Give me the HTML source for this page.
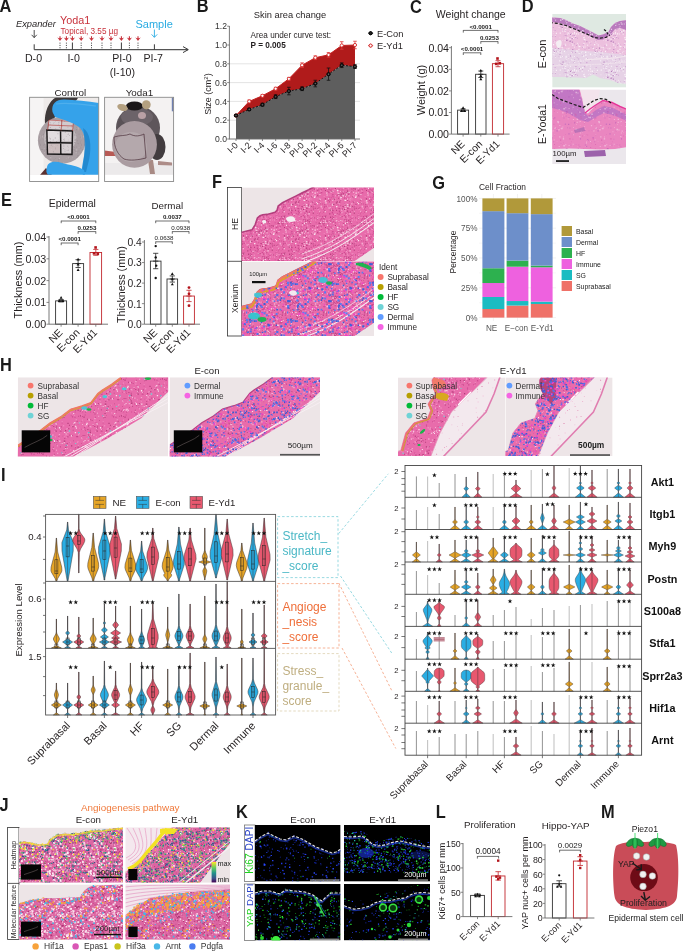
<!DOCTYPE html><html><head><meta charset="utf-8"><title>Figure</title><style>html,body{margin:0;padding:0;background:#fff;width:685px;height:952px;overflow:hidden;}svg{display:block;will-change:transform;font-family:"Liberation Sans", sans-serif;}</style></head><body><svg width="685" height="952" viewBox="0 0 685 952" font-family='"Liberation Sans", sans-serif'><defs><clipPath id="clipA1"><rect x="29.6" y="97.3" width="69.1" height="77.50000000000001"/></clipPath><clipPath id="cA1d"><polygon points="85.4,140.3 84.94,144.9 83.6,149.33 81.41,153.41 78.46,156.99 74.87,159.92 70.77,162.1 66.32,163.45 61.7,163.9 57.08,163.45 52.63,162.1 48.53,159.92 44.94,156.99 41.99,153.41 39.8,149.33 38.46,144.9 38,140.3 38.46,135.7 39.8,131.27 41.99,127.19 44.94,123.61 48.53,120.68 52.63,118.5 57.08,117.15 61.7,116.7 66.32,117.15 70.77,118.5 74.87,120.68 78.46,123.61 81.41,127.19 83.6,131.27 84.94,135.7"/></clipPath><pattern id="p0" patternUnits="userSpaceOnUse" x="0" y="0" width="41" height="37"><path fill="#d8d0d4" d="M16 29.2h0.8v0.8h-0.8zM6.7 29.8h1v1h-1zM31.1 0.1h1v1h-1zM24 0.4h1v1h-1zM18 10.1h1v1h-1zM11.4 15.6h0.6v0.6h-0.6zM23 9.9h1v1h-1zM26.4 32.8h0.6v0.6h-0.6zM39.4 13.7h0.7v0.7h-0.7zM28.3 0.7h0.9v0.9h-0.9zM22.2 14.5h1v1h-1zM11.7 12.1h0.6v0.6h-0.6zM22.8 19.5h0.7v0.7h-0.7zM36.8 18.4h0.9v0.9h-0.9zM8.8 19.2h0.6v0.6h-0.6zM34.8 1.6h1v1h-1zM24.4 5.1h0.6v0.6h-0.6zM24.8 10.4h0.7v0.7h-0.7zM12.8 33.9h1v1h-1zM22.5 21.5h0.5v0.5h-0.5zM8 33.2h1v1h-1zM1.1 24.7h1v1h-1zM30.6 33.1h0.6v0.6h-0.6zM29.6 28.8h0.8v0.8h-0.8zM24 29.9h0.5v0.5h-0.5zM27.7 8.4h0.6v0.6h-0.6zM22.4 16.7h0.9v0.9h-0.9zM8.5 31.8h1v1h-1zM6.5 31.8h0.8v0.8h-0.8zM35.4 0.8h0.9v0.9h-0.9zM31.3 9.5h0.8v0.8h-0.8zM1.3 15.3h0.7v0.7h-0.7zM17.5 26.2h0.9v0.9h-0.9zM33.3 30.1h1v1h-1zM21.8 16.5h1v1h-1zM9.3 9.2h1v1h-1zM22.6 18.8h0.6v0.6h-0.6zM19.6 31.7h0.6v0.6h-0.6zM34.7 23.3h0.6v0.6h-0.6zM37.5 36.5h0.9v0.9h-0.9zM23.5 29.1h0.9v0.9h-0.9zM40.4 24.6h0.8v0.8h-0.8zM36.6 16.3h0.9v0.9h-0.9zM34.7 4.3h1v1h-1zM2.8 -0.2h0.9v0.9h-0.9zM4.8 24.1h0.8v0.8h-0.8zM9.8 1.1h0.9v0.9h-0.9zM16.4 29.1h0.8v0.8h-0.8zM18.1 31.7h0.6v0.6h-0.6zM9.6 32.9h0.9v0.9h-0.9zM39.2 2.7h0.6v0.6h-0.6zM5.5 1.3h0.7v0.7h-0.7zM30.5 14.7h0.5v0.5h-0.5zM15.7 20.1h0.9v0.9h-0.9zM1.2 25.5h1v1h-1zM31.3 36.3h0.8v0.8h-0.8zM13.9 19.5h0.9v0.9h-0.9zM34.8 26.3h0.9v0.9h-0.9zM20 23h0.9v0.9h-0.9zM33.7 31.5h0.6v0.6h-0.6zM23.2 31.6h1v1h-1zM37.2 17.2h0.8v0.8h-0.8zM40.1 26.5h0.7v0.7h-0.7zM5.7 21.1h1v1h-1zM34.5 25.2h0.9v0.9h-0.9zM29.5 20.3h0.8v0.8h-0.8zM8.8 9.5h0.7v0.7h-0.7zM3.1 3.9h0.8v0.8h-0.8zM22.4 21h0.8v0.8h-0.8zM26.9 9.3h0.9v0.9h-0.9zM12.7 27.8h0.7v0.7h-0.7z"/><path fill="#7a6e74" d="M26.3 34.7h0.9v0.9h-0.9zM39.3 8.5h1v1h-1zM8.6 26.9h0.8v0.8h-0.8zM1.2 12.6h0.7v0.7h-0.7zM30.9 24.8h1v1h-1zM31.5 3.8h0.9v0.9h-0.9zM6.3 4.3h0.9v0.9h-0.9zM15.3 30.1h0.8v0.8h-0.8zM27 1.7h0.9v0.9h-0.9zM20.1 31h0.9v0.9h-0.9zM31.9 12.9h0.6v0.6h-0.6zM5 0.9h1v1h-1zM23.3 10.2h0.8v0.8h-0.8zM40.1 33.6h0.9v0.9h-0.9zM33.3 31.1h1v1h-1zM39.7 6.1h0.7v0.7h-0.7zM21.5 19.9h0.9v0.9h-0.9zM3.8 29.6h0.8v0.8h-0.8zM40 11.3h1v1h-1zM14.4 10.5h0.6v0.6h-0.6zM37.1 7.2h0.7v0.7h-0.7zM30 14.5h0.8v0.8h-0.8zM2.4 33.7h0.7v0.7h-0.7zM1.7 9.7h0.8v0.8h-0.8zM26 5h0.6v0.6h-0.6zM10 33.7h0.9v0.9h-0.9zM0.7 14h0.6v0.6h-0.6zM33.3 23.5h0.9v0.9h-0.9zM37.4 32.6h0.7v0.7h-0.7zM36.3 4.7h0.6v0.6h-0.6zM0.5 1h1v1h-1zM34.3 20.9h0.7v0.7h-0.7zM35.2 18.2h1v1h-1zM2.5 24.8h0.7v0.7h-0.7zM13.8 26.4h1v1h-1zM17.9 15.7h1v1h-1zM8.5 26.5h0.6v0.6h-0.6zM29.9 16h0.6v0.6h-0.6zM38.9 25.8h0.8v0.8h-0.8zM26.5 15.8h0.8v0.8h-0.8zM36.1 7.5h0.9v0.9h-0.9zM33.7 28.2h1v1h-1zM39.4 35.7h0.9v0.9h-0.9zM7.7 19.4h0.7v0.7h-0.7zM37.4 2.5h0.9v0.9h-0.9zM24.4 20.5h0.6v0.6h-0.6zM23.7 30.8h0.5v0.5h-0.5zM28.1 24.3h0.8v0.8h-0.8zM4 9.2h0.9v0.9h-0.9zM38.9 18.4h0.9v0.9h-0.9zM33.3 13.7h0.5v0.5h-0.5zM1.9 22.8h0.9v0.9h-0.9zM27.3 28.7h0.6v0.6h-0.6zM8.9 29.9h1v1h-1zM1.2 13.3h0.6v0.6h-0.6zM4.7 29.6h0.9v0.9h-0.9zM28.2 10.6h0.5v0.5h-0.5zM17.3 11.3h1v1h-1zM32.6 0.9h0.9v0.9h-0.9zM22.1 -0h0.8v0.8h-0.8zM37.6 22.7h0.8v0.8h-0.8zM27.9 31h0.8v0.8h-0.8zM39.3 30.6h0.6v0.6h-0.6zM29.7 27h0.6v0.6h-0.6zM13.6 6h0.7v0.7h-0.7zM5.8 25.2h1v1h-1zM29.6 19.3h0.9v0.9h-0.9zM32.4 35.3h0.6v0.6h-0.6zM3.9 26.7h0.9v0.9h-0.9zM35.7 9h0.8v0.8h-0.8zM14.2 0.5h0.8v0.8h-0.8zM6.4 5.9h0.7v0.7h-0.7zM23.8 20.9h0.9v0.9h-0.9zM6 33h0.8v0.8h-0.8zM17.1 28.7h0.6v0.6h-0.6zM33.5 2.3h0.8v0.8h-0.8zM39.4 14.5h0.9v0.9h-0.9zM22.4 34.6h0.9v0.9h-0.9zM28.7 19h0.8v0.8h-0.8z"/><path fill="#8a7f84" d="M32.9 36.3h0.9v0.9h-0.9zM34.2 11h0.9v0.9h-0.9zM11.3 35.4h0.6v0.6h-0.6zM11.7 28.6h1v1h-1zM20.6 14.8h1v1h-1zM31.7 10h0.6v0.6h-0.6zM1.1 8.3h0.7v0.7h-0.7zM39.6 32.1h0.7v0.7h-0.7zM30.3 29.1h0.6v0.6h-0.6zM38.8 31.6h0.7v0.7h-0.7zM3.8 1.4h0.8v0.8h-0.8zM6.4 17.4h0.6v0.6h-0.6zM35.8 29.3h1v1h-1zM12.1 11.7h0.8v0.8h-0.8zM23.5 1.4h0.9v0.9h-0.9zM11.9 3.2h1v1h-1zM4.8 25.9h0.7v0.7h-0.7zM27.4 36.5h0.5v0.5h-0.5zM23.3 27.5h0.6v0.6h-0.6zM26.5 23.3h0.7v0.7h-0.7zM8.8 10.9h0.8v0.8h-0.8zM23.6 2.9h0.8v0.8h-0.8zM36.4 31.7h1v1h-1zM36.2 3.1h0.6v0.6h-0.6zM24.9 25.1h0.6v0.6h-0.6zM16.4 22.2h1v1h-1zM5.4 29.5h0.8v0.8h-0.8zM1.4 19.1h0.7v0.7h-0.7zM5.8 31.3h0.8v0.8h-0.8zM8.9 15.9h1v1h-1zM22.1 27.9h0.9v0.9h-0.9zM10.4 18.8h0.8v0.8h-0.8zM37.7 10.6h0.8v0.8h-0.8zM35.1 9.2h1v1h-1zM34.8 35.6h1v1h-1zM5 29.2h0.6v0.6h-0.6zM29.8 5.5h0.7v0.7h-0.7zM8.8 34.5h0.6v0.6h-0.6zM33.6 29.2h0.8v0.8h-0.8zM39.4 -0.2h0.9v0.9h-0.9zM7.5 5h0.9v0.9h-0.9zM9.3 8.1h0.6v0.6h-0.6zM13.4 11.5h0.6v0.6h-0.6zM22.1 6.1h0.9v0.9h-0.9zM3.1 2.5h0.8v0.8h-0.8zM27.1 22.6h0.8v0.8h-0.8zM35.3 16h0.8v0.8h-0.8zM14.4 17h0.7v0.7h-0.7zM20.3 29.1h0.7v0.7h-0.7zM17.4 13h0.7v0.7h-0.7zM22.9 28.6h1v1h-1zM31.1 24.5h0.8v0.8h-0.8zM1.9 28.4h0.9v0.9h-0.9zM38.3 13.9h0.5v0.5h-0.5zM8.6 35.9h0.5v0.5h-0.5zM39.6 28.8h0.8v0.8h-0.8zM19.8 1.2h0.6v0.6h-0.6zM34.4 13.2h1v1h-1zM-0 24.2h0.5v0.5h-0.5zM34 3.2h0.7v0.7h-0.7zM21.4 7.4h0.9v0.9h-0.9zM3.4 33h1v1h-1zM14.4 36.5h0.6v0.6h-0.6zM1.1 8.1h0.9v0.9h-0.9zM9 27.4h1v1h-1zM21.9 33h0.5v0.5h-0.5zM8.8 12.7h0.9v0.9h-0.9zM6.4 34.5h0.8v0.8h-0.8zM16 34.2h0.5v0.5h-0.5zM5 18.9h0.6v0.6h-0.6zM25.7 2.3h0.8v0.8h-0.8z"/></pattern><clipPath id="clipA2"><rect x="104.6" y="97.3" width="69.0" height="77.50000000000001"/></clipPath><clipPath id="cD1"><rect x="552.2" y="14" width="73.8" height="73.6"/></clipPath><clipPath id="cD1t"><polygon points="552,17.5 560,18 566,20 573,23.4 580,26 588,30 594,33 598.4,35.5 603,34.5 608.5,32 611,27 615,23 620,21 627,20 627,84 618,83 610,80 600,78 593,74.5 586,78 575,77.5 562,77 552,77"/></clipPath><pattern id="p1" patternUnits="userSpaceOnUse" x="0" y="0" width="41" height="37"><path fill="#c890cc" d="M5 30.8h1.1v1.1h-1.1zM37.3 3.2h1v1h-1zM16.5 5.9h0.9v0.9h-0.9zM7.8 18.2h0.9v0.9h-0.9zM3.2 0.4h0.5v0.5h-0.5zM9.7 3.6h1v1h-1zM26.6 23.6h0.7v0.7h-0.7zM20 3.9h0.7v0.7h-0.7zM32.5 24h0.8v0.8h-0.8zM0.3 22.3h0.8v0.8h-0.8zM10.5 11.9h0.9v0.9h-0.9zM2.7 19.9h0.9v0.9h-0.9zM18.2 9.7h1.1v1.1h-1.1zM10.1 17.4h0.5v0.5h-0.5zM1 -0.3h1.3v1.3h-1.3zM5.6 33.5h0.5v0.5h-0.5zM37.8 23.3h0.6v0.6h-0.6zM13.3 22.1h1.1v1.1h-1.1zM12.2 25h1.2v1.2h-1.2zM38.1 33h0.8v0.8h-0.8zM0.9 35.7h0.6v0.6h-0.6zM8 10.1h0.9v0.9h-0.9zM16.1 26.9h1.3v1.3h-1.3zM19.7 27.1h1v1h-1zM35.5 19.9h0.6v0.6h-0.6zM12.2 19.2h0.6v0.6h-0.6zM31.5 32.7h0.8v0.8h-0.8zM30.3 8.4h1.1v1.1h-1.1zM32.9 35.2h1v1h-1zM30.5 35.7h0.6v0.6h-0.6zM18.7 21.1h0.6v0.6h-0.6zM1.3 28.9h1.2v1.2h-1.2zM2.3 30.9h0.5v0.5h-0.5zM26.7 13.9h1v1h-1zM0.8 19.1h0.5v0.5h-0.5zM3.1 0.9h0.8v0.8h-0.8zM12.5 10.7h0.7v0.7h-0.7zM5.7 33.5h0.7v0.7h-0.7zM28.4 27.2h0.8v0.8h-0.8zM29.1 29.5h1.3v1.3h-1.3zM21.7 30h0.9v0.9h-0.9zM16.4 23h0.7v0.7h-0.7zM33.1 13.3h0.5v0.5h-0.5zM38.3 14.6h1.3v1.3h-1.3zM3.7 27.5h1.1v1.1h-1.1zM5.8 15h0.7v0.7h-0.7zM28.2 19.5h0.5v0.5h-0.5zM8.8 6.9h0.9v0.9h-0.9z"/><path fill="#ffffff" d="M4.4 27.7h0.9v0.9h-0.9zM32.1 3.2h0.5v0.5h-0.5zM17.5 28h0.4v0.4h-0.4zM36.7 0.9h0.5v0.5h-0.5zM-0.1 32.1h1v1h-1zM29.2 19h1.1v1.1h-1.1zM22.2 12.3h1v1h-1zM38.6 33.9h0.8v0.8h-0.8zM4.4 11.8h1.1v1.1h-1.1zM11.8 21.1h1.2v1.2h-1.2zM15.7 31.1h0.9v0.9h-0.9zM18.7 10.8h1.2v1.2h-1.2zM24 14.3h0.6v0.6h-0.6zM9 0.1h0.6v0.6h-0.6zM8.9 18.4h1.3v1.3h-1.3zM14 33.2h1v1h-1zM38.7 -0.4h1.1v1.1h-1.1zM32.7 18.7h0.9v0.9h-0.9zM38.6 17.4h0.8v0.8h-0.8zM16.5 -0.4h0.9v0.9h-0.9zM22.3 6.4h0.5v0.5h-0.5zM17 6.7h0.5v0.5h-0.5zM39.5 22.8h1v1h-1zM8.8 23.6h0.8v0.8h-0.8zM23.6 7.4h1.2v1.2h-1.2zM6.4 31.5h1.3v1.3h-1.3zM23 32.7h1v1h-1zM3.9 24.3h0.7v0.7h-0.7zM0.4 7.1h0.7v0.7h-0.7zM34 34.1h0.7v0.7h-0.7zM14.7 12.2h0.7v0.7h-0.7zM31.5 26h0.9v0.9h-0.9zM13.4 22.2h1.1v1.1h-1.1zM33.6 28.9h0.6v0.6h-0.6zM6.1 30.9h0.8v0.8h-0.8zM32.5 19.5h1.2v1.2h-1.2zM29.4 11.5h0.8v0.8h-0.8zM1.9 33.2h1.3v1.3h-1.3zM4.1 7.5h1v1h-1zM26.1 23.2h1.3v1.3h-1.3zM39.3 1.2h0.6v0.6h-0.6zM36.3 10.8h0.7v0.7h-0.7zM0.6 8.8h0.5v0.5h-0.5zM3.8 28.4h0.7v0.7h-0.7zM33.4 11.6h0.5v0.5h-0.5zM33.1 22.6h1v1h-1zM9.7 1.7h1.3v1.3h-1.3zM21.9 19.4h1.2v1.2h-1.2zM0.2 30.6h0.6v0.6h-0.6zM0.6 23.5h0.8v0.8h-0.8zM0.3 25.1h0.9v0.9h-0.9zM4.5 9h1.2v1.2h-1.2zM22.9 6.1h0.5v0.5h-0.5zM-0.1 19.1h0.9v0.9h-0.9zM20 17.4h0.6v0.6h-0.6zM39.2 7.5h1.2v1.2h-1.2zM34.5 32.5h1.3v1.3h-1.3zM15.1 5.4h0.8v0.8h-0.8zM29.1 28.5h0.9v0.9h-0.9zM17.6 33.6h1.3v1.3h-1.3zM26.7 9.9h0.8v0.8h-0.8zM12.2 27.4h1.2v1.2h-1.2zM31.8 29.3h1.3v1.3h-1.3zM2.5 13.3h1.1v1.1h-1.1zM4.7 26.2h0.7v0.7h-0.7zM15.9 28.5h1v1h-1zM4.3 33.6h0.8v0.8h-0.8zM-0.3 9.8h1v1h-1zM7.7 33.7h1v1h-1zM14.3 -0.3h0.8v0.8h-0.8zM25.3 14.6h1v1h-1zM31.5 30.8h1.1v1.1h-1.1zM-0.2 33.2h1.1v1.1h-1.1zM19.6 17h0.5v0.5h-0.5zM27.8 14.4h1v1h-1zM10.4 2.2h1.2v1.2h-1.2zM6.4 23.6h1.1v1.1h-1.1zM10.7 22.2h0.6v0.6h-0.6zM16.1 17.6h0.7v0.7h-0.7zM34 0.5h1.2v1.2h-1.2zM36.2 7.8h0.5v0.5h-0.5zM3.5 14.4h0.9v0.9h-0.9zM32.2 0.7h0.8v0.8h-0.8zM2.1 13.8h0.6v0.6h-0.6zM26.5 11h0.5v0.5h-0.5zM31.7 15.7h0.6v0.6h-0.6zM26.1 8.7h0.5v0.5h-0.5zM6.7 15.3h1v1h-1zM39.3 33h0.9v0.9h-0.9zM39.9 1h0.9v0.9h-0.9zM26.7 32.6h1.1v1.1h-1.1zM20 7h1.2v1.2h-1.2zM4.9 29.7h0.9v0.9h-0.9zM29 30.4h1.1v1.1h-1.1zM7.8 14h0.7v0.7h-0.7zM13.9 21h0.5v0.5h-0.5zM23.2 16.4h0.7v0.7h-0.7zM37.5 29.4h0.6v0.6h-0.6zM15.9 16.5h1.3v1.3h-1.3zM22.8 33.3h0.6v0.6h-0.6zM37.9 22.4h1.1v1.1h-1.1zM32 7.5h1.2v1.2h-1.2zM35 0.4h0.8v0.8h-0.8zM28.5 9.9h1.2v1.2h-1.2zM19.9 32.9h0.6v0.6h-0.6zM27.1 19.5h1.3v1.3h-1.3zM16.2 -0.1h0.9v0.9h-0.9zM20.7 17.6h0.8v0.8h-0.8zM32.4 21.4h0.5v0.5h-0.5zM39.3 19.6h0.9v0.9h-0.9zM11 14.6h1.3v1.3h-1.3zM10 -0h0.8v0.8h-0.8zM36.3 33.6h1.2v1.2h-1.2zM10.5 9.5h1.1v1.1h-1.1zM30.9 13.8h1.1v1.1h-1.1zM29.9 25.2h0.8v0.8h-0.8zM8.2 30.1h1.3v1.3h-1.3zM9.1 0.6h0.7v0.7h-0.7zM32 24.8h0.5v0.5h-0.5zM4.6 16h1v1h-1zM20.7 14.8h1.2v1.2h-1.2zM11.2 17.6h1.2v1.2h-1.2zM36.9 28.7h1v1h-1zM37.6 35.5h0.7v0.7h-0.7zM8.8 9.6h1.1v1.1h-1.1zM5.7 9.1h0.8v0.8h-0.8zM36.5 1.6h1.2v1.2h-1.2zM10.6 7.6h0.8v0.8h-0.8zM9.4 6h1.1v1.1h-1.1zM36.1 25.5h0.6v0.6h-0.6z"/><path fill="#a868b0" d="M10.4 29.2h1v1h-1zM20.9 14.1h0.9v0.9h-0.9zM32.4 29.9h0.7v0.7h-0.7zM39.6 35.3h0.8v0.8h-0.8zM4.9 7.6h0.5v0.5h-0.5zM16.8 9.1h0.4v0.4h-0.4zM31.8 12.2h0.6v0.6h-0.6zM19.5 36.1h0.6v0.6h-0.6zM22.4 3.6h0.5v0.5h-0.5zM14.5 10.5h0.9v0.9h-0.9zM0.2 24.5h0.5v0.5h-0.5zM21.9 11h0.7v0.7h-0.7zM33.1 2.8h1.1v1.1h-1.1zM35.3 26.8h0.5v0.5h-0.5zM6.4 25.5h0.8v0.8h-0.8zM21.9 36.3h0.9v0.9h-0.9zM32.8 22.9h0.7v0.7h-0.7zM38.8 4.6h1.1v1.1h-1.1zM4.5 21.8h0.8v0.8h-0.8zM-0.2 6.6h0.8v0.8h-0.8zM23 13.8h0.7v0.7h-0.7zM36.6 0.4h0.9v0.9h-0.9zM20.2 12.8h0.9v0.9h-0.9zM39.3 11.9h1v1h-1zM3.8 21.6h0.5v0.5h-0.5zM26.5 16.9h0.9v0.9h-0.9zM2.4 8.1h0.7v0.7h-0.7zM38.6 1.1h1.1v1.1h-1.1zM12.9 21.3h1.2v1.2h-1.2zM7.8 32.2h0.8v0.8h-0.8zM28.7 27h1.1v1.1h-1.1zM34.8 31.3h0.5v0.5h-0.5zM37 18.5h0.9v0.9h-0.9zM12.3 4.2h1.1v1.1h-1.1zM31.7 34.9h0.9v0.9h-0.9zM30.5 19h0.4v0.4h-0.4zM36.8 33.7h1.3v1.3h-1.3zM27.6 26.1h0.6v0.6h-0.6zM25.7 19.2h0.5v0.5h-0.5zM-0.3 35h1v1h-1zM1.1 15.2h0.7v0.7h-0.7zM33.7 2.8h1v1h-1zM22.2 19.4h0.7v0.7h-0.7zM29.5 24.5h1.2v1.2h-1.2zM40.5 25h0.6v0.6h-0.6zM36.5 3.7h1.2v1.2h-1.2zM25 10.5h1.2v1.2h-1.2zM33.7 1.6h0.6v0.6h-0.6z"/><path fill="#f8e8f2" d="M37.8 15h1.2v1.2h-1.2zM3.3 24.3h0.5v0.5h-0.5zM13 21.6h1.1v1.1h-1.1zM11.6 5.9h0.7v0.7h-0.7zM9 14.5h0.5v0.5h-0.5zM17.9 18.3h0.8v0.8h-0.8zM34.6 10.9h1.3v1.3h-1.3zM20.5 13.6h0.7v0.7h-0.7zM2.9 5.7h1.2v1.2h-1.2zM15.3 36.4h0.6v0.6h-0.6zM17 4h0.6v0.6h-0.6zM35.2 17h0.7v0.7h-0.7zM24.8 29.6h0.5v0.5h-0.5zM11.5 28.9h0.9v0.9h-0.9zM38.4 5.9h1.1v1.1h-1.1zM33.9 22h0.5v0.5h-0.5zM33.9 27.1h1v1h-1zM12 19.6h0.5v0.5h-0.5zM26 13.2h0.9v0.9h-0.9zM29 12.4h0.9v0.9h-0.9zM17.5 22.6h0.9v0.9h-0.9zM14.4 15.3h0.5v0.5h-0.5zM21.8 35.2h1.1v1.1h-1.1zM28.3 16.1h1v1h-1zM26.5 0.3h0.9v0.9h-0.9zM12.9 7.6h1.3v1.3h-1.3zM15.9 33.7h1.3v1.3h-1.3zM31.7 6.5h1v1h-1zM35.2 21h0.9v0.9h-0.9zM24.4 9.2h0.9v0.9h-0.9zM26.7 9.7h1v1h-1zM36.1 31h0.7v0.7h-0.7zM15.8 32h1.1v1.1h-1.1zM25.6 27h1v1h-1zM10 35.8h0.6v0.6h-0.6zM34.7 10.8h0.8v0.8h-0.8zM0.6 35.6h1.3v1.3h-1.3zM19.9 31.2h0.7v0.7h-0.7zM20.5 0.7h0.7v0.7h-0.7zM5.1 16.2h0.6v0.6h-0.6zM14.3 15.1h0.5v0.5h-0.5zM29.1 3.1h0.6v0.6h-0.6zM31.3 3.2h1v1h-1zM5.6 22.2h1.1v1.1h-1.1zM21.1 4.4h1.1v1.1h-1.1zM12.6 17.9h0.7v0.7h-0.7z"/></pattern><clipPath id="cD2"><rect x="552.2" y="89.6" width="73.8" height="74.4"/></clipPath><clipPath id="cD2t"><polygon points="552,89.6 580,89.6 583,100 585,112.5 588,113.5 595,106 603,101 612,103 620,107 627,110 627,147 615,149 600,149.5 585,149 570,148.5 552,149"/></clipPath><pattern id="p2" patternUnits="userSpaceOnUse" x="0" y="0" width="41" height="37"><path fill="#f9c8e2" d="M39 34.8h0.5v0.5h-0.5zM22 16.1h0.7v0.7h-0.7zM12.3 7.2h0.9v0.9h-0.9zM40.4 3.4h1v1h-1zM10.6 7.7h1.3v1.3h-1.3zM38 1.6h1.3v1.3h-1.3zM2 13h0.7v0.7h-0.7zM3.2 35.1h0.5v0.5h-0.5zM5.8 1h0.8v0.8h-0.8zM11.4 17.7h0.7v0.7h-0.7zM26.1 25.2h1.4v1.4h-1.4zM25.3 18.1h1.4v1.4h-1.4zM10 15.2h0.9v0.9h-0.9zM5.9 13.9h0.6v0.6h-0.6zM29.4 15.6h0.9v0.9h-0.9zM35.6 33.9h1v1h-1zM27 17.5h0.5v0.5h-0.5zM12.2 31.9h0.8v0.8h-0.8zM12 30.6h1.1v1.1h-1.1zM29 4.8h0.8v0.8h-0.8zM25.7 35h1.1v1.1h-1.1zM5.9 21.6h1v1h-1zM6.6 19.6h1.2v1.2h-1.2zM32.2 33.2h1.1v1.1h-1.1zM5.9 10h0.9v0.9h-0.9zM19.2 19.3h1.3v1.3h-1.3zM26.2 13.9h1.2v1.2h-1.2zM38.5 20.3h0.9v0.9h-0.9zM29.2 1.1h1.3v1.3h-1.3zM31.5 4.4h0.9v0.9h-0.9zM24.8 11.1h1.2v1.2h-1.2zM2.6 10.7h1.2v1.2h-1.2zM10 24.4h0.6v0.6h-0.6zM5.2 0.6h1.1v1.1h-1.1zM16.9 14.1h1.2v1.2h-1.2zM39.9 7.9h1.1v1.1h-1.1zM15.8 1.2h0.6v0.6h-0.6zM30 25.6h0.9v0.9h-0.9zM24.2 1.1h0.6v0.6h-0.6zM5.1 25h1.3v1.3h-1.3z"/><path fill="#f6e0ec" d="M14.2 5.6h1.2v1.2h-1.2zM40.4 23h1.2v1.2h-1.2zM40.4 16.1h0.8v0.8h-0.8zM18.8 7.8h1.1v1.1h-1.1zM20.8 28.4h0.9v0.9h-0.9zM40.3 8.2h0.9v0.9h-0.9zM2.7 7.8h1.2v1.2h-1.2zM24.3 10h1.4v1.4h-1.4zM8.3 21.5h0.5v0.5h-0.5zM9.9 4h1v1h-1zM11.6 35.2h0.6v0.6h-0.6zM23.8 30h0.5v0.5h-0.5zM4.9 10.6h0.7v0.7h-0.7zM3.4 18.5h1.1v1.1h-1.1zM28.2 16.8h1.4v1.4h-1.4zM30.4 34h1.4v1.4h-1.4zM1.5 17.8h1.4v1.4h-1.4zM10.2 11.2h0.8v0.8h-0.8zM34.7 7.5h0.8v0.8h-0.8zM18.3 5.7h0.9v0.9h-0.9zM16 30.1h0.8v0.8h-0.8zM29.8 27.2h1.3v1.3h-1.3zM21.6 23.3h0.5v0.5h-0.5zM15.5 5.8h1.4v1.4h-1.4zM17.4 2.6h1.3v1.3h-1.3zM39.2 4.5h0.5v0.5h-0.5zM21.5 16.7h1.3v1.3h-1.3zM31.9 12h0.6v0.6h-0.6zM1.8 20h0.4v0.4h-0.4zM39.7 32.8h0.9v0.9h-0.9z"/><path fill="#d45aa8" d="M10.1 7.6h0.5v0.5h-0.5zM17.1 32.4h0.6v0.6h-0.6zM9.3 0.5h0.8v0.8h-0.8zM20.5 12.8h0.9v0.9h-0.9zM19.6 7.8h0.7v0.7h-0.7zM31.9 12.4h0.4v0.4h-0.4zM30.6 4.7h0.7v0.7h-0.7zM14.6 4.1h1.3v1.3h-1.3zM20.9 -0.4h1v1h-1zM36.3 27.3h1.3v1.3h-1.3zM33.8 0.3h1.2v1.2h-1.2zM9.6 3.4h0.6v0.6h-0.6zM12.4 23.4h0.6v0.6h-0.6zM0.4 10.7h1.1v1.1h-1.1zM37.9 30.6h0.7v0.7h-0.7zM6.3 5.2h1.3v1.3h-1.3zM16 36.2h1.2v1.2h-1.2zM29 33.5h0.5v0.5h-0.5zM21 33.1h0.9v0.9h-0.9zM36.9 32.5h0.5v0.5h-0.5zM19.5 18.7h0.6v0.6h-0.6zM0.5 2.4h1.2v1.2h-1.2zM27 28.5h1.3v1.3h-1.3zM7.9 24.6h0.9v0.9h-0.9zM20.3 7.3h1v1h-1zM32.3 22.9h0.7v0.7h-0.7zM18.3 4.4h1.1v1.1h-1.1zM37.8 11.8h0.5v0.5h-0.5zM18.6 27.2h1.3v1.3h-1.3zM12.7 34h0.5v0.5h-0.5zM9.9 12.3h0.7v0.7h-0.7zM1.2 3.3h1.4v1.4h-1.4zM4.4 33.6h0.9v0.9h-0.9zM13.4 23.6h0.8v0.8h-0.8zM20.7 30.5h0.6v0.6h-0.6zM6.7 7.1h0.8v0.8h-0.8zM0.9 20.1h0.6v0.6h-0.6zM29.9 31.5h0.7v0.7h-0.7z"/><path fill="#b25ab8" d="M35 12.8h1.3v1.3h-1.3zM31.7 12.4h1.4v1.4h-1.4zM6 27.3h1.1v1.1h-1.1zM26.5 8.9h0.7v0.7h-0.7zM20.1 30.4h0.8v0.8h-0.8zM36.4 16.6h1v1h-1zM35.4 22.2h1.2v1.2h-1.2zM12.1 34.9h1.1v1.1h-1.1zM5.6 35.2h0.7v0.7h-0.7zM10.1 4.6h0.6v0.6h-0.6zM3.8 0.4h1.1v1.1h-1.1zM32.8 1.7h1.1v1.1h-1.1zM30.5 6.6h1v1h-1zM25.1 17.2h0.5v0.5h-0.5zM10.6 19h0.9v0.9h-0.9zM17.7 19.1h0.5v0.5h-0.5zM18.5 26h1.2v1.2h-1.2zM35.7 6.2h0.9v0.9h-0.9zM10.7 8.8h1.1v1.1h-1.1zM21.2 6.3h1.2v1.2h-1.2zM39.8 23.3h0.4v0.4h-0.4zM32.8 -0h1.3v1.3h-1.3zM10.8 33.6h1v1h-1zM32.5 4.6h1v1h-1zM39.5 27.7h0.8v0.8h-0.8zM21.6 24.5h0.5v0.5h-0.5zM37.5 33.7h0.9v0.9h-0.9zM14.6 19.5h0.8v0.8h-0.8zM38.7 3.5h1.2v1.2h-1.2zM14.3 29.1h0.7v0.7h-0.7zM6.2 2.2h1.3v1.3h-1.3zM-0.3 11.2h1.2v1.2h-1.2zM35.1 6.3h0.5v0.5h-0.5zM13.3 27.9h1v1h-1zM8.8 1.4h1.2v1.2h-1.2zM23.4 19.2h1.4v1.4h-1.4zM34.1 16.4h0.8v0.8h-0.8zM5.8 24.5h0.5v0.5h-0.5zM1.7 32.9h0.7v0.7h-0.7zM27.7 32.1h0.6v0.6h-0.6zM-0.3 19.6h0.7v0.7h-0.7zM8.4 1.6h0.6v0.6h-0.6zM22.7 17.1h0.7v0.7h-0.7z"/></pattern><clipPath id="cF1"><rect x="241.6" y="187.4" width="132.4" height="73.7"/></clipPath><clipPath id="cF1t"><polygon points="240.6,262.1 241,232.6 246,231.3 252,229.8 255.2,224.6 257.4,218 260,215.6 262.8,214.8 267,214.4 271.6,213.2 275,212.3 277,210.4 278.2,206 282.5,202.7 289,199.4 295.7,196.1 302.3,192.8 308.8,189.6 313.2,187 316,185.8 375,186.4 375,247.1 353,262.1"/></clipPath><pattern id="p3" patternUnits="userSpaceOnUse" x="0" y="0" width="41" height="37"><path fill="#f590c4" d="M9.3 19.7h0.9v0.9h-0.9zM30.1 24.5h0.7v0.7h-0.7zM31.8 15.2h1.1v1.1h-1.1zM17.5 22.8h0.8v0.8h-0.8zM28.1 11.6h1v1h-1zM23 26h0.8v0.8h-0.8zM15 31.7h0.9v0.9h-0.9zM27.3 3.1h1.3v1.3h-1.3zM24.5 9.8h1v1h-1zM14.5 11.1h0.9v0.9h-0.9zM39.5 24.9h0.7v0.7h-0.7zM27.5 23.7h0.7v0.7h-0.7zM13.6 30.3h0.7v0.7h-0.7zM18.6 23.1h0.8v0.8h-0.8zM19 30.3h1v1h-1zM20.3 8.5h0.6v0.6h-0.6zM1.6 9.6h0.8v0.8h-0.8zM31.5 13.5h1.2v1.2h-1.2zM4 11.3h1v1h-1zM9.5 6.3h0.8v0.8h-0.8zM28.3 34.5h0.8v0.8h-0.8zM39.1 14.9h1v1h-1zM18.6 30.3h1.2v1.2h-1.2zM28.6 3.6h0.7v0.7h-0.7zM29.9 29.6h1.1v1.1h-1.1zM24.3 31.2h1.2v1.2h-1.2zM36.1 34.7h0.9v0.9h-0.9zM36.7 11h1v1h-1zM31.1 24h1v1h-1zM27.9 4.4h1.2v1.2h-1.2zM6 17.8h1.1v1.1h-1.1zM21.6 5.6h0.6v0.6h-0.6zM7.1 14.8h1v1h-1zM33.9 31.5h0.9v0.9h-0.9zM20.3 33.1h0.8v0.8h-0.8zM21.3 14.9h1.3v1.3h-1.3zM14.1 35.3h0.9v0.9h-0.9zM1.2 36.5h0.7v0.7h-0.7zM30.3 31.2h1.3v1.3h-1.3zM9.1 7.1h0.7v0.7h-0.7zM10.6 17.5h0.8v0.8h-0.8zM5.5 4.3h0.9v0.9h-0.9zM13.6 27.1h1.2v1.2h-1.2zM21.5 30.4h0.8v0.8h-0.8zM6 4.1h0.9v0.9h-0.9zM18.6 21.1h0.8v0.8h-0.8zM39.7 10.6h0.7v0.7h-0.7zM19 19.1h1.2v1.2h-1.2zM14.7 23.5h1.2v1.2h-1.2zM26.3 35.1h0.6v0.6h-0.6zM0.6 34.1h1v1h-1zM33.4 6.1h1.2v1.2h-1.2zM15.8 12.3h0.9v0.9h-0.9zM8.9 20.8h0.9v0.9h-0.9zM7.1 3.4h0.9v0.9h-0.9zM28.1 7.4h1.1v1.1h-1.1zM9 24.8h1v1h-1zM7.8 2.9h1.1v1.1h-1.1zM26.2 33.7h0.9v0.9h-0.9zM29.7 12.5h0.9v0.9h-0.9zM22.1 13h1.1v1.1h-1.1zM25.9 9h1.1v1.1h-1.1zM28.3 6h0.6v0.6h-0.6zM6 14.1h0.9v0.9h-0.9zM18.1 18.4h1.1v1.1h-1.1zM15.3 32.8h0.8v0.8h-0.8zM19.9 3.1h1.3v1.3h-1.3zM13.4 1.8h0.8v0.8h-0.8zM24.8 17.2h0.7v0.7h-0.7z"/><path fill="#ffffff" d="M18.9 21h1v1h-1zM10 8h1.3v1.3h-1.3zM8.9 5h1.3v1.3h-1.3zM33.7 20.7h1v1h-1zM40 2.7h1.2v1.2h-1.2zM36.3 0.3h0.9v0.9h-0.9zM3.8 19.2h1.3v1.3h-1.3zM12.2 34.9h1.2v1.2h-1.2zM12.6 11.8h1.2v1.2h-1.2zM20.4 6.7h1.2v1.2h-1.2zM33.2 -0.2h1.1v1.1h-1.1zM29 17.1h0.8v0.8h-0.8zM1.5 3.1h0.7v0.7h-0.7zM16.1 32.5h0.7v0.7h-0.7zM30.2 33.4h1v1h-1zM21.5 28.3h1.1v1.1h-1.1zM0.8 36.4h0.7v0.7h-0.7zM8 21h1.3v1.3h-1.3zM27.2 19.5h0.7v0.7h-0.7zM5.5 13.1h1.3v1.3h-1.3zM10.8 1.6h0.7v0.7h-0.7zM14.6 10.2h1.2v1.2h-1.2zM27.5 10.5h1.2v1.2h-1.2zM1 18h1.1v1.1h-1.1zM0.6 22.4h1v1h-1zM32.5 9.1h0.9v0.9h-0.9zM36.9 32.3h0.8v0.8h-0.8zM7.8 35.6h0.9v0.9h-0.9zM14.1 6.2h1.2v1.2h-1.2zM2 22.3h0.6v0.6h-0.6zM39.2 7.6h1v1h-1zM7.8 32.7h0.7v0.7h-0.7zM38.4 17.3h1.2v1.2h-1.2zM38 15.3h1.3v1.3h-1.3zM38.3 -0.6h1.3v1.3h-1.3zM1.1 6.5h0.6v0.6h-0.6zM17.9 9.1h1.1v1.1h-1.1zM16.8 9.3h0.6v0.6h-0.6zM9.6 4.4h1.1v1.1h-1.1zM17.5 2.5h0.6v0.6h-0.6zM12.2 12.3h1.1v1.1h-1.1zM16.5 14.7h1.2v1.2h-1.2zM38.1 35.5h1.1v1.1h-1.1zM5.5 33.1h0.7v0.7h-0.7zM21.6 13.8h0.7v0.7h-0.7zM39.7 8.7h0.9v0.9h-0.9zM0.1 13.3h0.9v0.9h-0.9zM4.2 5.8h1.2v1.2h-1.2zM17.2 22.7h1.1v1.1h-1.1zM2.2 -0.1h0.9v0.9h-0.9zM29.9 7.2h0.7v0.7h-0.7zM33.7 1.7h0.9v0.9h-0.9zM12.1 6h0.7v0.7h-0.7zM21.6 21.6h1.1v1.1h-1.1zM14.9 2.4h1v1h-1zM19.7 21h0.8v0.8h-0.8zM27.5 7.6h1.2v1.2h-1.2zM19 19.3h1.2v1.2h-1.2zM7.1 10.6h0.7v0.7h-0.7zM19.5 19.6h0.9v0.9h-0.9zM4.5 20.1h0.7v0.7h-0.7zM4.3 34.6h0.9v0.9h-0.9zM33.6 4.9h0.6v0.6h-0.6zM10.6 18.4h0.9v0.9h-0.9zM30 18.1h1.1v1.1h-1.1zM8.6 35h0.7v0.7h-0.7zM32.3 13.8h1.2v1.2h-1.2zM37.8 26.2h1.1v1.1h-1.1zM17.2 11.1h0.7v0.7h-0.7zM18.9 -0.4h1.1v1.1h-1.1zM11.9 31.1h1v1h-1zM2.2 24.4h1.3v1.3h-1.3zM26.8 11.7h1.2v1.2h-1.2zM17.2 15.1h1v1h-1zM17.1 0.9h1.1v1.1h-1.1zM26 26.6h0.7v0.7h-0.7zM19.1 13.5h1v1h-1zM39.7 10.1h0.7v0.7h-0.7zM18.1 8.8h1v1h-1z"/><path fill="#f8c0dc" d="M21.7 19.9h0.9v0.9h-0.9zM34.6 36.1h1.1v1.1h-1.1zM25.2 10.5h1v1h-1zM8.7 29.4h0.8v0.8h-0.8zM26.2 32.3h0.9v0.9h-0.9zM17.2 34.5h1.3v1.3h-1.3zM20.9 10.3h0.9v0.9h-0.9zM23.1 -0.1h1.1v1.1h-1.1zM6.4 28.7h1.3v1.3h-1.3zM10.4 36.1h0.9v0.9h-0.9zM40.4 20.4h1v1h-1zM23.7 31.4h0.7v0.7h-0.7zM23.8 21h1.3v1.3h-1.3zM12 9.3h1.2v1.2h-1.2zM6.6 12.9h0.8v0.8h-0.8zM16.6 25.3h1.1v1.1h-1.1zM31.8 32.3h0.6v0.6h-0.6zM38.9 31.2h0.8v0.8h-0.8zM26.1 16.5h0.8v0.8h-0.8zM25 6.8h1.2v1.2h-1.2zM4 9.9h1.1v1.1h-1.1zM40.6 7.3h0.7v0.7h-0.7zM18.6 27.6h0.9v0.9h-0.9zM13.1 24.5h1.3v1.3h-1.3zM28.3 34.8h0.6v0.6h-0.6zM33.7 21.4h1.2v1.2h-1.2zM13.4 15.6h0.7v0.7h-0.7zM12.9 27.4h0.8v0.8h-0.8zM20.2 1.8h0.9v0.9h-0.9zM18.6 6.7h1.2v1.2h-1.2zM4.9 19.1h1v1h-1zM16.6 18.8h0.7v0.7h-0.7zM5.2 0.9h1v1h-1zM12.6 21.8h0.7v0.7h-0.7zM36.2 35h1.1v1.1h-1.1zM12.6 14.1h0.8v0.8h-0.8zM22.5 6h1v1h-1zM33.4 32h0.6v0.6h-0.6zM2.5 6.5h1.3v1.3h-1.3zM16.3 19.5h0.8v0.8h-0.8zM9.8 15.7h0.8v0.8h-0.8zM23.3 18.2h1.3v1.3h-1.3zM19.1 32.5h0.8v0.8h-0.8zM0.8 12.7h0.6v0.6h-0.6zM16.6 20.9h1.2v1.2h-1.2zM34.7 22.8h1v1h-1zM28.1 12.2h0.7v0.7h-0.7zM13.7 36.4h1v1h-1zM4.1 14.9h1.2v1.2h-1.2zM19.3 7h1v1h-1zM23 18.5h0.8v0.8h-0.8zM23.7 14h0.6v0.6h-0.6zM17.1 -0.5h1.2v1.2h-1.2zM30.2 33.7h0.8v0.8h-0.8zM18.1 29.2h0.9v0.9h-0.9zM0.6 0.6h0.8v0.8h-0.8zM4.5 18h0.9v0.9h-0.9zM32.9 17.6h1.2v1.2h-1.2zM14.5 26.4h0.8v0.8h-0.8zM32.2 25.7h1.3v1.3h-1.3zM24 34.6h0.8v0.8h-0.8zM36.8 15.7h0.7v0.7h-0.7zM23.7 12.2h1v1h-1zM9.4 7.6h1.3v1.3h-1.3zM29.8 2.9h1v1h-1zM20.2 10.4h1.2v1.2h-1.2zM13.7 10.3h0.9v0.9h-0.9zM10.2 10h1.3v1.3h-1.3z"/><path fill="#a8306e" d="M1.2 28.3h1.2v1.2h-1.2zM15 21.2h1v1h-1zM11.4 9.2h1.1v1.1h-1.1zM10.6 22.9h1.1v1.1h-1.1zM17.5 9.1h0.8v0.8h-0.8zM25.2 16.7h1.1v1.1h-1.1zM1.8 24.4h1.3v1.3h-1.3zM31.6 0.6h1.3v1.3h-1.3zM32.7 30.7h0.7v0.7h-0.7zM13.7 4.4h0.8v0.8h-0.8zM16.4 34.2h1v1h-1zM13.9 23.4h1v1h-1zM37.8 13.2h1.2v1.2h-1.2zM26.7 3.5h1.2v1.2h-1.2zM3.5 34.4h0.9v0.9h-0.9zM38.4 29.9h0.7v0.7h-0.7zM4.7 34.1h0.7v0.7h-0.7zM26 23.6h0.9v0.9h-0.9zM21.8 26.9h0.9v0.9h-0.9zM20.1 8.6h1.2v1.2h-1.2zM14.1 31h0.7v0.7h-0.7zM21.3 20.7h0.8v0.8h-0.8zM21.7 34h0.8v0.8h-0.8zM31.5 0.9h0.7v0.7h-0.7zM18.3 1h0.8v0.8h-0.8zM18.9 5.6h1v1h-1zM36.8 21.4h1.2v1.2h-1.2zM10.8 28.7h0.9v0.9h-0.9zM19.7 20.4h0.6v0.6h-0.6zM19.3 6.5h1v1h-1zM37.3 34.5h0.6v0.6h-0.6zM30.4 22.9h0.9v0.9h-0.9zM8.9 28.4h0.9v0.9h-0.9zM36.3 26.7h0.8v0.8h-0.8zM5.5 36.1h0.7v0.7h-0.7zM25.7 27.6h1.2v1.2h-1.2zM15.9 23.9h1.2v1.2h-1.2zM7 3h1.1v1.1h-1.1zM30.1 9.8h0.9v0.9h-0.9zM7.8 17.4h1.2v1.2h-1.2zM39.4 35.6h1.2v1.2h-1.2zM21.1 19.6h0.9v0.9h-0.9zM11.1 16.5h1.2v1.2h-1.2zM20.4 30.2h1v1h-1zM16.3 12.6h0.9v0.9h-0.9zM18.2 35.1h0.7v0.7h-0.7zM12.3 9.4h1.3v1.3h-1.3zM11.6 27.2h1.1v1.1h-1.1zM39.1 30.7h0.7v0.7h-0.7zM24.1 11.5h1v1h-1zM37.8 31.3h1.2v1.2h-1.2zM16.6 19.8h1v1h-1zM17.1 31.5h1.1v1.1h-1.1zM24.9 4.8h0.7v0.7h-0.7zM2.1 31.9h1.1v1.1h-1.1zM4.9 19.1h1v1h-1zM23.4 3.5h1v1h-1zM23.8 21.1h1.1v1.1h-1.1zM19.3 24.9h0.8v0.8h-0.8zM5.5 13.1h1.1v1.1h-1.1zM9.7 9.1h0.9v0.9h-0.9zM8.6 16.3h1.3v1.3h-1.3zM39.7 15.5h0.8v0.8h-0.8zM18.2 36.3h1v1h-1zM38 5h1v1h-1zM40.5 5.8h0.9v0.9h-0.9zM36.6 1.2h1.1v1.1h-1.1zM18.8 21.9h0.6v0.6h-0.6zM1.6 14.4h0.9v0.9h-0.9zM3.5 6.1h1v1h-1zM30.5 30h0.7v0.7h-0.7zM3.9 32.8h0.9v0.9h-0.9zM4.8 21h0.6v0.6h-0.6zM31.6 22.1h0.7v0.7h-0.7z"/><path fill="#b83a7c" d="M18.8 26h1.2v1.2h-1.2zM1.1 17.9h0.8v0.8h-0.8zM10.5 4.1h0.9v0.9h-0.9zM15.1 21.4h0.7v0.7h-0.7zM32.9 35.2h0.7v0.7h-0.7zM0.8 16.3h1.1v1.1h-1.1zM32.6 1h1.2v1.2h-1.2zM22.8 1.1h0.9v0.9h-0.9zM35.8 1.4h1.1v1.1h-1.1zM4.3 24.9h1.3v1.3h-1.3zM26.6 32.2h1.2v1.2h-1.2zM0.6 3.8h0.9v0.9h-0.9zM14.8 8.1h1.3v1.3h-1.3zM27.2 18.7h1v1h-1zM5.4 18.4h1.3v1.3h-1.3zM31.3 4.6h1v1h-1zM30.5 10.4h1.1v1.1h-1.1zM20.4 1.8h0.8v0.8h-0.8zM22.7 6.2h1.1v1.1h-1.1zM23.7 24.7h1v1h-1zM4.1 25.3h1v1h-1zM31.7 14.5h1.2v1.2h-1.2zM16.2 11.4h0.6v0.6h-0.6zM25.5 12.4h0.7v0.7h-0.7zM33.1 18.2h1.1v1.1h-1.1zM28.7 0.4h0.9v0.9h-0.9zM27.4 3.2h0.8v0.8h-0.8zM13.4 11.1h0.9v0.9h-0.9zM8 24.8h1.3v1.3h-1.3zM4.4 -0.1h0.8v0.8h-0.8zM37.4 25h0.9v0.9h-0.9zM35.3 36h1v1h-1zM36.3 33.1h0.9v0.9h-0.9zM7 22.8h0.8v0.8h-0.8zM3.8 30.9h0.9v0.9h-0.9zM25.6 21.3h1.1v1.1h-1.1zM20.1 26.7h0.9v0.9h-0.9zM17.5 7h0.6v0.6h-0.6zM37.2 19.2h1.1v1.1h-1.1zM33.9 33.3h0.9v0.9h-0.9zM19 4.8h0.8v0.8h-0.8zM25.3 2.9h1.1v1.1h-1.1zM12.4 31.3h1v1h-1zM12.8 8.5h1.2v1.2h-1.2zM14.9 1.1h0.9v0.9h-0.9zM21.6 36h1.2v1.2h-1.2zM28.9 11.6h0.7v0.7h-0.7zM20.1 34.7h1.2v1.2h-1.2zM29.8 5h1v1h-1zM28.1 22.8h1v1h-1zM6.9 30.3h0.7v0.7h-0.7zM12.2 20.4h0.9v0.9h-0.9zM5.9 13.9h1.1v1.1h-1.1zM20.5 23h0.7v0.7h-0.7zM19.1 22.9h1.2v1.2h-1.2zM10 12.7h1.1v1.1h-1.1zM19.1 15h1.1v1.1h-1.1zM28.9 33.5h0.7v0.7h-0.7zM27.8 22.7h1v1h-1zM32.2 28.4h0.8v0.8h-0.8zM22.3 0.3h0.9v0.9h-0.9z"/><path fill="#c8408a" d="M17.6 34h1.2v1.2h-1.2zM23.4 32.9h1.1v1.1h-1.1zM35.3 1.1h1v1h-1zM20.3 36.5h0.8v0.8h-0.8zM-0 14.9h1v1h-1zM10.5 28.8h0.7v0.7h-0.7zM16.4 33.7h0.7v0.7h-0.7zM34.7 31.1h1.3v1.3h-1.3zM4.6 35.5h1v1h-1zM13.9 6.8h1v1h-1zM20.9 1.5h0.8v0.8h-0.8zM34.8 28.4h0.6v0.6h-0.6zM2.2 35.5h1.2v1.2h-1.2zM20.8 17.8h0.7v0.7h-0.7zM22.3 26.1h0.9v0.9h-0.9zM12.5 34.7h0.9v0.9h-0.9zM9.5 19.3h1.1v1.1h-1.1zM32.6 8h0.7v0.7h-0.7zM6.7 0.3h1.2v1.2h-1.2zM38.5 20.8h1.2v1.2h-1.2zM3.7 27.1h1.3v1.3h-1.3zM22.2 31.8h0.7v0.7h-0.7zM15.8 12.5h0.9v0.9h-0.9zM36 23.4h1.2v1.2h-1.2zM34.8 32.9h0.8v0.8h-0.8zM12.3 15.1h1.1v1.1h-1.1zM4.2 9.1h1.3v1.3h-1.3zM14.1 20.9h1.1v1.1h-1.1zM0.8 11.8h0.9v0.9h-0.9zM4.5 11.2h1.2v1.2h-1.2zM35.4 34.5h0.9v0.9h-0.9zM0.7 6.5h1.1v1.1h-1.1zM5 28.8h1v1h-1zM17.4 27.5h1v1h-1zM34.4 7.2h1v1h-1zM17.9 12.9h0.9v0.9h-0.9zM16.2 5.9h0.6v0.6h-0.6zM24.6 16h0.7v0.7h-0.7zM1.7 14.5h0.9v0.9h-0.9zM17.3 2.8h1v1h-1zM0.9 3h0.7v0.7h-0.7zM-0.5 6.6h1.2v1.2h-1.2zM31.5 16.8h1v1h-1zM33.5 3.8h0.6v0.6h-0.6zM15.8 30h1.1v1.1h-1.1zM2.7 12.3h1v1h-1zM2.4 18.8h0.8v0.8h-0.8zM18.9 21.4h0.6v0.6h-0.6zM3.8 10.6h0.9v0.9h-0.9zM30.2 33.9h1v1h-1zM36.6 30.4h1v1h-1zM0.2 1.2h1v1h-1zM2.4 4.6h1.2v1.2h-1.2zM33.4 33.9h1v1h-1zM10.8 25.6h1.3v1.3h-1.3zM4.4 23h0.7v0.7h-0.7zM27.3 23.6h0.7v0.7h-0.7zM7.1 0.6h0.7v0.7h-0.7zM33.9 4.3h1v1h-1zM16.4 31.9h0.7v0.7h-0.7zM27.5 18.9h1.1v1.1h-1.1zM21.1 15.8h1v1h-1zM2 31.2h0.9v0.9h-0.9zM14.5 7.4h1v1h-1zM20 11.7h0.6v0.6h-0.6zM11.2 23.1h1.1v1.1h-1.1zM15.9 7.5h0.7v0.7h-0.7zM8.7 10.1h0.9v0.9h-0.9zM35.2 18.6h0.9v0.9h-0.9zM36.5 3.1h1.1v1.1h-1.1zM33 26.6h0.8v0.8h-0.8zM25.3 32.4h0.7v0.7h-0.7zM29.3 30.4h0.9v0.9h-0.9zM4.3 24.3h0.8v0.8h-0.8zM30 28.2h0.6v0.6h-0.6zM1.4 35.3h0.7v0.7h-0.7zM5.1 31.9h1.1v1.1h-1.1zM15.9 18.6h0.7v0.7h-0.7zM17.8 33.9h0.8v0.8h-0.8zM33.6 7.1h1.1v1.1h-1.1zM36.6 33.3h1v1h-1zM18.1 7.1h0.9v0.9h-0.9zM13.7 5.9h0.8v0.8h-0.8zM17.5 27.9h1v1h-1z"/></pattern><clipPath id="cF2"><rect x="241.6" y="261.6" width="132.4" height="74.4"/></clipPath><clipPath id="cF2t"><polygon points="240.6,337 241,306.8 246,305.5 252,304 255.2,298.8 257.4,292.2 260,289.8 262.8,289 267,288.6 271.6,287.4 275,286.5 277,284.6 278.2,280.2 282.5,276.9 289,273.6 295.7,270.3 302.3,267 308.8,263.8 313.2,261.2 316,260 375,260.6 375,322 353,337"/></clipPath><pattern id="p4" patternUnits="userSpaceOnUse" x="0" y="0" width="41" height="37"><path fill="#f8c0dc" d="M9.2 3.4h0.9v0.9h-0.9zM16.9 10.2h0.9v0.9h-0.9zM18.7 12h1.3v1.3h-1.3zM28.5 9.8h1v1h-1zM11.5 8.7h1v1h-1zM13.3 0h0.6v0.6h-0.6zM3.5 35.9h0.9v0.9h-0.9zM11.5 36.4h1.1v1.1h-1.1zM4.2 29.4h1.2v1.2h-1.2zM6.5 32h0.7v0.7h-0.7zM31.8 22.2h0.9v0.9h-0.9zM11.3 14.9h0.6v0.6h-0.6zM0.2 8.5h1.1v1.1h-1.1zM28.2 26.5h1.1v1.1h-1.1zM35.3 0.1h1.3v1.3h-1.3zM13.3 5.9h1v1h-1zM29.6 27.9h1.2v1.2h-1.2zM6.4 7.3h1.3v1.3h-1.3zM16 0.7h1.3v1.3h-1.3zM14.3 25.6h1.3v1.3h-1.3zM0.8 5.1h1v1h-1zM21.5 8.6h1v1h-1zM35.6 24.9h0.7v0.7h-0.7zM14.5 7.8h1.2v1.2h-1.2zM18.3 24.9h1v1h-1zM1.3 29.7h1.2v1.2h-1.2zM12.5 11.7h0.9v0.9h-0.9zM32.2 1.8h1v1h-1zM7.6 31.1h1v1h-1zM32.7 5.2h1.2v1.2h-1.2zM10.9 30h1.2v1.2h-1.2zM18.7 19.2h0.7v0.7h-0.7zM19.4 0.8h0.8v0.8h-0.8zM18.4 13.9h0.8v0.8h-0.8zM30.3 32.5h0.8v0.8h-0.8zM7.8 3.3h1v1h-1zM26 20.5h1.3v1.3h-1.3zM28.6 9.4h1.3v1.3h-1.3zM21.7 31.3h0.7v0.7h-0.7zM8.9 8h1v1h-1zM30.4 5.9h0.7v0.7h-0.7zM39.6 9.5h1.2v1.2h-1.2zM9.3 32.8h0.6v0.6h-0.6zM20.9 0.5h1v1h-1zM19 28.4h0.7v0.7h-0.7zM15.8 27.6h0.8v0.8h-0.8zM25.9 35h0.6v0.6h-0.6zM0.3 17.8h0.9v0.9h-0.9zM3.7 29.6h0.9v0.9h-0.9zM10.6 21.9h1v1h-1zM35.6 19.3h0.7v0.7h-0.7zM19.4 27.7h1.3v1.3h-1.3zM6.5 27.5h0.9v0.9h-0.9zM25.2 27.2h0.9v0.9h-0.9zM34.7 18.9h1.1v1.1h-1.1zM17.4 34.4h0.9v0.9h-0.9zM22.5 18h1.1v1.1h-1.1zM12.8 20.8h0.6v0.6h-0.6zM31.4 1h1.1v1.1h-1.1zM29.1 10.3h0.9v0.9h-0.9zM25.4 19.6h1.3v1.3h-1.3z"/><path fill="#a8306e" d="M3.2 0.2h1v1h-1zM14.2 28.3h1.2v1.2h-1.2zM8.2 33.7h1.2v1.2h-1.2zM35 35h1.2v1.2h-1.2zM10.8 12.6h1.1v1.1h-1.1zM1.1 25.2h1.2v1.2h-1.2zM29.8 35.2h0.6v0.6h-0.6zM33.8 18.1h0.6v0.6h-0.6zM35.3 4.9h0.6v0.6h-0.6zM21.1 23.7h1.1v1.1h-1.1zM13.4 14h1v1h-1zM8.1 5.3h1v1h-1zM3.1 19.7h0.9v0.9h-0.9zM3.4 3.7h1v1h-1zM2.4 32.2h0.7v0.7h-0.7zM2.5 8.5h1.2v1.2h-1.2zM9.7 21.4h1.3v1.3h-1.3zM0.2 34.5h1.2v1.2h-1.2zM9.4 17.7h0.8v0.8h-0.8zM36.4 14.4h0.9v0.9h-0.9zM36.3 16.5h1v1h-1zM2.1 35.4h1.3v1.3h-1.3zM24.4 11.2h0.7v0.7h-0.7zM31.5 5.1h0.8v0.8h-0.8zM27.3 19.6h1.3v1.3h-1.3zM15.4 24.6h1.2v1.2h-1.2zM6.3 1.6h1.3v1.3h-1.3zM3.8 22.3h1.3v1.3h-1.3zM23.8 28.5h0.9v0.9h-0.9zM32.7 2.7h0.8v0.8h-0.8zM28.6 0.9h1.1v1.1h-1.1zM11 7.1h1.1v1.1h-1.1zM6.6 0h1.2v1.2h-1.2zM33.9 3.6h1.3v1.3h-1.3zM8 0.9h0.8v0.8h-0.8zM27.7 35.9h0.7v0.7h-0.7zM12.6 19.4h1.3v1.3h-1.3zM12.5 23.1h0.7v0.7h-0.7zM5.2 30.5h1v1h-1zM5.6 6h1v1h-1zM13.6 21.7h1.3v1.3h-1.3zM31 19.7h0.9v0.9h-0.9zM23.9 35.3h0.7v0.7h-0.7zM38.3 5.6h0.7v0.7h-0.7zM11.4 13.1h1.1v1.1h-1.1zM33.9 6.2h0.7v0.7h-0.7zM14 24.9h0.6v0.6h-0.6zM3.6 13.6h0.8v0.8h-0.8zM29.6 27.4h1.2v1.2h-1.2zM11.1 4.8h0.9v0.9h-0.9zM8.5 0h1v1h-1zM10.5 14.7h0.7v0.7h-0.7zM26.5 25.4h1v1h-1zM39 5.5h1.1v1.1h-1.1zM30.7 2.4h0.9v0.9h-0.9zM19.7 35.4h0.7v0.7h-0.7zM3.8 33.5h1.3v1.3h-1.3zM36.5 15.6h1.2v1.2h-1.2zM28.4 19.1h1.2v1.2h-1.2zM21.4 27.6h0.8v0.8h-0.8zM31.6 16.6h1v1h-1zM15.8 31.2h1.2v1.2h-1.2zM2.3 35.3h0.6v0.6h-0.6zM40.5 5.9h0.7v0.7h-0.7zM19.1 27.1h0.7v0.7h-0.7zM26.7 28.7h1.2v1.2h-1.2zM19.4 32.9h0.8v0.8h-0.8zM5.5 13.2h0.8v0.8h-0.8zM11.7 15.1h1.3v1.3h-1.3zM4.5 32h0.8v0.8h-0.8zM35.7 18.8h1.1v1.1h-1.1zM4.1 28.4h1.2v1.2h-1.2zM26.9 3.3h0.9v0.9h-0.9zM25.8 18.4h0.9v0.9h-0.9zM4.5 0.5h0.7v0.7h-0.7zM0.4 29.8h1v1h-1z"/><path fill="#f590c4" d="M32.4 27.9h0.8v0.8h-0.8zM3 21.9h1.1v1.1h-1.1zM9.8 8.7h0.8v0.8h-0.8zM12.7 5.1h1.1v1.1h-1.1zM14.3 29.1h1.3v1.3h-1.3zM4.1 1.7h1.1v1.1h-1.1zM23.6 11.6h0.6v0.6h-0.6zM15.3 15.3h1.3v1.3h-1.3zM39.1 24.4h0.6v0.6h-0.6zM23.8 17.5h1.2v1.2h-1.2zM31.4 1.2h0.7v0.7h-0.7zM37.8 17.4h0.7v0.7h-0.7zM28.7 -0.2h0.8v0.8h-0.8zM4 28.6h1v1h-1zM31.4 20.4h1.3v1.3h-1.3zM5.1 2.7h0.7v0.7h-0.7zM6.8 32.9h0.9v0.9h-0.9zM14.6 5.8h1.2v1.2h-1.2zM32.7 34.9h0.7v0.7h-0.7zM12 33.9h0.9v0.9h-0.9zM16.3 14.1h0.6v0.6h-0.6zM19.3 23.2h0.9v0.9h-0.9zM5 1.3h0.9v0.9h-0.9zM14.8 5.4h1.2v1.2h-1.2zM35.7 23.8h1.1v1.1h-1.1zM6.8 1.1h1v1h-1zM12.8 22.5h0.8v0.8h-0.8zM23 7.2h0.7v0.7h-0.7zM34.3 29.1h0.9v0.9h-0.9zM5.9 7.7h0.8v0.8h-0.8zM28.9 7.4h0.8v0.8h-0.8zM21.1 6.2h1v1h-1zM37.5 30.4h1.1v1.1h-1.1zM38 9.1h0.8v0.8h-0.8zM35.2 2.3h1.3v1.3h-1.3zM23.4 20.7h0.7v0.7h-0.7zM34.4 25.6h1v1h-1zM1.4 7.8h0.9v0.9h-0.9zM3.6 33.5h1.2v1.2h-1.2zM9.3 6.4h0.9v0.9h-0.9zM30 24.4h0.8v0.8h-0.8zM4.3 9h0.9v0.9h-0.9zM36.9 -0.2h0.9v0.9h-0.9zM29.7 34.1h0.7v0.7h-0.7zM37.6 16h0.9v0.9h-0.9zM3.9 28h0.7v0.7h-0.7zM10 9.2h0.9v0.9h-0.9zM9.2 3.3h1v1h-1zM17.4 16.8h1.1v1.1h-1.1zM35.5 5.5h1.2v1.2h-1.2zM13.8 13h0.9v0.9h-0.9zM3.9 33.5h1.1v1.1h-1.1zM12.5 31.5h1.2v1.2h-1.2zM5 0.8h0.7v0.7h-0.7zM32.2 21.8h0.8v0.8h-0.8zM33.5 31.4h0.6v0.6h-0.6zM2.3 14.9h1v1h-1zM30.5 9.3h0.8v0.8h-0.8zM16.8 35.8h1.2v1.2h-1.2zM15.3 16.3h1.1v1.1h-1.1zM33.5 16.4h0.9v0.9h-0.9zM28 20.4h0.9v0.9h-0.9zM9.3 18.4h1v1h-1zM10.8 10.2h1.2v1.2h-1.2zM25.3 33.3h1.2v1.2h-1.2z"/><path fill="#b83a7c" d="M32.4 6.7h0.8v0.8h-0.8zM34.1 -0.1h0.8v0.8h-0.8zM18.5 36.4h1v1h-1zM22.7 36.2h0.9v0.9h-0.9zM36.5 33.8h0.8v0.8h-0.8zM22.2 32.1h0.8v0.8h-0.8zM37.2 15.9h0.7v0.7h-0.7zM16.1 34.3h0.7v0.7h-0.7zM30.8 35.5h0.7v0.7h-0.7zM19.3 32.4h0.8v0.8h-0.8zM35.5 23.3h1v1h-1zM35.5 26.1h1v1h-1zM9 20h0.9v0.9h-0.9zM21.4 32.3h0.9v0.9h-0.9zM37.7 30.3h0.9v0.9h-0.9zM1.1 23h0.8v0.8h-0.8zM36.2 35.7h0.6v0.6h-0.6zM5.3 12.7h1.2v1.2h-1.2zM13.5 35.7h1.2v1.2h-1.2zM30.5 31.5h0.8v0.8h-0.8zM3 14.4h1v1h-1zM37.8 28.4h1v1h-1zM8.1 34h1.1v1.1h-1.1zM35.3 21.2h0.7v0.7h-0.7zM2.7 31h0.7v0.7h-0.7zM30 27.4h1.2v1.2h-1.2zM22 19.6h0.9v0.9h-0.9zM0.5 6.5h1.2v1.2h-1.2zM25 12.7h0.6v0.6h-0.6zM5 0.5h1.2v1.2h-1.2zM22.4 32.6h0.9v0.9h-0.9zM5.1 22h0.8v0.8h-0.8zM19.9 30.3h0.7v0.7h-0.7zM24.1 36.2h0.7v0.7h-0.7zM32 0.8h0.8v0.8h-0.8zM38.8 29.9h0.8v0.8h-0.8zM3.3 23.2h1.1v1.1h-1.1zM39.1 18.6h1v1h-1zM11 21.4h0.7v0.7h-0.7zM3.4 8h1.2v1.2h-1.2zM14.8 23.4h0.9v0.9h-0.9zM-0.3 36.3h0.9v0.9h-0.9zM15.9 10.9h1.2v1.2h-1.2zM33.6 25.8h0.9v0.9h-0.9zM20.7 28.1h1.2v1.2h-1.2zM14.1 15.2h0.9v0.9h-0.9zM4.8 31.7h0.6v0.6h-0.6zM17.1 12.6h1.2v1.2h-1.2zM3.5 31.5h0.8v0.8h-0.8zM2 28.5h0.7v0.7h-0.7zM34.1 26.2h1.2v1.2h-1.2zM29.6 18.5h0.9v0.9h-0.9zM14.6 20.5h0.8v0.8h-0.8zM9.9 20.7h0.8v0.8h-0.8zM22.7 32.2h0.8v0.8h-0.8zM27.9 13.9h1v1h-1zM32.6 26.7h1v1h-1zM32.9 20.9h0.9v0.9h-0.9zM17.8 11.5h1.3v1.3h-1.3zM10.1 3.6h1.1v1.1h-1.1zM17.5 35.3h1v1h-1zM15.9 5.7h0.9v0.9h-0.9zM16.3 8.9h0.7v0.7h-0.7zM27.2 30.3h0.6v0.6h-0.6zM25.4 9h1.1v1.1h-1.1zM6.5 30.6h1.2v1.2h-1.2zM25.4 15.8h1v1h-1zM29.5 19h0.7v0.7h-0.7zM11.5 15h0.7v0.7h-0.7zM24 1.8h0.9v0.9h-0.9zM24.6 17.6h0.7v0.7h-0.7zM38.8 16.6h1.2v1.2h-1.2zM26.6 32.8h1.1v1.1h-1.1zM39.6 21.4h1.3v1.3h-1.3zM2.2 9.1h1v1h-1zM21.6 33.9h1v1h-1zM29.6 9.3h0.8v0.8h-0.8zM23.4 3.7h1.2v1.2h-1.2zM39.3 27.6h0.8v0.8h-0.8zM12.6 2.1h0.8v0.8h-0.8zM39.4 7.6h1.3v1.3h-1.3zM13.3 15.6h1.1v1.1h-1.1zM5.4 6.9h1v1h-1zM10.4 4.5h1v1h-1zM6.8 36.4h1.1v1.1h-1.1zM6 15.2h1.1v1.1h-1.1zM1.9 12h0.9v0.9h-0.9zM22.7 15.2h1.3v1.3h-1.3zM27.5 28.4h1v1h-1zM20.5 32.5h1v1h-1zM10.3 6.5h0.8v0.8h-0.8zM19.5 15.4h1.3v1.3h-1.3z"/><path fill="#ffffff" d="M35.7 30.9h1v1h-1zM2.2 33.3h1.1v1.1h-1.1zM27.4 2.4h1v1h-1zM27.4 5.2h0.6v0.6h-0.6zM8.4 15.9h1.1v1.1h-1.1zM9.8 18.9h1.2v1.2h-1.2zM26.2 28.7h1.1v1.1h-1.1zM18.9 32.9h0.8v0.8h-0.8zM35.2 25h0.9v0.9h-0.9zM24.4 29.8h1v1h-1zM15.3 27.5h1.2v1.2h-1.2zM20.4 15.4h1.2v1.2h-1.2zM27.3 22.1h0.8v0.8h-0.8zM8.9 11.6h1.1v1.1h-1.1zM-0.3 32.2h0.7v0.7h-0.7zM28.3 33.5h1.3v1.3h-1.3zM12.9 33h1.3v1.3h-1.3zM20 3.8h0.9v0.9h-0.9zM34.9 34.2h1.1v1.1h-1.1zM32.5 29.3h0.7v0.7h-0.7zM13.1 0.2h1.1v1.1h-1.1zM19.1 31.7h0.8v0.8h-0.8zM2.6 15.7h0.7v0.7h-0.7zM27.4 26.2h1.3v1.3h-1.3zM13.7 1.2h0.7v0.7h-0.7zM37.8 15.5h1.1v1.1h-1.1zM3.4 3.4h0.7v0.7h-0.7zM21.6 34.5h1.3v1.3h-1.3zM31.1 28.6h1.3v1.3h-1.3zM10.9 1.8h0.7v0.7h-0.7zM4.2 26.9h0.8v0.8h-0.8zM4 5h0.7v0.7h-0.7zM21.4 33.8h0.9v0.9h-0.9zM13.7 25.8h0.7v0.7h-0.7zM6.1 18.4h0.7v0.7h-0.7zM4.6 1.3h1.1v1.1h-1.1zM32.4 8.8h0.9v0.9h-0.9zM23.3 14h0.7v0.7h-0.7zM37.2 24.1h0.7v0.7h-0.7zM11 32.9h0.7v0.7h-0.7zM40.2 34.4h0.9v0.9h-0.9zM29.1 33.7h0.7v0.7h-0.7zM27.5 12h1.1v1.1h-1.1zM12.2 18.9h1v1h-1zM20.7 24.4h1v1h-1zM23.2 36.3h1v1h-1zM29.5 6.6h1v1h-1zM25 12.3h1.1v1.1h-1.1zM13 30.5h1.2v1.2h-1.2zM39.6 10.2h1.1v1.1h-1.1zM24.5 15.2h0.8v0.8h-0.8zM26.5 4.2h1.2v1.2h-1.2zM20 10.2h0.9v0.9h-0.9zM5.3 15.9h1.1v1.1h-1.1zM28.1 7.6h0.9v0.9h-0.9zM27.3 17.8h0.9v0.9h-0.9zM30.5 22.2h1.3v1.3h-1.3zM23.7 11.9h0.6v0.6h-0.6zM30.6 12.2h1v1h-1zM13.3 10.1h0.6v0.6h-0.6z"/><path fill="#c8408a" d="M12.2 29.7h0.6v0.6h-0.6zM25.6 6.9h0.8v0.8h-0.8zM4.6 34.2h0.8v0.8h-0.8zM19.1 8.5h0.9v0.9h-0.9zM4.7 35.3h1.1v1.1h-1.1zM30.2 33.9h0.8v0.8h-0.8zM36.7 10.6h0.9v0.9h-0.9zM13 31.4h0.8v0.8h-0.8zM8.8 6.1h1.2v1.2h-1.2zM31.9 24.4h1.2v1.2h-1.2zM39.8 23.8h1.3v1.3h-1.3zM1 11.4h0.7v0.7h-0.7zM5.8 30.8h1v1h-1zM3 3.8h1v1h-1zM12.6 17h1.3v1.3h-1.3zM31.5 33.1h1.1v1.1h-1.1zM20.2 32.3h1.2v1.2h-1.2zM2.5 8h0.8v0.8h-0.8zM24.3 0.8h0.9v0.9h-0.9zM36.9 4.3h1.1v1.1h-1.1zM28.3 24.1h1.2v1.2h-1.2zM40.3 6.4h1v1h-1zM17.6 29.3h0.7v0.7h-0.7zM30.6 19h1.1v1.1h-1.1zM36 10.2h0.9v0.9h-0.9zM37.5 36.6h0.6v0.6h-0.6zM38.7 18.7h1v1h-1zM7.9 25.3h0.7v0.7h-0.7zM2.3 15.8h0.7v0.7h-0.7zM25.2 22h0.6v0.6h-0.6zM39.7 36.4h1v1h-1zM0.7 -0.4h1.2v1.2h-1.2zM17.7 26.7h0.8v0.8h-0.8zM6 16.1h1v1h-1zM37.5 10.1h0.8v0.8h-0.8zM29.9 12.4h1v1h-1zM28 32.2h1v1h-1zM9.7 17.7h0.9v0.9h-0.9zM38.1 27.5h1.1v1.1h-1.1zM7 29.4h1v1h-1zM21.8 2.2h0.8v0.8h-0.8zM20.2 24.4h1.1v1.1h-1.1zM30.2 3.3h0.8v0.8h-0.8zM28 0.8h1.1v1.1h-1.1zM31.3 19.9h1.1v1.1h-1.1zM21.2 11.8h1.1v1.1h-1.1zM28.8 22.7h0.8v0.8h-0.8zM17.3 9.6h0.7v0.7h-0.7zM22.2 33.5h1.2v1.2h-1.2zM24.6 15.4h0.8v0.8h-0.8zM5.4 8.2h0.9v0.9h-0.9zM15.7 12.9h1.3v1.3h-1.3zM29.6 7.2h0.7v0.7h-0.7zM21.4 25h0.8v0.8h-0.8zM4.9 4.4h1.3v1.3h-1.3zM6.6 9.1h1.2v1.2h-1.2zM34.9 27.3h0.8v0.8h-0.8zM29 23.9h1.2v1.2h-1.2zM29.4 32.4h0.9v0.9h-0.9zM28.6 29.4h1.2v1.2h-1.2zM34.9 14h1.3v1.3h-1.3zM23.8 8.1h1.3v1.3h-1.3zM30.6 29.9h1.3v1.3h-1.3zM7.1 6.7h1.3v1.3h-1.3zM26 13.5h1.3v1.3h-1.3zM35.7 18.3h1.1v1.1h-1.1zM22 7.3h0.8v0.8h-0.8zM19.1 3.2h1.1v1.1h-1.1zM4.2 2.9h1.2v1.2h-1.2zM30.3 8.9h1.2v1.2h-1.2zM1.8 15.7h1.1v1.1h-1.1zM23.2 24.3h1.3v1.3h-1.3zM21 22.1h1.3v1.3h-1.3zM35.3 19.1h0.7v0.7h-0.7zM23.5 7.4h0.9v0.9h-0.9zM12.1 10.4h0.8v0.8h-0.8zM2.6 22.2h1.2v1.2h-1.2z"/></pattern><pattern id="p5" patternUnits="userSpaceOnUse" x="0" y="0" width="41" height="37"><path fill="#4f6fe8" d="M3.4 25h1.9v1.9h-1.9zM23.4 22.7h1.5v1.5h-1.5zM10.5 0h2v2h-2zM22.2 28.8h1.5v1.5h-1.5zM3.7 34.4h2v2h-2zM8.6 31.5h1.6v1.6h-1.6zM2.9 29.1h1.5v1.5h-1.5zM4.4 32.5h1.4v1.4h-1.4zM9.7 12.8h1.7v1.7h-1.7zM17.2 2.3h2v2h-2zM18.4 34.7h1.7v1.7h-1.7zM0.8 35.4h2.1v2.1h-2.1zM9.2 24.2h1.9v1.9h-1.9zM21.5 28.5h2v2h-2zM30.2 35h2.2v2.2h-2.2zM38.9 27.1h2.1v2.1h-2.1zM9.7 31h1.6v1.6h-1.6zM17.9 23.8h1.4v1.4h-1.4z"/><path fill="#3f5fd8" d="M10.1 8.5h2v2h-2zM13.7 8.6h2v2h-2zM15.7 35.8h1.7v1.7h-1.7zM2.8 22.7h2.1v2.1h-2.1zM17.5 7.1h2v2h-2zM27.3 20.8h1.7v1.7h-1.7zM1.7 4.3h2v2h-2zM10 10.4h1.5v1.5h-1.5zM0.3 10.5h2.2v2.2h-2.2zM7.7 24.3h1.7v1.7h-1.7zM30.3 12.7h1.8v1.8h-1.8zM29.6 28.4h1.5v1.5h-1.5zM21.6 27.8h1.6v1.6h-1.6zM5.2 23.9h1.6v1.6h-1.6zM34.2 29.2h2.2v2.2h-2.2zM34.5 1.3h1.9v1.9h-1.9zM33.7 3.5h1.4v1.4h-1.4zM0.1 4h2.2v2.2h-2.2zM22.8 28.5h1.7v1.7h-1.7zM14.6 25.7h1.6v1.6h-1.6z"/><path fill="#5a7cf0" d="M17.4 16.2h2.1v2.1h-2.1zM31.1 3.6h1.6v1.6h-1.6zM20.2 5h1.9v1.9h-1.9zM6 23.4h1.5v1.5h-1.5zM0.1 9.1h2.1v2.1h-2.1zM29.7 17h1.9v1.9h-1.9zM9.3 3.4h2.2v2.2h-2.2zM6.1 13.5h1.6v1.6h-1.6zM17.2 21.3h1.5v1.5h-1.5zM15.2 15.7h1.9v1.9h-1.9zM17.2 29.7h1.7v1.7h-1.7zM0 25.4h1.7v1.7h-1.7zM19.8 18.3h2v2h-2zM33.6 12.7h1.7v1.7h-1.7zM0.4 22.9h1.7v1.7h-1.7zM27.6 4.4h1.6v1.6h-1.6zM26.2 19.9h1.4v1.4h-1.4zM21.2 2.5h2.1v2.1h-2.1zM37.2 1.5h2v2h-2zM-0.8 15.6h2v2h-2zM28.7 0h1.5v1.5h-1.5zM37 32.3h2.1v2.1h-2.1zM14.7 9.9h2v2h-2zM11.8 7.1h1.9v1.9h-1.9zM-0 22.8h2.2v2.2h-2.2zM26.7 24.4h1.9v1.9h-1.9z"/></pattern><pattern id="p6" patternUnits="userSpaceOnUse" x="0" y="0" width="41" height="37"><path fill="#f23fc8" d="M38.8 -0.4h1.6v1.6h-1.6zM36.9 8.3h1.1v1.1h-1.1zM34.5 36.4h1.2v1.2h-1.2zM18.5 12.5h1.3v1.3h-1.3zM8.5 30.9h1.7v1.7h-1.7zM8.5 33.5h1.4v1.4h-1.4zM23 30.4h1.4v1.4h-1.4zM22.4 12.6h1.4v1.4h-1.4zM15.7 31.1h1.7v1.7h-1.7zM38.7 30.4h1.2v1.2h-1.2zM24.4 28.2h1.6v1.6h-1.6zM10.9 17.5h1.7v1.7h-1.7zM36 14.1h1.1v1.1h-1.1zM15.9 18h1.2v1.2h-1.2zM2.6 10.9h1.2v1.2h-1.2zM15 16.8h1.7v1.7h-1.7zM30.4 30.4h1.2v1.2h-1.2zM4.1 17.6h1.3v1.3h-1.3zM37.4 26.8h1.3v1.3h-1.3zM17.9 1.6h1.2v1.2h-1.2zM22.5 31.6h1.4v1.4h-1.4zM18.6 2.2h1.7v1.7h-1.7zM31.1 21.2h1.5v1.5h-1.5zM27.3 22.1h1.1v1.1h-1.1zM16.9 1.2h1.7v1.7h-1.7zM23.6 10.7h1.6v1.6h-1.6zM36.1 32.5h1.1v1.1h-1.1zM24.7 33.1h1.1v1.1h-1.1zM9.6 35.9h1.3v1.3h-1.3zM27.4 11h1.3v1.3h-1.3zM28.2 12h1.1v1.1h-1.1zM25.4 17.8h1.7v1.7h-1.7zM13.2 32.5h1.1v1.1h-1.1zM12.2 16.2h1.5v1.5h-1.5zM22.6 3.6h1.7v1.7h-1.7zM3.3 30.6h1.5v1.5h-1.5zM33.7 23.5h1.5v1.5h-1.5zM14.4 7.9h1.4v1.4h-1.4zM40.1 26h1.5v1.5h-1.5zM18.1 21.6h1.4v1.4h-1.4z"/></pattern><clipPath id="cH0"><rect x="17.8" y="377.3" width="150.4" height="79.2"/></clipPath><clipPath id="cH0t"><polygon points="18,445 30,437 41,429.7 50,422.8 61.6,416 70.7,409 82,405.7 91,402.3 98,393.2 102.5,389.8 111.7,384 120.8,377.3 169,377.3 169,391 141.3,418.3 107,438.8 73,457 17,457"/></clipPath><pattern id="p7" patternUnits="userSpaceOnUse" x="0" y="0" width="41" height="37"><path fill="#ffffff" d="M17.9 20.1h1.3v1.3h-1.3zM19.1 22.3h0.7v0.7h-0.7zM25.6 21.6h0.9v0.9h-0.9zM34 18.7h1.1v1.1h-1.1zM-0.3 2.6h1.1v1.1h-1.1zM8.4 34h0.6v0.6h-0.6zM5.2 25.8h0.6v0.6h-0.6zM32.2 6.1h1v1h-1zM20.3 35.9h1.2v1.2h-1.2zM12.1 32.4h0.8v0.8h-0.8zM14.6 16.1h1.3v1.3h-1.3zM34.9 20.7h1v1h-1zM13 34h1.1v1.1h-1.1zM4 16.8h1.3v1.3h-1.3zM34.8 12.6h0.7v0.7h-0.7zM33.8 24.9h1.3v1.3h-1.3zM23.2 24.9h1.1v1.1h-1.1zM18.2 33.5h1.2v1.2h-1.2zM10.7 17.2h0.7v0.7h-0.7zM7.6 19.2h0.9v0.9h-0.9zM5 2.8h0.9v0.9h-0.9zM40.4 30.2h1.2v1.2h-1.2zM3.3 1.7h1.3v1.3h-1.3zM2.7 3.1h0.9v0.9h-0.9zM25.6 1.1h0.8v0.8h-0.8zM29.9 28.2h1.2v1.2h-1.2zM4.3 3.6h0.8v0.8h-0.8zM16.1 1.5h0.7v0.7h-0.7zM34.6 19.5h1v1h-1zM2.6 33h0.9v0.9h-0.9zM24.2 3.7h1v1h-1zM4.6 15.8h1.1v1.1h-1.1zM1.2 1.8h0.8v0.8h-0.8zM2.7 2.6h1v1h-1zM13 33.1h0.8v0.8h-0.8zM22.7 35.2h1.1v1.1h-1.1zM32.9 15.1h1.1v1.1h-1.1zM30.8 18.7h1.1v1.1h-1.1zM14.5 0h0.7v0.7h-0.7zM15 5.8h0.8v0.8h-0.8zM21.1 9.5h1.2v1.2h-1.2zM37.1 27.6h0.6v0.6h-0.6zM14.2 21.3h1v1h-1z"/><path fill="#f590c4" d="M18.2 31.3h0.7v0.7h-0.7zM24.2 28.4h0.8v0.8h-0.8zM-0.6 31.3h1.3v1.3h-1.3zM40.2 7.5h0.8v0.8h-0.8zM29.2 5.3h1.1v1.1h-1.1zM7.4 34.5h1.2v1.2h-1.2zM2.9 1.4h0.7v0.7h-0.7zM16.8 33h1v1h-1zM17.7 30.7h0.7v0.7h-0.7zM28.6 20.7h0.8v0.8h-0.8zM40 3.9h0.7v0.7h-0.7zM8.8 28.3h1v1h-1zM18.7 36.4h1.2v1.2h-1.2zM12.2 13.5h1.2v1.2h-1.2zM7.9 30.8h1.3v1.3h-1.3zM20.6 14.2h1.2v1.2h-1.2zM4.6 3.1h0.7v0.7h-0.7zM36.3 34h1.3v1.3h-1.3zM25.4 30h1v1h-1zM7.8 22.8h1.1v1.1h-1.1zM4.2 18.1h1.1v1.1h-1.1zM3.9 0.9h1v1h-1zM38.1 20.7h0.7v0.7h-0.7zM-0.1 12.6h1.1v1.1h-1.1zM13.3 23.9h1v1h-1zM21.9 18.1h1.3v1.3h-1.3zM38.3 15.1h1v1h-1zM2.4 2.7h1.1v1.1h-1.1zM8.5 35.2h1.1v1.1h-1.1zM22.6 29h1v1h-1zM35.9 34.9h1.1v1.1h-1.1z"/><path fill="#b83a7c" d="M11.8 2.8h1.2v1.2h-1.2zM40.3 36.2h1.2v1.2h-1.2zM39.9 14.4h0.7v0.7h-0.7zM33.7 4.6h0.9v0.9h-0.9zM28.4 35.3h0.6v0.6h-0.6zM40.5 2.3h1v1h-1zM32.1 33.4h0.9v0.9h-0.9zM25.6 36.1h1.2v1.2h-1.2zM38.7 3.6h1.2v1.2h-1.2zM15.1 18.7h1.1v1.1h-1.1zM33.5 9.8h1v1h-1zM26.2 29.2h1.3v1.3h-1.3zM7.7 30.1h0.8v0.8h-0.8zM20.2 36.5h0.7v0.7h-0.7zM36.5 2.6h1.3v1.3h-1.3zM18.6 23.7h0.8v0.8h-0.8zM21.6 28.8h0.8v0.8h-0.8zM21 10.2h1.1v1.1h-1.1zM6 0h0.8v0.8h-0.8zM14.2 22.6h0.7v0.7h-0.7zM23.3 31h1v1h-1zM7.7 30.4h1.3v1.3h-1.3zM36.1 29.1h1.1v1.1h-1.1zM31 27.9h0.9v0.9h-0.9zM34.2 3.2h0.9v0.9h-0.9zM0.6 28.1h1v1h-1zM20.2 23.8h0.7v0.7h-0.7zM11.2 4.9h0.9v0.9h-0.9zM27.2 21.1h1.2v1.2h-1.2zM3.1 23.1h0.7v0.7h-0.7zM19.7 19.3h1.1v1.1h-1.1zM24.8 1.1h1.1v1.1h-1.1zM37.2 8.7h0.7v0.7h-0.7zM15.9 33.1h1.3v1.3h-1.3z"/><path fill="#c8408a" d="M26.4 22.4h0.7v0.7h-0.7zM9.9 27.6h1v1h-1zM15.2 34.8h1.2v1.2h-1.2zM13.1 35.1h1.1v1.1h-1.1zM40.3 21.8h1v1h-1zM13.2 10.6h0.7v0.7h-0.7zM19.1 23.7h1v1h-1zM11.1 33.6h0.8v0.8h-0.8zM2.4 14.8h0.8v0.8h-0.8zM18.8 2.3h1.2v1.2h-1.2zM15.2 0.1h0.7v0.7h-0.7zM8.2 4.5h0.9v0.9h-0.9zM33.9 35.9h0.9v0.9h-0.9zM0.3 4.6h0.9v0.9h-0.9zM31 9.3h1.2v1.2h-1.2zM15.5 16.3h0.8v0.8h-0.8zM34.9 28.9h1.3v1.3h-1.3zM13.6 15.2h0.8v0.8h-0.8zM8.5 31.6h0.9v0.9h-0.9zM10.7 18h0.9v0.9h-0.9zM20.3 22.1h0.6v0.6h-0.6zM7.6 22.6h1.2v1.2h-1.2zM36.7 17.4h0.7v0.7h-0.7zM20.6 15.4h1v1h-1zM39.9 29.4h0.8v0.8h-0.8zM7.2 29.1h0.8v0.8h-0.8zM28.1 27.5h1.3v1.3h-1.3zM2.6 21.5h1.1v1.1h-1.1zM10 27.6h0.6v0.6h-0.6zM8.1 12.1h1.1v1.1h-1.1zM32.8 16.6h1.2v1.2h-1.2zM2.6 7.4h1.1v1.1h-1.1zM2 19.7h1.2v1.2h-1.2zM13.9 -0.3h0.9v0.9h-0.9z"/><path fill="#f8c0dc" d="M33.8 2h0.6v0.6h-0.6zM25.9 3.9h0.9v0.9h-0.9zM5.7 33h1.2v1.2h-1.2zM6.9 26.3h0.7v0.7h-0.7zM6.7 13.1h1v1h-1zM26.4 25.1h1v1h-1zM2.7 2.1h0.8v0.8h-0.8zM1.3 34.1h1.1v1.1h-1.1zM0.7 21.8h0.9v0.9h-0.9zM16.1 8.7h1.1v1.1h-1.1zM28.8 34.7h0.8v0.8h-0.8zM-0.1 16.9h1.1v1.1h-1.1zM6.5 11.8h1.2v1.2h-1.2zM5 28.5h0.6v0.6h-0.6zM8.4 19.6h1v1h-1zM8.9 26.8h1.2v1.2h-1.2zM12.3 11h1.3v1.3h-1.3zM31.6 6.9h0.7v0.7h-0.7zM33.5 15h1.2v1.2h-1.2zM18.2 26.9h0.9v0.9h-0.9zM2.7 18.6h1v1h-1zM15.4 34.3h0.9v0.9h-0.9zM38 26.3h0.9v0.9h-0.9zM4.4 31.4h0.9v0.9h-0.9zM24.5 26.3h1.1v1.1h-1.1zM25.6 27.5h0.7v0.7h-0.7zM32.3 16h1.2v1.2h-1.2zM17.8 27.2h0.9v0.9h-0.9zM11.3 27.5h1.2v1.2h-1.2zM33 7.9h0.7v0.7h-0.7zM13.9 29.4h0.8v0.8h-0.8zM12.1 3.7h1.1v1.1h-1.1zM36.9 1h0.7v0.7h-0.7z"/><path fill="#a8306e" d="M2.4 27.9h0.9v0.9h-0.9zM7.7 24.5h0.8v0.8h-0.8zM8.2 23.2h0.6v0.6h-0.6zM38.9 8.3h1.1v1.1h-1.1zM3.3 4.7h0.9v0.9h-0.9zM23.7 33.7h0.9v0.9h-0.9zM37.4 9.2h0.6v0.6h-0.6zM5.4 22.1h1v1h-1zM26.4 15.7h1.2v1.2h-1.2zM35.6 13.7h1v1h-1zM14.8 20.4h1.2v1.2h-1.2zM8.1 32.6h1.3v1.3h-1.3zM6.1 18.4h1.2v1.2h-1.2zM12.5 6.6h1v1h-1zM7.6 24.6h1.3v1.3h-1.3zM24.2 2.9h1.2v1.2h-1.2zM5 11.7h1v1h-1zM1.4 9.5h1.3v1.3h-1.3zM0 9.2h0.8v0.8h-0.8zM12.3 19.1h1v1h-1zM22.4 9.9h1.1v1.1h-1.1zM6 27.5h0.9v0.9h-0.9zM30 1.2h1.3v1.3h-1.3zM24.1 23.1h1.1v1.1h-1.1zM31.2 19h1.3v1.3h-1.3zM29.8 8.5h0.7v0.7h-0.7zM31.7 22.7h0.9v0.9h-0.9zM0.7 1h0.8v0.8h-0.8zM9.1 35.8h1v1h-1zM14.5 23.5h1.3v1.3h-1.3zM17.2 13.3h0.7v0.7h-0.7zM27.9 17.7h1.1v1.1h-1.1zM22.7 33.4h1.3v1.3h-1.3zM17.5 29.3h0.8v0.8h-0.8zM9.7 12.9h0.9v0.9h-0.9zM22.5 6h1.1v1.1h-1.1zM13.4 9.8h0.7v0.7h-0.7zM24 7.9h0.7v0.7h-0.7z"/></pattern><pattern id="p8" patternUnits="userSpaceOnUse" x="0" y="0" width="41" height="37"><path fill="#50c8d8" d="M6.1 24.9h1.3v1.3h-1.3zM20.3 8.3h0.9v0.9h-0.9zM37.2 25.1h1.2v1.2h-1.2zM24.7 0.7h1.1v1.1h-1.1z"/><path fill="#6fd3d6" d="M34 36h1.2v1.2h-1.2zM37.8 15.4h1v1h-1zM27.7 23.2h1.5v1.5h-1.5zM5.9 29.8h1v1h-1z"/></pattern><clipPath id="cH1"><rect x="169.6" y="377.3" width="150.4" height="79.2"/></clipPath><clipPath id="cH1t"><polygon points="169.8,445 181.8,437 192.8,429.7 201.8,422.8 213.4,416 222.5,409 233.8,405.7 242.8,402.3 249.8,393.2 254.3,389.8 263.5,384 272.6,377.3 320.8,377.3 320.8,391 293.1,418.3 258.8,438.8 224.8,457 168.8,457"/></clipPath><pattern id="p9" patternUnits="userSpaceOnUse" x="0" y="0" width="41" height="37"><path fill="#f8c0dc" d="M18.9 23.8h1.1v1.1h-1.1zM6.3 33.2h0.7v0.7h-0.7zM21.9 23.4h0.7v0.7h-0.7zM7.8 21.9h1.1v1.1h-1.1zM28.2 31.3h0.8v0.8h-0.8zM6.9 28.9h1v1h-1zM0.7 20.2h0.8v0.8h-0.8zM25.8 15.8h0.7v0.7h-0.7zM37.1 18h1.1v1.1h-1.1zM9.6 16.4h1.2v1.2h-1.2zM6.4 17.1h1.2v1.2h-1.2zM15.2 14.2h1.2v1.2h-1.2zM31.2 31.4h0.8v0.8h-0.8zM16.7 29.2h1.2v1.2h-1.2zM24.3 24.4h0.6v0.6h-0.6zM5.3 16.3h1v1h-1zM20.7 11h0.7v0.7h-0.7zM37.8 19.1h0.9v0.9h-0.9zM21.9 30.9h0.9v0.9h-0.9zM4.4 29.6h0.7v0.7h-0.7zM5 35.3h1v1h-1zM22 32.8h0.9v0.9h-0.9zM13.6 9.6h0.6v0.6h-0.6zM26.7 17.4h0.8v0.8h-0.8zM27.4 19.1h1.1v1.1h-1.1zM17.9 2.8h1.1v1.1h-1.1zM6.4 30.8h1v1h-1zM26.2 4.8h1v1h-1zM9.1 26.6h1v1h-1zM20.6 29h0.7v0.7h-0.7zM12.5 26h0.7v0.7h-0.7zM17 9.5h0.7v0.7h-0.7zM20 15.4h0.7v0.7h-0.7z"/><path fill="#b83a7c" d="M15.2 36.4h1v1h-1zM32.1 2.6h1.3v1.3h-1.3zM18.7 19.9h0.7v0.7h-0.7zM5.7 33.7h1.2v1.2h-1.2zM20.2 17.7h0.9v0.9h-0.9zM25.7 15.9h1.2v1.2h-1.2zM11.1 8.9h1.1v1.1h-1.1zM25.8 13.9h0.7v0.7h-0.7zM24.5 7.3h1v1h-1zM2.8 11.8h1.1v1.1h-1.1zM12.2 25.2h1.1v1.1h-1.1zM19.6 16h0.7v0.7h-0.7zM20 13.9h1v1h-1zM12.6 4.1h1.1v1.1h-1.1zM20.8 1.4h1.2v1.2h-1.2zM0.2 6h0.7v0.7h-0.7zM0.8 24.9h1v1h-1zM23.7 21.1h1.2v1.2h-1.2zM33.6 29.2h0.9v0.9h-0.9zM24.2 34.6h1.3v1.3h-1.3zM15.6 16.8h0.9v0.9h-0.9zM36.5 6.8h1v1h-1zM19.3 23.8h1.1v1.1h-1.1zM32.3 27.1h1v1h-1zM37.1 8.4h1v1h-1zM24.3 26.8h1.3v1.3h-1.3zM36.3 34h1v1h-1zM24.9 11.5h1.3v1.3h-1.3zM17.8 18.6h1.3v1.3h-1.3zM10.4 26.3h0.7v0.7h-0.7zM1.6 28.9h1.1v1.1h-1.1zM33.9 6.3h1.1v1.1h-1.1zM23.3 19.8h0.9v0.9h-0.9z"/><path fill="#f590c4" d="M32.7 25h1v1h-1zM22.4 18.4h0.7v0.7h-0.7zM9.1 13h1v1h-1zM19.9 21.7h1.1v1.1h-1.1zM24.7 35.7h1.3v1.3h-1.3zM33.7 23.3h0.8v0.8h-0.8zM24.9 1.3h0.8v0.8h-0.8zM9.2 15.5h1.3v1.3h-1.3zM37.8 25h1v1h-1zM34.4 25.1h0.8v0.8h-0.8zM16.1 25.3h1.2v1.2h-1.2zM27 23.9h1.3v1.3h-1.3zM16.3 22.8h0.8v0.8h-0.8zM24.5 28.6h0.9v0.9h-0.9zM27.6 19.4h0.9v0.9h-0.9zM8 27.5h0.9v0.9h-0.9zM13.5 32.4h1.1v1.1h-1.1zM14.4 8.1h0.9v0.9h-0.9zM38.4 21.8h0.7v0.7h-0.7zM13.2 23.9h0.9v0.9h-0.9zM12.9 19.3h1.2v1.2h-1.2zM4.1 22.5h0.7v0.7h-0.7zM2.7 33.6h1v1h-1zM0.5 29h1v1h-1zM14.2 1.1h0.8v0.8h-0.8zM25.2 20.2h0.6v0.6h-0.6zM39.8 30.7h1.1v1.1h-1.1zM5.9 2.6h1.3v1.3h-1.3zM31.9 35.3h1.2v1.2h-1.2zM9.8 14h1v1h-1zM27.2 0.3h0.7v0.7h-0.7zM-0.4 6.8h1v1h-1zM7.8 28.2h1.3v1.3h-1.3zM18.9 23.3h0.9v0.9h-0.9z"/><path fill="#a8306e" d="M-0.6 22.4h1.3v1.3h-1.3zM4.3 15.3h0.7v0.7h-0.7zM39.6 24.1h0.9v0.9h-0.9zM35.1 13.9h0.8v0.8h-0.8zM7 25.4h0.6v0.6h-0.6zM8.4 21.8h1.3v1.3h-1.3zM38.5 32.7h0.7v0.7h-0.7zM22.7 26h1.3v1.3h-1.3zM31.9 21h0.9v0.9h-0.9zM32.1 25.9h0.7v0.7h-0.7zM15.7 8.6h0.9v0.9h-0.9zM38.3 -0.1h0.9v0.9h-0.9zM12.8 18.1h0.9v0.9h-0.9zM9.7 1.1h1.2v1.2h-1.2zM32 30.6h0.7v0.7h-0.7zM33.1 12.7h1.1v1.1h-1.1zM32.5 33.6h1.3v1.3h-1.3zM21.8 0.2h1.3v1.3h-1.3zM34.7 32.7h0.6v0.6h-0.6zM0.3 5.2h1.1v1.1h-1.1zM4.4 21.2h1v1h-1zM13.1 13.2h1.2v1.2h-1.2zM16 7.2h0.8v0.8h-0.8zM24.9 31.4h0.7v0.7h-0.7zM27.2 5.9h0.9v0.9h-0.9zM2.4 25.1h0.7v0.7h-0.7zM36.1 28.8h0.9v0.9h-0.9zM5.4 7.8h1.2v1.2h-1.2zM10.9 11.1h0.8v0.8h-0.8zM27.2 31.6h1.1v1.1h-1.1zM22.8 25.4h1.1v1.1h-1.1zM7.8 34.7h1.3v1.3h-1.3zM37 11.4h0.6v0.6h-0.6zM36.7 19.3h0.9v0.9h-0.9zM4.3 23.7h0.8v0.8h-0.8zM21.9 8.6h1.2v1.2h-1.2zM5.8 2.6h0.8v0.8h-0.8zM3.8 9.6h1.1v1.1h-1.1zM32.6 15h0.7v0.7h-0.7zM40.1 -0.3h0.9v0.9h-0.9zM2.8 12.2h0.6v0.6h-0.6zM3.2 2.4h1.1v1.1h-1.1zM18.9 1.3h1.1v1.1h-1.1z"/><path fill="#ffffff" d="M2.6 25h0.8v0.8h-0.8zM20.2 2.7h1.3v1.3h-1.3zM16.7 21.6h0.9v0.9h-0.9zM20.8 7.8h0.9v0.9h-0.9zM18.4 7.3h0.8v0.8h-0.8zM30.7 14.9h1v1h-1zM36.7 19.2h1.2v1.2h-1.2zM26.4 12h1.2v1.2h-1.2zM-0.2 4.2h0.9v0.9h-0.9zM25.5 16.8h1.1v1.1h-1.1zM27.8 34.8h1.1v1.1h-1.1zM37.9 13h0.8v0.8h-0.8zM4.6 15.7h0.9v0.9h-0.9zM30.6 12.1h0.9v0.9h-0.9zM22.6 30.5h1.1v1.1h-1.1zM22 21.5h1v1h-1zM25.6 23.1h1v1h-1zM30.1 11.1h0.7v0.7h-0.7zM36.4 5h1.2v1.2h-1.2zM5.9 3.9h1.2v1.2h-1.2zM32 9.2h1v1h-1zM31.8 35.4h1.1v1.1h-1.1zM33.8 0.4h0.7v0.7h-0.7zM30.2 10h1.1v1.1h-1.1zM14.2 3h1v1h-1zM24.9 30h1.1v1.1h-1.1zM40.4 20.4h0.8v0.8h-0.8zM5.4 10.7h0.8v0.8h-0.8zM35.4 15.5h1.3v1.3h-1.3zM3.1 -0.1h0.8v0.8h-0.8zM27.2 31.3h1.3v1.3h-1.3zM3.4 32.5h0.7v0.7h-0.7zM6.3 36h1.2v1.2h-1.2zM28.6 34.8h0.7v0.7h-0.7zM12.2 19.1h1v1h-1z"/><path fill="#c8408a" d="M35.5 20h1.3v1.3h-1.3zM6.7 13.5h1.2v1.2h-1.2zM28.5 32.9h1.2v1.2h-1.2zM23.7 16.3h1.2v1.2h-1.2zM22.8 11h1.1v1.1h-1.1zM30.2 31.3h1v1h-1zM22.1 35.2h0.9v0.9h-0.9zM34.1 4.5h0.7v0.7h-0.7zM38.7 27h1.3v1.3h-1.3zM30.1 8.9h0.9v0.9h-0.9zM3.6 8.7h1.2v1.2h-1.2zM13.6 14.4h0.7v0.7h-0.7zM23.2 6.2h0.9v0.9h-0.9zM4.6 7.1h1.2v1.2h-1.2zM34 23.4h0.9v0.9h-0.9zM40 13.6h1.2v1.2h-1.2zM27.9 12.3h1.1v1.1h-1.1zM35.1 11h1.3v1.3h-1.3zM36.3 32.4h0.7v0.7h-0.7zM29.1 22.6h1.1v1.1h-1.1zM35.6 24.3h0.9v0.9h-0.9zM17.5 31.5h0.7v0.7h-0.7zM26.1 25.6h1.2v1.2h-1.2zM37.1 0.5h0.8v0.8h-0.8zM23.4 15.6h1.2v1.2h-1.2zM14.8 9.9h0.9v0.9h-0.9zM31.5 17.3h0.9v0.9h-0.9zM35.9 27.9h0.9v0.9h-0.9zM12.2 10.5h1.1v1.1h-1.1zM33 26.9h0.8v0.8h-0.8zM5.4 28.8h1v1h-1zM14.6 5.9h0.9v0.9h-0.9zM11.9 27.3h1.3v1.3h-1.3zM25.3 31.5h0.8v0.8h-0.8zM1.1 35.8h1.1v1.1h-1.1z"/></pattern><pattern id="p10" patternUnits="userSpaceOnUse" x="0" y="0" width="41" height="37"><path fill="#3d5ad0" d="M-0.2 3.5h1.4v1.4h-1.4zM1 34.4h1.5v1.5h-1.5zM30.2 4.6h1.6v1.6h-1.6zM1.7 7.7h1.6v1.6h-1.6zM11.3 20.4h1.4v1.4h-1.4zM31.8 10.7h1.2v1.2h-1.2zM7.1 33.3h1.5v1.5h-1.5zM22.5 3.8h1.1v1.1h-1.1zM4.2 6.5h1.3v1.3h-1.3zM40 5.1h1.1v1.1h-1.1zM31.7 9.6h1.3v1.3h-1.3zM6.6 1.1h1.1v1.1h-1.1zM38 31.3h1.6v1.6h-1.6zM17.9 25h1.5v1.5h-1.5zM27.7 20.9h1.2v1.2h-1.2zM21.4 8.2h1.7v1.7h-1.7zM7.9 0.5h1.4v1.4h-1.4zM7.5 7.3h1.3v1.3h-1.3zM27 25.7h1.1v1.1h-1.1zM11.9 13.6h1.6v1.6h-1.6zM35.8 27.8h1.1v1.1h-1.1zM27.1 11.1h1.8v1.8h-1.8zM37.5 7.5h1.7v1.7h-1.7zM27.5 30.5h1.1v1.1h-1.1zM16.3 27.2h1.2v1.2h-1.2zM1.6 31.6h1.3v1.3h-1.3zM17.2 2.3h1.1v1.1h-1.1zM4.2 25.4h1.5v1.5h-1.5zM10 19.3h1.7v1.7h-1.7zM17.3 11h1.5v1.5h-1.5zM27.3 4.4h1.8v1.8h-1.8zM38.9 5.6h1.5v1.5h-1.5zM33 11.7h1.4v1.4h-1.4zM5.8 25.4h1.6v1.6h-1.6zM12.5 8.4h1.7v1.7h-1.7zM22.5 4.7h1.6v1.6h-1.6z"/><path fill="#4a68e0" d="M16.4 36.3h1.1v1.1h-1.1zM30.9 32.2h1.3v1.3h-1.3zM12.6 12.6h1.8v1.8h-1.8zM28.9 14.6h1.6v1.6h-1.6zM38.4 30.4h1.3v1.3h-1.3zM5.4 28.8h1.3v1.3h-1.3zM29.4 31.3h1.6v1.6h-1.6zM33.4 34.7h1.8v1.8h-1.8zM37.7 30.4h1.3v1.3h-1.3zM7.6 11.7h1.4v1.4h-1.4zM4.9 26h1.6v1.6h-1.6zM1.4 22.1h1.2v1.2h-1.2zM38.7 3.5h1.2v1.2h-1.2zM37.8 9.7h1.2v1.2h-1.2zM1.9 4.9h1.7v1.7h-1.7zM36 35.2h1.2v1.2h-1.2zM34.1 19.4h1.3v1.3h-1.3zM5.1 1.1h1.3v1.3h-1.3zM10.4 27.3h1.6v1.6h-1.6zM24.8 6.9h1.2v1.2h-1.2zM35 4h1.4v1.4h-1.4zM32.8 35.1h1.1v1.1h-1.1zM35.5 19.6h1.5v1.5h-1.5zM9.9 2h1.5v1.5h-1.5zM35.3 12.5h1.4v1.4h-1.4zM19.8 34.3h1.2v1.2h-1.2zM30.1 32.8h1.5v1.5h-1.5zM11.6 1.3h1.3v1.3h-1.3zM1.9 14.2h1.5v1.5h-1.5zM39.1 31.1h1.6v1.6h-1.6zM28.5 22.8h1.2v1.2h-1.2zM26.9 32.6h1.3v1.3h-1.3z"/><path fill="#5573ea" d="M7.8 15.3h1.3v1.3h-1.3zM25.7 7.6h1.1v1.1h-1.1zM38.6 24.1h1.3v1.3h-1.3zM26 36.1h1.2v1.2h-1.2zM19.2 21h1.7v1.7h-1.7zM9.5 27.4h1.8v1.8h-1.8zM9 2.8h1.5v1.5h-1.5zM15.6 18.6h1.6v1.6h-1.6zM12 29.7h1.3v1.3h-1.3zM4.2 28.2h1.6v1.6h-1.6zM4.3 15.1h1.2v1.2h-1.2zM35.3 6.7h1.8v1.8h-1.8zM37.8 0.7h1.4v1.4h-1.4zM9.8 6.6h1.7v1.7h-1.7zM35.4 24.8h1.7v1.7h-1.7zM39.6 9.6h1.3v1.3h-1.3zM11.6 33h1.5v1.5h-1.5zM19.5 10.6h1.4v1.4h-1.4zM9.4 25.6h1.1v1.1h-1.1zM1.8 8.5h1.4v1.4h-1.4zM5 0h1.7v1.7h-1.7zM36.1 29.8h1.6v1.6h-1.6zM8.9 36h1.4v1.4h-1.4zM1.4 20.2h1.8v1.8h-1.8zM31.5 34.6h1.5v1.5h-1.5zM16.7 19.7h1.7v1.7h-1.7zM10.4 11.7h1.8v1.8h-1.8zM33.3 21.3h1.7v1.7h-1.7zM13.4 6.3h1.2v1.2h-1.2zM28.3 10.7h1.6v1.6h-1.6zM35.1 17.1h1.2v1.2h-1.2zM19 1.5h1.5v1.5h-1.5zM34.4 10.8h1.1v1.1h-1.1zM32.9 31.6h1.2v1.2h-1.2zM30.5 25.9h1.4v1.4h-1.4zM2.1 0.2h1.1v1.1h-1.1zM22.6 8.1h1.3v1.3h-1.3zM25.9 12h1.5v1.5h-1.5zM18.6 28h1.5v1.5h-1.5zM28.8 32.1h1.2v1.2h-1.2zM19.5 12.1h1.2v1.2h-1.2zM28 34.1h1.3v1.3h-1.3zM26.2 34.4h1.8v1.8h-1.8zM13.5 23.3h1.2v1.2h-1.2zM22.7 35.8h1.1v1.1h-1.1z"/></pattern><pattern id="p11" patternUnits="userSpaceOnUse" x="0" y="0" width="41" height="37"><path fill="#f03ccc" d="M2.6 7.3h1.1v1.1h-1.1zM14.5 -0.7h1.4v1.4h-1.4zM20.8 17.2h1.4v1.4h-1.4zM33.8 34.7h1.1v1.1h-1.1zM13.1 0.7h1.3v1.3h-1.3zM6.2 29.4h1.4v1.4h-1.4zM16.9 1.9h1.3v1.3h-1.3zM17.8 25.5h1v1h-1zM4.8 9h1.3v1.3h-1.3zM15.3 6.7h1v1h-1zM23.1 13h1.5v1.5h-1.5zM24.1 29.7h1.4v1.4h-1.4zM24.8 35.2h1.3v1.3h-1.3zM11.8 33.3h1.3v1.3h-1.3zM15 29.9h1v1h-1zM35.6 1.1h1.3v1.3h-1.3zM27.1 27.7h1.2v1.2h-1.2zM15.7 6.4h1.4v1.4h-1.4zM8.8 15.7h1.2v1.2h-1.2zM-0.3 30.1h1.1v1.1h-1.1zM4.5 2.4h1.5v1.5h-1.5zM39.1 31.3h1.4v1.4h-1.4zM12 6.2h1.1v1.1h-1.1zM3.6 34.9h1v1h-1zM-0 20.3h1v1h-1zM3.7 24.5h1.4v1.4h-1.4z"/><path fill="#ee48c8" d="M19.8 26.1h1v1h-1zM33.8 18.6h1.5v1.5h-1.5zM17.2 15.2h1.5v1.5h-1.5zM8.6 16.6h1.4v1.4h-1.4zM31 21.2h1.1v1.1h-1.1zM2.5 23.8h1.5v1.5h-1.5zM20.1 18.8h1.2v1.2h-1.2zM19.4 34.6h1.5v1.5h-1.5zM21 18.3h1.1v1.1h-1.1zM38.2 21.2h1.6v1.6h-1.6zM31.3 14.9h1.1v1.1h-1.1zM2.9 11.2h1.1v1.1h-1.1zM4.8 25h1.1v1.1h-1.1zM9.4 11.1h1.4v1.4h-1.4zM6.9 35.8h1.3v1.3h-1.3z"/></pattern><clipPath id="cHY0"><rect x="398" y="377.4" width="107.2" height="78.6"/></clipPath><clipPath id="cHY0t"><polygon points="396,452 400.8,450.5 405.6,433 413.7,423 427.4,418.5 430.6,410.3 428,404 431,399 436,394 433,388 432,380 434,377 487.5,376.5 470,394 451.4,412 440,433 430.5,457 396,457"/></clipPath><pattern id="p12" patternUnits="userSpaceOnUse" x="0" y="0" width="41" height="37"><path fill="#ffffff" d="M15.3 8.2h0.7v0.7h-0.7zM23.2 25h1v1h-1zM11.8 4.9h1.1v1.1h-1.1zM9 24.7h0.7v0.7h-0.7zM24 25.9h1v1h-1zM5.6 18.5h1.3v1.3h-1.3zM26.9 25.3h0.8v0.8h-0.8zM36.7 10.4h0.8v0.8h-0.8zM29.2 6.6h0.7v0.7h-0.7zM2.9 23.7h1.3v1.3h-1.3zM21.9 32.6h0.8v0.8h-0.8zM2.6 14h0.7v0.7h-0.7zM0.1 23.6h0.8v0.8h-0.8zM1.6 30.9h0.7v0.7h-0.7zM3.2 24.8h0.8v0.8h-0.8zM0.5 5.1h0.9v0.9h-0.9zM18.3 31.4h1.1v1.1h-1.1zM5 34.9h0.6v0.6h-0.6zM39 14.2h1.1v1.1h-1.1zM33.9 14.5h0.7v0.7h-0.7zM38 24.4h0.9v0.9h-0.9zM25 0.7h0.9v0.9h-0.9zM29 22.9h1.3v1.3h-1.3zM8.2 30.7h0.7v0.7h-0.7zM1.8 6.5h0.8v0.8h-0.8zM11.7 36.5h0.7v0.7h-0.7zM37.6 27.7h0.7v0.7h-0.7zM37.7 28.6h1v1h-1zM21.1 25.7h1.1v1.1h-1.1zM37.9 7.2h1.1v1.1h-1.1zM25.9 23.4h1v1h-1zM36.2 20h1.3v1.3h-1.3zM34.5 20.2h1.3v1.3h-1.3zM28.5 15.2h0.8v0.8h-0.8zM10.8 32.5h0.8v0.8h-0.8zM38.4 11.9h1v1h-1zM21.5 7.5h1.1v1.1h-1.1zM0.5 11h0.9v0.9h-0.9zM28 7.8h0.9v0.9h-0.9zM29.1 35.7h1v1h-1zM17.9 2.5h1.1v1.1h-1.1zM8.4 22h1.2v1.2h-1.2zM13 11.1h1v1h-1zM17.7 20.5h0.8v0.8h-0.8zM20.5 35.1h1v1h-1zM32.1 4h1.1v1.1h-1.1z"/><path fill="#f8c0dc" d="M34.6 27.9h0.6v0.6h-0.6zM26.7 30.6h0.9v0.9h-0.9zM0.8 31.5h1.2v1.2h-1.2zM36.5 6.2h0.8v0.8h-0.8zM0.3 23.7h1.2v1.2h-1.2zM35.7 23.8h0.8v0.8h-0.8zM2.9 20h0.8v0.8h-0.8zM7.1 24.3h0.7v0.7h-0.7zM37.4 33.1h0.8v0.8h-0.8zM20.1 21.6h0.8v0.8h-0.8zM23.5 15.5h0.6v0.6h-0.6zM25 20.1h1v1h-1zM24.1 24.1h0.9v0.9h-0.9zM28 5.3h1.1v1.1h-1.1zM19.5 26.8h0.8v0.8h-0.8zM38 11.7h0.8v0.8h-0.8zM28.5 3.7h0.9v0.9h-0.9zM2.4 26.1h0.8v0.8h-0.8zM11.2 31h1.3v1.3h-1.3zM37.4 21.5h1v1h-1zM38.9 30.2h0.8v0.8h-0.8zM30.8 5.2h1.2v1.2h-1.2zM4.6 34.3h0.9v0.9h-0.9zM27.8 23.2h0.9v0.9h-0.9zM26.5 28.2h0.7v0.7h-0.7zM18.5 11.9h1v1h-1zM2.7 12.5h1.3v1.3h-1.3zM9.7 6.6h1.1v1.1h-1.1zM19.9 20h0.7v0.7h-0.7zM30.6 0.6h0.9v0.9h-0.9zM8.1 16.6h1v1h-1zM13.9 25.3h1v1h-1zM34.2 33.2h1.1v1.1h-1.1zM-0 7.7h1.2v1.2h-1.2zM31.6 5.9h1.3v1.3h-1.3zM15.1 7.4h0.9v0.9h-0.9zM23.8 12h0.7v0.7h-0.7zM14.9 8.6h1.3v1.3h-1.3zM1.5 4h1.3v1.3h-1.3z"/><path fill="#a8306e" d="M40 35.8h0.8v0.8h-0.8zM15.7 12.8h0.8v0.8h-0.8zM35.1 9.8h1v1h-1zM7.6 29.3h0.8v0.8h-0.8zM23.8 13.5h0.8v0.8h-0.8zM10.7 30.9h1.2v1.2h-1.2zM12.5 9.9h1.3v1.3h-1.3zM1.1 7.1h0.8v0.8h-0.8zM7.1 36h0.8v0.8h-0.8zM6.2 30.3h0.7v0.7h-0.7zM34.3 17.9h0.9v0.9h-0.9zM34.7 34.4h1.2v1.2h-1.2zM9.1 12.5h0.7v0.7h-0.7zM23.7 6.6h1.3v1.3h-1.3zM1.5 21.6h1.2v1.2h-1.2zM15.8 2.2h1.3v1.3h-1.3zM19.4 2.2h0.7v0.7h-0.7zM13 23h1.2v1.2h-1.2zM-0.1 12.3h1.3v1.3h-1.3zM24.1 32.2h1.1v1.1h-1.1zM32.1 13.9h1.1v1.1h-1.1zM10.9 33.7h1.1v1.1h-1.1zM17.7 9.1h1.2v1.2h-1.2zM8.9 33.2h0.9v0.9h-0.9zM8.6 26h0.7v0.7h-0.7zM15.1 34.7h1v1h-1zM12.1 31.4h0.7v0.7h-0.7zM32.6 27.7h0.6v0.6h-0.6zM37.6 33.1h0.9v0.9h-0.9zM23.6 34.2h0.8v0.8h-0.8zM8.8 10h1.2v1.2h-1.2zM0.3 16.7h1.1v1.1h-1.1z"/><path fill="#f590c4" d="M26.5 22.6h0.7v0.7h-0.7zM2.5 12.9h0.9v0.9h-0.9zM9.6 13.4h1.1v1.1h-1.1zM29.5 28.7h0.7v0.7h-0.7zM15.3 6.4h1v1h-1zM20.6 6.5h0.7v0.7h-0.7zM39.5 27.2h1.2v1.2h-1.2zM10.5 2.8h1.2v1.2h-1.2zM0.3 17.8h1.1v1.1h-1.1zM22.6 35h1.2v1.2h-1.2zM15.5 32.8h0.7v0.7h-0.7zM25.8 33.7h1.2v1.2h-1.2zM38.6 33.4h1.2v1.2h-1.2zM4.9 9h0.7v0.7h-0.7zM-0 17.9h0.7v0.7h-0.7zM10 7.8h0.7v0.7h-0.7zM37.9 18.4h1.2v1.2h-1.2zM24.1 5.8h1.2v1.2h-1.2zM17.1 3.6h1.2v1.2h-1.2zM38.6 4.2h1v1h-1zM25.1 4.3h1.1v1.1h-1.1zM18.8 21.4h1.3v1.3h-1.3zM30.4 19.6h1.2v1.2h-1.2zM27.3 28.1h1.2v1.2h-1.2zM32.5 28.4h1.2v1.2h-1.2zM33.1 7.3h1.3v1.3h-1.3zM6.3 14.1h1.2v1.2h-1.2zM2.6 30.7h1.2v1.2h-1.2zM39.8 12.5h1.2v1.2h-1.2zM39.4 4.4h0.6v0.6h-0.6zM6.7 5.3h1v1h-1zM3.2 24h0.6v0.6h-0.6zM16.5 7h1.2v1.2h-1.2z"/><path fill="#b83a7c" d="M26.8 4h1.3v1.3h-1.3zM0.4 4.5h0.9v0.9h-0.9zM32.5 25.9h1.1v1.1h-1.1zM35.5 27.5h0.7v0.7h-0.7zM28.5 32.7h0.9v0.9h-0.9zM39 8.5h0.9v0.9h-0.9zM39.3 9.8h0.8v0.8h-0.8zM15 32.2h1.1v1.1h-1.1zM0.6 21.2h1.3v1.3h-1.3zM38.2 30.2h0.7v0.7h-0.7zM32.9 19.2h1.1v1.1h-1.1zM35.4 18.7h0.7v0.7h-0.7zM7.3 32.7h1.3v1.3h-1.3zM4.5 0.2h0.7v0.7h-0.7zM31.1 14.4h1.1v1.1h-1.1zM27.7 19.3h0.8v0.8h-0.8zM30.5 19h0.7v0.7h-0.7zM12 14.5h1v1h-1zM18.1 2.4h1.2v1.2h-1.2zM16.2 12.7h0.8v0.8h-0.8zM5.3 10.4h1.3v1.3h-1.3zM30 22.3h0.7v0.7h-0.7zM11.4 14.2h0.9v0.9h-0.9zM12.1 32.8h0.7v0.7h-0.7zM1.8 12.6h1.2v1.2h-1.2zM17.2 14.3h1.2v1.2h-1.2zM16.4 6.6h1.3v1.3h-1.3zM37.2 25.5h0.8v0.8h-0.8zM18.4 5.8h1.2v1.2h-1.2zM1.7 15.4h0.8v0.8h-0.8zM2.9 15.9h1v1h-1zM28.2 31.1h1.3v1.3h-1.3zM33.3 29.7h0.7v0.7h-0.7zM38.6 25.9h1.1v1.1h-1.1zM4.7 28.6h1.3v1.3h-1.3zM13.2 33.4h0.8v0.8h-0.8zM27 28.3h1v1h-1z"/><path fill="#c8408a" d="M25 22.1h0.7v0.7h-0.7zM16.1 19.3h0.8v0.8h-0.8zM30.3 22.1h0.9v0.9h-0.9zM18.3 26.1h1.2v1.2h-1.2zM22 22.6h1v1h-1zM10.2 13.7h0.8v0.8h-0.8zM15.9 17.6h1.2v1.2h-1.2zM0.3 11.1h0.8v0.8h-0.8zM30.3 13.2h1.2v1.2h-1.2zM6.8 5.6h0.7v0.7h-0.7zM12.5 33h0.8v0.8h-0.8zM6 34.1h1.2v1.2h-1.2zM3.2 27.5h1.1v1.1h-1.1zM3.3 36.1h0.9v0.9h-0.9zM31.7 22.7h0.8v0.8h-0.8zM30.8 3h0.7v0.7h-0.7zM38.4 34.1h0.8v0.8h-0.8zM26.6 1.3h1.1v1.1h-1.1zM39.9 30.5h1v1h-1zM5.8 23.2h0.9v0.9h-0.9zM25.9 10.1h1v1h-1zM21.1 21.4h1.2v1.2h-1.2zM22.2 14.3h1v1h-1zM26.2 10.3h1.1v1.1h-1.1zM26.4 35h1.1v1.1h-1.1zM17.5 7.9h1.2v1.2h-1.2zM25.1 21.9h0.8v0.8h-0.8zM38.1 -0.2h1.2v1.2h-1.2zM4.2 8.5h1.1v1.1h-1.1z"/></pattern><clipPath id="cHP0"><polygon points="487.5,377 470,394 451.4,412 440,433 430.5,457 443,457 466,433 486,412 494,394 500,377"/></clipPath><pattern id="p13" patternUnits="userSpaceOnUse" x="0" y="0" width="41" height="37"><path fill="#d86aa0" d="M10.9 17.8h0.6v0.6h-0.6zM6.6 8.9h0.9v0.9h-0.9zM3.4 2.9h0.9v0.9h-0.9zM26.1 21.7h0.6v0.6h-0.6zM16.7 30.6h0.6v0.6h-0.6zM26 18.8h0.9v0.9h-0.9zM0.7 36.3h0.8v0.8h-0.8zM36.4 2.1h0.6v0.6h-0.6zM30.5 16h1v1h-1zM26.2 9.8h0.9v0.9h-0.9zM6.4 19.2h0.5v0.5h-0.5z"/><path fill="#e68ab8" d="M0.6 17.6h0.6v0.6h-0.6zM2.2 9.6h1v1h-1zM8.2 30.9h0.9v0.9h-0.9zM24.9 5h0.6v0.6h-0.6zM37 12.6h0.9v0.9h-0.9zM9.9 26h0.7v0.7h-0.7zM25.5 28.2h0.7v0.7h-0.7zM7.2 22.7h0.6v0.6h-0.6zM11.1 15.9h0.7v0.7h-0.7zM34.2 3.1h0.8v0.8h-0.8z"/><path fill="#f0b0d0" d="M38.8 31.2h0.9v0.9h-0.9zM31.6 25.4h1v1h-1zM26.6 31.6h0.9v0.9h-0.9zM22.5 20.4h0.6v0.6h-0.6zM24.6 0.6h1v1h-1zM-0.3 33.4h0.9v0.9h-0.9zM32.1 5.6h0.9v0.9h-0.9z"/></pattern><pattern id="p14" patternUnits="userSpaceOnUse" x="0" y="0" width="41" height="37"><path fill="#6fd3d6" d="M9.5 18.1h1v1h-1zM33.5 8.8h1.3v1.3h-1.3zM29.4 19.7h1.2v1.2h-1.2z"/></pattern><clipPath id="cHY1"><rect x="505.4" y="377.4" width="107.2" height="78.6"/></clipPath><clipPath id="cHY1t"><polygon points="503.4,452 508.2,450.5 513,433 521.1,423 534.8,418.5 538,410.3 535.4,404 538.4,399 543.4,394 540.4,388 539.4,380 541.4,377 594.9,376.5 577.4,394 558.8,412 547.4,433 537.9,457 503.4,457"/></clipPath><pattern id="p15" patternUnits="userSpaceOnUse" x="0" y="0" width="41" height="37"><path fill="#f8c0dc" d="M25.8 0.5h0.8v0.8h-0.8zM3.2 15.3h0.6v0.6h-0.6zM10.8 31.6h1.1v1.1h-1.1zM19.6 27.4h1.2v1.2h-1.2zM11.7 23.1h1v1h-1zM6.3 19h1v1h-1zM13.5 21.4h0.8v0.8h-0.8zM36.8 31.5h0.7v0.7h-0.7zM29.5 29.3h0.7v0.7h-0.7zM39.1 33.7h1.2v1.2h-1.2zM26.8 17.6h0.7v0.7h-0.7zM6.1 35.2h0.7v0.7h-0.7zM35.7 32.1h0.9v0.9h-0.9zM30 5.3h0.8v0.8h-0.8zM13 4.2h1.3v1.3h-1.3zM4 34.4h1.1v1.1h-1.1zM21.9 30.4h1v1h-1zM30.3 33.9h0.8v0.8h-0.8zM13.7 29.7h1.2v1.2h-1.2zM12.9 25.3h1v1h-1zM16.7 34.3h1.1v1.1h-1.1zM26.4 16.7h0.9v0.9h-0.9zM24.8 2.8h1.3v1.3h-1.3zM2.9 5.1h0.9v0.9h-0.9zM36.2 16.7h0.7v0.7h-0.7zM10.8 9h0.7v0.7h-0.7zM30.8 21.9h1.2v1.2h-1.2zM2.1 35.2h0.7v0.7h-0.7zM25.3 9.5h0.7v0.7h-0.7zM8.8 5.1h0.8v0.8h-0.8zM29.8 22h0.6v0.6h-0.6zM4.5 35.5h1v1h-1zM7.2 21.6h1.1v1.1h-1.1z"/><path fill="#f590c4" d="M5.2 3.2h1.1v1.1h-1.1zM26.3 19.8h0.8v0.8h-0.8zM24.2 29.3h1.1v1.1h-1.1zM33.4 22.3h1.2v1.2h-1.2zM18.4 9.4h0.8v0.8h-0.8zM21.6 27.2h0.9v0.9h-0.9zM15.7 7.5h1.3v1.3h-1.3zM38.7 32h0.8v0.8h-0.8zM14.7 5.3h1.3v1.3h-1.3zM3.2 17.7h0.7v0.7h-0.7zM30.9 4.3h0.9v0.9h-0.9zM18.6 32h0.7v0.7h-0.7zM11.1 25.2h1.1v1.1h-1.1zM12.4 1.4h0.9v0.9h-0.9zM4.5 32.5h0.8v0.8h-0.8zM1.1 2.5h1.1v1.1h-1.1zM13.9 20.1h1.2v1.2h-1.2zM17.5 36.1h0.7v0.7h-0.7zM7.3 1.2h0.9v0.9h-0.9zM11.9 7.2h1.2v1.2h-1.2zM18.2 29.1h1.1v1.1h-1.1zM23.8 34.5h1.2v1.2h-1.2zM33 32.5h0.9v0.9h-0.9zM10.1 8.6h1.1v1.1h-1.1zM11.3 9.6h0.8v0.8h-0.8zM28.5 1.9h0.9v0.9h-0.9zM36.5 21.1h1.1v1.1h-1.1zM31.5 5.6h0.8v0.8h-0.8zM34.5 21.9h0.7v0.7h-0.7zM29.7 35.3h0.8v0.8h-0.8zM31.2 16.6h1.2v1.2h-1.2zM10.9 16.1h1.1v1.1h-1.1zM10.9 21.4h1.2v1.2h-1.2zM4.2 1.9h1v1h-1zM25.4 1.6h0.7v0.7h-0.7zM38.5 2.8h0.8v0.8h-0.8zM34.9 36.2h0.8v0.8h-0.8zM9 9.2h1.2v1.2h-1.2zM26.7 34.1h0.9v0.9h-0.9zM27.6 25.3h1.3v1.3h-1.3zM9.8 3.7h1.2v1.2h-1.2zM25.3 27.7h0.8v0.8h-0.8z"/><path fill="#b83a7c" d="M9 21.8h1v1h-1zM14 24.2h1.1v1.1h-1.1zM26.2 22.2h0.7v0.7h-0.7zM9.6 16.7h0.8v0.8h-0.8zM2.2 33.3h1v1h-1zM12.5 23.8h0.9v0.9h-0.9zM39.5 31.5h0.6v0.6h-0.6zM4.1 32.2h1.1v1.1h-1.1zM30.9 18.4h0.7v0.7h-0.7zM37.5 27.4h1.1v1.1h-1.1zM10.9 17.5h1v1h-1zM39.2 20.9h1v1h-1zM21.1 34.2h0.8v0.8h-0.8zM12.5 9.5h0.7v0.7h-0.7zM17.6 19.7h0.8v0.8h-0.8zM21.2 24.2h1v1h-1zM37.4 19.4h1.1v1.1h-1.1zM29.8 6.8h0.9v0.9h-0.9zM20.3 28.7h1.3v1.3h-1.3zM6.5 2.7h1v1h-1zM18.2 32.3h1v1h-1zM28.2 17.9h0.8v0.8h-0.8zM31.3 7.5h1.2v1.2h-1.2zM19.4 8.4h0.9v0.9h-0.9zM34.5 34.8h0.9v0.9h-0.9zM15.9 26.1h0.7v0.7h-0.7zM33.1 3.3h1.3v1.3h-1.3zM0.1 34.7h0.7v0.7h-0.7zM11.7 14.6h0.8v0.8h-0.8zM12.3 26.8h1.3v1.3h-1.3zM7.1 7.5h1v1h-1zM28.5 25.5h0.9v0.9h-0.9zM2.5 5.7h0.8v0.8h-0.8zM37 6.2h1v1h-1zM38.5 23.6h0.7v0.7h-0.7z"/><path fill="#a8306e" d="M28.3 12.2h0.7v0.7h-0.7zM3.8 13.6h0.9v0.9h-0.9zM4.8 33.8h0.7v0.7h-0.7zM7.3 2h1.1v1.1h-1.1zM11 23.1h0.9v0.9h-0.9zM9 0.8h0.8v0.8h-0.8zM15.3 21.6h0.9v0.9h-0.9zM37.5 31.9h1.2v1.2h-1.2zM7.3 16.1h0.9v0.9h-0.9zM2.6 7.5h0.8v0.8h-0.8zM28.9 7h1.1v1.1h-1.1zM32.3 31.4h1.2v1.2h-1.2zM4.4 35.5h0.7v0.7h-0.7zM1.1 21.6h0.9v0.9h-0.9zM8.7 15.8h0.6v0.6h-0.6zM19 27.4h0.6v0.6h-0.6zM22.6 7.5h1.1v1.1h-1.1zM33.5 8.4h1.1v1.1h-1.1zM31.6 12.4h0.9v0.9h-0.9zM24.7 13.7h0.6v0.6h-0.6zM6.9 7.3h1.2v1.2h-1.2zM33.7 10.5h0.9v0.9h-0.9zM31.2 13.4h1.2v1.2h-1.2zM27.9 17.1h0.6v0.6h-0.6zM13.1 24.2h1.2v1.2h-1.2zM32.9 19.9h0.9v0.9h-0.9z"/><path fill="#ffffff" d="M39.8 31h1.2v1.2h-1.2zM12.2 36.3h1.1v1.1h-1.1zM37.9 20.7h0.9v0.9h-0.9zM32.8 6.7h0.7v0.7h-0.7zM27.3 36.1h0.7v0.7h-0.7zM6.3 -0.4h0.9v0.9h-0.9zM2.2 1.9h1.2v1.2h-1.2zM6.8 33.6h1.2v1.2h-1.2zM34.6 7.6h1.2v1.2h-1.2zM39.1 9.8h1.1v1.1h-1.1zM29.1 10.7h0.8v0.8h-0.8zM17.7 5.3h1.2v1.2h-1.2zM18.5 1.7h1.2v1.2h-1.2zM15.2 -0.2h0.9v0.9h-0.9zM29.5 29h1.2v1.2h-1.2zM26.9 29h1.1v1.1h-1.1zM37.2 35.8h1v1h-1zM23.9 24.2h0.7v0.7h-0.7zM5.2 16.8h0.6v0.6h-0.6zM13 16.4h0.8v0.8h-0.8zM0.5 11h1.1v1.1h-1.1zM2.5 23.6h0.6v0.6h-0.6zM16.3 20.2h0.8v0.8h-0.8zM23.4 17h1v1h-1zM40.4 19.9h0.9v0.9h-0.9zM22.3 25.5h0.7v0.7h-0.7zM3.8 0h0.8v0.8h-0.8zM17.7 6.5h0.6v0.6h-0.6zM6.8 2.5h0.6v0.6h-0.6zM33.3 33.6h0.9v0.9h-0.9zM21.6 15.7h1v1h-1zM30.8 6h1v1h-1zM32.9 35.4h0.9v0.9h-0.9zM16.3 17.8h1.1v1.1h-1.1zM33.2 -0.6h1.2v1.2h-1.2zM16.5 6.5h0.9v0.9h-0.9zM4.8 10h1.2v1.2h-1.2zM28.8 11.2h0.6v0.6h-0.6zM3.2 36.1h1.3v1.3h-1.3zM11.5 25.6h0.9v0.9h-0.9zM39.7 8.5h1v1h-1z"/><path fill="#c8408a" d="M27.8 7.7h0.8v0.8h-0.8zM25.3 28.9h0.9v0.9h-0.9zM13.6 10.5h0.7v0.7h-0.7zM37.2 21.7h1v1h-1zM9.3 8.4h1v1h-1zM36.5 16.3h0.8v0.8h-0.8zM-0 25.9h0.7v0.7h-0.7zM13.9 14.6h1.2v1.2h-1.2zM3.5 23.6h1v1h-1zM16.1 17.2h1.2v1.2h-1.2zM11.7 11.1h1.1v1.1h-1.1zM-0.1 22.5h1v1h-1zM3.8 32.1h0.8v0.8h-0.8zM20.1 8.7h1.2v1.2h-1.2zM3.4 15.3h0.8v0.8h-0.8zM29.9 20h0.9v0.9h-0.9zM17.2 1.1h0.9v0.9h-0.9zM36.5 7.4h0.8v0.8h-0.8zM39.4 29.4h1.2v1.2h-1.2zM6.1 25.5h0.9v0.9h-0.9zM0.5 6.7h0.8v0.8h-0.8zM27.4 30.8h0.8v0.8h-0.8zM37.2 22.5h1.1v1.1h-1.1zM24.7 10.6h1v1h-1zM27.2 7.9h0.8v0.8h-0.8zM1.4 35.9h1v1h-1zM27.6 32.4h1.2v1.2h-1.2zM20.8 1.5h0.8v0.8h-0.8zM11 34.7h0.9v0.9h-0.9zM8.6 1.9h1.3v1.3h-1.3zM30.5 34.8h0.8v0.8h-0.8zM25 8.4h0.9v0.9h-0.9zM6.3 21.9h1.1v1.1h-1.1zM10.4 30.9h1.2v1.2h-1.2zM25.9 17.6h1.2v1.2h-1.2zM23.7 27.6h1v1h-1zM0.2 19.4h0.8v0.8h-0.8zM38.9 30.4h1v1h-1zM40.6 24.5h0.8v0.8h-0.8z"/></pattern><clipPath id="cHP1"><polygon points="594.9,377 577.4,394 558.8,412 547.4,433 537.9,457 550.4,457 573.4,433 593.4,412 601.4,394 607.4,377"/></clipPath><pattern id="p16" patternUnits="userSpaceOnUse" x="0" y="0" width="41" height="37"><path fill="#5573ea" d="M19.4 19.7h1.8v1.8h-1.8zM11.5 29.2h1.1v1.1h-1.1zM1.9 13.1h1.1v1.1h-1.1zM4 12.4h1.3v1.3h-1.3zM19.5 35.5h1.1v1.1h-1.1zM6.7 5.5h1.5v1.5h-1.5zM4.7 17.8h1.1v1.1h-1.1zM19.1 34.4h1.8v1.8h-1.8zM31.2 31.6h1.5v1.5h-1.5zM27.6 33.8h1.5v1.5h-1.5zM20.1 28.2h1.5v1.5h-1.5zM14.1 21.9h1.5v1.5h-1.5zM0.6 34.3h1.2v1.2h-1.2zM37.7 7.2h1.5v1.5h-1.5zM17.2 11.6h1.9v1.9h-1.9zM0.9 -0.3h1.1v1.1h-1.1zM26.7 11.2h1.5v1.5h-1.5zM28.1 32.4h1.2v1.2h-1.2zM5.3 3.1h1.6v1.6h-1.6zM9.7 8.6h1.4v1.4h-1.4zM2.1 13.8h1.3v1.3h-1.3zM10.1 12.7h1.2v1.2h-1.2zM13.2 25.2h1.3v1.3h-1.3zM8.2 20.4h1.5v1.5h-1.5zM15 2.3h1.6v1.6h-1.6zM30.2 11.9h1.6v1.6h-1.6zM17.4 34.8h1.6v1.6h-1.6zM32.6 15.7h1.9v1.9h-1.9zM16.3 22.5h1.2v1.2h-1.2zM9.7 18.6h1.2v1.2h-1.2zM8.9 -0.5h1.9v1.9h-1.9zM8.5 1.3h1.3v1.3h-1.3zM25 15.9h1.3v1.3h-1.3zM20.4 20.7h1.5v1.5h-1.5zM33.5 18.4h1.9v1.9h-1.9zM-0.9 21.6h1.8v1.8h-1.8zM19.8 19.6h1.2v1.2h-1.2zM14.6 6.2h1.4v1.4h-1.4zM18.1 11.9h1.7v1.7h-1.7zM32.6 13.9h1.2v1.2h-1.2zM36 35.4h1.2v1.2h-1.2zM39.5 10.9h1.2v1.2h-1.2zM32.3 30.9h1.1v1.1h-1.1zM8.6 13.2h1.9v1.9h-1.9zM33.9 10.3h1.5v1.5h-1.5zM8.4 22.5h1.2v1.2h-1.2zM18.4 24.8h1.6v1.6h-1.6zM37.8 7.2h1.4v1.4h-1.4zM34.6 1.6h1.3v1.3h-1.3z"/><path fill="#4a68e0" d="M14.1 14.3h1.3v1.3h-1.3zM13 -0.5h1.5v1.5h-1.5zM25.3 11.8h1.4v1.4h-1.4zM24.6 14.9h1.3v1.3h-1.3zM3 10.9h1.1v1.1h-1.1zM3.9 12.3h1.1v1.1h-1.1zM10.4 32.4h1.2v1.2h-1.2zM29.3 25.8h1.8v1.8h-1.8zM8 32.4h1.2v1.2h-1.2zM18.1 11.3h1.1v1.1h-1.1zM36 34.6h1.6v1.6h-1.6zM34.3 23.3h1.2v1.2h-1.2zM4.6 22.9h1.6v1.6h-1.6zM13.4 6h1.6v1.6h-1.6zM9.5 20.7h1.7v1.7h-1.7zM7.9 13h1.7v1.7h-1.7zM10.8 21.1h1.7v1.7h-1.7zM31.1 -0.6h1.5v1.5h-1.5zM24.4 18.3h1.2v1.2h-1.2zM1.7 0.7h1.3v1.3h-1.3zM38.8 11.2h1.9v1.9h-1.9zM21.9 29.3h1.1v1.1h-1.1zM36.8 10.1h1.1v1.1h-1.1zM14.2 28.5h1.8v1.8h-1.8zM31 4.5h1.8v1.8h-1.8zM24.4 26.3h1.7v1.7h-1.7zM25.6 -0.1h1.1v1.1h-1.1zM37.6 23h1.3v1.3h-1.3zM19 7.6h1.3v1.3h-1.3zM34.1 31.8h1.8v1.8h-1.8zM14.1 18.8h1.5v1.5h-1.5zM21.8 9.5h1.3v1.3h-1.3zM15.5 21.6h1.7v1.7h-1.7zM2 34.5h1.8v1.8h-1.8zM25.1 2.2h1.9v1.9h-1.9zM22.9 20h1.1v1.1h-1.1zM16.9 -0.2h1.5v1.5h-1.5zM7.7 33.4h1.9v1.9h-1.9zM35.3 22.1h1.4v1.4h-1.4zM11.5 28.2h1.3v1.3h-1.3zM22 25.6h1.7v1.7h-1.7zM16.4 2.1h1.8v1.8h-1.8zM31.6 7.8h1.6v1.6h-1.6zM6.9 35.5h1.1v1.1h-1.1zM22.3 9h1.6v1.6h-1.6zM16.4 11h1.1v1.1h-1.1zM39.1 10.3h1.8v1.8h-1.8zM12 35.1h1.1v1.1h-1.1zM27.2 6.4h1.3v1.3h-1.3zM33 16.4h1.9v1.9h-1.9zM8.8 14.1h1.8v1.8h-1.8zM14.5 1.3h1.3v1.3h-1.3zM20.3 10.4h1.9v1.9h-1.9zM20.7 33.9h1.1v1.1h-1.1zM19.4 29.4h1.7v1.7h-1.7zM16.1 10.9h1.7v1.7h-1.7zM5.2 35.9h1.1v1.1h-1.1zM10.2 34h1.8v1.8h-1.8zM36.2 29.1h1.1v1.1h-1.1z"/><path fill="#3d5ad0" d="M4.3 14h1.8v1.8h-1.8zM39.3 11.6h1.9v1.9h-1.9zM14.5 29.5h1.6v1.6h-1.6zM15.3 3h1.7v1.7h-1.7zM33.3 34.6h1.9v1.9h-1.9zM18.2 15.7h1.8v1.8h-1.8zM29.7 8.2h1.2v1.2h-1.2zM17 15.3h1.6v1.6h-1.6zM22.9 28.1h1.7v1.7h-1.7zM31.3 27h1.8v1.8h-1.8zM26.3 27.4h1.5v1.5h-1.5zM25.7 21.9h1.9v1.9h-1.9zM29.6 15.8h1.5v1.5h-1.5zM18.3 33.7h1.6v1.6h-1.6zM1.1 30h1.5v1.5h-1.5zM6.2 12.4h1.6v1.6h-1.6zM11.5 9.5h1.3v1.3h-1.3zM3.9 34.3h1.6v1.6h-1.6zM6.8 23h1.1v1.1h-1.1zM26.2 16.3h1.1v1.1h-1.1zM22.6 8h1.2v1.2h-1.2zM5 35.1h1.5v1.5h-1.5zM32.7 18.9h1.2v1.2h-1.2zM8.9 20.3h1.8v1.8h-1.8zM14.8 16h1.5v1.5h-1.5zM18.8 8h1.9v1.9h-1.9zM3.4 30.1h1.3v1.3h-1.3zM26.1 3.5h1.7v1.7h-1.7zM4.4 35.3h1.4v1.4h-1.4zM38.9 29.4h1.6v1.6h-1.6zM22.3 11.1h1.4v1.4h-1.4zM9.5 1.4h1.1v1.1h-1.1zM19.1 23.8h1.8v1.8h-1.8zM18.1 32.5h1.2v1.2h-1.2zM29.3 10.5h1.5v1.5h-1.5zM3.8 26.2h1.2v1.2h-1.2zM20.8 1.7h1.3v1.3h-1.3zM21.2 27.9h1.3v1.3h-1.3zM37.8 30.7h1.9v1.9h-1.9zM33.4 26h1.9v1.9h-1.9zM0.7 -0.4h1.1v1.1h-1.1zM9.4 18h1.7v1.7h-1.7zM32.4 13.9h1.7v1.7h-1.7zM37.3 33.5h1.8v1.8h-1.8zM18.4 22.9h1.9v1.9h-1.9zM11 19.6h1.3v1.3h-1.3zM18.4 17.2h1.4v1.4h-1.4zM1.2 16.9h1.6v1.6h-1.6zM32.8 8.8h1.5v1.5h-1.5zM23.3 1.7h1.9v1.9h-1.9zM17.1 9.6h1.6v1.6h-1.6z"/></pattern><pattern id="p17" patternUnits="userSpaceOnUse" x="0" y="0" width="41" height="37"><path fill="#f03ccc" d="M37.2 5.6h1.6v1.6h-1.6zM35.9 10.7h1.4v1.4h-1.4zM20 5.2h1.6v1.6h-1.6zM34.8 0.5h1.3v1.3h-1.3zM31.1 12h1.4v1.4h-1.4zM36 12.6h1.6v1.6h-1.6zM7.5 21.7h1v1h-1zM17.9 17.5h1.2v1.2h-1.2zM18.7 12.6h1.5v1.5h-1.5zM3.3 -0.1h1.4v1.4h-1.4zM15.8 24.9h1.4v1.4h-1.4zM13.5 14.5h1.2v1.2h-1.2zM30.7 8.1h1.5v1.5h-1.5zM31.9 26.1h1.4v1.4h-1.4zM19.6 11.9h1.3v1.3h-1.3zM5 25.8h1.2v1.2h-1.2zM15.9 13.3h1.5v1.5h-1.5zM23.6 19.7h1.4v1.4h-1.4zM29.7 24.6h1.5v1.5h-1.5zM10 24.6h1.4v1.4h-1.4zM4.1 18.8h1.1v1.1h-1.1zM33.7 0.8h1.6v1.6h-1.6zM21.4 17.7h1.6v1.6h-1.6zM39 21.1h1.1v1.1h-1.1zM2.8 28.6h1.6v1.6h-1.6zM39.1 17.6h1.3v1.3h-1.3zM12.6 27.4h1.6v1.6h-1.6zM36 28h1.2v1.2h-1.2zM8.1 29h1.1v1.1h-1.1zM10.7 10.2h1.2v1.2h-1.2zM8.1 13.9h1.6v1.6h-1.6zM19.2 9.3h1v1h-1zM37.9 31.3h1.3v1.3h-1.3zM-0.4 30.2h1.3v1.3h-1.3zM21.6 18.8h1.3v1.3h-1.3z"/><path fill="#ee48c8" d="M27.8 26h1.2v1.2h-1.2zM22.3 22h1.6v1.6h-1.6zM12 10.1h1.3v1.3h-1.3zM0 8.7h1v1h-1zM14.4 20.1h1.6v1.6h-1.6zM5.2 19.5h1.2v1.2h-1.2zM28.8 34.3h1.4v1.4h-1.4zM13.5 23.7h1.1v1.1h-1.1zM3.7 9.7h1v1h-1zM39.8 35h1.6v1.6h-1.6zM33.8 14.5h1v1h-1zM6.4 29.6h1v1h-1zM0.7 24.7h1v1h-1zM25.6 25.3h1.6v1.6h-1.6zM29.7 14.2h1.2v1.2h-1.2zM6 31.2h1.4v1.4h-1.4zM9 34.1h1.2v1.2h-1.2zM34.6 32.1h1.4v1.4h-1.4zM10.2 18.7h1v1h-1zM8.9 23.4h1.1v1.1h-1.1zM12.5 33.3h1.2v1.2h-1.2zM34.9 -0.1h1.5v1.5h-1.5zM28.5 12.8h1.4v1.4h-1.4zM40 10.7h1.3v1.3h-1.3zM39.3 3.8h1.1v1.1h-1.1zM7.3 17.1h1.3v1.3h-1.3zM1.5 6.7h1.4v1.4h-1.4zM34 27.5h1.6v1.6h-1.6zM25 17.8h1.4v1.4h-1.4zM23 19.9h1v1h-1zM24.2 22.4h1.1v1.1h-1.1zM24.6 29.8h1v1h-1zM7.2 7.2h1.1v1.1h-1.1zM17 17.5h1.3v1.3h-1.3zM31.4 34.3h1.2v1.2h-1.2zM7.1 27h1.6v1.6h-1.6zM4.4 16.3h1.4v1.4h-1.4zM18 23.3h1.6v1.6h-1.6zM26.2 19.7h1v1h-1z"/></pattern><polygon id="star" points="0,-2.15 0.59,-0.51 2.33,-0.46 0.95,0.61 1.44,2.28 0,1.3 -1.44,2.28 -0.95,0.61 -2.33,-0.46 -0.59,-0.51" fill="#111"/><clipPath id="cJ1"><rect x="19" y="827.6" width="104" height="54.8"/></clipPath><clipPath id="cJ1t"><polygon points="18,843 24,841.5 30,842.5 38,844.5 47.4,843.8 50,839.5 53.6,836.8 58,834.6 64.4,833.7 72,834 80,833 88,831.2 95.4,830.6 103,830.2 111,829 118,828 124,827.6 124,883 18,883"/></clipPath><pattern id="p18" patternUnits="userSpaceOnUse" x="0" y="0" width="41" height="37"><path fill="#f8c0dc" d="M13 22.6h0.6v0.6h-0.6zM33.3 36.6h0.8v0.8h-0.8zM21.1 34h0.9v0.9h-0.9zM14.1 14.2h0.7v0.7h-0.7zM23.7 12.6h1.3v1.3h-1.3zM33.9 29.7h1.2v1.2h-1.2zM18.6 4.2h1v1h-1zM0.2 15.3h0.7v0.7h-0.7zM15.7 16.1h1v1h-1zM37 16.4h0.7v0.7h-0.7zM7.5 16.5h0.6v0.6h-0.6zM9 10.1h0.8v0.8h-0.8zM15.4 2.6h1.2v1.2h-1.2zM23.1 3.2h0.8v0.8h-0.8zM20.2 17.6h1.3v1.3h-1.3zM14.5 19.1h1.1v1.1h-1.1zM38.2 15.3h1v1h-1zM7.7 23.9h1.2v1.2h-1.2zM37.5 13.1h0.9v0.9h-0.9zM39.6 31.8h1.3v1.3h-1.3zM11.5 13.1h0.7v0.7h-0.7zM8.5 13.5h1v1h-1zM5.2 28.2h1.1v1.1h-1.1zM9.2 23.6h0.6v0.6h-0.6zM24.4 27.2h0.9v0.9h-0.9zM6.8 30.9h1v1h-1zM16.1 8.7h0.9v0.9h-0.9zM22.1 30.9h1.3v1.3h-1.3zM36.4 6.8h0.8v0.8h-0.8zM15.8 19.2h0.7v0.7h-0.7zM17.6 26.5h1v1h-1zM25.8 11.4h1v1h-1zM40.3 15.8h0.7v0.7h-0.7zM13 7.1h0.7v0.7h-0.7zM11 17.9h1v1h-1zM8.7 0.8h1.2v1.2h-1.2zM13.9 20.3h0.8v0.8h-0.8zM8.5 30.3h0.7v0.7h-0.7zM1.1 35h0.9v0.9h-0.9zM29.7 30.1h1.2v1.2h-1.2zM31.8 30.2h1.2v1.2h-1.2zM16.5 2.9h0.7v0.7h-0.7zM18.7 6.8h1.2v1.2h-1.2zM21.8 15.4h0.6v0.6h-0.6zM3.3 1.9h0.9v0.9h-0.9zM17.9 5.6h0.7v0.7h-0.7zM33.6 12.2h1v1h-1zM17.1 8.4h1.3v1.3h-1.3zM36.2 32.8h1v1h-1zM4.9 34.7h1.3v1.3h-1.3zM16.2 3.8h1.2v1.2h-1.2zM35.2 29.9h1v1h-1zM23.9 18.9h1v1h-1zM8.7 36.3h0.9v0.9h-0.9zM34 12h0.8v0.8h-0.8z"/><path fill="#b83a7c" d="M20.5 21.5h1v1h-1zM35.8 15.5h1.3v1.3h-1.3zM0.5 22h0.7v0.7h-0.7zM21.8 9.1h1.1v1.1h-1.1zM1 6.5h0.9v0.9h-0.9zM39.1 14.6h0.9v0.9h-0.9zM22.6 36.1h1.3v1.3h-1.3zM1.5 13.6h1v1h-1zM0.1 32.9h0.7v0.7h-0.7zM3.9 9.6h1.1v1.1h-1.1zM31.1 1.6h0.8v0.8h-0.8zM36 18.8h1.2v1.2h-1.2zM22.2 27.6h1.2v1.2h-1.2zM21.6 8.4h0.9v0.9h-0.9zM2.4 31.1h0.9v0.9h-0.9zM23.8 8.7h0.7v0.7h-0.7zM12.9 29.7h1.2v1.2h-1.2zM12.2 25.1h0.8v0.8h-0.8zM10.7 24.9h0.8v0.8h-0.8zM37.5 1h0.7v0.7h-0.7zM30.9 29.4h0.9v0.9h-0.9zM36 34h0.7v0.7h-0.7zM0.5 13.2h1.1v1.1h-1.1zM34.5 14.2h0.8v0.8h-0.8zM8.4 35.2h0.7v0.7h-0.7zM34.7 7.7h1.3v1.3h-1.3zM13 24.6h0.8v0.8h-0.8zM24.7 1.4h0.7v0.7h-0.7zM15.4 16.3h0.9v0.9h-0.9zM37.5 4.9h0.8v0.8h-0.8zM28.1 21.8h1.2v1.2h-1.2zM6.4 29.5h0.7v0.7h-0.7zM26.1 24.7h0.9v0.9h-0.9zM33.4 3.4h1.1v1.1h-1.1zM27.5 6.9h1v1h-1zM5.5 20.1h1v1h-1zM29.5 18.1h1.1v1.1h-1.1zM34.1 29.2h1.2v1.2h-1.2zM12.8 1.6h0.9v0.9h-0.9zM19 15.7h0.8v0.8h-0.8zM18.3 24.9h0.8v0.8h-0.8zM31.5 1.2h0.9v0.9h-0.9zM7.2 33h0.6v0.6h-0.6zM38.1 6.2h0.6v0.6h-0.6zM10.9 0.5h0.7v0.7h-0.7zM29.3 24.3h0.6v0.6h-0.6zM3.2 32.7h1.2v1.2h-1.2zM22.1 19.7h1.2v1.2h-1.2zM14.7 17h0.7v0.7h-0.7zM0.6 32.9h0.6v0.6h-0.6zM5.9 27.4h0.9v0.9h-0.9zM30.1 10.8h0.8v0.8h-0.8zM31.3 33.1h0.8v0.8h-0.8zM1.7 25.8h1.1v1.1h-1.1zM39.7 33.2h0.7v0.7h-0.7zM32.4 5.4h1.1v1.1h-1.1zM39.5 0.2h0.9v0.9h-0.9zM-0.3 15.2h0.8v0.8h-0.8zM19.1 22.8h1.1v1.1h-1.1zM16.7 32.2h0.6v0.6h-0.6z"/><path fill="#c8408a" d="M13.9 5.7h0.9v0.9h-0.9zM25 22.5h1.1v1.1h-1.1zM24.9 19.7h1.2v1.2h-1.2zM38.9 9.1h1.3v1.3h-1.3zM19.4 20.4h0.9v0.9h-0.9zM20.6 34.3h1.2v1.2h-1.2zM35.5 33.6h1v1h-1zM30 0.8h0.8v0.8h-0.8zM3.9 33.6h0.7v0.7h-0.7zM3.1 18.3h1.2v1.2h-1.2zM29.6 24.9h0.9v0.9h-0.9zM19.3 35.2h1.3v1.3h-1.3zM2.9 0.1h0.8v0.8h-0.8zM10.9 36.2h0.7v0.7h-0.7zM16 10.1h0.8v0.8h-0.8zM29.8 29.3h1.1v1.1h-1.1zM13.2 26.2h0.7v0.7h-0.7zM31.4 17.3h0.6v0.6h-0.6zM24.4 23.7h1.1v1.1h-1.1zM1.8 12.1h1v1h-1zM6.4 4.4h1.2v1.2h-1.2zM9.5 4.3h0.8v0.8h-0.8zM12.5 27.7h0.9v0.9h-0.9zM30.5 8h0.7v0.7h-0.7zM28 12.2h0.7v0.7h-0.7zM8.2 30.1h1.2v1.2h-1.2zM0.5 9h1.3v1.3h-1.3zM4.7 10.5h1.1v1.1h-1.1zM32 21.8h0.9v0.9h-0.9zM25.8 12.9h1.1v1.1h-1.1zM18.4 -0.4h0.9v0.9h-0.9zM34.2 4h1.2v1.2h-1.2zM3.7 18.4h1.2v1.2h-1.2zM15.2 5.8h1.2v1.2h-1.2zM4.9 21.3h0.9v0.9h-0.9zM-0.3 15.7h0.9v0.9h-0.9zM9.4 10.9h0.8v0.8h-0.8zM19.5 9.9h0.7v0.7h-0.7zM19.6 25.3h0.9v0.9h-0.9zM12 20.2h0.9v0.9h-0.9z"/><path fill="#a8306e" d="M15.3 20.9h1.3v1.3h-1.3zM35.3 12.6h1v1h-1zM35 11h1v1h-1zM30.9 26.1h1.1v1.1h-1.1zM14.9 14.5h1.2v1.2h-1.2zM30.9 31.7h1v1h-1zM29.7 23.2h1.1v1.1h-1.1zM13.1 21.5h1.1v1.1h-1.1zM27.4 20h0.7v0.7h-0.7zM10 23.6h0.7v0.7h-0.7zM31.5 13.9h1v1h-1zM6.4 9.6h0.8v0.8h-0.8zM27.7 2.2h1.2v1.2h-1.2zM25.9 31.7h1.3v1.3h-1.3zM2.7 3.2h0.7v0.7h-0.7zM24.5 18.7h1.2v1.2h-1.2zM0.7 26h1.2v1.2h-1.2zM30.4 25.4h1.3v1.3h-1.3zM24.8 28.3h0.7v0.7h-0.7zM33.5 14.3h1.1v1.1h-1.1zM35.9 8.7h0.6v0.6h-0.6zM9.6 14.1h1v1h-1zM6.6 26.2h0.9v0.9h-0.9zM11 0.2h0.7v0.7h-0.7zM6.7 21.1h0.7v0.7h-0.7zM30.7 2.2h1v1h-1zM29.8 14.6h1.2v1.2h-1.2zM23.1 27.1h1.3v1.3h-1.3zM38.7 34.8h0.8v0.8h-0.8zM4.8 2h0.8v0.8h-0.8zM40.5 7.8h1v1h-1zM3.5 12.1h1.3v1.3h-1.3zM39.8 7h1.3v1.3h-1.3zM16.9 6.7h1.3v1.3h-1.3zM35.9 5.4h1.1v1.1h-1.1zM26.6 11.3h1.3v1.3h-1.3zM0.1 13.2h1.2v1.2h-1.2zM14.2 4h1.2v1.2h-1.2zM19.8 8.4h1.2v1.2h-1.2zM39.2 16.3h1v1h-1zM9.5 32.5h0.7v0.7h-0.7zM19.1 10h0.8v0.8h-0.8zM16.2 36h0.9v0.9h-0.9zM19.7 29.6h1.3v1.3h-1.3zM35.6 1.2h1.2v1.2h-1.2zM10.6 22.2h1v1h-1zM13.8 0h1v1h-1zM29.2 23.3h0.6v0.6h-0.6zM40.1 12.7h1v1h-1zM27.1 31.5h0.9v0.9h-0.9zM38.8 30.9h0.6v0.6h-0.6zM0.3 8.2h0.7v0.7h-0.7z"/><path fill="#f590c4" d="M3.6 4.7h0.9v0.9h-0.9zM10.7 4.9h0.7v0.7h-0.7zM25.3 10.8h1.1v1.1h-1.1zM24.7 4.2h1v1h-1zM28.7 13h0.8v0.8h-0.8zM34.1 1.8h0.8v0.8h-0.8zM37.9 29h1.3v1.3h-1.3zM34.7 22.7h1v1h-1zM3.2 33.2h1.1v1.1h-1.1zM31.5 6.2h1v1h-1zM32.9 32.4h0.7v0.7h-0.7zM9.8 9.6h1.2v1.2h-1.2zM18.9 15.9h1.3v1.3h-1.3zM39.7 34.8h1.1v1.1h-1.1zM8.6 12.9h1.1v1.1h-1.1zM5.7 15.8h1.2v1.2h-1.2zM6.6 30.7h0.8v0.8h-0.8zM8.4 0.3h1.2v1.2h-1.2zM7.5 35.3h1.3v1.3h-1.3zM23.8 36.6h0.7v0.7h-0.7zM33.5 2h0.7v0.7h-0.7zM19.6 16.8h1.3v1.3h-1.3zM4.2 13.9h1v1h-1zM26.2 20.5h0.7v0.7h-0.7zM27.6 21.3h0.9v0.9h-0.9zM17.3 11.1h0.9v0.9h-0.9zM3.4 32.7h1.2v1.2h-1.2zM28.6 29.9h0.8v0.8h-0.8zM6 24.3h0.7v0.7h-0.7zM11.6 33.7h0.7v0.7h-0.7zM40.1 4.4h1.2v1.2h-1.2zM37 11.4h0.6v0.6h-0.6zM17.2 19.4h1.3v1.3h-1.3zM6.7 29.9h0.9v0.9h-0.9zM22.7 18.3h1v1h-1zM20.7 12.8h1v1h-1zM13.4 31.1h1.1v1.1h-1.1zM21.2 18.5h1.2v1.2h-1.2zM1.4 24.4h1.1v1.1h-1.1zM2.6 32.2h1.2v1.2h-1.2zM15.2 29.9h1v1h-1zM11.3 13.6h1v1h-1zM15.7 18h1.1v1.1h-1.1zM39.8 2.2h1.1v1.1h-1.1zM29.2 15.1h1v1h-1zM35.1 32.2h0.7v0.7h-0.7zM17.9 6.9h0.7v0.7h-0.7zM11.3 5.7h0.9v0.9h-0.9zM7.3 26.6h1v1h-1zM1.3 6.2h0.9v0.9h-0.9zM22.2 24.5h0.8v0.8h-0.8zM34.3 11.5h1.1v1.1h-1.1zM20.6 10.5h1.2v1.2h-1.2zM6.8 8h1.2v1.2h-1.2zM0.4 30.7h1.2v1.2h-1.2zM11.5 1.6h1v1h-1zM1.2 -0.3h0.7v0.7h-0.7zM27 11.2h1.1v1.1h-1.1zM18.3 18.7h1.1v1.1h-1.1zM11.5 33.9h0.7v0.7h-0.7zM21.3 28.1h1.3v1.3h-1.3zM16.9 8h1.2v1.2h-1.2zM26.5 24.5h0.9v0.9h-0.9zM26.4 27.6h0.8v0.8h-0.8zM13.9 12.2h1v1h-1zM40 22.8h1.2v1.2h-1.2zM26.8 14.7h1.1v1.1h-1.1zM4.2 8.5h0.9v0.9h-0.9z"/><path fill="#ffffff" d="M11.9 7.5h1v1h-1zM40.2 15.7h1.2v1.2h-1.2zM13.6 30.6h0.7v0.7h-0.7zM27.4 20.1h0.9v0.9h-0.9zM39.8 3.4h0.9v0.9h-0.9zM2.6 32.5h1v1h-1zM30 28.6h1v1h-1zM30.7 23.3h1.1v1.1h-1.1zM20.2 0.6h0.9v0.9h-0.9zM9.5 7.9h1.1v1.1h-1.1zM26 18.6h0.9v0.9h-0.9zM38.9 11.2h1.1v1.1h-1.1zM6.8 12.1h1.2v1.2h-1.2zM14 33.6h0.7v0.7h-0.7zM18.6 11.8h1.2v1.2h-1.2zM10.2 5.2h1.1v1.1h-1.1zM22.2 31.9h1v1h-1zM14.5 21h1.2v1.2h-1.2zM6.1 23.7h1.2v1.2h-1.2zM17.9 14.3h0.8v0.8h-0.8zM12.3 0.9h0.7v0.7h-0.7zM11.5 8.2h0.9v0.9h-0.9zM13.8 29.6h0.8v0.8h-0.8zM10.2 13.7h0.8v0.8h-0.8zM17.4 19.2h1.1v1.1h-1.1zM2 4.7h1.1v1.1h-1.1zM16.2 0.5h0.9v0.9h-0.9zM19.4 5.5h1v1h-1zM15.4 -0.4h1.2v1.2h-1.2zM0.7 26.2h0.7v0.7h-0.7zM13.3 0.2h1.2v1.2h-1.2zM21.7 18.4h0.7v0.7h-0.7zM38.8 1h1.1v1.1h-1.1zM33.9 33.7h0.8v0.8h-0.8zM10.5 8.4h1.1v1.1h-1.1zM18.8 27.4h0.8v0.8h-0.8zM32.6 33.9h1v1h-1zM28.9 13.4h0.9v0.9h-0.9zM1.9 28.4h1.1v1.1h-1.1zM3.7 28.7h0.6v0.6h-0.6zM33.6 35.5h1.3v1.3h-1.3zM9.2 23h0.9v0.9h-0.9zM38.2 7h1v1h-1zM13.7 7.8h0.8v0.8h-0.8z"/></pattern><pattern id="p19" patternUnits="userSpaceOnUse" x="0" y="0" width="41" height="37"><path fill="#a82c6c" d="M31.2 19.9h1.7v1.7h-1.7zM2.9 11.7h1.1v1.1h-1.1zM12.6 9h1.2v1.2h-1.2zM28 -0.3h1.2v1.2h-1.2zM21.7 7.8h1.5v1.5h-1.5zM15 14.5h1.2v1.2h-1.2zM37.5 25.6h1.1v1.1h-1.1zM11.5 25.8h1.3v1.3h-1.3zM18.1 4.6h1.1v1.1h-1.1zM13.7 2.3h1v1h-1zM35.4 17.3h1.1v1.1h-1.1zM0.4 9.9h1.6v1.6h-1.6zM2 18.6h1.5v1.5h-1.5zM15.2 22.2h1.2v1.2h-1.2zM0.3 20.9h1.1v1.1h-1.1zM20 23.2h0.7v0.7h-0.7zM18.2 20.1h1.3v1.3h-1.3zM36.8 10h1.4v1.4h-1.4zM37.4 4.4h1.7v1.7h-1.7zM23.6 19.6h0.7v0.7h-0.7zM3 20.4h1.4v1.4h-1.4zM23.1 22h1.2v1.2h-1.2zM36.9 0.1h0.8v0.8h-0.8zM14.6 33.3h1.5v1.5h-1.5zM30.9 14.1h1v1h-1zM39.4 23h0.7v0.7h-0.7zM25.8 16.9h1.2v1.2h-1.2zM13.3 25h1.5v1.5h-1.5zM8.2 17.4h0.9v0.9h-0.9zM24 29.6h1.4v1.4h-1.4zM37.9 26.5h1.3v1.3h-1.3zM26.8 27.8h1.2v1.2h-1.2zM6.5 13.8h0.9v0.9h-0.9zM20.1 19.3h1v1h-1zM18.9 30.2h1.5v1.5h-1.5zM29 28.2h1.4v1.4h-1.4zM38.4 5.2h0.9v0.9h-0.9zM15 9.1h1.1v1.1h-1.1zM16.9 21.8h1.7v1.7h-1.7zM28 28.9h1v1h-1zM34 10.1h1.5v1.5h-1.5zM7.1 2.4h1.1v1.1h-1.1zM19 8.1h1.5v1.5h-1.5z"/><path fill="#b8387a" d="M40.3 30h1.2v1.2h-1.2zM15.1 11.1h0.9v0.9h-0.9zM4.9 33.2h1.6v1.6h-1.6zM33.5 27.6h1.4v1.4h-1.4zM35.1 34.7h1.6v1.6h-1.6zM22.4 11.9h1.3v1.3h-1.3zM17.8 35.1h1.7v1.7h-1.7zM19.3 21.8h1.2v1.2h-1.2zM38.2 29.9h0.9v0.9h-0.9zM39.9 32.6h1.4v1.4h-1.4zM-0.8 8.2h1.7v1.7h-1.7zM35 11.4h0.9v0.9h-0.9zM22.1 28.6h0.8v0.8h-0.8zM2.7 30h1.1v1.1h-1.1zM13.4 0.6h1v1h-1zM8.1 16.4h1.4v1.4h-1.4zM28.4 6.5h0.8v0.8h-0.8zM28.4 20.4h0.8v0.8h-0.8zM33.6 21.9h1.2v1.2h-1.2zM17.5 10.3h1v1h-1zM12 3.4h0.9v0.9h-0.9zM9 21h1.1v1.1h-1.1zM11.2 12.3h1.4v1.4h-1.4zM27.4 14.1h1.5v1.5h-1.5zM33.9 20.4h1.7v1.7h-1.7zM28.4 10.2h1.1v1.1h-1.1zM14.1 33.8h1v1h-1zM23.9 6.3h1.7v1.7h-1.7zM10.7 19.5h1v1h-1zM27.4 6h1.3v1.3h-1.3zM24.6 26.6h1.6v1.6h-1.6zM2.8 29.2h0.8v0.8h-0.8zM19.1 0.9h1.3v1.3h-1.3zM22.7 2h1v1h-1zM30.3 25.2h1.2v1.2h-1.2zM27.4 13.7h1.5v1.5h-1.5zM28.2 33.4h1.7v1.7h-1.7zM31.6 9.2h1.1v1.1h-1.1zM37.5 14.7h1.7v1.7h-1.7zM0.1 32.2h1.4v1.4h-1.4zM33.6 0.8h1.4v1.4h-1.4zM7.1 1.7h0.9v0.9h-0.9zM26.9 -0.5h1.5v1.5h-1.5zM29.6 1.8h1.7v1.7h-1.7zM10.2 35.4h0.8v0.8h-0.8zM13.4 0.1h0.9v0.9h-0.9zM0.8 3.1h1.3v1.3h-1.3zM10.8 21.9h1.4v1.4h-1.4z"/><path fill="#ffffff" d="M32.3 5.9h1.6v1.6h-1.6zM29.1 -0.2h1.1v1.1h-1.1zM24.1 20.7h0.9v0.9h-0.9zM2.7 2h1.3v1.3h-1.3zM3 22.8h0.8v0.8h-0.8zM4.9 4.7h1.6v1.6h-1.6zM15.1 35.2h1.3v1.3h-1.3zM30.1 20h1.5v1.5h-1.5zM7.7 1.9h1.7v1.7h-1.7zM21.7 13.2h1.3v1.3h-1.3zM7.2 8h1.6v1.6h-1.6zM12.6 31h1.4v1.4h-1.4zM10.8 8.4h0.8v0.8h-0.8zM16 30.2h0.7v0.7h-0.7zM22.7 2.4h0.8v0.8h-0.8zM24.1 2.2h1.7v1.7h-1.7zM15.4 6.8h1.4v1.4h-1.4zM10.3 24.1h1.2v1.2h-1.2zM30.8 32.7h1v1h-1zM27.4 4.5h1.5v1.5h-1.5zM36.2 22.9h1.4v1.4h-1.4zM34.1 12.4h1.3v1.3h-1.3zM0.8 12.7h1.4v1.4h-1.4zM13.8 11.7h0.9v0.9h-0.9zM23.2 3h1.3v1.3h-1.3zM10.3 14.9h0.7v0.7h-0.7zM30.2 36.5h1v1h-1zM0.2 9.5h0.9v0.9h-0.9zM22 8.3h0.8v0.8h-0.8zM13.9 24.5h1.4v1.4h-1.4zM33.2 19.3h1.5v1.5h-1.5zM0.2 33h1.4v1.4h-1.4zM23.9 8h1.5v1.5h-1.5zM29.9 -0.3h0.8v0.8h-0.8zM4.4 15.4h1.1v1.1h-1.1zM21.4 19.5h1.7v1.7h-1.7zM12.3 9.3h1.3v1.3h-1.3zM26.2 4.3h1.1v1.1h-1.1zM39.6 15.5h0.7v0.7h-0.7zM11.5 29.3h0.9v0.9h-0.9zM16.1 13.8h1.3v1.3h-1.3zM18.5 19.6h0.9v0.9h-0.9zM18.5 21.4h1.2v1.2h-1.2zM25.3 35h0.8v0.8h-0.8zM33.4 22.1h1.4v1.4h-1.4zM7.9 5.5h1v1h-1z"/><path fill="#f8d8e8" d="M28.5 17h1.4v1.4h-1.4zM36.8 15.4h1.3v1.3h-1.3zM11.8 19.1h1.1v1.1h-1.1zM17.8 19.6h0.7v0.7h-0.7zM31.4 12.3h1.3v1.3h-1.3zM33.5 4.8h1.2v1.2h-1.2zM17.6 25h0.9v0.9h-0.9zM0.7 5.9h1.1v1.1h-1.1zM28.9 8.1h1.2v1.2h-1.2zM22.8 28.7h0.9v0.9h-0.9zM14.9 2.4h0.9v0.9h-0.9zM2.8 31.7h0.9v0.9h-0.9zM37.5 11.9h1.6v1.6h-1.6zM28.6 36.3h0.8v0.8h-0.8zM32.5 30.9h0.8v0.8h-0.8zM33.2 10.9h1.3v1.3h-1.3zM19.5 26.3h1v1h-1zM38.8 30.4h1.6v1.6h-1.6zM4.8 32.2h1.3v1.3h-1.3zM8.5 14.4h1.4v1.4h-1.4zM12.9 28.4h1.7v1.7h-1.7zM25.2 19.3h1.4v1.4h-1.4zM29.5 24.6h1.1v1.1h-1.1zM39.4 7.1h1.6v1.6h-1.6zM12.1 17.1h1.3v1.3h-1.3zM36.6 9.1h1.1v1.1h-1.1zM1.6 18.3h1v1h-1zM13.2 18.6h1.6v1.6h-1.6zM5.1 4.8h1.4v1.4h-1.4zM21.9 35.8h0.7v0.7h-0.7zM3.5 17.6h1.7v1.7h-1.7zM1.3 7.9h1.3v1.3h-1.3zM37.8 31.4h1.6v1.6h-1.6zM24.7 2.9h1.5v1.5h-1.5zM17.5 15.8h1.2v1.2h-1.2zM17.9 32.6h1.4v1.4h-1.4zM9.5 33.9h1.6v1.6h-1.6zM25.3 6.2h0.8v0.8h-0.8zM23.7 17.6h1.2v1.2h-1.2zM9.4 32.9h1.7v1.7h-1.7zM3.3 17.9h0.7v0.7h-0.7zM19.1 29.8h1.7v1.7h-1.7zM35.6 16.3h1.2v1.2h-1.2zM28.1 26.7h1.1v1.1h-1.1zM31.3 3.4h0.9v0.9h-0.9z"/></pattern><pattern id="p20" patternUnits="userSpaceOnUse" x="0" y="0" width="41" height="37"><path fill="#fbeef4" d="M18.9 12.3h1.8v1.8h-1.8zM2.6 29.4h1.2v1.2h-1.2zM25.2 34.3h1.9v1.9h-1.9zM31.3 2.6h1.4v1.4h-1.4zM39.5 25.5h1.2v1.2h-1.2zM7.8 19.1h2.1v2.1h-2.1zM20.9 9.1h2v2h-2zM39.1 30.2h1.2v1.2h-1.2zM14.8 1.4h2.1v2.1h-2.1zM13.9 32.5h2v2h-2zM21.5 20.5h1.2v1.2h-1.2zM10.8 5h2v2h-2zM36.4 12.5h1.4v1.4h-1.4zM26.1 11.4h2.1v2.1h-2.1zM-0.2 10h2.1v2.1h-2.1zM16.9 10.2h1.6v1.6h-1.6zM38.7 4.8h1.5v1.5h-1.5zM5.5 22.2h1.6v1.6h-1.6zM0 18.1h1.2v1.2h-1.2zM13.2 2.4h1.7v1.7h-1.7zM12.1 28h1.6v1.6h-1.6zM5.8 19.7h1.2v1.2h-1.2zM6.1 20.6h1.2v1.2h-1.2zM-0.3 1.4h1.5v1.5h-1.5zM14.8 24.7h1.1v1.1h-1.1zM31.3 20.9h1.4v1.4h-1.4zM33.3 12.5h1.6v1.6h-1.6zM3.6 12.9h1.1v1.1h-1.1zM21.8 23.3h1.5v1.5h-1.5zM18.4 28.3h2v2h-2zM2.3 3h1.3v1.3h-1.3zM24.9 31.8h1.2v1.2h-1.2z"/><path fill="#ffffff" d="M20.8 33h1.6v1.6h-1.6zM1.8 30.3h1.3v1.3h-1.3zM32 35.9h1.5v1.5h-1.5zM25.6 33h1.7v1.7h-1.7zM11.2 23.3h2.1v2.1h-2.1zM18.8 15.5h1.5v1.5h-1.5zM31.8 33h2.1v2.1h-2.1zM16.3 25.9h1.8v1.8h-1.8zM25.8 1h1.9v1.9h-1.9zM16.3 12.9h1.9v1.9h-1.9zM2.4 33.6h1.5v1.5h-1.5zM1.2 28.2h1.6v1.6h-1.6zM32.5 18h1.7v1.7h-1.7zM38.5 19.9h1.3v1.3h-1.3zM0.6 25.9h1.6v1.6h-1.6zM26.1 1.1h1.2v1.2h-1.2zM19 29.1h1.2v1.2h-1.2zM4.5 15.1h1.6v1.6h-1.6zM26.4 0.3h1.2v1.2h-1.2zM3 33.7h2.1v2.1h-2.1zM6.8 6.5h1.6v1.6h-1.6zM11 21.4h1.7v1.7h-1.7zM7.9 21.6h1.9v1.9h-1.9zM7.3 19.9h1.5v1.5h-1.5zM32.7 33h1.4v1.4h-1.4z"/></pattern><pattern id="p21" patternUnits="userSpaceOnUse" x="0" y="0" width="41" height="37"><path fill="#2a788e" d="M2.3 21.3h1.5v1.5h-1.5zM18.2 -0h1v1h-1zM35.6 9.4h1.2v1.2h-1.2zM25.7 6.9h1.3v1.3h-1.3zM35.4 22.7h1.1v1.1h-1.1zM24.7 11.6h1v1h-1zM31.8 10.4h1.2v1.2h-1.2zM4.5 20.9h1.2v1.2h-1.2zM38.5 19.3h1.1v1.1h-1.1zM38.6 34.6h1v1h-1zM17.4 21h1.2v1.2h-1.2zM25 23.8h1.2v1.2h-1.2zM36.3 23h1.1v1.1h-1.1zM28.2 10.3h1.5v1.5h-1.5zM16.8 29.4h1.3v1.3h-1.3zM34.9 12.2h1v1h-1zM36.8 15.4h1.2v1.2h-1.2zM6.1 24.6h1.4v1.4h-1.4zM14.7 2.5h1.1v1.1h-1.1zM0.8 6h1.4v1.4h-1.4zM40.2 16.4h1.2v1.2h-1.2zM28.9 24.9h1.3v1.3h-1.3zM31.7 17.9h1.1v1.1h-1.1zM15.4 27h1.3v1.3h-1.3zM24.1 18.6h1v1h-1zM17.4 28.4h1.1v1.1h-1.1z"/><path fill="#fde725" d="M28.1 22.4h1.1v1.1h-1.1zM28 10.5h1.2v1.2h-1.2zM11.6 35.1h1.2v1.2h-1.2zM4.4 30.1h1.1v1.1h-1.1zM26.3 6.8h1v1h-1zM19.7 5h1.4v1.4h-1.4zM34.6 24.2h1.1v1.1h-1.1zM13.9 2.6h1.1v1.1h-1.1zM1 0.5h1.3v1.3h-1.3zM21.4 20.1h1.3v1.3h-1.3zM4.8 22.5h1.5v1.5h-1.5zM20.1 26.8h1.4v1.4h-1.4zM35 28.4h1.2v1.2h-1.2zM28.5 23.2h1.2v1.2h-1.2zM36.9 2.6h1.5v1.5h-1.5zM1.3 7.6h1.2v1.2h-1.2zM24 14.3h1.2v1.2h-1.2zM24.5 32.7h1.2v1.2h-1.2zM32 2.8h1.4v1.4h-1.4zM39.4 29.4h1v1h-1zM34.5 26.4h1.5v1.5h-1.5zM17.8 21.1h1.2v1.2h-1.2zM20.7 26.2h1.2v1.2h-1.2zM4.3 14.8h1.4v1.4h-1.4zM36 19.5h1.4v1.4h-1.4zM35.4 5.8h1.2v1.2h-1.2zM17.9 6.1h1.2v1.2h-1.2zM0 2.7h1.1v1.1h-1.1z"/><path fill="#3b528b" d="M4.6 36h1.3v1.3h-1.3zM14.9 22.8h1.3v1.3h-1.3zM1.7 14.9h1.2v1.2h-1.2zM19.3 31.6h1.5v1.5h-1.5zM11.9 10.9h1.2v1.2h-1.2zM31.4 17.9h1.4v1.4h-1.4zM7.5 30.8h1.4v1.4h-1.4zM16.8 16.4h1.2v1.2h-1.2zM21.9 4.6h1.3v1.3h-1.3zM24.2 22.4h1.4v1.4h-1.4zM25.5 33.2h1.5v1.5h-1.5zM19.3 26.9h1v1h-1zM26.7 19.4h1v1h-1zM22.8 4.9h1.4v1.4h-1.4zM8.3 12.2h1.1v1.1h-1.1zM4.1 31h1.4v1.4h-1.4zM18 20.9h1.2v1.2h-1.2zM21.3 23.9h1.3v1.3h-1.3zM5.9 34.7h1.4v1.4h-1.4zM-0.3 7h1.1v1.1h-1.1zM3.7 20.8h1.1v1.1h-1.1zM32.3 14.5h1.3v1.3h-1.3zM31.5 28.3h1v1h-1zM3.6 35.4h1.2v1.2h-1.2zM39.6 4.7h1.3v1.3h-1.3zM30.3 19.1h1.4v1.4h-1.4zM20.2 7.3h1.3v1.3h-1.3zM-0.3 2.7h1.3v1.3h-1.3zM32 0.7h1.3v1.3h-1.3zM6.1 30.7h1.1v1.1h-1.1zM37.5 22.3h1.4v1.4h-1.4zM5.8 36.1h1.5v1.5h-1.5zM29.1 0.3h1.5v1.5h-1.5zM39.7 26.4h1.3v1.3h-1.3zM6 1.2h1.4v1.4h-1.4zM8.9 3.8h1.4v1.4h-1.4zM11.7 26.6h1.4v1.4h-1.4z"/><path fill="#5ec962" d="M3.2 11.3h1v1h-1zM34.3 22.9h1.1v1.1h-1.1zM27.2 27.8h1v1h-1zM35 4h1.4v1.4h-1.4zM21.1 1.1h1.3v1.3h-1.3zM36.5 24.1h1.3v1.3h-1.3zM19.8 13.7h1.4v1.4h-1.4zM24.9 7.3h1.5v1.5h-1.5zM24.4 4.3h1.2v1.2h-1.2zM1.3 2.9h1.4v1.4h-1.4zM32.2 34h1.4v1.4h-1.4zM17.5 15.4h1.4v1.4h-1.4zM25.4 24.6h1.3v1.3h-1.3zM16.7 24.9h1.1v1.1h-1.1zM14.7 22.4h1.1v1.1h-1.1zM30.4 6.8h1.2v1.2h-1.2zM29.5 10.5h1v1h-1zM23.1 30.9h1.3v1.3h-1.3zM7.4 6.7h1.5v1.5h-1.5z"/><path fill="#21918c" d="M13 16.1h1.4v1.4h-1.4zM4.3 30.2h1.3v1.3h-1.3zM10.1 11.7h1.2v1.2h-1.2zM31.3 14.9h1.3v1.3h-1.3zM39.2 20.3h1.4v1.4h-1.4zM20.5 13.6h1.3v1.3h-1.3zM25.6 11.2h1.1v1.1h-1.1zM22.6 0.9h1.5v1.5h-1.5zM8.1 31.6h1v1h-1zM33.8 10.5h1.4v1.4h-1.4zM24.9 4.7h1.5v1.5h-1.5zM29.3 19.6h1.4v1.4h-1.4zM25.2 16.1h1.2v1.2h-1.2zM20.2 27h1.3v1.3h-1.3zM31.7 15.6h1.1v1.1h-1.1zM27.7 16.8h1.3v1.3h-1.3zM20.4 25.4h1.1v1.1h-1.1zM18.4 9.6h1.3v1.3h-1.3zM13.4 31.4h1v1h-1zM0.9 31.8h1.2v1.2h-1.2zM1 20.8h1.2v1.2h-1.2zM-0.1 29.1h1.3v1.3h-1.3zM23.3 1.1h1.1v1.1h-1.1zM31.1 13.4h1.2v1.2h-1.2zM4.3 35.8h1.4v1.4h-1.4z"/></pattern><clipPath id="cJ1b"><polygon points="18,842 24,840.5 30,841.5 38,843.5 47.4,842.8 50,838.5 53.6,835.8 58,833.6 64.4,832.7 72,833 80,832 88,830.2 95.4,829.6 103,829.2 111,828 118,827 124,826.6 124,836.6 118,837 111,838 103,839.2 95.4,839.6 88,840.2 80,842 72,843 64.4,842.7 58,843.6 53.6,845.8 50,848.5 47.4,852.8 38,853.5 30,851.5 24,850.5 18,852"/></clipPath><pattern id="p22" patternUnits="userSpaceOnUse" x="0" y="0" width="41" height="37"><path fill="#3b528b" d="M10.8 17.9h1.3v1.3h-1.3zM16.4 20h1.3v1.3h-1.3zM7.6 31.6h1.5v1.5h-1.5zM22.1 15.5h1.5v1.5h-1.5zM7.6 14.4h1.5v1.5h-1.5zM7.4 25h1.5v1.5h-1.5zM0.4 25.6h1.5v1.5h-1.5zM30.3 18.8h1.6v1.6h-1.6zM11.7 17h1.1v1.1h-1.1zM3.5 18h1.2v1.2h-1.2zM29.1 6.3h1.4v1.4h-1.4zM4 14.5h1.6v1.6h-1.6zM31.3 0.6h1.3v1.3h-1.3zM28.7 31.2h1.4v1.4h-1.4zM9.4 5.9h1.2v1.2h-1.2zM3.6 15.3h1.1v1.1h-1.1zM15.5 30.3h1.4v1.4h-1.4zM5.7 0.6h1.1v1.1h-1.1zM39.1 18.5h1.2v1.2h-1.2zM15.8 10.7h1.4v1.4h-1.4zM31.6 28.7h1.3v1.3h-1.3zM19.6 27.4h1.5v1.5h-1.5zM28.6 7.4h1.4v1.4h-1.4zM15.9 14.2h1.4v1.4h-1.4zM32.3 25.8h1.3v1.3h-1.3zM1.1 34.5h1.5v1.5h-1.5zM3.5 0.1h1.2v1.2h-1.2zM30.6 33.8h1.2v1.2h-1.2zM10.9 28.5h1.1v1.1h-1.1zM3.7 31.6h1.3v1.3h-1.3zM6.6 6h1.3v1.3h-1.3zM2.9 20.4h1.2v1.2h-1.2zM33.4 0.2h1.3v1.3h-1.3zM26.3 30.5h1.4v1.4h-1.4zM40.3 12.4h1.3v1.3h-1.3zM15.6 9.9h1.3v1.3h-1.3zM37.9 27.5h1.1v1.1h-1.1zM32.8 19.1h1.1v1.1h-1.1zM20.4 10.4h1.3v1.3h-1.3zM4.7 9.2h1.2v1.2h-1.2zM4.8 17.1h1.5v1.5h-1.5zM10 26.4h1.3v1.3h-1.3zM15.9 18h1.5v1.5h-1.5zM2.7 16.9h1.5v1.5h-1.5zM6.9 31.1h1.1v1.1h-1.1zM5.3 23.6h1.4v1.4h-1.4zM38.4 20.2h1.1v1.1h-1.1zM6.6 25.1h1.5v1.5h-1.5zM7.1 18.3h1.2v1.2h-1.2zM16.2 2.7h1.4v1.4h-1.4zM7.2 34.3h1.5v1.5h-1.5zM5.7 18.1h1.1v1.1h-1.1z"/><path fill="#fde725" d="M11.6 2.1h1.3v1.3h-1.3zM7.7 3.5h1.2v1.2h-1.2zM6.8 1.5h1.2v1.2h-1.2zM20.1 32.9h1.3v1.3h-1.3zM34.4 14.5h1.4v1.4h-1.4zM4.8 13.5h1.4v1.4h-1.4zM20.9 25.9h1.2v1.2h-1.2zM20.7 22.6h1.2v1.2h-1.2zM36.2 25.2h1.3v1.3h-1.3zM1.2 26.3h1.4v1.4h-1.4zM25.4 -0.5h1.1v1.1h-1.1zM23.8 28.3h1.4v1.4h-1.4zM17.2 9.3h1.4v1.4h-1.4zM6.3 3.8h1.2v1.2h-1.2zM24.5 33.5h1.4v1.4h-1.4zM23.4 2h1.5v1.5h-1.5zM36 22.2h1.2v1.2h-1.2zM39.5 11.2h1.2v1.2h-1.2zM0.1 11.4h1.4v1.4h-1.4zM20.1 31.5h1.2v1.2h-1.2zM9 15.5h1.1v1.1h-1.1zM7.3 30.5h1.3v1.3h-1.3zM14.9 13.7h1.5v1.5h-1.5zM23.3 35h1.3v1.3h-1.3zM18.1 8h1.1v1.1h-1.1zM33.9 17.9h1.6v1.6h-1.6zM25.6 24.7h1.3v1.3h-1.3zM31.6 25.9h1.4v1.4h-1.4zM25.4 4.7h1.4v1.4h-1.4zM34.2 5.9h1.6v1.6h-1.6zM2.9 19h1.4v1.4h-1.4zM36.8 14.9h1.5v1.5h-1.5zM21.2 34.1h1.5v1.5h-1.5zM34.3 17.9h1.3v1.3h-1.3zM19.9 6h1.3v1.3h-1.3zM32.9 34.8h1.4v1.4h-1.4zM32 28.7h1.4v1.4h-1.4zM27.5 1h1.5v1.5h-1.5zM20.7 8.4h1.5v1.5h-1.5zM28.7 27.9h1.6v1.6h-1.6zM32.7 34.2h1.4v1.4h-1.4zM34.7 14.6h1.2v1.2h-1.2zM35.9 33.6h1.5v1.5h-1.5zM0.7 28.3h1.5v1.5h-1.5zM21.6 12.4h1.4v1.4h-1.4zM34.3 23.9h1.1v1.1h-1.1zM8.9 12.9h1.3v1.3h-1.3zM31.1 29.8h1.4v1.4h-1.4zM38.7 13.2h1.5v1.5h-1.5zM16 10.5h1.1v1.1h-1.1zM3.8 21.3h1.2v1.2h-1.2zM29 7.1h1.1v1.1h-1.1zM9.4 19.8h1.5v1.5h-1.5zM37 1.9h1.3v1.3h-1.3zM32.1 20.6h1.3v1.3h-1.3zM4.4 11.3h1.5v1.5h-1.5zM30 11.5h1.3v1.3h-1.3zM26.6 11.3h1.5v1.5h-1.5zM13.9 -0.6h1.6v1.6h-1.6zM8.1 8.2h1.5v1.5h-1.5zM-0 15.9h1.6v1.6h-1.6zM24.1 7.4h1.1v1.1h-1.1zM27.3 13.9h1.2v1.2h-1.2zM20.5 0.6h1.2v1.2h-1.2zM6.6 18.7h1.5v1.5h-1.5zM3.2 32.2h1.4v1.4h-1.4zM15.3 20.4h1.1v1.1h-1.1zM27 7.2h1.5v1.5h-1.5zM17 6.7h1.2v1.2h-1.2zM20 9.8h1.3v1.3h-1.3zM9.4 3.2h1.5v1.5h-1.5zM36.5 6.4h1.4v1.4h-1.4zM2.5 14.1h1.6v1.6h-1.6zM30.7 1.8h1.1v1.1h-1.1zM1.7 2.7h1.1v1.1h-1.1zM7.6 1.3h1.4v1.4h-1.4zM8.2 36.1h1.4v1.4h-1.4zM22.4 12.9h1.1v1.1h-1.1zM32.4 -0.1h1.1v1.1h-1.1zM2.6 14.6h1.4v1.4h-1.4zM24.3 33.8h1.4v1.4h-1.4zM23.6 17.8h1.4v1.4h-1.4zM22.9 11.7h1.3v1.3h-1.3zM15.3 5.1h1.4v1.4h-1.4zM23.2 15.9h1.3v1.3h-1.3zM39.2 23.2h1.2v1.2h-1.2zM7.5 16.2h1.5v1.5h-1.5z"/><path fill="#21918c" d="M28.8 12.3h1.2v1.2h-1.2zM37.3 25.4h1.5v1.5h-1.5zM31.4 2.3h1.6v1.6h-1.6zM16.2 12h1.3v1.3h-1.3zM21.4 19.7h1.1v1.1h-1.1zM23.7 23.3h1.1v1.1h-1.1zM24.4 8.8h1.2v1.2h-1.2zM23.6 24.7h1.3v1.3h-1.3zM2.9 22.9h1.6v1.6h-1.6zM34.8 32.5h1.1v1.1h-1.1zM12.5 14.4h1.5v1.5h-1.5zM38.6 8.1h1.4v1.4h-1.4zM33.3 30.6h1.1v1.1h-1.1zM9.4 14.9h1.5v1.5h-1.5zM2.7 18.6h1.2v1.2h-1.2zM4.4 13.9h1.2v1.2h-1.2zM15.3 16.5h1.5v1.5h-1.5zM40.2 5.1h1.2v1.2h-1.2zM38.8 -0.4h1.5v1.5h-1.5zM14.4 29h1.1v1.1h-1.1zM11 24.6h1.2v1.2h-1.2zM-0.1 12h1.2v1.2h-1.2zM8 8.1h1.2v1.2h-1.2zM27.8 15.5h1.1v1.1h-1.1zM17.9 2h1.1v1.1h-1.1zM13.6 24h1.1v1.1h-1.1zM32.1 31.6h1.2v1.2h-1.2zM38.5 4.3h1.4v1.4h-1.4zM5.5 8.8h1.5v1.5h-1.5zM20.4 15.5h1.5v1.5h-1.5zM12.7 25.3h1.3v1.3h-1.3zM35.6 13.4h1.2v1.2h-1.2zM12.2 19h1.1v1.1h-1.1zM32 18h1.2v1.2h-1.2zM5 3.4h1.1v1.1h-1.1zM-0.2 30.7h1.1v1.1h-1.1zM16.5 14.3h1.2v1.2h-1.2zM0.9 27.3h1.3v1.3h-1.3zM16.8 9.7h1.3v1.3h-1.3zM25.9 11.6h1.1v1.1h-1.1zM25.1 3h1.5v1.5h-1.5zM23.2 17.2h1.3v1.3h-1.3zM4 34.9h1.4v1.4h-1.4z"/><path fill="#5ec962" d="M8.7 7.3h1.5v1.5h-1.5zM32.8 20.1h1.2v1.2h-1.2zM33.8 23.7h1.6v1.6h-1.6zM9.1 3.8h1.6v1.6h-1.6zM19.5 27.2h1.1v1.1h-1.1zM12.7 7.9h1.1v1.1h-1.1zM18.6 5.7h1.3v1.3h-1.3zM3 18.3h1.3v1.3h-1.3zM14.5 29.3h1.3v1.3h-1.3zM23.6 8.8h1.2v1.2h-1.2zM4.1 5.9h1.1v1.1h-1.1zM32.1 7.3h1.4v1.4h-1.4zM10.2 0.2h1.2v1.2h-1.2zM12.1 1.8h1.2v1.2h-1.2zM5.4 19h1.6v1.6h-1.6zM26.3 35.2h1.5v1.5h-1.5zM5.7 24.3h1.2v1.2h-1.2zM0.2 7.4h1.3v1.3h-1.3zM22 10.4h1.3v1.3h-1.3zM20.2 26.2h1.4v1.4h-1.4zM35.7 28.1h1.4v1.4h-1.4zM16.3 8.9h1.2v1.2h-1.2zM6.3 18.4h1.5v1.5h-1.5zM27.9 3.9h1.3v1.3h-1.3zM19.5 24.2h1.6v1.6h-1.6zM6.7 17.5h1.3v1.3h-1.3zM14.3 20h1.4v1.4h-1.4zM11.1 21h1.4v1.4h-1.4zM26.1 0.8h1.3v1.3h-1.3zM2 13.8h1.3v1.3h-1.3zM14.5 3.6h1.2v1.2h-1.2zM19.7 32.7h1.5v1.5h-1.5zM35.9 21.5h1.2v1.2h-1.2zM8.8 23.1h1.3v1.3h-1.3zM7.1 2h1.1v1.1h-1.1zM20.2 29h1.1v1.1h-1.1zM9.3 20.1h1.5v1.5h-1.5zM15.6 10.5h1.5v1.5h-1.5zM29.7 18.3h1.2v1.2h-1.2zM12.9 18.9h1.2v1.2h-1.2zM8.9 32.1h1.1v1.1h-1.1zM29.7 6.9h1.5v1.5h-1.5zM3.3 31.3h1.1v1.1h-1.1zM16.8 18.4h1.2v1.2h-1.2zM20.7 1.6h1.4v1.4h-1.4zM17.1 1.7h1.3v1.3h-1.3zM23.5 21.5h1.2v1.2h-1.2zM9.5 25.9h1.4v1.4h-1.4zM30.8 5.1h1.4v1.4h-1.4zM23.2 10.9h1.1v1.1h-1.1zM-0 10.6h1.2v1.2h-1.2zM1.7 17.8h1.3v1.3h-1.3z"/></pattern><clipPath id="cJ2"><rect x="125.6" y="827.6" width="104.4" height="54.8"/></clipPath><clipPath id="cJ2t"><polygon points="125,872 140,860 155,845 165,833 172,827 231,827 231,842 200,883 125,883"/></clipPath><pattern id="p23" patternUnits="userSpaceOnUse" x="0" y="0" width="41" height="37"><path fill="#ffffff" d="M11 18.1h1v1h-1zM16.6 20.2h1v1h-1zM7.7 31.8h1.2v1.2h-1.2zM22.2 15.7h1.2v1.2h-1.2zM7.7 14.6h1.2v1.2h-1.2zM39.3 23.8h1.3v1.3h-1.3zM11.9 17.2h0.7v0.7h-0.7zM34.3 32.7h1.1v1.1h-1.1zM27.3 2.8h1.1v1.1h-1.1zM8.2 28.5h0.6v0.6h-0.6zM5.9 0.8h0.7v0.7h-0.7zM39.2 18.7h0.8v0.8h-0.8zM36.2 21h1.3v1.3h-1.3zM19 28.5h1.2v1.2h-1.2zM31.3 4.1h0.9v0.9h-0.9zM31.6 6.1h0.7v0.7h-0.7zM7.6 30.9h1.2v1.2h-1.2zM22.1 20.9h0.7v0.7h-0.7zM4 24.6h0.7v0.7h-0.7zM30.5 19.1h0.9v0.9h-0.9zM4.3 12h0.9v0.9h-0.9zM23.7 12.6h1.3v1.3h-1.3zM40.5 12.6h1v1h-1zM15.8 10.1h1v1h-1zM26.1 4.3h0.6v0.6h-0.6zM4.9 14.3h0.6v0.6h-0.6zM4.2 26.1h1v1h-1zM5 17.3h1.3v1.3h-1.3zM10.2 26.6h1v1h-1zM16 18.2h1.3v1.3h-1.3zM2.8 17.1h1.2v1.2h-1.2zM7.1 31.3h0.7v0.7h-0.7zM5.5 23.7h1.1v1.1h-1.1zM38.6 20.4h0.7v0.7h-0.7zM6.8 25.3h1.2v1.2h-1.2zM16.2 16.7h1.2v1.2h-1.2zM29.2 31.3h0.7v0.7h-0.7zM6 18.4h0.6v0.6h-0.6zM39.4 9.5h0.6v0.6h-0.6zM35.1 9.8h1.2v1.2h-1.2zM23 2.1h1v1h-1zM22 27.6h0.8v0.8h-0.8zM29.6 24.9h1.2v1.2h-1.2zM39.9 36.1h1v1h-1zM34.7 1.4h0.7v0.7h-0.7z"/><path fill="#f590c4" d="M11.8 2.3h0.9v0.9h-0.9zM7 1.7h0.8v0.8h-0.8zM16.5 24.6h1v1h-1zM16.5 -0.3h0.8v0.8h-0.8zM14.3 31.4h0.9v0.9h-0.9zM24.5 16.8h0.6v0.6h-0.6zM2.4 30.9h1.2v1.2h-1.2zM36.2 22.4h0.8v0.8h-0.8zM0.3 11.6h1v1h-1zM20.3 31.7h0.8v0.8h-0.8zM36.7 18.3h1.1v1.1h-1.1zM28.7 32.3h1.2v1.2h-1.2zM24.8 27.2h0.9v0.9h-0.9zM24.5 24.3h0.8v0.8h-0.8zM29.5 18.2h0.7v0.7h-0.7zM22.6 25.5h0.7v0.7h-0.7zM17.3 3.3h1.2v1.2h-1.2zM15.2 32.5h0.6v0.6h-0.6zM12 4.3h0.6v0.6h-0.6zM9.6 19.9h1.2v1.2h-1.2zM1.2 29.1h1.2v1.2h-1.2zM10.5 17.7h0.8v0.8h-0.8zM9.8 8.9h1.3v1.3h-1.3zM0.1 16h1.3v1.3h-1.3zM24.3 7.6h0.7v0.7h-0.7zM27.5 14.1h0.8v0.8h-0.8zM6.7 18.8h1.2v1.2h-1.2zM15.5 20.6h0.7v0.7h-0.7zM17.2 6.9h0.8v0.8h-0.8zM20.2 10h1v1h-1zM36.6 6.6h1.1v1.1h-1.1zM31 2h0.7v0.7h-0.7zM1.9 2.9h0.7v0.7h-0.7zM24.4 23.2h1v1h-1zM33.6 35.6h0.8v0.8h-0.8zM23.3 16.1h0.9v0.9h-0.9zM7.7 16.3h1.2v1.2h-1.2zM0.3 21.8h0.6v0.6h-0.6zM34.6 26.2h1.3v1.3h-1.3zM30.4 34.7h0.8v0.8h-0.8zM36.4 1.9h0.9v0.9h-0.9zM6.5 13.2h0.9v0.9h-0.9zM33.7 2.4h0.6v0.6h-0.6zM34.6 0.7h0.9v0.9h-0.9zM9.3 8.8h1.1v1.1h-1.1zM29.4 26.7h0.7v0.7h-0.7zM23.3 16.1h1.1v1.1h-1.1zM18.6 20.1h0.8v0.8h-0.8zM-0.1 16.5h1.3v1.3h-1.3zM28.9 19.8h1v1h-1zM18.5 14.6h0.8v0.8h-0.8zM-0.4 20.1h1v1h-1z"/><path fill="#c8408a" d="M7.9 3.7h0.8v0.8h-0.8zM20.2 33.1h0.9v0.9h-0.9zM34.5 14.7h1.1v1.1h-1.1zM36.3 19.3h1v1h-1zM25.9 11.6h0.8v0.8h-0.8zM16 23.6h1.1v1.1h-1.1zM5 13.6h1.1v1.1h-1.1zM19.4 28.2h0.8v0.8h-0.8zM24.4 19.3h0.8v0.8h-0.8zM8.3 22h1.1v1.1h-1.1zM9.1 19.9h0.6v0.6h-0.6zM39.7 11.4h0.8v0.8h-0.8zM9.2 15.7h0.7v0.7h-0.7zM24 10.2h0.9v0.9h-0.9zM8.1 25.1h0.9v0.9h-0.9zM21.3 34.3h1.2v1.2h-1.2zM14.9 30.6h1.2v1.2h-1.2zM11.4 -0.6h1.2v1.2h-1.2zM28.2 36.1h1.1v1.1h-1.1zM3.9 9.5h0.7v0.7h-0.7zM18.8 33.2h1.3v1.3h-1.3zM16.6 12.1h0.6v0.6h-0.6zM25.8 30.6h1.1v1.1h-1.1zM2 13.1h0.9v0.9h-0.9zM26.6 5.1h1.2v1.2h-1.2zM25.6 6.6h1v1h-1zM17.3 17.9h0.8v0.8h-0.8zM25.4 5.4h0.9v0.9h-0.9zM33.1 19.5h1.1v1.1h-1.1zM20.7 0.8h0.8v0.8h-0.8zM3.3 32.3h1.1v1.1h-1.1zM27.1 7.3h1.2v1.2h-1.2zM9.6 3.3h1.2v1.2h-1.2zM2.6 14.3h1.3v1.3h-1.3zM31 33.6h0.9v0.9h-0.9zM36.3 23.2h0.6v0.6h-0.6zM29.5 28h0.7v0.7h-0.7zM11.7 21.6h1.1v1.1h-1.1zM24.5 33.9h1v1h-1zM23.7 17.9h1v1h-1zM39.4 23.4h0.8v0.8h-0.8zM20.1 35.2h1.1v1.1h-1.1zM8.4 14h1.3v1.3h-1.3zM37.5 16.2h1.2v1.2h-1.2zM5.3 19.5h1v1h-1zM9.7 35.4h0.7v0.7h-0.7zM39.5 34.6h0.7v0.7h-0.7z"/><path fill="#f8c0dc" d="M29 12.5h0.8v0.8h-0.8zM37.5 25.6h1.3v1.3h-1.3zM31.5 2.4h1.3v1.3h-1.3zM16.4 12.2h1v1h-1zM29.1 6.8h1.1v1.1h-1.1zM40.4 7.3h0.7v0.7h-0.7zM24.6 9h0.9v0.9h-0.9zM17.8 27.4h1v1h-1zM4.9 7.2h1.2v1.2h-1.2zM8.9 30.6h1.1v1.1h-1.1zM29.8 17.8h1.3v1.3h-1.3zM30 25.1h0.7v0.7h-0.7zM6.7 10.4h0.9v0.9h-0.9zM9.9 33.7h1.1v1.1h-1.1zM9.6 15.1h1.2v1.2h-1.2zM14.2 14.9h0.8v0.8h-0.8zM26.2 5.9h1v1h-1zM17.3 16.4h0.8v0.8h-0.8zM3.7 30.8h1v1h-1zM36 7.6h1v1h-1zM3.1 27.3h1.1v1.1h-1.1zM40.6 34.3h0.8v0.8h-0.8zM25.8 -0.6h1.2v1.2h-1.2zM32.2 2.2h1.1v1.1h-1.1zM13.8 24.2h0.7v0.7h-0.7zM15.7 0h1.1v1.1h-1.1zM7.1 14.6h0.8v0.8h-0.8zM29.2 5.6h1v1h-1zM38.3 12.9h1.1v1.1h-1.1zM39.7 12.9h0.6v0.6h-0.6zM20.5 15.7h1.2v1.2h-1.2zM12.9 25.5h1v1h-1zM35.8 13.6h0.8v0.8h-0.8zM12.4 19.3h0.7v0.7h-0.7zM32.2 18.2h0.8v0.8h-0.8zM8.3 12.9h1.3v1.3h-1.3zM25.2 3.2h1.3v1.3h-1.3zM23.4 17.4h0.9v0.9h-0.9zM4.1 35h1.1v1.1h-1.1zM32.4 34.3h1v1h-1z"/><path fill="#a8306e" d="M8.8 7.5h1.2v1.2h-1.2zM33 20.3h0.9v0.9h-0.9zM33.9 23.9h1.3v1.3h-1.3zM9.2 3.9h1.3v1.3h-1.3zM18.8 5.8h1v1h-1zM25.4 18.7h1.1v1.1h-1.1zM25.4 1.5h0.8v0.8h-0.8zM30 21.5h1.2v1.2h-1.2zM39 19.7h1.1v1.1h-1.1zM1.8 5.9h0.8v0.8h-0.8zM23 11.1h0.7v0.7h-0.7zM36.6 11.6h1.1v1.1h-1.1zM24.1 25.6h0.6v0.6h-0.6zM5.5 19.1h1.3v1.3h-1.3zM26.4 35.4h1.2v1.2h-1.2zM4.2 13.7h0.8v0.8h-0.8zM0.3 7.6h1v1h-1zM36.2 13.7h0.9v0.9h-0.9zM35.3 17.5h0.9v0.9h-0.9zM10.7 12.1h0.7v0.7h-0.7zM4.4 17.3h1v1h-1zM0.5 15.6h0.9v0.9h-0.9zM19.9 31.1h1.3v1.3h-1.3zM40.2 0h0.9v0.9h-0.9zM13.6 7.4h0.8v0.8h-0.8zM24.1 23.5h0.6v0.6h-0.6zM33.1 2h1v1h-1zM0.7 25.3h1v1h-1zM25.7 31.8h1.2v1.2h-1.2zM36.1 21.6h0.8v0.8h-0.8zM9 23.3h0.9v0.9h-0.9zM8.3 5h0.9v0.9h-0.9zM10.1 29h1.1v1.1h-1.1zM9.1 32.3h0.7v0.7h-0.7zM29.9 7h1.2v1.2h-1.2zM3.5 31.5h0.7v0.7h-0.7zM17 18.6h0.9v0.9h-0.9zM20.9 1.8h1.1v1.1h-1.1zM17.3 1.8h1v1h-1zM31.2 15h0.9v0.9h-0.9zM8.1 26.5h1v1h-1zM9.2 28.3h0.9v0.9h-0.9zM33.8 19.2h1.1v1.1h-1.1zM30.9 5.2h1.1v1.1h-1.1zM3.6 10.3h1.1v1.1h-1.1zM22.3 36.5h0.8v0.8h-0.8zM0.1 10.8h0.8v0.8h-0.8zM1.9 18h0.9v0.9h-0.9zM25.1 13.3h1.1v1.1h-1.1zM33.2 19.9h1.1v1.1h-1.1zM36.7 30.5h0.8v0.8h-0.8zM23.6 17.7h0.8v0.8h-0.8zM28.5 9.9h0.7v0.7h-0.7zM31.1 29.3h1.3v1.3h-1.3z"/><path fill="#b83a7c" d="M19.7 27.4h0.7v0.7h-0.7zM21.1 26h0.8v0.8h-0.8zM2.4 21.6h1v1h-1zM20 12.9h1.2v1.2h-1.2zM29.2 6.4h1.1v1.1h-1.1zM34.1 7.5h1.1v1.1h-1.1zM8.4 24.3h0.8v0.8h-0.8zM11.3 0h0.9v0.9h-0.9zM7.4 30.6h0.9v0.9h-0.9zM22.1 10.6h1v1h-1zM27.3 14.5h0.8v0.8h-0.8zM28.5 23.2h0.7v0.7h-0.7zM32.7 31.2h0.7v0.7h-0.7zM32.4 17.8h1.1v1.1h-1.1zM15.8 28h0.8v0.8h-0.8zM34.5 18h1v1h-1zM26.2 26.1h0.8v0.8h-0.8zM24.6 22.7h1v1h-1zM39 21.4h0.6v0.6h-0.6zM12 25.7h1v1h-1zM21.9 32.9h1.1v1.1h-1.1zM34 2.5h0.7v0.7h-0.7zM22.5 24.4h0.8v0.8h-0.8zM23.4 20.8h1.2v1.2h-1.2zM36.1 33.8h1.1v1.1h-1.1zM28.5 23.8h1.2v1.2h-1.2zM39.2 4.9h1.2v1.2h-1.2zM9.1 13h1v1h-1zM20.5 6.6h1v1h-1zM37.1 2.1h0.9v0.9h-0.9zM22.3 9h0.8v0.8h-0.8zM-0.1 34.5h0.7v0.7h-0.7zM29.9 18.5h0.8v0.8h-0.8zM5.2 3.6h0.7v0.7h-0.7zM17.6 5.1h0.7v0.7h-0.7zM24.2 1.4h0.9v0.9h-0.9zM21.3 36.5h0.8v0.8h-0.8zM23 11.8h0.9v0.9h-0.9zM15.3 2.8h0.9v0.9h-0.9zM37.1 29.3h1.1v1.1h-1.1zM4.5 8.1h1.1v1.1h-1.1zM26.7 18.8h1.1v1.1h-1.1zM23.6 19.6h1.2v1.2h-1.2zM32 19.6h1.2v1.2h-1.2zM22.5 29h1v1h-1zM23.1 30.6h1.3v1.3h-1.3zM25 26.1h1.3v1.3h-1.3zM24.8 4.7h1v1h-1z"/></pattern><pattern id="p24" patternUnits="userSpaceOnUse" x="0" y="0" width="41" height="37"><path fill="#ffffff" d="M12.5 24h1.5v1.5h-1.5zM7.4 24.8h0.9v0.9h-0.9zM15.9 18.6h1.7v1.7h-1.7zM19.9 17h0.8v0.8h-0.8zM8 6.6h1v1h-1zM33.2 9.1h1.1v1.1h-1.1zM16.6 17.2h1.3v1.3h-1.3zM35.3 6.7h1.2v1.2h-1.2zM19.4 31.7h1.1v1.1h-1.1zM6.2 35.3h0.9v0.9h-0.9zM3.9 34.9h1.5v1.5h-1.5zM9.1 13.9h1.7v1.7h-1.7zM23.4 7.6h1.1v1.1h-1.1zM16.2 2.2h1v1h-1zM32.1 2.1h1v1h-1zM28.1 4h1.7v1.7h-1.7zM27.9 14.8h0.8v0.8h-0.8zM35.3 19.9h1v1h-1zM12.8 31.3h1.3v1.3h-1.3zM12.9 1.8h1.6v1.6h-1.6zM32.9 28.7h1.5v1.5h-1.5zM17.8 31.9h1.2v1.2h-1.2zM2.8 32.2h0.8v0.8h-0.8zM14.4 6h1.5v1.5h-1.5zM28.9 26.5h0.9v0.9h-0.9zM4.2 0.2h0.8v0.8h-0.8zM40 11.7h1v1h-1zM17 11.5h0.8v0.8h-0.8zM29.2 3.3h1.1v1.1h-1.1zM10 31.7h0.8v0.8h-0.8zM23.6 24h1.6v1.6h-1.6zM14.2 5.4h0.9v0.9h-0.9zM18.8 2.1h1v1h-1zM1.1 16.7h1.6v1.6h-1.6z"/><path fill="#a82c6c" d="M35.7 8.3h1.5v1.5h-1.5zM7.4 3.9h1.1v1.1h-1.1zM12.9 10.5h1.6v1.6h-1.6zM19.2 10.5h1.3v1.3h-1.3zM2.3 33.6h1v1h-1zM17.2 26.5h0.9v0.9h-0.9zM1.6 15.6h1.2v1.2h-1.2zM10.1 9h1.6v1.6h-1.6zM14.6 12.8h1.1v1.1h-1.1zM22.3 25.7h0.9v0.9h-0.9zM0.2 15.5h1.4v1.4h-1.4zM32.4 6.6h1.6v1.6h-1.6zM12.4 6.7h0.7v0.7h-0.7zM13.2 34.2h0.7v0.7h-0.7zM0.8 2.4h0.9v0.9h-0.9zM22 22.6h1.4v1.4h-1.4zM0.8 12.1h1.4v1.4h-1.4zM4.9 25.3h1.6v1.6h-1.6zM0 16.5h1.6v1.6h-1.6zM24.7 8.2h0.9v0.9h-0.9zM32.8 10.8h1.1v1.1h-1.1zM10.7 10.9h1.2v1.2h-1.2zM27.1 30.7h0.9v0.9h-0.9zM22.9 23.2h1.2v1.2h-1.2zM23.5 30.7h1.3v1.3h-1.3zM10.3 27.4h1v1h-1zM11.5 27.8h1.7v1.7h-1.7zM20.5 14.4h0.9v0.9h-0.9zM36.6 11.2h1.1v1.1h-1.1zM24.1 19h1v1h-1zM4.5 33.2h0.9v0.9h-0.9zM27.5 17.6h1.2v1.2h-1.2zM27.5 26.1h1v1h-1zM1.1 30.3h1.3v1.3h-1.3zM10.2 0.3h1.2v1.2h-1.2zM2.8 23.2h1v1h-1zM27.7 29.6h1.3v1.3h-1.3z"/><path fill="#b8387a" d="M13.6 -0.5h1.5v1.5h-1.5zM18.1 22.8h0.9v0.9h-0.9zM20.2 5.7h1.2v1.2h-1.2zM39 28.4h1.2v1.2h-1.2zM38.8 34.1h1v1h-1zM19.9 35.4h1.4v1.4h-1.4zM32.7 20.1h1.3v1.3h-1.3zM28.1 5.1h1.7v1.7h-1.7zM23.1 3.4h1.6v1.6h-1.6zM37.8 30.5h0.8v0.8h-0.8zM3.4 32h1.3v1.3h-1.3zM31 1.2h0.8v0.8h-0.8zM33.4 4.6h0.8v0.8h-0.8zM23.2 24.7h0.9v0.9h-0.9zM31.1 32.4h0.8v0.8h-0.8zM27 -0.3h1v1h-1zM21.5 26.1h1.1v1.1h-1.1zM36.4 12.1h0.7v0.7h-0.7zM24.5 15.5h0.8v0.8h-0.8zM29.4 2.2h1.6v1.6h-1.6zM5 14.1h1.7v1.7h-1.7zM9.4 2.8h1.1v1.1h-1.1zM15.7 11.8h1.1v1.1h-1.1zM20.4 12.7h1.3v1.3h-1.3zM38.3 29.9h0.8v0.8h-0.8zM12.7 34.6h0.8v0.8h-0.8zM33.6 2.6h0.8v0.8h-0.8zM8.1 2.9h0.8v0.8h-0.8zM27.3 27.2h0.7v0.7h-0.7zM36.9 35.8h1.2v1.2h-1.2zM26.3 29.7h1.5v1.5h-1.5zM33.8 22.7h1.5v1.5h-1.5zM36.6 22.8h1.6v1.6h-1.6zM32.9 16.8h1.1v1.1h-1.1zM9.1 0.3h1.1v1.1h-1.1zM23.5 23.2h0.8v0.8h-0.8zM24.2 23.2h0.9v0.9h-0.9zM24.4 2.7h1.1v1.1h-1.1zM13.4 15.9h1.6v1.6h-1.6zM9.4 19.1h1.6v1.6h-1.6zM5.9 13.4h0.8v0.8h-0.8zM2.7 31.6h1.2v1.2h-1.2zM10.9 7.8h1.5v1.5h-1.5zM35.7 0.3h1.2v1.2h-1.2z"/><path fill="#f8d8e8" d="M2.3 20.2h1.6v1.6h-1.6zM39.3 11.2h0.8v0.8h-0.8zM34 2.4h0.9v0.9h-0.9zM29.5 26.5h1.4v1.4h-1.4zM36.1 8.8h1.3v1.3h-1.3zM12.8 2.4h0.8v0.8h-0.8zM13 4.3h1.4v1.4h-1.4zM3.4 27.4h0.8v0.8h-0.8zM20.2 3.6h1.3v1.3h-1.3zM9.2 12.5h1.1v1.1h-1.1zM36.4 9.8h0.7v0.7h-0.7zM18.4 6.8h0.8v0.8h-0.8zM2.7 1.8h1.2v1.2h-1.2zM10.4 1.1h1v1h-1zM11.6 34.7h1.3v1.3h-1.3zM24.8 13.8h1.5v1.5h-1.5zM21 21.7h0.8v0.8h-0.8zM34 22.6h0.8v0.8h-0.8zM21 34.4h1v1h-1zM20.7 -0.8h1.6v1.6h-1.6zM16.6 28.8h0.8v0.8h-0.8zM8.5 31.4h0.8v0.8h-0.8zM27.3 5.5h1.5v1.5h-1.5zM26.8 8.8h1.6v1.6h-1.6zM24 0.7h1.6v1.6h-1.6zM28.5 24.1h1.2v1.2h-1.2zM1.3 2.8h0.9v0.9h-0.9zM14 1h1v1h-1zM24.8 18h1.7v1.7h-1.7zM2.2 13.7h0.9v0.9h-0.9zM19.9 25.2h0.8v0.8h-0.8zM6.9 12.1h0.7v0.7h-0.7zM6.8 28h1.2v1.2h-1.2zM30.3 6.8h0.8v0.8h-0.8zM13.7 30.2h0.7v0.7h-0.7zM37.7 18.6h0.9v0.9h-0.9zM4 30.6h0.8v0.8h-0.8zM7.8 7.1h1.1v1.1h-1.1z"/></pattern><pattern id="p25" patternUnits="userSpaceOnUse" x="0" y="0" width="41" height="37"><path fill="#fde725" d="M34.7 18.5h1.1v1.1h-1.1zM17.6 10.9h1.3v1.3h-1.3zM1.6 7.3h1.5v1.5h-1.5zM0.1 24.8h1.6v1.6h-1.6zM18.8 6.4h1.2v1.2h-1.2zM25.5 11.2h1.5v1.5h-1.5zM18.9 14h1.5v1.5h-1.5zM15.1 17h1.4v1.4h-1.4zM31.7 35.7h1.1v1.1h-1.1zM7.9 31.6h1.4v1.4h-1.4zM6.2 8.4h1.4v1.4h-1.4zM2.2 7.1h1.1v1.1h-1.1zM28.7 3h1.1v1.1h-1.1zM17.3 1.7h1.2v1.2h-1.2zM36.6 9h1.1v1.1h-1.1zM28.4 30.9h1.1v1.1h-1.1zM29.3 6.7h1.3v1.3h-1.3zM24.8 14.3h1.3v1.3h-1.3zM11.7 3h1.1v1.1h-1.1zM26.8 31h1.3v1.3h-1.3zM15.5 3.9h1.5v1.5h-1.5zM18.9 13.5h1.4v1.4h-1.4zM34.6 22.4h1.4v1.4h-1.4zM23.5 9.4h1.6v1.6h-1.6zM7.6 15.5h1.5v1.5h-1.5zM14.6 12.2h1.3v1.3h-1.3zM6.6 3.8h1.3v1.3h-1.3zM15.2 8.5h1.2v1.2h-1.2zM35 5.7h1.6v1.6h-1.6zM9 1.3h1.1v1.1h-1.1zM35.6 8.1h1.2v1.2h-1.2zM20.3 26.2h1.2v1.2h-1.2zM18.7 17.1h1.2v1.2h-1.2zM18.5 29.8h1.6v1.6h-1.6zM32.2 31.3h1.2v1.2h-1.2zM21.3 30.1h1.3v1.3h-1.3zM1.9 19.8h1.2v1.2h-1.2zM11.9 8.2h1.1v1.1h-1.1zM29.6 25.3h1.1v1.1h-1.1zM9 35.2h1.3v1.3h-1.3zM10.5 33h1.5v1.5h-1.5zM26 0.5h1.3v1.3h-1.3zM34.1 30.4h1.3v1.3h-1.3zM36.9 5.1h1.3v1.3h-1.3z"/><path fill="#5ec962" d="M32 6h1.5v1.5h-1.5zM27.5 0.9h1.5v1.5h-1.5zM15.5 20.3h1.4v1.4h-1.4zM18.4 13.5h1.1v1.1h-1.1zM36.8 1.3h1.5v1.5h-1.5zM36.1 23.3h1.2v1.2h-1.2zM7.4 21.9h1.1v1.1h-1.1zM34.8 4h1.5v1.5h-1.5zM19.7 30.5h1.4v1.4h-1.4zM20.6 32.9h1.4v1.4h-1.4zM37.4 1.9h1.1v1.1h-1.1zM7.7 11.5h1.5v1.5h-1.5zM27.6 26.1h1.3v1.3h-1.3zM19.2 23.8h1.4v1.4h-1.4zM14.5 14.5h1.3v1.3h-1.3zM33.4 22.6h1.4v1.4h-1.4zM1.7 6.6h1.1v1.1h-1.1zM20.8 26.7h1.3v1.3h-1.3zM24.6 11.3h1.4v1.4h-1.4zM18.6 30.7h1.5v1.5h-1.5zM25.5 23.1h1.1v1.1h-1.1zM28 19.4h1.6v1.6h-1.6zM34.1 10h1.1v1.1h-1.1zM4.2 11.2h1.5v1.5h-1.5zM31.6 18.9h1.4v1.4h-1.4zM35.7 -0.5h1.5v1.5h-1.5zM32.4 10.9h1.2v1.2h-1.2zM21.2 6.1h1.1v1.1h-1.1zM22.5 23.6h1.4v1.4h-1.4zM24 27.3h1.3v1.3h-1.3zM16.6 28.5h1.2v1.2h-1.2zM32.2 19.3h1.1v1.1h-1.1zM7.6 2.2h1.1v1.1h-1.1zM35.5 2.3h1.4v1.4h-1.4zM8.8 4.3h1.2v1.2h-1.2zM5.2 15.8h1.3v1.3h-1.3zM40 29.7h1.2v1.2h-1.2zM39.4 16.2h1.3v1.3h-1.3zM26.6 16.6h1.4v1.4h-1.4zM21.5 29.9h1.1v1.1h-1.1zM35.8 12.1h1.5v1.5h-1.5zM13.1 31.3h1.3v1.3h-1.3zM17.5 19.1h1.3v1.3h-1.3zM4.2 8.1h1.5v1.5h-1.5zM37.7 10.1h1.4v1.4h-1.4zM18.2 2.7h1.4v1.4h-1.4zM0.3 2.3h1.6v1.6h-1.6zM38.8 32.3h1.2v1.2h-1.2zM24.3 13.4h1.1v1.1h-1.1zM34.1 32h1.4v1.4h-1.4zM33 30.7h1.3v1.3h-1.3zM9.4 26.2h1.2v1.2h-1.2zM20.2 32.9h1.1v1.1h-1.1zM8.1 19.9h1.4v1.4h-1.4z"/><path fill="#21918c" d="M13.8 15.7h1.3v1.3h-1.3zM17.3 34.6h1.3v1.3h-1.3zM11.2 25.1h1.2v1.2h-1.2zM23.7 7.2h1.4v1.4h-1.4zM24.8 22.5h1.4v1.4h-1.4zM17.7 34.9h1.1v1.1h-1.1zM26.8 33.6h1.5v1.5h-1.5zM33.2 7.2h1.2v1.2h-1.2zM22.3 3.2h1.5v1.5h-1.5zM9.4 24.9h1.1v1.1h-1.1zM12 8h1.4v1.4h-1.4zM25.1 19.2h1.4v1.4h-1.4zM36.4 27h1.2v1.2h-1.2zM22.8 4h1.4v1.4h-1.4zM2.7 13.1h1.3v1.3h-1.3zM15.3 25.8h1.4v1.4h-1.4zM40.3 26.3h1.3v1.3h-1.3zM4.9 20.7h1.2v1.2h-1.2zM31.6 22.9h1.5v1.5h-1.5zM37.4 1.3h1.5v1.5h-1.5zM27.1 4.6h1.5v1.5h-1.5zM12.8 1.1h1.4v1.4h-1.4zM19.1 34.1h1.6v1.6h-1.6zM7.9 35.6h1.4v1.4h-1.4zM24.6 12.2h1.1v1.1h-1.1zM14.4 8.8h1.2v1.2h-1.2zM7 35.5h1.4v1.4h-1.4zM22.1 13.5h1.4v1.4h-1.4zM1.5 6.8h1.3v1.3h-1.3zM25.5 10.5h1.3v1.3h-1.3zM28.3 11.3h1.1v1.1h-1.1zM23.8 30.9h1.3v1.3h-1.3zM38.3 6.8h1.1v1.1h-1.1zM24.6 35.3h1.1v1.1h-1.1zM31.6 29.2h1.3v1.3h-1.3zM25.4 12.5h1.2v1.2h-1.2zM36.8 30.9h1.1v1.1h-1.1zM24.2 27.9h1.4v1.4h-1.4zM40.2 1.2h1.1v1.1h-1.1zM34.9 22.7h1.2v1.2h-1.2zM10.4 8.4h1.5v1.5h-1.5zM15.9 26.8h1.4v1.4h-1.4zM19.8 25.5h1.2v1.2h-1.2zM1.5 25.3h1.5v1.5h-1.5zM16.3 9.4h1.2v1.2h-1.2zM4.4 17.4h1.4v1.4h-1.4zM21.1 29.8h1.2v1.2h-1.2zM20.9 -0.3h1.2v1.2h-1.2zM38.5 20.5h1.4v1.4h-1.4z"/><path fill="#2a788e" d="M9.8 23.9h1.3v1.3h-1.3zM39.5 31.1h1.5v1.5h-1.5zM12.5 13.3h1.1v1.1h-1.1zM11.1 4.5h1.4v1.4h-1.4zM19.4 35.6h1.4v1.4h-1.4zM29.7 10.6h1.2v1.2h-1.2zM35.2 13.1h1.3v1.3h-1.3zM14 6.5h1.1v1.1h-1.1zM16.2 17.7h1.2v1.2h-1.2zM1.2 2.9h1.1v1.1h-1.1zM29.6 29.5h1.5v1.5h-1.5zM24.7 11.6h1.1v1.1h-1.1zM0.1 7.3h1.4v1.4h-1.4zM9.6 36h1.4v1.4h-1.4zM21.7 9.5h1.5v1.5h-1.5zM28.6 6.3h1.5v1.5h-1.5zM4 30.1h1.1v1.1h-1.1zM1.1 23.5h1.5v1.5h-1.5zM28.6 7.2h1.1v1.1h-1.1zM14.9 18.4h1.1v1.1h-1.1zM13.3 34.8h1.3v1.3h-1.3zM36 20.7h1.4v1.4h-1.4zM11.6 27h1.1v1.1h-1.1zM20.9 25.2h1.5v1.5h-1.5zM24.2 33.8h1.1v1.1h-1.1zM12.1 5.8h1.3v1.3h-1.3zM19.7 17.2h1.3v1.3h-1.3zM12.1 12.5h1.2v1.2h-1.2zM17 5.6h1.5v1.5h-1.5zM16.3 25.9h1.1v1.1h-1.1zM19.2 11.8h1.2v1.2h-1.2zM22.2 19.6h1.5v1.5h-1.5zM21.4 16.5h1.4v1.4h-1.4zM11.2 6.5h1.1v1.1h-1.1zM22.2 18.3h1.5v1.5h-1.5zM7.2 20h1.5v1.5h-1.5zM34.9 19.3h1.2v1.2h-1.2zM16.2 33.7h1.3v1.3h-1.3zM0.6 22h1.6v1.6h-1.6zM6 30h1.4v1.4h-1.4zM19.6 27.7h1.1v1.1h-1.1zM15.3 28.1h1.1v1.1h-1.1zM14.6 22.3h1.2v1.2h-1.2zM39.8 15.4h1.5v1.5h-1.5zM11.3 15.8h1.4v1.4h-1.4zM10 24.3h1.4v1.4h-1.4zM12.2 8.3h1.5v1.5h-1.5zM22.9 27.2h1.3v1.3h-1.3zM26.7 29.5h1.3v1.3h-1.3zM8.1 6.1h1.4v1.4h-1.4zM1 29.5h1.1v1.1h-1.1zM37.6 16.2h1.3v1.3h-1.3zM28.3 18.1h1.3v1.3h-1.3zM33.8 32.2h1.1v1.1h-1.1zM11 18.2h1.1v1.1h-1.1z"/><path fill="#3b528b" d="M27.9 21.4h1.5v1.5h-1.5zM28.2 31.5h1.1v1.1h-1.1zM30.1 8.7h1.3v1.3h-1.3zM32.3 24.4h1.5v1.5h-1.5zM4.8 14.7h1.2v1.2h-1.2zM32.9 19.2h1.5v1.5h-1.5zM27.6 27.2h1.4v1.4h-1.4zM16 33.8h1.1v1.1h-1.1zM14 23.7h1.1v1.1h-1.1zM35.1 8.8h1.1v1.1h-1.1zM31 6.5h1.2v1.2h-1.2zM15.8 7.2h1.3v1.3h-1.3zM36.5 5.7h1.2v1.2h-1.2zM21.3 27.5h1.4v1.4h-1.4zM13.7 23.7h1.5v1.5h-1.5zM23.1 19.4h1.5v1.5h-1.5zM3.6 5.5h1.2v1.2h-1.2zM31.8 32.3h1.3v1.3h-1.3zM2.5 8.9h1.2v1.2h-1.2zM18.2 25.7h1.6v1.6h-1.6zM1.1 13.7h1.5v1.5h-1.5zM21.7 17h1.3v1.3h-1.3zM24 1.5h1.5v1.5h-1.5zM28.8 24.2h1.4v1.4h-1.4zM7.6 30.6h1.5v1.5h-1.5zM31.8 17.5h1.4v1.4h-1.4zM12.7 31.8h1.4v1.4h-1.4zM27.5 35.9h1.3v1.3h-1.3zM37.7 2.1h1.5v1.5h-1.5zM15.6 10.9h1.4v1.4h-1.4zM24.1 5.9h1.1v1.1h-1.1zM25.8 20h1.4v1.4h-1.4zM20.5 25.4h1.3v1.3h-1.3zM8.2 28.4h1.4v1.4h-1.4zM10.2 5.1h1.3v1.3h-1.3zM1.8 12.6h1.5v1.5h-1.5zM7.6 24.9h1.1v1.1h-1.1zM1.8 24.7h1.5v1.5h-1.5zM18 26.2h1.3v1.3h-1.3zM4.1 2.1h1.1v1.1h-1.1zM15.2 29.4h1.3v1.3h-1.3zM2.7 28.6h1.4v1.4h-1.4zM33.1 10.4h1.4v1.4h-1.4zM7 28.5h1.6v1.6h-1.6zM26.2 17.2h1.3v1.3h-1.3zM4.1 6.1h1.2v1.2h-1.2zM38.2 25.5h1.5v1.5h-1.5zM8.1 19.9h1.2v1.2h-1.2zM26.4 23.8h1.2v1.2h-1.2zM3.5 12h1.1v1.1h-1.1zM5.4 9.6h1.4v1.4h-1.4zM18.1 13.8h1.3v1.3h-1.3zM34.5 17.1h1.2v1.2h-1.2z"/></pattern><linearGradient id="viri" x1="0" y1="0" x2="0" y2="1"><stop offset="0" stop-color="#fde725"/><stop offset="0.3" stop-color="#5ec962"/><stop offset="0.55" stop-color="#21918c"/><stop offset="0.8" stop-color="#3b528b"/><stop offset="1" stop-color="#440154"/></linearGradient><clipPath id="cJ3"><rect x="19" y="884.4" width="104" height="55.2"/></clipPath><clipPath id="cJ3t"><polygon points="18,904 24,902 30,900 38,899.5 45,898 52,898.5 60,898 70,897.5 80,897 84,891 88,887.5 92,886 100,885.5 110,885 124,884.4 124,940 18,940"/></clipPath><pattern id="p26" patternUnits="userSpaceOnUse" x="0" y="0" width="41" height="37"><path fill="#f590c4" d="M18.2 15.8h0.6v0.6h-0.6zM10.7 26.1h1.1v1.1h-1.1zM26.8 9.6h0.6v0.6h-0.6zM7.6 4.8h1v1h-1zM6.5 16.7h0.8v0.8h-0.8zM21 28.1h1.3v1.3h-1.3zM3.6 13.9h0.8v0.8h-0.8zM36.6 0.6h1v1h-1zM35.5 7.7h0.6v0.6h-0.6zM1.9 13.3h0.8v0.8h-0.8zM33.3 10h0.6v0.6h-0.6zM35 4.2h0.7v0.7h-0.7zM0.3 7.6h0.8v0.8h-0.8zM9.6 2.7h0.7v0.7h-0.7zM14.2 23.9h1.3v1.3h-1.3zM12.5 8.2h1.2v1.2h-1.2zM5.8 8.2h1.3v1.3h-1.3zM23.6 23.8h1v1h-1zM26.8 7.4h1.3v1.3h-1.3zM12 17.6h1.1v1.1h-1.1zM12.3 11.1h0.8v0.8h-0.8zM28.4 19.1h1.1v1.1h-1.1zM13.7 25.7h1v1h-1zM4.2 7h0.8v0.8h-0.8zM11.3 -0.5h1.2v1.2h-1.2zM0.3 31.5h1.2v1.2h-1.2zM30.1 16h0.8v0.8h-0.8zM14 17.6h0.8v0.8h-0.8zM35.7 30.8h0.9v0.9h-0.9zM1.2 36.2h1.1v1.1h-1.1zM8.1 26h1.1v1.1h-1.1zM14.6 11.8h0.7v0.7h-0.7zM13.1 2.2h0.8v0.8h-0.8zM24.7 16.6h1.1v1.1h-1.1zM1.2 18.5h0.9v0.9h-0.9zM38.5 15.2h0.7v0.7h-0.7zM27.6 22.7h0.9v0.9h-0.9zM19.2 12.2h1v1h-1zM8.1 16.4h1.1v1.1h-1.1zM11.2 3.9h1.2v1.2h-1.2zM36.1 17.3h0.8v0.8h-0.8zM26.9 16.8h1.2v1.2h-1.2zM19.8 4.3h1.1v1.1h-1.1zM10.8 19.7h0.7v0.7h-0.7zM26.8 7.8h0.7v0.7h-0.7zM12.5 1.9h1.2v1.2h-1.2zM34.2 8.6h1v1h-1zM22.1 3.8h0.6v0.6h-0.6zM4.5 1.9h1.2v1.2h-1.2zM7.2 25.3h1v1h-1zM23.1 27.8h0.6v0.6h-0.6zM5.4 27.9h1.2v1.2h-1.2zM28.7 17.7h0.7v0.7h-0.7z"/><path fill="#b83a7c" d="M27.1 24.4h0.9v0.9h-0.9zM22.1 -0h0.8v0.8h-0.8zM16.9 28.7h1.1v1.1h-1.1zM11.1 36.5h0.9v0.9h-0.9zM0.8 5.9h0.8v0.8h-0.8zM39.5 9h1.1v1.1h-1.1zM31.2 -0.1h1.2v1.2h-1.2zM5.9 2.1h1.2v1.2h-1.2zM19.8 11.5h0.8v0.8h-0.8zM14.6 6.8h1.3v1.3h-1.3zM16.6 25h1.2v1.2h-1.2zM22.1 4.9h1.3v1.3h-1.3zM0.2 12.6h1.2v1.2h-1.2zM33.7 35.5h0.7v0.7h-0.7zM2.8 8h1.1v1.1h-1.1zM39.5 7.4h0.6v0.6h-0.6zM18.2 34.7h1v1h-1zM11.5 10.5h0.9v0.9h-0.9zM31.5 35h1.1v1.1h-1.1zM35.8 25.1h0.9v0.9h-0.9zM23.3 10h0.7v0.7h-0.7zM7.2 13.6h1.2v1.2h-1.2zM12 12.7h1.2v1.2h-1.2zM8.4 5.2h0.9v0.9h-0.9zM9.3 6.9h1.3v1.3h-1.3zM15.9 26.9h1.1v1.1h-1.1zM34.5 23.7h0.9v0.9h-0.9zM4.9 20.5h1.1v1.1h-1.1zM37.6 2.3h0.8v0.8h-0.8zM37.6 20h0.7v0.7h-0.7zM6.8 31.9h1v1h-1zM29.3 10.8h0.7v0.7h-0.7zM25.7 21.3h1.1v1.1h-1.1zM29 33.7h0.6v0.6h-0.6zM21.1 10.7h1.1v1.1h-1.1zM12.3 16.6h1.1v1.1h-1.1zM27.7 29.4h1.1v1.1h-1.1zM0.7 29.8h0.9v0.9h-0.9zM10.6 13.4h0.8v0.8h-0.8zM3.1 23.3h0.7v0.7h-0.7zM32.4 3.6h1.2v1.2h-1.2zM36.2 6.7h1.3v1.3h-1.3zM33.6 13.6h0.7v0.7h-0.7zM23.2 31.1h0.8v0.8h-0.8zM14.8 31.7h0.8v0.8h-0.8zM20.3 20.8h1.2v1.2h-1.2zM36.8 35.7h0.7v0.7h-0.7zM39.7 34.3h1.3v1.3h-1.3zM4.8 7.1h0.7v0.7h-0.7zM4.7 22.4h0.8v0.8h-0.8zM29.2 28.2h0.6v0.6h-0.6zM6.8 16.2h1.3v1.3h-1.3zM19.6 4.5h1.2v1.2h-1.2zM27.3 14.1h0.9v0.9h-0.9z"/><path fill="#c8408a" d="M27.3 30.7h1.2v1.2h-1.2zM15.1 25.4h0.6v0.6h-0.6zM38.6 34h0.9v0.9h-0.9zM5.5 27.2h0.8v0.8h-0.8zM8 -0.3h1.2v1.2h-1.2zM38.5 19.7h0.9v0.9h-0.9zM31 6h1v1h-1zM30.5 11.9h1v1h-1zM1.8 1.5h0.7v0.7h-0.7zM33.7 25.5h0.8v0.8h-0.8zM5.9 28.1h0.8v0.8h-0.8zM18.8 3.3h0.7v0.7h-0.7zM36.3 32h1.2v1.2h-1.2zM16.4 12.8h1v1h-1zM29.6 7.6h0.8v0.8h-0.8zM32.1 7.2h1v1h-1zM18.6 35.8h1.2v1.2h-1.2zM40.1 9.1h0.9v0.9h-0.9zM12.3 11.9h1v1h-1zM35.7 18.8h1v1h-1zM32.8 5.1h1.1v1.1h-1.1zM3.5 2.5h1.3v1.3h-1.3zM27.8 28.9h0.6v0.6h-0.6zM17 13.6h0.9v0.9h-0.9zM21.2 30h1v1h-1zM9.7 16.9h0.7v0.7h-0.7zM39.8 27.6h0.7v0.7h-0.7zM8.3 18h0.9v0.9h-0.9zM0.8 14.7h1.2v1.2h-1.2zM32 30.7h0.9v0.9h-0.9zM22.7 0.8h0.9v0.9h-0.9zM39 28h1.2v1.2h-1.2zM16.3 21.8h0.9v0.9h-0.9zM1.8 35.4h0.7v0.7h-0.7zM27.8 19.3h1.1v1.1h-1.1zM30.1 29.9h0.9v0.9h-0.9zM35.7 5.5h1.1v1.1h-1.1zM28.5 15.3h1.2v1.2h-1.2zM2.8 2h0.6v0.6h-0.6zM18.6 15.6h1.1v1.1h-1.1zM18.1 20.9h0.9v0.9h-0.9zM1.6 21.7h0.9v0.9h-0.9zM28.9 20h0.9v0.9h-0.9zM6.2 13.3h1.1v1.1h-1.1zM16.2 -0.5h1v1h-1zM27.9 10.1h0.9v0.9h-0.9zM13.4 23h1.3v1.3h-1.3zM9.7 15.1h0.7v0.7h-0.7zM20.1 25.2h0.7v0.7h-0.7zM33.6 12.8h1.1v1.1h-1.1zM22.2 17h0.7v0.7h-0.7zM24 0.6h0.8v0.8h-0.8zM38.5 33.9h1.2v1.2h-1.2zM-0.2 34.7h0.9v0.9h-0.9zM24.5 26.8h1v1h-1zM9.3 13.2h0.8v0.8h-0.8z"/><path fill="#a8306e" d="M36.5 11.4h0.7v0.7h-0.7zM2 29.8h0.7v0.7h-0.7zM28.6 27.2h0.9v0.9h-0.9zM37.5 18.4h1.2v1.2h-1.2zM21.4 17.5h0.8v0.8h-0.8zM27.5 31.1h0.9v0.9h-0.9zM7.3 16.9h0.9v0.9h-0.9zM1.6 13.4h0.6v0.6h-0.6zM3.3 31.9h0.8v0.8h-0.8zM40.1 6.4h0.7v0.7h-0.7zM11.4 15.3h0.7v0.7h-0.7zM5.6 8.6h0.8v0.8h-0.8zM23.7 11.3h0.7v0.7h-0.7zM3.5 24.5h0.9v0.9h-0.9zM13.4 16.7h1.1v1.1h-1.1zM31.4 12.4h1.2v1.2h-1.2zM14.9 15.8h1v1h-1zM27.1 24.6h1.2v1.2h-1.2zM16.1 6.3h0.7v0.7h-0.7zM15.1 29.1h0.9v0.9h-0.9zM0.3 3.9h0.9v0.9h-0.9zM6.6 28.1h1.3v1.3h-1.3zM13.3 2.7h0.9v0.9h-0.9zM25.7 26.4h0.7v0.7h-0.7zM20.2 5.8h0.8v0.8h-0.8zM23.1 13.1h0.8v0.8h-0.8zM25.2 14.5h0.9v0.9h-0.9zM20.3 28.9h1.2v1.2h-1.2zM31.4 16.2h1.2v1.2h-1.2zM15.7 12.3h1v1h-1zM39 23.7h1.2v1.2h-1.2zM11.8 19.8h0.6v0.6h-0.6zM8.7 28.1h0.9v0.9h-0.9zM17.3 10.7h1.2v1.2h-1.2zM24.1 35.4h0.9v0.9h-0.9zM22.2 3.5h0.6v0.6h-0.6zM32.9 7.5h0.9v0.9h-0.9zM24.1 31.7h1.3v1.3h-1.3zM15.1 8.5h0.6v0.6h-0.6zM40.3 3h1.1v1.1h-1.1zM4.2 32.1h1v1h-1zM15.4 5.1h0.8v0.8h-0.8zM24 19h1v1h-1zM18.1 31.3h1v1h-1zM39.3 1.5h1.1v1.1h-1.1zM13.8 15.7h0.6v0.6h-0.6zM31.1 18.8h0.6v0.6h-0.6z"/><path fill="#f8c0dc" d="M22.9 16.6h1.1v1.1h-1.1zM28.8 2.2h0.8v0.8h-0.8zM11.6 20.5h0.8v0.8h-0.8zM16.4 2.4h0.9v0.9h-0.9zM22.6 29.3h0.9v0.9h-0.9zM5.6 28.8h0.9v0.9h-0.9zM0.8 2.1h1.2v1.2h-1.2zM4.8 13.2h0.7v0.7h-0.7zM26.7 24.7h0.7v0.7h-0.7zM12.9 11.3h0.6v0.6h-0.6zM7 -0.2h0.7v0.7h-0.7zM27.2 4.1h1v1h-1zM30.6 10.8h1.1v1.1h-1.1zM5.9 36.4h1.1v1.1h-1.1zM11.8 22.6h0.7v0.7h-0.7zM38.3 8.4h1v1h-1zM25.5 32h1v1h-1zM19.7 9.7h0.9v0.9h-0.9zM35.1 32.1h0.7v0.7h-0.7zM6.6 0.8h1.2v1.2h-1.2zM33.4 25h0.6v0.6h-0.6zM31.2 28.8h1v1h-1zM38.9 23.3h0.7v0.7h-0.7zM23.1 35.7h1.1v1.1h-1.1zM32.4 26h0.9v0.9h-0.9zM39.8 28.2h1.3v1.3h-1.3zM33.6 29.5h1.1v1.1h-1.1zM13.5 17.7h1v1h-1zM37.3 6h1.2v1.2h-1.2zM37.5 28.6h1v1h-1zM2.6 16.6h1.2v1.2h-1.2zM24.8 21.8h0.7v0.7h-0.7zM2.7 0.4h0.7v0.7h-0.7zM15.4 2.4h1v1h-1zM13.3 12.6h0.9v0.9h-0.9zM39.6 27.4h1v1h-1zM25.5 4.6h1v1h-1zM31.2 25.9h0.9v0.9h-0.9zM4.7 17.3h0.9v0.9h-0.9zM39.7 34.2h0.9v0.9h-0.9zM15.9 13.3h0.6v0.6h-0.6zM19.6 22.4h0.8v0.8h-0.8zM16.9 28.2h0.7v0.7h-0.7zM28.9 31h1v1h-1zM40.5 12.3h0.7v0.7h-0.7zM25 9.3h0.8v0.8h-0.8zM30.7 1.9h1v1h-1zM38.2 22.1h0.8v0.8h-0.8zM18 31.7h1.2v1.2h-1.2zM17.6 3.5h0.8v0.8h-0.8zM25.8 30.8h0.9v0.9h-0.9zM35.3 1h0.7v0.7h-0.7zM10.5 29.3h0.7v0.7h-0.7zM40.5 29h0.8v0.8h-0.8zM31.5 28.3h0.8v0.8h-0.8zM16.2 23.6h0.7v0.7h-0.7zM22.2 17.9h1.1v1.1h-1.1zM16.1 -0.1h0.8v0.8h-0.8zM1.8 0.6h0.9v0.9h-0.9zM3.5 1.9h1.1v1.1h-1.1z"/><path fill="#ffffff" d="M14.3 24.5h1.1v1.1h-1.1zM12.4 12.5h1.2v1.2h-1.2zM14.4 5.3h0.8v0.8h-0.8zM16.9 19.7h1.3v1.3h-1.3zM14.3 24.4h1v1h-1zM6.1 25.6h0.7v0.7h-0.7zM4.4 28.8h0.9v0.9h-0.9zM40 7h1.1v1.1h-1.1zM17.5 30.9h1.3v1.3h-1.3zM0.3 15.2h1.1v1.1h-1.1zM38.7 22.8h1.2v1.2h-1.2zM3.7 5h1.2v1.2h-1.2zM37.6 36.5h0.7v0.7h-0.7zM0.3 31.6h1.3v1.3h-1.3zM30.7 25.2h1v1h-1zM14.4 3.7h0.6v0.6h-0.6zM8.6 15.1h1.3v1.3h-1.3zM35.4 24.7h1v1h-1zM31.1 22.2h1.2v1.2h-1.2zM-0 5.6h1.3v1.3h-1.3zM6.2 9.5h0.6v0.6h-0.6zM9.8 33.9h0.7v0.7h-0.7zM29.9 9.7h0.8v0.8h-0.8zM29.9 7.8h1.2v1.2h-1.2zM0.6 4.9h1.2v1.2h-1.2zM38.8 0.3h1.1v1.1h-1.1zM25.5 28.8h1v1h-1zM25.6 18.2h1.2v1.2h-1.2zM15.6 34.8h1.1v1.1h-1.1zM37.5 29.2h0.8v0.8h-0.8zM34.3 18.9h1v1h-1zM16.3 11.7h0.9v0.9h-0.9zM16.7 25.2h1v1h-1zM8.2 29.9h0.8v0.8h-0.8zM22.8 11.7h1.3v1.3h-1.3zM35.9 3.7h1.3v1.3h-1.3zM2.5 20.1h0.9v0.9h-0.9zM33 18.9h0.7v0.7h-0.7zM25.3 14.4h0.7v0.7h-0.7zM23.4 18.5h1.1v1.1h-1.1zM17.7 31.6h0.8v0.8h-0.8zM0.7 27.3h1.2v1.2h-1.2zM29.6 36h1.1v1.1h-1.1zM31.4 16h1v1h-1zM20.1 26.8h0.7v0.7h-0.7zM37.6 34.6h0.7v0.7h-0.7zM12.1 6.9h1.2v1.2h-1.2z"/></pattern><pattern id="p27" patternUnits="userSpaceOnUse" x="0" y="0" width="41" height="37"><path fill="#b8387a" d="M17.6 1.3h1.3v1.3h-1.3zM18 0.4h1.5v1.5h-1.5zM34.8 30h1.5v1.5h-1.5zM1.2 12.4h0.7v0.7h-0.7zM31.7 16.1h1v1h-1zM19.5 19.7h1.3v1.3h-1.3zM22.2 26h0.8v0.8h-0.8zM-0.1 29.7h1.1v1.1h-1.1zM21.1 7.3h0.7v0.7h-0.7zM29.4 2.2h1v1h-1zM29 8.6h1v1h-1zM1 24.5h1.2v1.2h-1.2zM2.3 26.7h1.6v1.6h-1.6zM37 35.7h1.4v1.4h-1.4zM35.9 1.3h1.6v1.6h-1.6zM27 23.5h1.4v1.4h-1.4zM33.5 7.9h1v1h-1zM11.7 28.4h1.5v1.5h-1.5zM38.8 13.3h1.2v1.2h-1.2zM22.1 -0.7h1.6v1.6h-1.6zM20.1 33h1.3v1.3h-1.3zM19.7 32.8h0.9v0.9h-0.9zM28.4 34.5h0.9v0.9h-0.9zM0.4 34.5h0.7v0.7h-0.7zM15.2 9.7h1.2v1.2h-1.2zM22.8 18.9h1.3v1.3h-1.3zM30.7 30.6h1.2v1.2h-1.2zM38.4 6.9h0.7v0.7h-0.7zM5.2 9.8h1.7v1.7h-1.7zM39.5 6.1h1.5v1.5h-1.5zM36.3 10.3h1.5v1.5h-1.5zM25.1 33.1h0.8v0.8h-0.8zM26 16.2h1.3v1.3h-1.3zM14.4 20.5h0.8v0.8h-0.8zM35.5 0.5h1.5v1.5h-1.5zM11.5 20.4h0.8v0.8h-0.8zM9.5 36h1.7v1.7h-1.7zM23.9 29.1h1.7v1.7h-1.7zM6.6 21.5h1.1v1.1h-1.1zM16.6 21.2h1.1v1.1h-1.1zM21.7 11.9h0.9v0.9h-0.9zM21.9 23.4h1.6v1.6h-1.6zM38.9 27.7h1.2v1.2h-1.2zM26 3.7h0.9v0.9h-0.9zM-0.2 25.5h0.8v0.8h-0.8z"/><path fill="#f8d8e8" d="M40.2 21.6h0.8v0.8h-0.8zM24.1 16.6h1.3v1.3h-1.3zM14.2 18.5h1.5v1.5h-1.5zM7.7 11.5h1.3v1.3h-1.3zM7.8 3.4h1.7v1.7h-1.7zM35.6 23.9h1.7v1.7h-1.7zM7.8 10.8h1.1v1.1h-1.1zM20.7 2.3h1.6v1.6h-1.6zM28.6 26.9h1.3v1.3h-1.3zM24.7 6.9h0.7v0.7h-0.7zM37.4 27h1v1h-1zM30.1 23.1h1v1h-1zM26.3 -0h0.8v0.8h-0.8zM33.5 34.3h0.9v0.9h-0.9zM4.8 35.4h1.4v1.4h-1.4zM28.4 23.3h1.2v1.2h-1.2zM35.3 6h1v1h-1zM15.9 2.8h1.5v1.5h-1.5zM27.7 30.4h0.9v0.9h-0.9zM0.5 33.7h0.7v0.7h-0.7zM15.5 21.4h1.2v1.2h-1.2zM4 14.3h0.9v0.9h-0.9zM19.1 9.9h1.4v1.4h-1.4zM30.4 24.4h1.3v1.3h-1.3zM5.8 9.5h0.9v0.9h-0.9zM20.3 14.8h1.2v1.2h-1.2zM18.9 26.5h0.8v0.8h-0.8zM8.9 31.7h1.3v1.3h-1.3zM24.3 30.6h0.8v0.8h-0.8zM8.2 16.3h1v1h-1zM16.1 26.1h1.6v1.6h-1.6zM10.6 28.1h1.7v1.7h-1.7zM32.2 33.8h0.8v0.8h-0.8zM29.1 10.1h1.5v1.5h-1.5zM2.2 13h0.9v0.9h-0.9zM22.9 27.4h1.7v1.7h-1.7zM15 20.7h1.2v1.2h-1.2zM19.3 9.5h1.6v1.6h-1.6zM17.8 24h1.3v1.3h-1.3zM38.4 11.5h1.6v1.6h-1.6zM35.2 7.8h1.1v1.1h-1.1zM26.5 23.9h1.6v1.6h-1.6zM20.6 15.7h0.8v0.8h-0.8zM23.2 -0.2h1.2v1.2h-1.2zM29.7 35.3h1.3v1.3h-1.3zM29 8.5h1.4v1.4h-1.4zM15.9 23.3h1v1h-1zM27.3 18.2h1.3v1.3h-1.3zM37.4 8.9h0.8v0.8h-0.8zM6.3 24.7h0.9v0.9h-0.9zM0.8 16.9h1.7v1.7h-1.7zM9.7 20.8h1.6v1.6h-1.6z"/><path fill="#ffffff" d="M19.5 20.1h1.2v1.2h-1.2zM29.5 11.1h1.2v1.2h-1.2zM4.1 21.6h1.1v1.1h-1.1zM1 8.7h1.5v1.5h-1.5zM11.9 29.7h1.4v1.4h-1.4zM21.9 32h0.8v0.8h-0.8zM8.7 7.8h1v1h-1zM17.8 36.3h0.8v0.8h-0.8zM10.1 19.7h1.5v1.5h-1.5zM14.1 28.1h0.8v0.8h-0.8zM21 33.4h1v1h-1zM18.2 26h0.9v0.9h-0.9zM12.9 30.8h1v1h-1zM34.3 9h0.9v0.9h-0.9zM19.9 30.3h1.2v1.2h-1.2zM2.8 15.9h1.3v1.3h-1.3zM28.8 2.9h1.2v1.2h-1.2zM22.5 10.8h1.1v1.1h-1.1zM38.4 11.5h0.9v0.9h-0.9zM0.3 21.5h0.8v0.8h-0.8zM26.4 11.5h1.2v1.2h-1.2zM23.7 35.9h1v1h-1zM31.2 31.6h0.7v0.7h-0.7zM6.5 4.2h1.7v1.7h-1.7zM14.1 32.8h1v1h-1zM5.6 17.9h0.9v0.9h-0.9zM36.6 22.3h1v1h-1zM37.9 -0.3h0.9v0.9h-0.9zM37.2 19.6h0.9v0.9h-0.9zM18.1 0.6h1.6v1.6h-1.6zM26.6 12.2h1.5v1.5h-1.5zM22.2 11.5h1.4v1.4h-1.4zM34.8 0.4h0.9v0.9h-0.9zM12.2 4.6h1.2v1.2h-1.2zM36 -0.2h1.3v1.3h-1.3zM6.6 7.5h0.8v0.8h-0.8zM0.4 7.7h1.5v1.5h-1.5zM32.2 27.2h1.7v1.7h-1.7zM19.1 4.4h0.8v0.8h-0.8zM17.5 17.5h1.3v1.3h-1.3zM16.4 15.1h0.7v0.7h-0.7zM26.6 8.4h1.1v1.1h-1.1zM34.5 25.5h1.5v1.5h-1.5zM32.3 13.8h1.6v1.6h-1.6zM1.6 25h1.3v1.3h-1.3zM32.2 25.6h0.9v0.9h-0.9zM7.1 17.9h0.9v0.9h-0.9zM37.1 26.2h1.1v1.1h-1.1zM12.6 19.9h1.2v1.2h-1.2z"/><path fill="#a82c6c" d="M35.9 29.7h1.3v1.3h-1.3zM6.7 3.7h1.5v1.5h-1.5zM1.4 16.3h1.3v1.3h-1.3zM23.5 -0.7h1.5v1.5h-1.5zM9.4 9.6h1.7v1.7h-1.7zM12.3 30.8h1.2v1.2h-1.2zM16.6 30h1.5v1.5h-1.5zM33.7 17.2h1.7v1.7h-1.7zM35 18.8h1.7v1.7h-1.7zM23.8 32.5h1.1v1.1h-1.1zM29.1 7.1h0.8v0.8h-0.8zM22.2 17.2h1.7v1.7h-1.7zM37.3 12.5h1.6v1.6h-1.6zM10.7 23.8h1.5v1.5h-1.5zM34 26.1h1.1v1.1h-1.1zM23.5 11.1h1.2v1.2h-1.2zM38.1 33.6h1.7v1.7h-1.7zM20.5 0.1h1.7v1.7h-1.7zM31.5 30.8h0.9v0.9h-0.9zM1.9 11.8h0.9v0.9h-0.9zM11.1 7h1.2v1.2h-1.2zM9.5 20.7h1v1h-1zM25.7 26h1.1v1.1h-1.1zM2.6 12.8h1.6v1.6h-1.6zM15.9 28.3h0.7v0.7h-0.7zM3.7 31h1.3v1.3h-1.3zM39.1 1.9h1.3v1.3h-1.3zM20.2 5.9h1.4v1.4h-1.4zM18.9 3.2h1.1v1.1h-1.1zM36.7 22.7h1v1h-1zM36.3 5.7h1.3v1.3h-1.3zM31 30.4h1.6v1.6h-1.6zM21.2 7.4h1v1h-1zM27.9 22.7h1.2v1.2h-1.2zM0.3 14h1v1h-1zM36.7 17.9h1.6v1.6h-1.6z"/></pattern><clipPath id="cJ3b"><polygon points="18,903 24,901 30,899 38,898.5 45,897 52,897.5 60,897 70,896.5 80,896 84,890 88,886.5 92,885 100,884.5 110,884 124,883.4 124,892.4 110,893 100,893.5 92,894 88,895.5 84,899 80,905 70,905.5 60,906 52,906.5 45,906 38,907.5 30,908 24,910 18,912"/></clipPath><pattern id="p28" patternUnits="userSpaceOnUse" x="0" y="0" width="41" height="37"><path fill="#f7a23b" d="M14.5 34.5h1.3v1.3h-1.3zM1.5 30.5h1.4v1.4h-1.4zM19.2 2.2h1.7v1.7h-1.7zM13 19.1h1.2v1.2h-1.2zM37.5 23.1h1.6v1.6h-1.6zM27.1 3.1h1.6v1.6h-1.6zM-0.2 6.9h1.7v1.7h-1.7zM19.7 35h1.5v1.5h-1.5zM26 13.3h1.3v1.3h-1.3zM23.9 21.7h1.7v1.7h-1.7zM5.6 18.5h1.4v1.4h-1.4zM34.3 17.4h1.6v1.6h-1.6zM35.6 28.4h1.6v1.6h-1.6zM17.5 20.8h1.7v1.7h-1.7zM32.4 11.1h1.6v1.6h-1.6zM4.2 12.3h1.7v1.7h-1.7zM19.5 11.7h1.4v1.4h-1.4zM11.1 22.5h1.5v1.5h-1.5zM12.1 26.5h1.5v1.5h-1.5zM26.2 22.7h1.3v1.3h-1.3zM21.9 31.6h1.5v1.5h-1.5zM20.7 35.2h1.6v1.6h-1.6zM9.9 15.8h1.5v1.5h-1.5zM33 28.9h1.4v1.4h-1.4zM3.7 28h1.3v1.3h-1.3zM22.3 14.2h1.7v1.7h-1.7zM37.1 12.5h1.3v1.3h-1.3zM36.6 9.2h1.3v1.3h-1.3zM39 24.3h1.7v1.7h-1.7zM20.6 4.5h1.3v1.3h-1.3zM31.7 22.7h1.5v1.5h-1.5zM4.5 2.8h1.4v1.4h-1.4zM40.2 23.4h1.6v1.6h-1.6zM11.4 13.6h1.7v1.7h-1.7zM12.2 2.5h1.5v1.5h-1.5zM4.5 30.8h1.4v1.4h-1.4zM1.9 21.3h1.3v1.3h-1.3zM33.8 2.1h1.6v1.6h-1.6zM6.1 15.3h1.6v1.6h-1.6zM22 25.4h1.5v1.5h-1.5zM35.1 4.7h1.7v1.7h-1.7zM37.8 10.9h1.4v1.4h-1.4zM36.4 29.2h1.6v1.6h-1.6zM30.8 4.5h1.5v1.5h-1.5zM39.2 11.1h1.6v1.6h-1.6zM24.1 13.8h1.6v1.6h-1.6zM13.2 1.9h1.5v1.5h-1.5zM12.4 32.4h1.4v1.4h-1.4zM10.9 29.9h1.5v1.5h-1.5zM37.3 10.2h1.6v1.6h-1.6zM23 18.7h1.5v1.5h-1.5zM1.9 7.7h1.6v1.6h-1.6zM9 14.8h1.5v1.5h-1.5zM20.1 14.5h1.6v1.6h-1.6zM7.4 6h1.7v1.7h-1.7zM6.1 29.8h1.7v1.7h-1.7zM12.3 23.1h1.6v1.6h-1.6zM18.3 10.5h1.3v1.3h-1.3zM20.8 31.3h1.6v1.6h-1.6zM38.3 18.3h1.3v1.3h-1.3zM31 26.2h1.5v1.5h-1.5zM31.2 2.6h1.7v1.7h-1.7zM35.1 17.5h1.5v1.5h-1.5zM1.6 3.4h1.4v1.4h-1.4zM14.9 31.4h1.6v1.6h-1.6zM6.3 11h1.6v1.6h-1.6zM13 17.1h1.6v1.6h-1.6zM33.8 23.5h1.3v1.3h-1.3zM25.4 36.1h1.6v1.6h-1.6zM18.9 19.1h1.4v1.4h-1.4zM38.6 29.5h1.3v1.3h-1.3zM1.6 21.3h1.4v1.4h-1.4zM24.1 6h1.3v1.3h-1.3zM1.3 9.1h1.5v1.5h-1.5zM4.4 33.2h1.7v1.7h-1.7zM38.7 35.6h1.3v1.3h-1.3zM7 18.6h1.5v1.5h-1.5zM12.9 5.8h1.2v1.2h-1.2zM32.9 18.8h1.3v1.3h-1.3zM28.5 26.2h1.4v1.4h-1.4zM27.3 6.4h1.4v1.4h-1.4zM10.7 18.9h1.3v1.3h-1.3zM31.9 1.1h1.3v1.3h-1.3zM17.7 26.1h1.5v1.5h-1.5z"/><path fill="#40b8e8" d="M23.3 21.6h1.7v1.7h-1.7zM9.1 19.4h1.2v1.2h-1.2zM25.2 14.3h1.3v1.3h-1.3zM17.4 15.3h1.7v1.7h-1.7zM31 12.5h1.7v1.7h-1.7zM4.8 3.8h1.5v1.5h-1.5zM29.4 25.1h1.2v1.2h-1.2zM3.2 15.1h1.7v1.7h-1.7zM11.8 29h1.3v1.3h-1.3zM11.6 26.8h1.7v1.7h-1.7zM-0.6 19.3h1.6v1.6h-1.6zM34.4 17.6h1.6v1.6h-1.6zM27.3 7.2h1.4v1.4h-1.4zM37.4 10.3h1.6v1.6h-1.6zM37.9 31.2h1.6v1.6h-1.6zM1.7 35.8h1.5v1.5h-1.5zM5.6 14.4h1.6v1.6h-1.6zM25.6 4h1.5v1.5h-1.5zM9.3 21h1.5v1.5h-1.5zM29.8 12.8h1.4v1.4h-1.4zM24.6 24.7h1.5v1.5h-1.5zM20.4 27.6h1.4v1.4h-1.4zM20 22.1h1.3v1.3h-1.3zM24.3 35h1.7v1.7h-1.7zM37.1 4.3h1.2v1.2h-1.2zM27.4 22.3h1.4v1.4h-1.4zM34 31.2h1.7v1.7h-1.7zM22.4 11h1.5v1.5h-1.5zM0 22.2h1.7v1.7h-1.7zM34.6 30.7h1.3v1.3h-1.3zM24.4 18.8h1.5v1.5h-1.5zM25.3 13.4h1.6v1.6h-1.6zM32.3 35.8h1.7v1.7h-1.7zM8.5 0.8h1.4v1.4h-1.4zM16.9 15.4h1.5v1.5h-1.5zM35.5 19.8h1.6v1.6h-1.6zM0.5 5.6h1.6v1.6h-1.6zM10.7 33.9h1.3v1.3h-1.3zM7.9 11.9h1.6v1.6h-1.6zM28.9 23.5h1.4v1.4h-1.4zM29.4 9.6h1.6v1.6h-1.6zM30.1 27h1.5v1.5h-1.5zM35.8 4.4h1.6v1.6h-1.6zM21.1 27.2h1.4v1.4h-1.4zM27 14.2h1.7v1.7h-1.7zM5.1 20.6h1.7v1.7h-1.7z"/></pattern><pattern id="p29" patternUnits="userSpaceOnUse" x="0" y="0" width="41" height="37"><path fill="#ffffff" d="M36.3 33.4h1.3v1.3h-1.3zM11.6 20.7h1.7v1.7h-1.7zM22.5 21.8h1.2v1.2h-1.2zM0 13.5h1.4v1.4h-1.4zM12.4 30.4h1.3v1.3h-1.3zM28.2 17.4h1.4v1.4h-1.4zM38.7 20.5h1.8v1.8h-1.8zM29.5 9.5h2v2h-2zM25 25.6h1.1v1.1h-1.1zM5.3 6.7h1.5v1.5h-1.5zM29.1 19.9h1.9v1.9h-1.9zM31.8 24.3h1.1v1.1h-1.1zM17.3 13.2h1.2v1.2h-1.2zM26.4 18.5h1.6v1.6h-1.6zM8.5 23.5h2v2h-2zM0.2 18.3h1.2v1.2h-1.2zM14.9 17.6h1.6v1.6h-1.6zM20.7 25.2h2v2h-2zM10.3 31h2v2h-2zM18.4 13.6h1.2v1.2h-1.2zM35.2 29.6h1.3v1.3h-1.3zM21 28.5h1.9v1.9h-1.9zM24.9 9.8h2.1v2.1h-2.1zM23.1 8.5h1.2v1.2h-1.2zM18.7 27.1h1.8v1.8h-1.8zM27.1 27.7h1.3v1.3h-1.3zM6.6 31.3h1.8v1.8h-1.8zM25 25.9h1.9v1.9h-1.9zM22.9 34.9h1.2v1.2h-1.2zM8.6 30.3h2v2h-2zM0.7 10.5h1.2v1.2h-1.2zM20.9 20.4h1.5v1.5h-1.5z"/><path fill="#fbeef4" d="M6.4 27.6h1.2v1.2h-1.2zM8.1 29.4h2.1v2.1h-2.1zM34.5 2h1.2v1.2h-1.2zM4 16.3h1.2v1.2h-1.2zM20.6 25.1h1.1v1.1h-1.1zM25.4 9.5h1.8v1.8h-1.8zM2 14.8h1.2v1.2h-1.2zM0.9 2.9h1.1v1.1h-1.1zM30.7 15.4h2v2h-2zM39.4 24.1h1.5v1.5h-1.5zM27.1 0.3h2v2h-2zM1.8 34.9h1.2v1.2h-1.2zM26.2 9.3h1.7v1.7h-1.7zM28.5 20.3h1.2v1.2h-1.2zM38.7 26.2h1.8v1.8h-1.8zM24.6 0.9h1.7v1.7h-1.7zM31.6 31.7h1.4v1.4h-1.4zM31.8 22.3h1.7v1.7h-1.7zM38.9 35.8h1.9v1.9h-1.9zM22.3 18.1h1.3v1.3h-1.3zM2.7 5.6h2.1v2.1h-2.1zM29.6 6.4h1.3v1.3h-1.3zM30.4 0.6h1.6v1.6h-1.6zM15.9 14.9h1.5v1.5h-1.5zM25.5 9.8h1.4v1.4h-1.4zM11.2 32.5h1.9v1.9h-1.9zM12.7 3.7h1.2v1.2h-1.2zM14.7 10.4h1.5v1.5h-1.5zM33.2 33.6h2v2h-2zM36.6 33.2h1.8v1.8h-1.8zM7.2 26.8h1.2v1.2h-1.2zM14.6 35.2h1.6v1.6h-1.6zM15.5 14.8h1.5v1.5h-1.5zM26.5 12h1.2v1.2h-1.2zM0.7 20.8h1.1v1.1h-1.1z"/></pattern><pattern id="p30" patternUnits="userSpaceOnUse" x="0" y="0" width="41" height="37"><path fill="#40b8e8" d="M32.1 11.4h1.3v1.3h-1.3zM11.2 34.4h1.7v1.7h-1.7zM5.3 22.6h1.4v1.4h-1.4zM0.5 34.8h1.2v1.2h-1.2zM20.2 30.3h1.2v1.2h-1.2zM7.8 6.5h1.2v1.2h-1.2zM27.9 32.6h1.5v1.5h-1.5zM3.3 28.9h1.5v1.5h-1.5zM33.1 33.1h1.5v1.5h-1.5zM10.3 22.4h1.6v1.6h-1.6zM30.1 34.3h1.4v1.4h-1.4zM-0.1 35.9h1.2v1.2h-1.2zM29.9 27.4h1.4v1.4h-1.4zM39.7 32.7h1.5v1.5h-1.5zM25.9 29.7h1.5v1.5h-1.5zM11.4 2.6h1.6v1.6h-1.6zM37.2 27.1h1.4v1.4h-1.4zM31.8 4.6h1.6v1.6h-1.6zM4 13.7h1.4v1.4h-1.4zM9 7h1.6v1.6h-1.6zM5.9 0.1h1.6v1.6h-1.6zM19.3 9.1h1.6v1.6h-1.6zM18.6 14.6h1.4v1.4h-1.4zM17.9 6.3h1.4v1.4h-1.4zM0.9 26.6h1.1v1.1h-1.1zM20.2 24.3h1.5v1.5h-1.5zM33.9 9.7h1.6v1.6h-1.6zM34.4 11.2h1.6v1.6h-1.6zM39 31.6h1.6v1.6h-1.6zM37.3 9.6h1.2v1.2h-1.2zM14.2 28.3h1.2v1.2h-1.2zM20.8 30.9h1.6v1.6h-1.6zM25.6 29.8h1.3v1.3h-1.3zM30 4.8h1.3v1.3h-1.3zM17 3.4h1.3v1.3h-1.3zM0.8 28.3h1.6v1.6h-1.6zM25.2 29.8h1.4v1.4h-1.4z"/><path fill="#f7a23b" d="M4.2 19.7h1.3v1.3h-1.3zM29.9 30.8h1.2v1.2h-1.2zM13.6 18.8h1.6v1.6h-1.6zM22.9 14.3h1.2v1.2h-1.2zM28 8.1h1.5v1.5h-1.5zM26.7 27.7h1.6v1.6h-1.6zM3.8 23.9h1.3v1.3h-1.3zM21.2 29.6h1.3v1.3h-1.3zM38.9 27.1h1.7v1.7h-1.7zM39.6 27.7h1.5v1.5h-1.5zM19.9 14h1.6v1.6h-1.6zM26 11.9h1.5v1.5h-1.5zM3 25.4h1.2v1.2h-1.2zM26 26.7h1.1v1.1h-1.1zM2 19.5h1.7v1.7h-1.7z"/></pattern><clipPath id="cJ4"><rect x="125.6" y="884.4" width="104.4" height="55.2"/></clipPath><clipPath id="cJ4t"><polygon points="125,915 135,905 150,898 170,893 190,892 210,890 231,889 231,940 125,940"/></clipPath><pattern id="p31" patternUnits="userSpaceOnUse" x="0" y="0" width="41" height="37"><path fill="#b83a7c" d="M32.8 2.9h1.3v1.3h-1.3zM35.1 26.9h1.2v1.2h-1.2zM28.7 30.7h1.1v1.1h-1.1zM29.9 32.7h1.3v1.3h-1.3zM11.9 24.4h1v1h-1zM34.4 32.3h1.2v1.2h-1.2zM23.4 22h0.9v0.9h-0.9zM25.4 15.2h0.8v0.8h-0.8zM38.8 10.9h0.9v0.9h-0.9zM31.1 20.3h1v1h-1zM23 0.4h1.3v1.3h-1.3zM14.8 19.9h0.9v0.9h-0.9zM8.5 14.1h1.3v1.3h-1.3zM15.3 30.7h0.7v0.7h-0.7zM34.5 -0.5h1.1v1.1h-1.1zM30.1 2h1.3v1.3h-1.3zM8.5 19.2h1.3v1.3h-1.3zM11.8 2.6h1.2v1.2h-1.2zM23.1 16.3h0.6v0.6h-0.6zM36.7 1.9h0.9v0.9h-0.9zM17.1 9.4h1.2v1.2h-1.2zM21.2 36.1h0.8v0.8h-0.8zM8.9 7.1h1.1v1.1h-1.1zM13.1 3.3h0.9v0.9h-0.9zM26.1 22.6h0.9v0.9h-0.9zM25 12.8h0.9v0.9h-0.9zM20.6 3.7h0.7v0.7h-0.7zM19.6 1.4h0.8v0.8h-0.8zM35.4 9.8h1.1v1.1h-1.1zM25.1 11h0.6v0.6h-0.6zM16.2 24.5h0.8v0.8h-0.8zM27.3 21.4h1.2v1.2h-1.2zM5.7 7.5h1.3v1.3h-1.3zM9.4 33h0.7v0.7h-0.7zM14.3 19.8h0.9v0.9h-0.9zM27.2 10.9h0.6v0.6h-0.6zM39.2 32.8h1.1v1.1h-1.1zM19.6 13.3h0.8v0.8h-0.8zM20.4 19.4h0.7v0.7h-0.7zM34.7 11.1h0.8v0.8h-0.8zM36.2 34.1h0.7v0.7h-0.7zM27.2 9.1h1.1v1.1h-1.1zM13.8 10.1h1.3v1.3h-1.3zM32.7 6.4h0.9v0.9h-0.9zM33.9 15.6h0.6v0.6h-0.6zM29.9 30.7h0.8v0.8h-0.8zM1.6 35.4h1v1h-1zM12.1 27.9h1.2v1.2h-1.2zM20.7 17.2h0.8v0.8h-0.8zM40.1 2.9h0.8v0.8h-0.8zM9.7 19.1h0.7v0.7h-0.7zM17.9 9.6h1v1h-1zM10.9 6.3h1.1v1.1h-1.1zM20.4 24.9h0.7v0.7h-0.7zM12.9 9.7h1.3v1.3h-1.3zM23.1 29.1h1.2v1.2h-1.2zM6.3 30.5h0.8v0.8h-0.8zM5.5 -0.4h1.2v1.2h-1.2zM35.3 1.5h1.2v1.2h-1.2zM24.5 29.9h1.1v1.1h-1.1z"/><path fill="#f8c0dc" d="M5.5 23.5h1.2v1.2h-1.2zM13.3 22.8h1.1v1.1h-1.1zM36.3 16h0.9v0.9h-0.9zM15.8 15.6h0.7v0.7h-0.7zM3.2 21h0.8v0.8h-0.8zM13.9 12.4h0.7v0.7h-0.7zM12.5 5.1h0.9v0.9h-0.9zM9.6 21.8h0.9v0.9h-0.9zM14.4 12h1.2v1.2h-1.2zM27.6 32.5h0.8v0.8h-0.8zM11.6 17.8h0.8v0.8h-0.8zM4.1 16.5h1.2v1.2h-1.2zM0.1 18.5h0.8v0.8h-0.8zM16.5 20.9h1.3v1.3h-1.3zM38.8 36.5h0.7v0.7h-0.7zM6.9 9.3h0.8v0.8h-0.8zM22.2 17.6h1v1h-1zM3.1 23.9h0.9v0.9h-0.9zM25.9 36.2h1.2v1.2h-1.2zM39.2 20.2h1v1h-1zM27.3 27.5h1.3v1.3h-1.3zM27.9 35.3h1.1v1.1h-1.1zM3.4 10.8h1v1h-1zM0.1 31h1.3v1.3h-1.3zM29.2 34.6h1.1v1.1h-1.1zM4.6 25.3h0.7v0.7h-0.7zM12.1 3.1h1.2v1.2h-1.2zM6.2 31.2h0.8v0.8h-0.8zM35.7 15.1h1v1h-1zM3 22.2h1.3v1.3h-1.3zM32 9.3h0.7v0.7h-0.7zM26.2 32.1h1.3v1.3h-1.3zM37.3 11.9h0.8v0.8h-0.8zM0.1 18.7h0.6v0.6h-0.6zM3.8 -0.2h1.3v1.3h-1.3zM39.8 24.1h0.7v0.7h-0.7zM31.5 34.7h1v1h-1zM11.7 7.5h1v1h-1zM-0.1 36.2h1v1h-1zM14.5 34.9h0.9v0.9h-0.9zM38.1 12.3h0.8v0.8h-0.8zM25.6 3.9h1.2v1.2h-1.2zM17.2 25.7h1.1v1.1h-1.1zM4.7 33.7h0.9v0.9h-0.9zM3.2 26.2h0.8v0.8h-0.8zM6.4 34.4h0.8v0.8h-0.8zM19.7 17.2h0.9v0.9h-0.9zM25.1 0.2h1.2v1.2h-1.2z"/><path fill="#c8408a" d="M37.2 16.8h1.3v1.3h-1.3zM16.2 24.5h1.1v1.1h-1.1zM1.7 14h1.3v1.3h-1.3zM33.1 17.2h1.2v1.2h-1.2zM25.1 26.7h1.3v1.3h-1.3zM29.3 18.9h0.7v0.7h-0.7zM1.2 16.2h0.7v0.7h-0.7zM34.2 16.5h0.9v0.9h-0.9zM27.6 32.6h0.7v0.7h-0.7zM26.4 7.8h0.9v0.9h-0.9zM9.8 20.9h1v1h-1zM27.1 4.3h0.9v0.9h-0.9zM31.8 2.6h1.2v1.2h-1.2zM17.5 15.9h0.8v0.8h-0.8zM0.2 13.6h1.1v1.1h-1.1zM9.9 22.3h0.9v0.9h-0.9zM23.1 0.9h0.9v0.9h-0.9zM11.4 26.4h0.9v0.9h-0.9zM3.6 5.2h1.3v1.3h-1.3zM39 27h0.9v0.9h-0.9zM35.5 11.3h1.1v1.1h-1.1zM17.8 26.5h1.1v1.1h-1.1zM28.3 35.1h0.8v0.8h-0.8zM5.1 11.2h0.8v0.8h-0.8zM11.4 35.8h1v1h-1zM35.3 14.1h0.9v0.9h-0.9zM20.5 35.4h1.2v1.2h-1.2zM12.8 13.6h1.1v1.1h-1.1zM11.8 7h1.2v1.2h-1.2zM17.9 10.6h1v1h-1zM32.8 31.9h1.1v1.1h-1.1zM30.1 21.8h1.2v1.2h-1.2zM39.8 21h0.9v0.9h-0.9zM39.9 29.5h0.9v0.9h-0.9zM33.5 2.6h0.9v0.9h-0.9zM-0.4 23h0.8v0.8h-0.8zM4.6 32h1v1h-1zM22.3 23.6h0.7v0.7h-0.7zM26.5 11.6h0.7v0.7h-0.7zM25 23.1h0.9v0.9h-0.9zM9.1 13.9h0.7v0.7h-0.7zM32.1 12.3h1.2v1.2h-1.2zM25.6 15.8h1.1v1.1h-1.1zM23.8 4.9h0.7v0.7h-0.7z"/><path fill="#ffffff" d="M33.8 8.4h0.7v0.7h-0.7zM1.8 28.2h0.7v0.7h-0.7zM3.1 31.7h0.6v0.6h-0.6zM27.1 7.8h1.2v1.2h-1.2zM19.7 11.9h0.9v0.9h-0.9zM29 30.5h0.8v0.8h-0.8zM10.1 24.1h1.2v1.2h-1.2zM34.2 4.3h0.7v0.7h-0.7zM25.1 7h1v1h-1zM29 27h1.1v1.1h-1.1zM20.9 18h1.3v1.3h-1.3zM22.1 10.4h1.2v1.2h-1.2zM13.5 16.2h1.2v1.2h-1.2zM5.4 23.4h0.7v0.7h-0.7zM-0.2 36.1h1.3v1.3h-1.3zM0.3 30.3h1v1h-1zM5.8 16.8h1v1h-1zM11.1 6.4h1.2v1.2h-1.2zM30.4 21.1h0.8v0.8h-0.8zM35.8 13h1.1v1.1h-1.1zM0.9 0h1.2v1.2h-1.2zM38.6 29.2h0.9v0.9h-0.9zM11.7 13.4h0.6v0.6h-0.6zM7.4 33.9h1v1h-1zM25.6 8.8h0.8v0.8h-0.8zM0 35.4h0.8v0.8h-0.8zM15.1 1.9h1.1v1.1h-1.1zM36.6 10.9h0.7v0.7h-0.7zM21.1 35h1v1h-1zM12.4 15.2h0.7v0.7h-0.7zM40.2 33.2h0.7v0.7h-0.7zM20.7 12.1h1.2v1.2h-1.2zM9 6.8h1.1v1.1h-1.1zM22.9 0.6h0.7v0.7h-0.7zM34 4.2h0.9v0.9h-0.9zM5.8 25.9h0.7v0.7h-0.7zM37.4 17.8h0.7v0.7h-0.7zM17.9 5.1h1.3v1.3h-1.3zM23.1 17.7h1.2v1.2h-1.2zM5.7 11.8h0.7v0.7h-0.7zM3.5 26.9h1.2v1.2h-1.2zM15.5 17.2h1.2v1.2h-1.2zM31.9 17.2h1v1h-1zM25.9 27h1.3v1.3h-1.3z"/><path fill="#a8306e" d="M6.6 27.3h1.2v1.2h-1.2zM11.3 21.4h1.2v1.2h-1.2zM8.2 0h1.3v1.3h-1.3zM18.5 7.7h1v1h-1zM11 31.7h1v1h-1zM16.4 20.9h1v1h-1zM10.8 31.4h1.1v1.1h-1.1zM23.4 26.3h1.1v1.1h-1.1zM22 27.3h0.7v0.7h-0.7zM39.8 26.6h0.9v0.9h-0.9zM25.6 25.2h1.1v1.1h-1.1zM35.8 25.2h0.9v0.9h-0.9zM29.2 4.2h0.9v0.9h-0.9zM25.7 35.7h0.9v0.9h-0.9zM17.5 23h0.7v0.7h-0.7zM4.3 18.4h1.2v1.2h-1.2zM14.2 36.3h1.3v1.3h-1.3zM10.8 24.2h1.2v1.2h-1.2zM19 32.9h1.2v1.2h-1.2zM17.1 8.4h1v1h-1zM40.3 26.3h0.9v0.9h-0.9zM37.2 6.7h1.2v1.2h-1.2zM17.3 19.2h0.7v0.7h-0.7zM18.5 24.3h0.9v0.9h-0.9zM29.7 19.4h1.1v1.1h-1.1zM23.4 26.6h0.7v0.7h-0.7zM24.1 19.6h1v1h-1zM26.6 16.1h1v1h-1zM11 24.8h0.9v0.9h-0.9zM18.3 29.5h0.7v0.7h-0.7zM8.3 2.8h0.7v0.7h-0.7zM-0.1 13.6h1v1h-1zM15.5 15.5h0.9v0.9h-0.9zM39.8 6.9h1.2v1.2h-1.2zM11.1 25.7h1v1h-1z"/><path fill="#f590c4" d="M23.1 13.3h1.2v1.2h-1.2zM2.9 6.5h1.1v1.1h-1.1zM8.7 3.7h0.7v0.7h-0.7zM-0 2.1h1.2v1.2h-1.2zM11.8 16.1h0.6v0.6h-0.6zM16.3 17.1h0.9v0.9h-0.9zM5.1 23h0.7v0.7h-0.7zM27.2 27.9h1v1h-1zM1.1 22.9h1v1h-1zM0.6 35.3h1v1h-1zM19.2 19.7h1.1v1.1h-1.1zM30.5 17.3h0.9v0.9h-0.9zM14 2.4h0.7v0.7h-0.7zM28.8 25.6h1.3v1.3h-1.3zM25 15.9h0.8v0.8h-0.8zM7.5 26.9h0.9v0.9h-0.9zM17.3 28.5h1v1h-1zM21.6 17.4h1.3v1.3h-1.3zM21.4 24.3h1.2v1.2h-1.2zM39.5 24.3h0.7v0.7h-0.7zM34.1 13.9h0.9v0.9h-0.9zM40.3 16.9h1.1v1.1h-1.1zM37.1 29.1h1.2v1.2h-1.2zM34.4 0.4h1.1v1.1h-1.1zM34.8 18.7h0.7v0.7h-0.7zM24.6 16.2h0.8v0.8h-0.8zM17.2 6.7h1.2v1.2h-1.2zM3 4.8h0.9v0.9h-0.9zM36.5 18.1h1.1v1.1h-1.1zM18.5 20.6h0.7v0.7h-0.7zM15.8 32.7h1.1v1.1h-1.1zM36.9 26.8h1.1v1.1h-1.1zM10.6 8.3h1.3v1.3h-1.3zM31.1 3.9h1v1h-1zM33.7 5.4h0.9v0.9h-0.9zM34.2 12.4h0.9v0.9h-0.9zM28.5 23.9h0.9v0.9h-0.9zM13.6 15.4h1v1h-1zM38.1 22.5h1.2v1.2h-1.2zM27.5 7.6h1.1v1.1h-1.1zM15.3 31.7h1.2v1.2h-1.2zM18.2 15h1.1v1.1h-1.1zM28.4 8.7h1.2v1.2h-1.2zM23 32.9h1.3v1.3h-1.3zM5.2 35.1h1.3v1.3h-1.3zM25.2 6.4h0.7v0.7h-0.7zM20 4.9h0.7v0.7h-0.7zM30 11.4h1.1v1.1h-1.1zM9.2 14.1h0.9v0.9h-0.9zM19.5 28.6h0.7v0.7h-0.7zM-0.4 8.3h1.3v1.3h-1.3zM12.2 31h0.9v0.9h-0.9zM39.5 26.1h1v1h-1z"/></pattern><pattern id="p32" patternUnits="userSpaceOnUse" x="0" y="0" width="41" height="37"><path fill="#b8387a" d="M38.1 34.6h1.6v1.6h-1.6zM6.8 34.2h1.6v1.6h-1.6zM22.2 34.4h1v1h-1zM40 33.7h1.3v1.3h-1.3zM21.2 -0.6h1.4v1.4h-1.4zM32.7 10h0.7v0.7h-0.7zM0.8 31.7h1.7v1.7h-1.7zM9.7 17.3h0.9v0.9h-0.9zM11.2 26.3h1.5v1.5h-1.5zM18.8 6h1v1h-1zM32 10.9h0.9v0.9h-0.9zM38.8 35.2h1.3v1.3h-1.3zM4.4 9.9h1.5v1.5h-1.5zM40.4 25h0.7v0.7h-0.7zM21.4 9.4h1.2v1.2h-1.2zM35.3 2.7h1.3v1.3h-1.3zM14.9 23.1h1.6v1.6h-1.6zM2 9.9h1.5v1.5h-1.5zM27.7 24.5h1.5v1.5h-1.5zM38.4 8.3h1.4v1.4h-1.4zM16.3 29.2h1.2v1.2h-1.2zM39.6 3h0.9v0.9h-0.9zM29.1 20.8h1.5v1.5h-1.5zM1.8 9.2h1.2v1.2h-1.2zM24 22.6h0.9v0.9h-0.9zM39.3 35.7h1.4v1.4h-1.4zM13.1 24.2h1.7v1.7h-1.7zM20.3 15.9h1.6v1.6h-1.6zM14.3 7.2h0.9v0.9h-0.9zM22.7 10.7h0.8v0.8h-0.8zM8.8 0h1.7v1.7h-1.7zM28.6 10.6h1.1v1.1h-1.1zM24.4 13h1.4v1.4h-1.4zM7.1 20.8h1.3v1.3h-1.3zM23 13.3h1.6v1.6h-1.6zM20.6 17.8h0.9v0.9h-0.9zM38.4 14.4h0.9v0.9h-0.9zM31.7 2h1.5v1.5h-1.5zM33.2 32.8h1.1v1.1h-1.1zM21.9 26.4h1.4v1.4h-1.4zM14.3 29h1.3v1.3h-1.3zM7.8 29.8h1.1v1.1h-1.1z"/><path fill="#ffffff" d="M30.2 11.7h1.5v1.5h-1.5zM20.6 8.7h1.3v1.3h-1.3zM24.8 15.7h1.5v1.5h-1.5zM39 26.4h0.9v0.9h-0.9zM27.1 24.2h0.9v0.9h-0.9zM17.3 0.6h1.1v1.1h-1.1zM37.3 23.7h1.2v1.2h-1.2zM30.5 15h0.8v0.8h-0.8zM9.4 14.4h1.4v1.4h-1.4zM34.3 14.9h1.3v1.3h-1.3zM21.7 32.8h1.3v1.3h-1.3zM2.3 24.3h0.8v0.8h-0.8zM10.5 24.2h1.2v1.2h-1.2zM4.1 34.9h1.3v1.3h-1.3zM10.3 6.8h1.6v1.6h-1.6zM15.2 4.7h0.8v0.8h-0.8zM31.8 27.1h1.6v1.6h-1.6zM12.5 6.7h1.7v1.7h-1.7zM34.9 14.9h1.5v1.5h-1.5zM28 -0.2h1.5v1.5h-1.5zM12.9 23.3h1.4v1.4h-1.4zM39.8 5h1v1h-1zM20.1 22.2h1v1h-1zM29.1 15.5h1.4v1.4h-1.4zM33.3 10.6h0.9v0.9h-0.9zM17.5 20.4h1.7v1.7h-1.7zM8.7 30.5h1v1h-1zM26.2 18.9h0.8v0.8h-0.8zM18.8 32.1h0.9v0.9h-0.9zM30.6 13.3h0.7v0.7h-0.7zM14.2 21.7h1.6v1.6h-1.6zM4.3 35.4h1.7v1.7h-1.7zM25.2 3.5h1.5v1.5h-1.5zM6 30.7h1.3v1.3h-1.3zM31.7 11.2h1.2v1.2h-1.2zM23 4.8h1v1h-1zM34.6 12h1.3v1.3h-1.3zM13.1 28.1h1.5v1.5h-1.5z"/><path fill="#f8d8e8" d="M37.2 5.6h1.2v1.2h-1.2zM10.3 14.6h0.8v0.8h-0.8zM11.6 6.5h0.9v0.9h-0.9zM25.2 2h0.7v0.7h-0.7zM39.2 32.1h1.3v1.3h-1.3zM37.4 24.3h1.4v1.4h-1.4zM12.4 4.2h1.2v1.2h-1.2zM22.3 7.5h1v1h-1zM27.2 24.3h1.5v1.5h-1.5zM33.6 12.7h1v1h-1zM6.5 20.3h0.9v0.9h-0.9zM34.2 10.8h1.2v1.2h-1.2zM37.7 25.3h0.9v0.9h-0.9zM6.1 15.8h1.3v1.3h-1.3zM38.3 13h1.5v1.5h-1.5zM6.7 2.3h1.5v1.5h-1.5zM6 16h1.3v1.3h-1.3zM24.3 29.7h1.5v1.5h-1.5zM15.5 30.2h1.7v1.7h-1.7zM32 8h1.3v1.3h-1.3zM22 19.1h1.1v1.1h-1.1zM28.4 29.6h0.8v0.8h-0.8zM38.9 29.9h1.3v1.3h-1.3zM22.1 3.4h1.3v1.3h-1.3zM4.2 10.6h1.6v1.6h-1.6zM3.6 4.1h0.8v0.8h-0.8zM34.2 33.1h1.5v1.5h-1.5zM23.7 6h1.6v1.6h-1.6zM8.7 20.1h0.9v0.9h-0.9zM22.1 10.3h1v1h-1zM32.4 25.1h1.6v1.6h-1.6zM31.5 25.7h1.1v1.1h-1.1zM31.7 30.3h1.7v1.7h-1.7zM4.5 27.6h1.1v1.1h-1.1zM5.2 29h1v1h-1zM9.3 7.5h1v1h-1z"/><path fill="#a82c6c" d="M18.7 3h0.9v0.9h-0.9zM35.7 0.5h0.9v0.9h-0.9zM24 31.1h1.7v1.7h-1.7zM12.7 25.9h1.1v1.1h-1.1zM1.4 36h1.4v1.4h-1.4zM12.9 29.1h1.3v1.3h-1.3zM13.7 21.6h0.9v0.9h-0.9zM5.4 23.5h1v1h-1zM23.6 19h1.1v1.1h-1.1zM31.4 16.7h1.1v1.1h-1.1zM12.8 20.5h1.5v1.5h-1.5zM5.9 24.5h1.3v1.3h-1.3zM31.1 17.4h0.9v0.9h-0.9zM14.6 28.1h1.3v1.3h-1.3zM17.9 4.5h1.7v1.7h-1.7zM33.6 6.2h1.5v1.5h-1.5zM13.1 32.3h1v1h-1zM38.3 27.3h1.6v1.6h-1.6zM18.2 8.1h1.2v1.2h-1.2zM25.8 24.2h0.9v0.9h-0.9zM6.2 19.4h1.7v1.7h-1.7zM23.6 22.4h0.8v0.8h-0.8zM12.4 11h0.8v0.8h-0.8zM-0.5 2.9h1.4v1.4h-1.4zM7.8 4.8h1.6v1.6h-1.6zM39.6 17.9h1.4v1.4h-1.4zM12.1 5.3h1.3v1.3h-1.3zM10.9 15.3h1.6v1.6h-1.6zM26.1 3.6h1.7v1.7h-1.7zM13.4 28.1h1.4v1.4h-1.4zM5.8 4.8h1v1h-1zM10.1 22.1h0.7v0.7h-0.7zM18.5 5.1h0.9v0.9h-0.9zM18.3 1.9h1.7v1.7h-1.7zM35.8 13.6h0.7v0.7h-0.7zM28.2 24.5h0.7v0.7h-0.7zM21.9 12.8h1.6v1.6h-1.6z"/></pattern><clipPath id="cJ4b"><polygon points="125,916 135,906 150,899 170,894 190,893 210,891 231,890 231,907 210,908 190,910 170,911 150,916 135,923 125,933"/></clipPath><pattern id="p33" patternUnits="userSpaceOnUse" x="0" y="0" width="41" height="37"><path fill="#f39a30" d="M5.3 12.3h1.3v1.3h-1.3zM13.4 28h1.2v1.2h-1.2zM26.1 32.8h1.2v1.2h-1.2zM32.3 30.7h1.6v1.6h-1.6zM6.3 20.1h1.6v1.6h-1.6zM30 27.1h1.3v1.3h-1.3zM12.1 19.4h1.4v1.4h-1.4zM34.8 22.3h1.6v1.6h-1.6zM6.9 36.1h1.7v1.7h-1.7zM25.7 28.4h1.5v1.5h-1.5zM0.1 5.1h1.9v1.9h-1.9zM39.3 26.3h1.3v1.3h-1.3zM18.1 3.9h1.5v1.5h-1.5zM3.6 9.4h1.4v1.4h-1.4zM22.9 23h1.8v1.8h-1.8zM9.7 21.1h1.7v1.7h-1.7zM15 2.7h1.3v1.3h-1.3zM5.5 20.9h1.8v1.8h-1.8zM2 30.8h1.4v1.4h-1.4zM2.3 -0.8h1.6v1.6h-1.6zM19.9 8.7h1.4v1.4h-1.4zM27.2 15.2h1.2v1.2h-1.2zM12.6 12.9h1.4v1.4h-1.4zM-0.3 31.2h1.6v1.6h-1.6zM31.5 10.5h1.3v1.3h-1.3zM31.3 19.4h1.4v1.4h-1.4zM5.5 22.1h1.5v1.5h-1.5zM17.6 4.3h1.7v1.7h-1.7zM5.3 7.8h1.9v1.9h-1.9zM29.9 34.4h1.4v1.4h-1.4zM33 -0.4h1.8v1.8h-1.8zM34.2 21h1.6v1.6h-1.6zM38.7 22.4h1.5v1.5h-1.5zM1.9 8.9h1.6v1.6h-1.6zM1 11.8h1.3v1.3h-1.3zM31.2 3.2h1.6v1.6h-1.6zM13.1 21h1.9v1.9h-1.9zM33.1 8.7h1.9v1.9h-1.9zM19.3 10.6h1.7v1.7h-1.7zM14.5 16.8h1.8v1.8h-1.8zM23.7 3.6h1.6v1.6h-1.6zM9.3 35.9h1.3v1.3h-1.3zM24.7 9.8h1.7v1.7h-1.7zM12.2 8.9h1.9v1.9h-1.9zM34 14.1h1.6v1.6h-1.6zM2.9 1.1h1.4v1.4h-1.4zM21.4 33.5h1.5v1.5h-1.5zM33.8 22.7h1.6v1.6h-1.6zM29.9 25.3h1.4v1.4h-1.4zM16.3 22h1.3v1.3h-1.3zM22.7 1.8h1.3v1.3h-1.3zM4.3 26.8h1.7v1.7h-1.7zM38.2 11.3h1.9v1.9h-1.9zM6.2 1.8h1.3v1.3h-1.3zM26.5 17.9h1.8v1.8h-1.8zM19.5 8.5h1.6v1.6h-1.6zM28.1 18.7h1.7v1.7h-1.7zM39.8 0.1h1.4v1.4h-1.4zM3.1 15.3h1.9v1.9h-1.9zM9.9 16.2h1.3v1.3h-1.3zM17.8 33h1.5v1.5h-1.5zM37.9 11.8h1.3v1.3h-1.3zM19.2 18.4h1.9v1.9h-1.9zM4.6 32.3h1.4v1.4h-1.4zM22.7 4.6h1.5v1.5h-1.5zM28.5 15.7h1.8v1.8h-1.8zM12.4 5.5h1.6v1.6h-1.6zM17 28.7h1.3v1.3h-1.3zM28.8 -0.4h1.8v1.8h-1.8zM11.2 14.6h1.3v1.3h-1.3zM20.1 31.9h1.6v1.6h-1.6zM27.1 27.7h1.6v1.6h-1.6zM29.5 16.5h1.3v1.3h-1.3zM21.5 30.3h1.7v1.7h-1.7zM12 7.2h1.6v1.6h-1.6zM2.7 20.1h1.3v1.3h-1.3zM18.3 35.1h1.7v1.7h-1.7zM11.5 1.9h1.5v1.5h-1.5zM31.7 33.2h1.9v1.9h-1.9zM39.2 19.6h1.5v1.5h-1.5z"/><path fill="#f7a23b" d="M29 17.7h1.3v1.3h-1.3zM7.4 35.3h1.6v1.6h-1.6zM6.2 17h1.7v1.7h-1.7zM14.7 8.7h1.9v1.9h-1.9zM30 32.6h1.5v1.5h-1.5zM9.1 14.1h1.5v1.5h-1.5zM18.5 5.9h1.2v1.2h-1.2zM37.3 4.8h1.4v1.4h-1.4zM38.9 17.6h1.9v1.9h-1.9zM24.1 28.2h1.9v1.9h-1.9zM36.8 35.1h1.8v1.8h-1.8zM15.8 15.5h1.4v1.4h-1.4zM29.9 26h1.6v1.6h-1.6zM38.3 29.2h1.3v1.3h-1.3zM29.4 8h1.9v1.9h-1.9zM9.7 5.9h1.3v1.3h-1.3zM19.4 27.9h1.9v1.9h-1.9zM28 24.2h1.7v1.7h-1.7zM12.4 29.4h1.4v1.4h-1.4zM19.8 9.9h1.8v1.8h-1.8zM20.9 33.9h1.5v1.5h-1.5zM21.8 22.2h1.3v1.3h-1.3zM16.9 12.7h1.8v1.8h-1.8zM33.4 23.5h1.6v1.6h-1.6zM33.2 16.7h1.5v1.5h-1.5zM15.7 3h1.7v1.7h-1.7zM9.4 4.1h1.3v1.3h-1.3zM12.8 9.6h1.8v1.8h-1.8zM13 16.9h1.8v1.8h-1.8zM12.3 23.4h1.5v1.5h-1.5zM2.5 14h1.3v1.3h-1.3zM2.7 19.8h1.9v1.9h-1.9zM5 35.1h1.4v1.4h-1.4zM21.2 12.9h1.7v1.7h-1.7zM19.1 8.8h1.8v1.8h-1.8zM34.5 23.2h1.5v1.5h-1.5zM17.3 31.3h1.8v1.8h-1.8zM21 8.4h1.9v1.9h-1.9zM16 7.2h1.3v1.3h-1.3zM5.6 11.4h1.8v1.8h-1.8zM27.1 22.3h1.6v1.6h-1.6zM32.6 17.8h1.7v1.7h-1.7zM2.5 16.4h1.7v1.7h-1.7zM6.4 23.6h1.6v1.6h-1.6zM31.3 30.1h1.3v1.3h-1.3zM33.1 15.7h1.6v1.6h-1.6zM0.8 30.8h1.9v1.9h-1.9zM7.3 24.9h1.4v1.4h-1.4zM23.1 -0.5h1.2v1.2h-1.2zM9 15.1h1.4v1.4h-1.4zM4.5 31.7h1.4v1.4h-1.4zM34 30.8h1.4v1.4h-1.4zM20.7 33h1.4v1.4h-1.4zM25.5 11h1.8v1.8h-1.8zM25.8 10.1h1.6v1.6h-1.6zM38.8 23.3h1.4v1.4h-1.4zM39.8 0.6h1.4v1.4h-1.4zM9.2 2.3h1.6v1.6h-1.6zM34.1 5.5h1.9v1.9h-1.9zM6.5 4h1.6v1.6h-1.6zM29.4 31.9h1.6v1.6h-1.6zM10 25.6h1.5v1.5h-1.5zM6.7 25.9h1.8v1.8h-1.8zM34 28.6h1.9v1.9h-1.9zM20.6 26.5h1.5v1.5h-1.5zM30.1 21.5h1.4v1.4h-1.4zM22.3 13.1h1.9v1.9h-1.9zM29.3 34.1h1.7v1.7h-1.7zM34.6 36.1h1.6v1.6h-1.6zM15.6 21.2h1.3v1.3h-1.3zM1.9 35.4h1.6v1.6h-1.6zM34.9 4.6h1.9v1.9h-1.9zM10.1 28.7h1.8v1.8h-1.8zM36.4 27.8h1.7v1.7h-1.7zM37.9 14.4h1.9v1.9h-1.9zM15.4 4.6h1.9v1.9h-1.9zM17.7 11.8h1.6v1.6h-1.6zM14.1 24h1.7v1.7h-1.7zM23.4 -0.4h1.7v1.7h-1.7zM3.2 10.5h1.6v1.6h-1.6zM27.2 22.8h1.5v1.5h-1.5zM13.2 7.3h1.4v1.4h-1.4zM2.1 23.2h1.5v1.5h-1.5zM7.7 16.2h1.4v1.4h-1.4zM32.7 27.9h1.5v1.5h-1.5zM9.6 30.9h1.4v1.4h-1.4zM14.3 36.1h1.5v1.5h-1.5zM12.1 32.8h1.3v1.3h-1.3zM4.9 14.1h1.6v1.6h-1.6zM26.2 22.3h1.7v1.7h-1.7zM10.5 17.4h1.9v1.9h-1.9zM20.8 14.8h1.8v1.8h-1.8zM5.5 20.2h1.6v1.6h-1.6zM9.9 36.2h1.4v1.4h-1.4zM13.5 2.6h1.3v1.3h-1.3zM15.9 34.8h1.8v1.8h-1.8zM9.5 10.7h1.7v1.7h-1.7zM12.6 26h1.4v1.4h-1.4zM32 29.9h1.3v1.3h-1.3zM24.1 11.7h1.3v1.3h-1.3zM22.4 32.3h1.8v1.8h-1.8zM37.3 26.9h1.4v1.4h-1.4zM6.9 14.7h1.4v1.4h-1.4zM8.2 -0.5h1.4v1.4h-1.4zM29.6 9.2h1.8v1.8h-1.8zM36.2 30.9h1.6v1.6h-1.6zM13.8 26.3h1.8v1.8h-1.8zM36.9 24.1h1.3v1.3h-1.3zM13.8 9.6h1.8v1.8h-1.8zM-0.3 7.8h1.9v1.9h-1.9zM16.3 31.9h1.2v1.2h-1.2zM1 14.8h1.7v1.7h-1.7zM7.3 16.4h1.6v1.6h-1.6zM2.4 18.1h1.9v1.9h-1.9zM-0.8 12.1h1.9v1.9h-1.9zM1.2 24.5h1.4v1.4h-1.4zM10 -0.4h1.4v1.4h-1.4zM29.5 20.4h1.8v1.8h-1.8zM4.7 25.6h1.4v1.4h-1.4zM3.6 25.6h1.8v1.8h-1.8zM14.1 23.7h1.3v1.3h-1.3zM8.4 7.3h1.4v1.4h-1.4zM37.6 31h1.5v1.5h-1.5zM36.3 8.3h1.3v1.3h-1.3zM22.6 34.4h1.9v1.9h-1.9zM27.8 13.8h1.3v1.3h-1.3zM8.9 25.6h1.8v1.8h-1.8zM31.6 6.8h1.8v1.8h-1.8zM36.9 13h1.9v1.9h-1.9zM6.6 21.2h1.5v1.5h-1.5zM0.6 5.3h1.7v1.7h-1.7zM1.1 29.8h1.6v1.6h-1.6zM29.4 3.1h1.2v1.2h-1.2zM39 24.6h1.8v1.8h-1.8zM12 1.8h1.7v1.7h-1.7zM3.9 0.2h1.3v1.3h-1.3zM13.4 31.6h1.3v1.3h-1.3zM33.3 8h1.4v1.4h-1.4zM35.3 14.8h1.9v1.9h-1.9zM25.2 1.5h1.8v1.8h-1.8zM19.5 7.5h1.9v1.9h-1.9zM38.3 9.6h1.8v1.8h-1.8zM13 12.9h1.7v1.7h-1.7zM15.2 7.7h1.5v1.5h-1.5zM0.9 16.5h1.8v1.8h-1.8zM15.1 18.4h1.3v1.3h-1.3zM33.2 8.6h1.8v1.8h-1.8zM17.1 12.1h1.5v1.5h-1.5zM5.1 11.8h1.3v1.3h-1.3zM34.3 31.5h1.8v1.8h-1.8zM10.2 18.6h1.3v1.3h-1.3zM5.4 13.6h1.8v1.8h-1.8zM20.3 8.6h1.7v1.7h-1.7zM17.2 14.5h1.3v1.3h-1.3zM21.6 8.4h1.7v1.7h-1.7zM31.1 0.3h1.6v1.6h-1.6zM32.5 7.4h1.8v1.8h-1.8zM2.4 16.6h1.5v1.5h-1.5zM14.1 22.1h1.7v1.7h-1.7zM5.9 24.1h1.5v1.5h-1.5zM32.4 17.4h1.8v1.8h-1.8zM37.6 25.2h1.3v1.3h-1.3zM0.1 25.3h1.9v1.9h-1.9zM3.3 15.9h1.5v1.5h-1.5zM22.2 31.6h1.3v1.3h-1.3zM4 13.2h1.8v1.8h-1.8zM28.4 22.4h1.7v1.7h-1.7zM34.5 2.9h1.7v1.7h-1.7zM19.5 6h1.2v1.2h-1.2zM18.7 10.6h1.7v1.7h-1.7zM0.2 20.7h1.4v1.4h-1.4zM13.1 25.2h1.5v1.5h-1.5zM5.9 0.3h1.5v1.5h-1.5zM17.3 13.5h1.4v1.4h-1.4zM9.9 7.4h1.6v1.6h-1.6zM34.3 21.1h1.9v1.9h-1.9zM38.2 34h1.7v1.7h-1.7zM1.5 24.6h1.9v1.9h-1.9zM29.9 24.2h1.7v1.7h-1.7zM3.2 16.8h1.8v1.8h-1.8zM27.4 23.8h1.5v1.5h-1.5z"/><path fill="#40b8e8" d="M28.2 24.8h1.7v1.7h-1.7zM4.3 3.9h1.5v1.5h-1.5zM21.2 4.4h1.6v1.6h-1.6zM26.3 27.1h1.3v1.3h-1.3zM5.4 17.4h1.5v1.5h-1.5zM12 6.8h1.3v1.3h-1.3zM36.8 6.5h1.5v1.5h-1.5zM37.8 4h1.9v1.9h-1.9zM7.2 9.2h1.4v1.4h-1.4zM14.6 32.2h1.4v1.4h-1.4zM20.2 24.2h1.6v1.6h-1.6zM34.1 26.3h1.9v1.9h-1.9zM16.8 3.7h1.9v1.9h-1.9zM7.8 17.9h1.3v1.3h-1.3zM10.1 20.8h1.3v1.3h-1.3zM6.1 -0.6h1.6v1.6h-1.6zM39.8 26.2h1.8v1.8h-1.8zM15 14.5h1.8v1.8h-1.8zM16.8 5.6h1.7v1.7h-1.7zM29.3 13.2h1.5v1.5h-1.5zM18.1 14.7h1.3v1.3h-1.3zM33.7 33.8h1.3v1.3h-1.3zM5.4 7.3h1.2v1.2h-1.2zM38.8 16.1h1.6v1.6h-1.6zM26.2 6.7h1.5v1.5h-1.5zM39.4 7.2h1.6v1.6h-1.6zM1.7 12.4h1.8v1.8h-1.8zM10.2 36h1.5v1.5h-1.5zM5.5 18.6h1.8v1.8h-1.8zM30.7 12.1h1.6v1.6h-1.6zM10.2 16.3h1.5v1.5h-1.5zM12.4 1.2h1.6v1.6h-1.6zM22.2 1.6h1.5v1.5h-1.5zM32.2 0h1.3v1.3h-1.3zM30.1 35.3h1.6v1.6h-1.6zM13.3 12.7h1.6v1.6h-1.6zM18.9 28h1.8v1.8h-1.8zM11.6 4.4h1.5v1.5h-1.5zM26.8 2.3h1.6v1.6h-1.6zM25.7 27.4h1.4v1.4h-1.4zM37.4 26.5h1.3v1.3h-1.3zM4.6 14.4h1.4v1.4h-1.4zM0.1 2.3h1.9v1.9h-1.9zM34.3 18.6h1.5v1.5h-1.5zM35.3 24.6h1.8v1.8h-1.8zM20.6 25.1h1.9v1.9h-1.9zM7.6 34.2h1.5v1.5h-1.5zM27.9 20.1h1.6v1.6h-1.6zM12.6 0.2h1.8v1.8h-1.8zM36 31h1.9v1.9h-1.9zM17.6 30.3h1.8v1.8h-1.8zM36.3 26.4h1.6v1.6h-1.6zM34.9 33.3h1.5v1.5h-1.5zM23.3 6.7h1.5v1.5h-1.5zM1.4 0.7h1.7v1.7h-1.7zM38.8 28.1h1.8v1.8h-1.8zM27.7 32.9h1.3v1.3h-1.3zM31.2 20.1h1.6v1.6h-1.6zM25.8 33.5h1.4v1.4h-1.4zM9.5 32.9h1.7v1.7h-1.7zM21 25h1.7v1.7h-1.7zM37 3.4h1.7v1.7h-1.7zM10.3 24.1h1.5v1.5h-1.5zM3.8 8.2h1.4v1.4h-1.4zM7.6 4h1.3v1.3h-1.3zM1.4 3.6h1.6v1.6h-1.6zM9.9 16.7h1.8v1.8h-1.8zM15.2 24.5h1.4v1.4h-1.4zM36.6 29.7h1.4v1.4h-1.4zM2.7 29.3h1.6v1.6h-1.6zM4.1 22.5h1.8v1.8h-1.8z"/></pattern><pattern id="p34" patternUnits="userSpaceOnUse" x="0" y="0" width="41" height="37"><path fill="#f7a23b" d="M10.4 19.3h1.5v1.5h-1.5zM14.5 19.1h1.3v1.3h-1.3zM6.4 19.1h1.1v1.1h-1.1zM24.9 34h1.2v1.2h-1.2zM23.5 22.6h1.6v1.6h-1.6zM30 4.9h1.2v1.2h-1.2zM17.7 9.5h1.6v1.6h-1.6zM27.4 -0.5h1.6v1.6h-1.6zM34.1 14.9h1.1v1.1h-1.1zM2.3 4.9h1.3v1.3h-1.3zM20 10.3h1.6v1.6h-1.6zM7.2 36h1.2v1.2h-1.2zM13.5 20.2h1.2v1.2h-1.2zM25.8 31.5h1.5v1.5h-1.5zM34.4 29.6h1.5v1.5h-1.5zM39.7 9.4h1.5v1.5h-1.5zM2.2 32.9h1.1v1.1h-1.1zM38.8 1.9h1.5v1.5h-1.5zM24.8 10.1h1.6v1.6h-1.6zM21.4 3.9h1.3v1.3h-1.3zM9.6 14.1h1.3v1.3h-1.3zM8.8 2h1.1v1.1h-1.1zM19.3 5.3h1.2v1.2h-1.2zM3.2 0.9h1.5v1.5h-1.5zM9.5 21.1h1.5v1.5h-1.5zM20.8 5.5h1.4v1.4h-1.4zM13.9 15.1h1.5v1.5h-1.5zM22.9 3.9h1.6v1.6h-1.6zM10.5 3.3h1.1v1.1h-1.1z"/><path fill="#40b8e8" d="M37.5 34.2h1.1v1.1h-1.1zM10 2.4h1.1v1.1h-1.1zM24.8 0.2h1.4v1.4h-1.4zM9.3 17.8h1.3v1.3h-1.3zM8.2 23.8h1.1v1.1h-1.1zM24 12.3h1.5v1.5h-1.5zM39.8 28h1.6v1.6h-1.6zM14.6 4.5h1.6v1.6h-1.6zM30.9 15.3h1.2v1.2h-1.2zM11.5 13.8h1.1v1.1h-1.1zM36.7 31.8h1.6v1.6h-1.6zM7.9 4.7h1.6v1.6h-1.6zM6.8 30.7h1.6v1.6h-1.6zM7.4 24.1h1.4v1.4h-1.4zM15.8 14.6h1.3v1.3h-1.3zM31.8 36.2h1.3v1.3h-1.3zM32.8 27.3h1.6v1.6h-1.6zM17.2 22.4h1.4v1.4h-1.4zM21.9 24.9h1.3v1.3h-1.3zM8.8 10.8h1.6v1.6h-1.6zM4.3 28.3h1.6v1.6h-1.6zM15.7 14.8h1.5v1.5h-1.5zM15.7 14.5h1.2v1.2h-1.2zM22.5 4.9h1.6v1.6h-1.6zM39.6 9.4h1.4v1.4h-1.4zM0.5 22.6h1.3v1.3h-1.3zM35.4 7.2h1.6v1.6h-1.6zM6.1 22.4h1.5v1.5h-1.5zM-0 32h1.3v1.3h-1.3zM29.6 12.3h1.1v1.1h-1.1zM22.2 27.3h1.1v1.1h-1.1zM16.5 5.8h1.4v1.4h-1.4z"/></pattern><clipPath id="cK1"><rect x="255" y="825" width="85.6" height="56.6"/></clipPath><clipPath id="cK1b"><polygon points="254,839.5 255,839.5 262,834.5 268,831.5 274,834.5 280,837.5 286,838.5 294,834.5 302,837.5 309,841.5 316,845.5 324,848.5 332,851.5 336,850.5 341,847.5 341.6,847.5 341.6,882.6 254,882.6"/></clipPath><pattern id="p35" patternUnits="userSpaceOnUse" x="0" y="0" width="86" height="57"><path fill="#2038e8" d="M6.6 9.2h1.2v1.2h-1.2zM14.3 9.6h1.1v1.1h-1.1zM57.4 18.8h1.3v1.3h-1.3zM34.5 -0.1h1.3v1.3h-1.3zM17.7 20.8h0.9v0.9h-0.9zM20.5 28.7h1.1v1.1h-1.1zM22.7 49h0.8v0.8h-0.8zM9.8 33.6h1.1v1.1h-1.1zM53.6 27h1v1h-1zM82.1 35.5h1.1v1.1h-1.1zM21.9 1.8h0.7v0.7h-0.7zM2.4 48.3h1.3v1.3h-1.3zM63.2 39.7h0.8v0.8h-0.8zM36 6.2h0.6v0.6h-0.6zM46.9 56.1h1.4v1.4h-1.4zM23 7.8h1.4v1.4h-1.4zM44.8 38h0.8v0.8h-0.8zM74.2 2.8h1.1v1.1h-1.1zM27.2 7.8h1.1v1.1h-1.1zM31.8 38.4h0.8v0.8h-0.8zM31.1 50.7h0.8v0.8h-0.8zM32.3 49.2h1v1h-1zM41.3 46.5h1.2v1.2h-1.2zM49.5 11.8h1v1h-1zM64 37.8h0.7v0.7h-0.7zM20.7 52.8h1v1h-1zM44.7 55.3h0.9v0.9h-0.9zM68.2 21.8h1.4v1.4h-1.4zM2.6 37.8h0.7v0.7h-0.7zM74.7 43.8h0.8v0.8h-0.8zM82.8 14.2h1.1v1.1h-1.1zM19.2 51.9h1.2v1.2h-1.2zM53.7 21.2h1.4v1.4h-1.4zM11.2 27.8h0.7v0.7h-0.7zM9.1 46.5h1.2v1.2h-1.2zM76.2 47.5h1v1h-1zM60.1 50.3h0.8v0.8h-0.8zM10.8 38.5h1v1h-1zM30.3 4.2h1v1h-1zM5.3 0.2h1.1v1.1h-1.1zM11.7 24.2h1v1h-1zM78.1 9.8h1.1v1.1h-1.1zM39.7 30.7h0.9v0.9h-0.9zM27.9 49.6h1.4v1.4h-1.4zM30.4 54.4h0.7v0.7h-0.7zM56.9 53.3h1.2v1.2h-1.2zM26.5 11.2h1.4v1.4h-1.4zM42.2 36.5h0.7v0.7h-0.7zM60.6 47h0.6v0.6h-0.6zM25.1 50.5h0.7v0.7h-0.7zM46.6 38.7h0.9v0.9h-0.9zM45.5 1.1h1v1h-1zM80 54.2h1.3v1.3h-1.3zM67.7 42h1v1h-1zM11.3 12.6h0.8v0.8h-0.8zM59.1 31.4h0.8v0.8h-0.8zM35.2 52.4h0.7v0.7h-0.7zM67 41.2h0.7v0.7h-0.7zM11.3 15.3h0.9v0.9h-0.9zM47.3 14.7h1.2v1.2h-1.2zM44.4 20.7h1.3v1.3h-1.3zM49.1 30.8h1.3v1.3h-1.3zM48.4 23.3h1.4v1.4h-1.4zM70.6 34.6h1.1v1.1h-1.1zM42.2 44.3h1.2v1.2h-1.2zM49.2 12h1.2v1.2h-1.2z"/><path fill="#2a48ff" d="M34 25.5h1.2v1.2h-1.2zM68.2 11.8h1.2v1.2h-1.2zM64.6 43.3h0.7v0.7h-0.7zM31.8 55.2h1.1v1.1h-1.1zM44.4 46.1h1.2v1.2h-1.2zM56.9 24.9h0.9v0.9h-0.9zM69.2 25.4h0.9v0.9h-0.9zM55.7 2.4h1.1v1.1h-1.1zM5.6 8.5h1.4v1.4h-1.4zM5.7 46.6h1.2v1.2h-1.2zM49.4 33h1v1h-1zM75.3 24.9h1.4v1.4h-1.4zM2.9 2.1h0.9v0.9h-0.9zM8.4 54h0.9v0.9h-0.9zM77.2 39h0.7v0.7h-0.7zM63.8 23.7h0.7v0.7h-0.7zM74.5 51.8h1.1v1.1h-1.1zM9.4 32.4h0.7v0.7h-0.7zM32.1 37.2h0.9v0.9h-0.9zM55.6 17.3h1.4v1.4h-1.4zM28.2 2.4h1.2v1.2h-1.2zM37.8 42.2h1.1v1.1h-1.1zM1.6 47.6h1.4v1.4h-1.4zM72.4 6.9h0.7v0.7h-0.7zM37.5 41.9h0.7v0.7h-0.7zM46.2 3.9h0.8v0.8h-0.8zM54.4 42.6h1.4v1.4h-1.4zM39.2 20.5h0.6v0.6h-0.6zM82.4 28.1h0.8v0.8h-0.8zM46.5 55.8h1v1h-1zM59.3 34.3h1.3v1.3h-1.3zM74.5 13h1.4v1.4h-1.4zM80.2 8.2h1.2v1.2h-1.2zM14.1 5h1.3v1.3h-1.3zM28.2 32h1v1h-1zM34.7 45.9h0.9v0.9h-0.9zM25.5 18.1h1.3v1.3h-1.3zM39.8 54.1h0.9v0.9h-0.9zM31 11.6h1.4v1.4h-1.4zM54.7 23.9h1.1v1.1h-1.1zM69.1 37.1h1.2v1.2h-1.2zM82.5 -0.2h1.2v1.2h-1.2zM82.4 29.3h0.9v0.9h-0.9zM35.5 41.6h0.8v0.8h-0.8zM22.3 33.5h0.7v0.7h-0.7zM81.3 6.2h0.8v0.8h-0.8zM71.6 41h1.2v1.2h-1.2zM5.6 9.4h1.4v1.4h-1.4zM-0.2 1.7h0.6v0.6h-0.6zM64.2 19.3h1.1v1.1h-1.1zM67.7 20.2h1.4v1.4h-1.4zM12.2 10.2h1.1v1.1h-1.1zM26.3 29.4h0.7v0.7h-0.7zM10.7 2.3h0.9v0.9h-0.9zM11.6 1.3h0.7v0.7h-0.7zM19.8 13h1v1h-1zM12.6 -0.2h1.3v1.3h-1.3zM18.9 27.7h0.6v0.6h-0.6z"/><path fill="#10209a" d="M39.6 46.7h0.8v0.8h-0.8zM59.6 36.2h0.9v0.9h-0.9zM80.4 24.3h1.1v1.1h-1.1zM14.9 41h1.2v1.2h-1.2zM1.1 38.9h0.9v0.9h-0.9zM33.7 15.7h1v1h-1zM8.3 24.7h1.2v1.2h-1.2zM45.8 28.6h0.7v0.7h-0.7zM59.8 4.3h1v1h-1zM5.4 14.6h1.3v1.3h-1.3zM71.1 32.9h0.8v0.8h-0.8zM53.7 25.6h1v1h-1zM79.1 9.6h1.2v1.2h-1.2zM46 5.9h0.8v0.8h-0.8zM82.9 34.8h1.2v1.2h-1.2zM65.3 45.7h0.8v0.8h-0.8zM82 6.2h1.1v1.1h-1.1zM33.2 15.5h0.7v0.7h-0.7zM57.1 50.1h1.2v1.2h-1.2zM31.9 54h0.9v0.9h-0.9zM42.8 1.5h1.2v1.2h-1.2zM30.8 35.8h1.1v1.1h-1.1zM58.9 46.2h1.3v1.3h-1.3zM62.5 9.3h0.9v0.9h-0.9zM47.1 28.6h1v1h-1zM5.7 23.6h1v1h-1zM17.4 20.5h1.1v1.1h-1.1zM41.6 15.2h1.1v1.1h-1.1zM84.1 47h0.8v0.8h-0.8zM25.8 22.8h1.3v1.3h-1.3zM77.3 33.6h0.9v0.9h-0.9zM18.4 22.1h1.2v1.2h-1.2zM8.5 46.4h0.7v0.7h-0.7zM0.1 12.8h1.1v1.1h-1.1zM46 35.1h1.4v1.4h-1.4zM32.7 29.9h1.3v1.3h-1.3zM11.1 49.6h0.6v0.6h-0.6zM12.6 18.4h1.3v1.3h-1.3zM0.6 9.8h0.6v0.6h-0.6zM33.8 31.3h1.1v1.1h-1.1zM84.3 33h1v1h-1zM27.3 36h1.3v1.3h-1.3zM56.2 7.1h1.2v1.2h-1.2zM25 33.8h1.1v1.1h-1.1zM35.9 44.3h0.8v0.8h-0.8zM56.5 39.6h1.1v1.1h-1.1zM39.2 23.2h1.1v1.1h-1.1zM68 37h0.9v0.9h-0.9zM57.3 7.5h1.2v1.2h-1.2zM73.3 15.9h1.3v1.3h-1.3zM12.9 53.6h1.1v1.1h-1.1zM34.2 22.4h1.1v1.1h-1.1zM12.8 38.4h1.1v1.1h-1.1zM16.8 24.6h0.8v0.8h-0.8zM27.2 4.2h1.3v1.3h-1.3zM81 54.5h0.8v0.8h-0.8zM61 54.5h1.1v1.1h-1.1zM3.6 22.2h1v1h-1zM37.3 43.7h0.7v0.7h-0.7zM26.6 40.9h1.3v1.3h-1.3zM13.8 50.5h1.2v1.2h-1.2zM67.8 14.7h1.2v1.2h-1.2zM41.7 36.7h0.7v0.7h-0.7zM29.4 43.6h0.9v0.9h-0.9zM85.5 22h1.1v1.1h-1.1zM63 1.9h1.3v1.3h-1.3zM2.1 20.3h1v1h-1zM37.8 52.6h1v1h-1zM64.2 50.2h1.2v1.2h-1.2z"/><path fill="#1a2fd0" d="M77.5 44.1h1v1h-1zM76.8 23.8h1v1h-1zM18.3 32.6h1v1h-1zM77 47.1h1v1h-1zM22.1 17.2h0.8v0.8h-0.8zM0.8 44.3h1v1h-1zM23.6 34.3h1v1h-1zM71 38.5h0.9v0.9h-0.9zM64.8 25.1h1.1v1.1h-1.1zM72.3 7.7h1.3v1.3h-1.3zM38.8 26.5h1.3v1.3h-1.3zM39.8 26.3h1.3v1.3h-1.3zM60.9 28.6h1.3v1.3h-1.3zM44 36.9h1v1h-1zM76 32.4h0.8v0.8h-0.8zM8.9 31h1.3v1.3h-1.3zM36.7 30.9h0.8v0.8h-0.8zM75.4 6.3h0.9v0.9h-0.9zM75.1 35.3h1.2v1.2h-1.2zM46 40h1.2v1.2h-1.2zM7.3 47.4h1.2v1.2h-1.2zM37.8 26.3h1v1h-1zM62.1 25.8h1.2v1.2h-1.2zM3.5 2.3h0.8v0.8h-0.8zM35.9 16.7h1.4v1.4h-1.4zM9.4 1.7h1v1h-1zM24.1 14.7h1.2v1.2h-1.2zM60.6 26.5h1.2v1.2h-1.2zM83.2 37.4h1v1h-1zM72.2 11h0.7v0.7h-0.7zM24.6 15.1h1.1v1.1h-1.1zM60 39.1h1v1h-1zM13.2 24.8h0.9v0.9h-0.9zM55.5 1.1h1.1v1.1h-1.1zM57.7 5h0.8v0.8h-0.8zM17.1 42.4h1v1h-1zM62.3 8.2h0.9v0.9h-0.9zM9.6 52.6h1v1h-1zM2.9 50.4h0.7v0.7h-0.7zM35.3 53.2h0.9v0.9h-0.9zM44.3 43.9h1.1v1.1h-1.1zM46.3 48.4h1.3v1.3h-1.3zM47 34.2h1.1v1.1h-1.1zM76.6 22h1.3v1.3h-1.3zM28.1 50.4h1.2v1.2h-1.2zM64.7 56.4h0.6v0.6h-0.6zM50.2 47.1h1.3v1.3h-1.3zM53.3 29h0.7v0.7h-0.7zM31.3 9.1h0.9v0.9h-0.9zM35.2 37.5h1.2v1.2h-1.2zM84.9 5.5h1v1h-1zM72.4 35.2h0.7v0.7h-0.7zM41.3 10.1h0.9v0.9h-0.9zM80 40.5h0.8v0.8h-0.8zM69.2 16.4h1.2v1.2h-1.2zM7.9 42.6h0.7v0.7h-0.7zM78.1 16.5h1.1v1.1h-1.1zM36.2 18.6h1v1h-1zM20.1 39.6h1.2v1.2h-1.2zM26.9 46.7h0.9v0.9h-0.9zM10.6 30.6h0.7v0.7h-0.7zM2.9 1h1v1h-1zM67.4 20.6h0.7v0.7h-0.7zM34.4 51.3h0.8v0.8h-0.8zM58.2 46.5h0.8v0.8h-0.8zM74.8 34.6h1.3v1.3h-1.3zM10.2 41h0.7v0.7h-0.7zM50.4 14.5h0.8v0.8h-0.8zM34.3 22.4h0.9v0.9h-0.9zM62.4 55.3h0.9v0.9h-0.9z"/></pattern><pattern id="p36" patternUnits="userSpaceOnUse" x="0" y="0" width="86" height="57"><path fill="#32e23a" d="M64.6 44.2h1.4v1.4h-1.4zM36.2 2.7h0.7v0.7h-0.7zM74.4 16.4h0.9v0.9h-0.9zM1.6 43.2h1.3v1.3h-1.3zM13.5 28.5h0.9v0.9h-0.9zM69 2.7h0.7v0.7h-0.7z"/><path fill="#19c81e" d="M65.8 43h1.2v1.2h-1.2zM42.5 21.3h0.9v0.9h-0.9zM57.9 43h1.3v1.3h-1.3zM83.2 38.2h0.7v0.7h-0.7z"/><path fill="#0f8f14" d="M52.5 50.8h1v1h-1zM70.9 0.8h1.1v1.1h-1.1zM39.2 25.7h1.1v1.1h-1.1zM13.6 37.4h1.5v1.5h-1.5z"/><path fill="#20b0a0" d="M49.3 2.1h1.2v1.2h-1.2z"/></pattern><clipPath id="cK2"><rect x="344" y="825" width="86" height="56.6"/></clipPath><clipPath id="cK2b"><polygon points="343,831.5 344,831.5 352,832 362,831 368,835 372,839 378,841 385,840 392,837.5 400,836 410,838 420,840.5 430,842 431,842 431,873 343,873"/></clipPath><pattern id="p37" patternUnits="userSpaceOnUse" x="0" y="0" width="87" height="57"><path fill="#10209a" d="M36.1 31.7h1.1v1.1h-1.1zM29.4 7.4h1.1v1.1h-1.1zM58.7 45.6h1.3v1.3h-1.3zM50.3 3.3h1v1h-1zM33.8 45.9h0.7v0.7h-0.7zM25.6 34.8h1v1h-1zM46.5 49.9h0.9v0.9h-0.9zM69.6 32.1h1.2v1.2h-1.2zM65.3 14.2h0.6v0.6h-0.6zM78.8 48.8h0.8v0.8h-0.8zM53.8 55.4h1.3v1.3h-1.3zM32.7 16.8h0.8v0.8h-0.8zM85.2 39.6h1.4v1.4h-1.4zM48.5 27.2h1.2v1.2h-1.2zM71.8 37.1h1.3v1.3h-1.3zM39.7 27.7h1v1h-1zM6 1.2h1v1h-1zM85.2 2h1.2v1.2h-1.2zM38.9 26.1h1v1h-1zM0.6 16.7h0.7v0.7h-0.7zM75.6 49.7h1.3v1.3h-1.3zM41.1 29.1h0.9v0.9h-0.9zM50.1 55.7h1.3v1.3h-1.3zM63.1 6.9h1.3v1.3h-1.3zM41 27.2h1.3v1.3h-1.3zM38.7 23.8h1.2v1.2h-1.2zM26.7 27.4h0.8v0.8h-0.8zM49.9 4.6h1.1v1.1h-1.1zM32.8 56.3h0.7v0.7h-0.7zM43.5 47.8h1.1v1.1h-1.1zM1.1 22h0.8v0.8h-0.8zM65.3 38.3h1.1v1.1h-1.1zM45 25.3h1.1v1.1h-1.1zM18.6 27h1.1v1.1h-1.1zM65.5 17.4h1v1h-1zM38.7 33h0.8v0.8h-0.8zM46.8 12.9h1v1h-1zM7.5 13.1h0.8v0.8h-0.8zM4.7 24.2h0.8v0.8h-0.8zM71.5 51.6h1.4v1.4h-1.4zM13.8 3.5h1v1h-1zM42 21h0.6v0.6h-0.6zM79.5 29h1.3v1.3h-1.3zM48.4 13.3h1.2v1.2h-1.2zM49.6 47.8h0.6v0.6h-0.6zM50.4 55.1h1.4v1.4h-1.4zM13.2 9h1v1h-1zM44.4 53.1h1.3v1.3h-1.3zM71 12.2h1.3v1.3h-1.3zM58 1h1.4v1.4h-1.4zM44 32.9h0.6v0.6h-0.6zM30 35.7h0.7v0.7h-0.7zM60.9 13.1h0.8v0.8h-0.8zM57.2 48.8h1.2v1.2h-1.2zM26.4 47.4h1v1h-1zM31.2 1.5h1.3v1.3h-1.3zM4.4 55h0.9v0.9h-0.9zM47.9 11.8h0.8v0.8h-0.8zM85 30.6h1.1v1.1h-1.1zM52.6 6.1h0.7v0.7h-0.7zM71.9 38.5h1v1h-1zM7.2 8.9h0.8v0.8h-0.8zM25.1 20.9h0.9v0.9h-0.9zM38.4 43.4h1.2v1.2h-1.2zM86.1 48.8h1v1h-1zM9 52.1h0.9v0.9h-0.9zM58.1 26.5h0.8v0.8h-0.8zM31.3 3.9h1.4v1.4h-1.4zM15.7 31.3h0.8v0.8h-0.8zM24.4 54.4h1.3v1.3h-1.3zM31.9 0.7h1v1h-1zM19.6 13.4h1v1h-1zM28.8 10.7h0.9v0.9h-0.9zM2.7 38h1.2v1.2h-1.2zM18.5 55.5h1.2v1.2h-1.2zM37 5.1h1.3v1.3h-1.3zM76 15h1.2v1.2h-1.2zM41.3 36.7h0.7v0.7h-0.7zM41.7 40.6h1.4v1.4h-1.4zM15.8 9.2h0.9v0.9h-0.9zM80.4 21.1h1.4v1.4h-1.4zM64.4 0.3h1.4v1.4h-1.4zM5.7 36.5h1.4v1.4h-1.4zM45 14.4h0.7v0.7h-0.7zM73.3 13.2h0.6v0.6h-0.6zM18.7 55.5h1v1h-1zM31.4 13.2h0.8v0.8h-0.8zM42.8 9.4h0.8v0.8h-0.8zM76 37.1h0.7v0.7h-0.7zM43 21h1.2v1.2h-1.2zM70.2 0h1v1h-1zM27.2 23.3h1v1h-1zM12.4 34.7h1v1h-1zM11.7 22.8h1.2v1.2h-1.2zM56.4 27.1h0.6v0.6h-0.6zM63.7 12.7h0.8v0.8h-0.8zM66.1 5.9h0.7v0.7h-0.7zM17.9 49.2h1.2v1.2h-1.2zM63.6 21.5h1.4v1.4h-1.4zM79.2 31.3h0.7v0.7h-0.7zM26.7 22.9h0.9v0.9h-0.9zM64.3 24.9h1.1v1.1h-1.1zM30.4 51.3h1.2v1.2h-1.2zM33.1 32.9h0.6v0.6h-0.6zM27.1 44.5h1v1h-1zM72.8 35h0.7v0.7h-0.7zM7.3 1h0.8v0.8h-0.8zM32.3 5.9h1.1v1.1h-1.1zM77.4 3.7h1.4v1.4h-1.4zM23.9 44.3h0.7v0.7h-0.7zM13 14.3h0.9v0.9h-0.9zM15.1 10.2h0.8v0.8h-0.8zM40.2 42.5h0.8v0.8h-0.8zM38.4 5.5h1.3v1.3h-1.3zM26.3 13.1h0.8v0.8h-0.8zM65.1 16.6h1.1v1.1h-1.1zM81.7 47.9h0.7v0.7h-0.7zM44.4 0.9h1.3v1.3h-1.3zM80.8 46.1h0.8v0.8h-0.8zM37.8 50.4h0.7v0.7h-0.7zM55.7 7.5h1.2v1.2h-1.2zM10.1 49h1.3v1.3h-1.3zM2.2 0.4h0.9v0.9h-0.9zM25.4 10.5h1.1v1.1h-1.1zM9.6 48.1h0.7v0.7h-0.7zM38.4 7h0.8v0.8h-0.8zM29.1 11.1h1v1h-1zM72.9 32.8h1.1v1.1h-1.1zM27.9 4h0.8v0.8h-0.8zM85.7 12.9h1.1v1.1h-1.1zM42 9.6h1.3v1.3h-1.3zM35.8 19.7h1.3v1.3h-1.3zM68.9 18.1h1.3v1.3h-1.3zM33.8 1.6h1.4v1.4h-1.4zM21.9 32.6h0.9v0.9h-0.9zM69.6 39h1.3v1.3h-1.3zM14.5 36.7h1.2v1.2h-1.2zM85.5 39.7h1v1h-1zM61.9 29.7h1.3v1.3h-1.3zM82.3 7.4h1.1v1.1h-1.1zM81 47.6h1.1v1.1h-1.1zM59.8 8.3h1.3v1.3h-1.3zM52.6 54h1.1v1.1h-1.1zM14.3 43h0.6v0.6h-0.6zM83 14.7h1.1v1.1h-1.1zM10.5 51.8h0.7v0.7h-0.7zM86.3 25.5h0.8v0.8h-0.8zM69.8 11.5h1.3v1.3h-1.3zM59.6 29.1h0.6v0.6h-0.6zM3.7 1.8h1.2v1.2h-1.2zM74.9 34.4h1v1h-1zM57.3 55.3h0.7v0.7h-0.7zM10.8 3.7h0.7v0.7h-0.7zM2.7 1h1.3v1.3h-1.3zM44.4 41.6h1.1v1.1h-1.1zM54.8 27.2h0.8v0.8h-0.8zM4.3 28.2h0.9v0.9h-0.9zM73.3 38.3h1.2v1.2h-1.2zM48.3 51h0.9v0.9h-0.9zM82.9 51.4h0.7v0.7h-0.7zM51.4 33.3h0.6v0.6h-0.6zM25.2 24.1h1.3v1.3h-1.3zM72.7 38.6h0.9v0.9h-0.9zM20.9 19.9h0.7v0.7h-0.7zM22 19.8h1.2v1.2h-1.2zM33.5 6.3h1.2v1.2h-1.2zM47.2 31h1.2v1.2h-1.2zM49.6 35.9h1v1h-1zM68.2 51.9h1.4v1.4h-1.4zM46.6 25.6h1.1v1.1h-1.1z"/><path fill="#1a2fd0" d="M69.1 54.5h1.1v1.1h-1.1zM49 26.2h1.3v1.3h-1.3zM49.5 35.6h0.7v0.7h-0.7zM56.4 15.9h0.8v0.8h-0.8zM75.7 50.1h1.1v1.1h-1.1zM71.6 10.1h0.9v0.9h-0.9zM55.4 43.5h0.6v0.6h-0.6zM2.9 4.8h0.9v0.9h-0.9zM80.3 20.9h0.7v0.7h-0.7zM48.9 4.2h0.8v0.8h-0.8zM19 47.9h1v1h-1zM22 1.6h1.2v1.2h-1.2zM25.9 16.4h1.1v1.1h-1.1zM17.3 41.8h1.1v1.1h-1.1zM26.5 7.7h1.2v1.2h-1.2zM39.3 19.5h1.1v1.1h-1.1zM18.6 30.1h1v1h-1zM48.8 44.8h0.7v0.7h-0.7zM35.9 51.1h0.7v0.7h-0.7zM37.8 54h0.8v0.8h-0.8zM7.1 20.3h1.3v1.3h-1.3zM64.2 10.1h1.1v1.1h-1.1zM0.2 31.2h0.8v0.8h-0.8zM40.8 9.7h1v1h-1zM68.3 4.8h0.8v0.8h-0.8zM16.6 21.3h1.3v1.3h-1.3zM17.6 47.1h1v1h-1zM28.4 0.9h1.3v1.3h-1.3zM50.9 1h0.9v0.9h-0.9zM32.8 54.7h1.3v1.3h-1.3zM14.2 11.3h1.3v1.3h-1.3zM61.1 3.7h0.9v0.9h-0.9zM13.5 1.6h0.9v0.9h-0.9zM32.7 22.9h0.7v0.7h-0.7zM42.8 31h1.3v1.3h-1.3zM1.3 24.6h0.6v0.6h-0.6zM37.4 36.8h1v1h-1zM48.6 14.1h1v1h-1zM34.5 11.4h0.9v0.9h-0.9zM19 55h1.4v1.4h-1.4zM52.4 28.6h1.4v1.4h-1.4zM74.3 4.4h1v1h-1zM17.5 42.1h1v1h-1zM75.2 0.1h1v1h-1zM56.4 27.7h1.1v1.1h-1.1zM4.9 33.9h1v1h-1zM19.3 54.6h1.2v1.2h-1.2zM33.9 36.1h0.8v0.8h-0.8zM70.8 55.1h1v1h-1zM17 20.6h1.3v1.3h-1.3zM53 18.7h1.2v1.2h-1.2zM58.9 50.3h0.9v0.9h-0.9zM67.4 21.9h1.3v1.3h-1.3zM7.1 20.7h0.7v0.7h-0.7zM47.1 25.8h1.2v1.2h-1.2zM41.3 44.8h1.1v1.1h-1.1zM13.2 28.9h1.4v1.4h-1.4zM22.8 24.2h1v1h-1zM8.3 45h1.4v1.4h-1.4zM79.5 51.9h0.6v0.6h-0.6zM45.2 8.5h1.1v1.1h-1.1zM77.2 23.8h0.9v0.9h-0.9zM8.9 26.2h0.8v0.8h-0.8zM15.1 21.8h1.3v1.3h-1.3zM37.7 9.5h1.3v1.3h-1.3zM7.7 33.6h1.3v1.3h-1.3zM30.5 37.9h1.1v1.1h-1.1zM20.7 30.6h0.8v0.8h-0.8zM21.2 14.2h0.6v0.6h-0.6zM4.4 14.9h0.8v0.8h-0.8zM53.5 18.6h1.1v1.1h-1.1zM40.7 38.5h0.6v0.6h-0.6zM38.3 43.9h1.1v1.1h-1.1zM4.1 5.1h0.9v0.9h-0.9zM50.5 28.7h1v1h-1zM5.3 10h1.2v1.2h-1.2zM68.4 39.9h1v1h-1zM26 26.7h0.9v0.9h-0.9zM37.4 43.4h1.3v1.3h-1.3zM80.9 43.5h0.8v0.8h-0.8zM18.3 8.2h0.8v0.8h-0.8zM68.3 18.3h0.7v0.7h-0.7zM51.5 9.2h0.7v0.7h-0.7zM13.6 39.7h0.8v0.8h-0.8zM39.1 20.5h0.8v0.8h-0.8zM5.7 18.2h1.2v1.2h-1.2zM71.7 17.8h1.3v1.3h-1.3zM22.6 56.3h1.2v1.2h-1.2zM3.4 0.2h0.7v0.7h-0.7zM57.3 29.5h1.3v1.3h-1.3zM5.5 30.1h1.1v1.1h-1.1zM2.6 56.2h0.9v0.9h-0.9zM14.2 3.2h1.1v1.1h-1.1zM4.8 24.5h1v1h-1zM45.6 1.8h0.9v0.9h-0.9zM64.3 36.6h1.2v1.2h-1.2zM76.8 32.4h1.3v1.3h-1.3zM10.3 14.9h1v1h-1zM72.5 35.1h1.1v1.1h-1.1zM50.7 20.1h0.7v0.7h-0.7zM86.2 16.4h1v1h-1zM81.7 55.3h1.1v1.1h-1.1zM5.7 5.5h1.4v1.4h-1.4zM51.6 46.4h0.7v0.7h-0.7zM30.9 30.9h0.9v0.9h-0.9zM62.7 20.2h0.8v0.8h-0.8zM52 12.3h0.7v0.7h-0.7zM36.2 50.5h1.2v1.2h-1.2zM27.4 52.6h1v1h-1zM27.3 26.1h1.2v1.2h-1.2zM17.9 35.2h1v1h-1zM53.9 14.4h1v1h-1zM26.1 18.7h0.7v0.7h-0.7zM76.1 14.7h0.8v0.8h-0.8zM58.8 14.2h0.7v0.7h-0.7zM20.6 47.2h0.8v0.8h-0.8zM17.1 54.8h1.2v1.2h-1.2zM4.9 54.8h0.7v0.7h-0.7zM14.4 16.8h1.2v1.2h-1.2zM80 27.2h1.2v1.2h-1.2zM57.3 53.4h0.9v0.9h-0.9zM40.6 38.2h0.9v0.9h-0.9zM76.5 35.1h0.9v0.9h-0.9zM83.7 5.3h0.7v0.7h-0.7zM19.2 50.6h1.1v1.1h-1.1zM45.1 5.8h0.8v0.8h-0.8zM59.9 24.8h1.1v1.1h-1.1zM9.1 10.4h1.4v1.4h-1.4zM-0 7.6h1.1v1.1h-1.1zM24.8 6.4h1.3v1.3h-1.3zM49.1 32.2h1.3v1.3h-1.3zM76.7 4.9h1.3v1.3h-1.3zM25.8 32.5h1.4v1.4h-1.4zM2.4 15h1.3v1.3h-1.3zM47.3 27.8h0.8v0.8h-0.8zM62.2 2.7h0.7v0.7h-0.7zM31.1 45.8h1.1v1.1h-1.1zM55.7 34.2h0.7v0.7h-0.7zM56.8 54.5h1.4v1.4h-1.4zM68.2 18h1.4v1.4h-1.4zM65.3 36.2h1.1v1.1h-1.1zM60 37.3h1.2v1.2h-1.2zM26.4 47.4h0.8v0.8h-0.8zM48.3 53.7h1.3v1.3h-1.3zM23.8 25.2h0.9v0.9h-0.9zM41.5 0.2h0.9v0.9h-0.9zM64.8 2.1h1.3v1.3h-1.3zM0.8 1.6h1.1v1.1h-1.1zM68.4 33.8h1.1v1.1h-1.1zM5.6 26h0.8v0.8h-0.8zM46.5 35.8h1.3v1.3h-1.3zM68.3 39.2h0.8v0.8h-0.8zM28.9 54h1.3v1.3h-1.3zM3.5 15.1h1.4v1.4h-1.4zM71.6 26h0.6v0.6h-0.6zM57.1 53.4h0.9v0.9h-0.9zM15.9 39.7h0.9v0.9h-0.9zM57.4 35.5h0.8v0.8h-0.8z"/><path fill="#2038e8" d="M55.5 35.7h0.7v0.7h-0.7zM52.2 8.5h0.9v0.9h-0.9zM5.6 20.3h0.6v0.6h-0.6zM59.6 12.1h0.8v0.8h-0.8zM42.2 16.5h0.9v0.9h-0.9zM35.2 44.5h0.8v0.8h-0.8zM31 23h1.4v1.4h-1.4zM86.4 39.2h0.9v0.9h-0.9zM16 40.3h0.8v0.8h-0.8zM27.3 26h0.7v0.7h-0.7zM57.1 41.3h1.3v1.3h-1.3zM82 1.3h1.1v1.1h-1.1zM50.2 29.4h1.3v1.3h-1.3zM1.5 36.7h0.8v0.8h-0.8zM2.6 20.8h1.3v1.3h-1.3zM38.8 48.5h1.1v1.1h-1.1zM43.8 52.6h1v1h-1zM14.3 15.9h1.1v1.1h-1.1zM2.2 20.5h0.9v0.9h-0.9zM29.9 8.4h0.9v0.9h-0.9zM72.5 38.7h1.1v1.1h-1.1zM82.2 39h1.3v1.3h-1.3zM2.6 49.1h0.9v0.9h-0.9zM16.4 19.6h0.8v0.8h-0.8zM21.5 12h0.9v0.9h-0.9zM41.2 13h0.9v0.9h-0.9zM27.9 51.6h0.9v0.9h-0.9zM35.9 38.7h1v1h-1zM18.9 26.5h1v1h-1zM63.3 54.6h1.3v1.3h-1.3zM1.7 54.3h0.8v0.8h-0.8zM64 20.4h1v1h-1zM82.6 3.2h1.3v1.3h-1.3zM72.2 16.5h1.1v1.1h-1.1zM24.4 13.1h1v1h-1zM59.3 55.6h1.4v1.4h-1.4zM82.2 -0.1h0.7v0.7h-0.7zM44.9 10.9h0.9v0.9h-0.9zM50.8 19.4h1.4v1.4h-1.4zM31.2 7.1h1v1h-1zM28.5 13.4h0.9v0.9h-0.9zM58.2 11.4h0.8v0.8h-0.8zM61.4 49.5h1v1h-1zM29 3.5h1.1v1.1h-1.1zM14.8 10.3h1.2v1.2h-1.2zM82.1 18.2h1v1h-1zM35.7 46.1h1.1v1.1h-1.1zM2.4 15.7h0.9v0.9h-0.9zM14 17.1h0.8v0.8h-0.8zM63.5 0.6h0.7v0.7h-0.7zM56.7 52.1h0.9v0.9h-0.9zM50.8 9.4h1.2v1.2h-1.2zM52.3 37.9h1.2v1.2h-1.2zM41.6 7.2h1.2v1.2h-1.2zM75.9 39.8h0.7v0.7h-0.7zM11.3 47.1h1.3v1.3h-1.3zM40.9 41.1h0.9v0.9h-0.9zM60.9 18.8h1.4v1.4h-1.4zM82.2 17.8h1.3v1.3h-1.3zM64 16.6h0.9v0.9h-0.9zM67.8 24.1h1.3v1.3h-1.3zM15.7 34.7h1.1v1.1h-1.1zM37.8 44.7h1.1v1.1h-1.1zM2.3 24.8h1.3v1.3h-1.3zM8.7 9.9h1.1v1.1h-1.1zM30.4 9.4h1.2v1.2h-1.2zM3 13.8h0.9v0.9h-0.9zM56.9 4.4h1.4v1.4h-1.4zM6.5 4.2h0.9v0.9h-0.9zM30.5 3h0.7v0.7h-0.7zM9.3 52.1h1v1h-1zM65 36.7h0.8v0.8h-0.8zM58.6 18.5h0.7v0.7h-0.7zM62.4 18.8h1.4v1.4h-1.4zM20.6 53.5h1v1h-1zM32.3 44.9h0.7v0.7h-0.7zM45.5 7.9h1.1v1.1h-1.1zM47.4 38.3h1.2v1.2h-1.2zM12.7 21.9h1v1h-1zM76.3 15.5h1.4v1.4h-1.4zM78.6 17h1v1h-1zM45.7 14.8h1.2v1.2h-1.2zM61.3 20.4h1.1v1.1h-1.1zM20 47.3h1.3v1.3h-1.3zM20.3 1.2h0.9v0.9h-0.9zM27.3 46.8h1.3v1.3h-1.3zM54.8 41.9h1.2v1.2h-1.2zM9.3 29.9h0.8v0.8h-0.8zM48.7 1.5h1.3v1.3h-1.3zM50.3 22.6h1v1h-1zM79.5 17.1h0.8v0.8h-0.8zM67.4 42.2h0.8v0.8h-0.8zM49.9 4.7h1.3v1.3h-1.3zM57.4 52.6h0.6v0.6h-0.6zM15.3 13.9h1v1h-1zM30.8 54.2h0.7v0.7h-0.7zM44 27.1h1.2v1.2h-1.2zM59.1 39.9h1v1h-1zM75.4 32.6h0.6v0.6h-0.6zM54.5 5.7h0.8v0.8h-0.8zM84 54.8h0.7v0.7h-0.7zM82.6 43.8h1.1v1.1h-1.1zM85.8 53.7h1.2v1.2h-1.2zM82.4 2.6h1.3v1.3h-1.3zM70.5 0.8h1.1v1.1h-1.1zM4.1 17.5h1.4v1.4h-1.4zM76.1 24.7h1.2v1.2h-1.2zM30.7 40.1h1v1h-1zM19.1 11.9h1.2v1.2h-1.2zM9.3 23.8h0.8v0.8h-0.8zM26.3 38.2h1.1v1.1h-1.1zM38.1 56h1.3v1.3h-1.3zM85.1 45.4h1v1h-1zM86.5 51.2h0.8v0.8h-0.8zM55.3 43.3h0.7v0.7h-0.7zM25.8 17.2h1.3v1.3h-1.3zM68.6 20.4h1.2v1.2h-1.2zM21.8 56.5h0.7v0.7h-0.7zM20.7 45.2h1.1v1.1h-1.1zM75.4 3.8h0.6v0.6h-0.6zM79.6 43.7h1.2v1.2h-1.2zM7.5 18.2h1v1h-1zM69.7 31.3h1v1h-1zM64.8 9.5h1v1h-1zM31.2 41h1.3v1.3h-1.3zM67.6 43.5h0.8v0.8h-0.8zM34.6 0.9h1.3v1.3h-1.3zM47.6 17.5h0.8v0.8h-0.8zM70.5 41.8h1.4v1.4h-1.4zM74.8 45.9h0.8v0.8h-0.8zM40.6 43.4h1.3v1.3h-1.3zM83.6 24h1.1v1.1h-1.1zM30.3 20h1v1h-1zM12.2 32.8h1.4v1.4h-1.4zM47.5 11h0.8v0.8h-0.8zM38.7 41h0.7v0.7h-0.7zM16.7 22.8h1v1h-1zM27.8 1.6h1.3v1.3h-1.3zM23.7 9.9h0.8v0.8h-0.8zM25.4 39.5h1v1h-1zM44 45.6h1.3v1.3h-1.3zM35.1 43.8h0.6v0.6h-0.6zM15.9 33.9h1.2v1.2h-1.2zM1.6 5.2h1v1h-1zM33.7 47.7h1v1h-1zM31.9 27.7h1.3v1.3h-1.3zM52.1 45.7h0.8v0.8h-0.8zM16.1 33.4h1.2v1.2h-1.2zM41.5 4.5h1v1h-1zM22.4 18.3h0.8v0.8h-0.8zM19.2 35.8h0.8v0.8h-0.8zM63.4 43.3h1.1v1.1h-1.1zM20.5 11.3h0.9v0.9h-0.9zM18.1 23.7h1v1h-1zM72.8 45.1h1.2v1.2h-1.2zM10.4 12.7h1.2v1.2h-1.2zM78.5 18.8h1.1v1.1h-1.1zM19.1 53h1v1h-1zM48.3 48.2h1.2v1.2h-1.2zM34.1 13.8h1.4v1.4h-1.4zM11.9 15.4h1.4v1.4h-1.4zM65.8 41.9h0.7v0.7h-0.7zM64.8 23.9h1.2v1.2h-1.2zM16.1 43h1v1h-1z"/><path fill="#2a48ff" d="M61.4 37.7h1.4v1.4h-1.4zM75.3 7.5h1.2v1.2h-1.2zM27.7 3.5h1.4v1.4h-1.4zM64.8 12h1v1h-1zM5.8 38h1.1v1.1h-1.1zM62.1 45.1h1.4v1.4h-1.4zM15.5 33h1.2v1.2h-1.2zM37.3 40.5h1.2v1.2h-1.2zM0.2 54.4h0.8v0.8h-0.8zM75.6 24.4h1v1h-1zM6.7 5.9h1.3v1.3h-1.3zM14 20h0.8v0.8h-0.8zM6 0h1v1h-1zM28.8 43.3h1.1v1.1h-1.1zM60.7 1.5h0.9v0.9h-0.9zM76.5 37.2h1.3v1.3h-1.3zM45.9 51.2h1.4v1.4h-1.4zM15.5 22.3h1.3v1.3h-1.3zM78.5 35.1h0.9v0.9h-0.9zM41.9 38.3h1.1v1.1h-1.1zM37.5 4.9h0.9v0.9h-0.9zM1.6 23.1h0.7v0.7h-0.7zM40.7 14.9h1.2v1.2h-1.2zM18.6 28.2h0.8v0.8h-0.8zM60.4 49.4h1.2v1.2h-1.2zM22.5 24.8h1.3v1.3h-1.3zM11.6 4.4h1.2v1.2h-1.2zM69.7 46.4h1.2v1.2h-1.2zM22 36.5h1.1v1.1h-1.1zM29.9 12.5h1.4v1.4h-1.4zM73.7 32.7h1.3v1.3h-1.3zM17 29.8h0.6v0.6h-0.6zM50.3 10.5h1.1v1.1h-1.1zM84.6 16.6h0.7v0.7h-0.7zM77.6 56.5h0.7v0.7h-0.7zM53.2 7.5h1.1v1.1h-1.1zM81.2 5.2h1.1v1.1h-1.1zM71.4 25.6h1v1h-1zM40 11.6h1v1h-1zM0.9 53.8h0.7v0.7h-0.7zM1.2 39.8h1.1v1.1h-1.1zM42.7 8.4h1.1v1.1h-1.1zM80.3 11.1h0.8v0.8h-0.8zM74 54.9h0.7v0.7h-0.7zM53.3 0.9h0.8v0.8h-0.8zM16.9 50.8h0.7v0.7h-0.7zM64.4 15.9h0.7v0.7h-0.7zM47.7 24.9h1v1h-1zM7.3 25.5h0.9v0.9h-0.9zM18.3 17.7h1.3v1.3h-1.3zM33.9 28.6h0.6v0.6h-0.6zM26.7 41.3h1v1h-1zM36.7 24h0.8v0.8h-0.8zM27.7 45.9h0.8v0.8h-0.8zM30 22.2h0.6v0.6h-0.6zM31.7 18.7h1.2v1.2h-1.2zM80.2 3.8h1v1h-1zM85.4 32.7h0.9v0.9h-0.9zM13.5 14.7h1.1v1.1h-1.1zM51.7 2.4h1.1v1.1h-1.1zM85.7 16.6h1.3v1.3h-1.3zM45.8 0.4h1.1v1.1h-1.1zM27.6 39.3h1.1v1.1h-1.1zM58.7 38.5h0.7v0.7h-0.7zM50.3 33.4h1.1v1.1h-1.1zM56 40.1h0.8v0.8h-0.8zM62.7 39.5h1v1h-1zM55 6.3h1.2v1.2h-1.2zM23 11.8h1.4v1.4h-1.4zM50.6 24.2h1.3v1.3h-1.3zM46.7 44h1.4v1.4h-1.4zM34.4 12.6h1.2v1.2h-1.2zM55.6 54.1h0.9v0.9h-0.9zM36.1 46.2h0.9v0.9h-0.9zM73.9 8.7h0.9v0.9h-0.9zM27.4 44h1.1v1.1h-1.1zM76.8 25.3h0.9v0.9h-0.9zM54.8 42.7h1v1h-1zM26 22.5h0.8v0.8h-0.8zM6.4 34h1.3v1.3h-1.3zM80.3 30.3h0.9v0.9h-0.9zM55.4 53.4h1.3v1.3h-1.3zM23.3 29.1h0.9v0.9h-0.9zM19.3 42.3h1.2v1.2h-1.2zM80.1 14.6h0.8v0.8h-0.8zM32.6 10.3h0.9v0.9h-0.9zM48.1 2.1h0.6v0.6h-0.6zM54.5 18.6h1.2v1.2h-1.2zM24.2 45.6h0.9v0.9h-0.9zM0.9 31.2h0.9v0.9h-0.9zM48.8 49.9h0.8v0.8h-0.8zM59.8 46.3h1.3v1.3h-1.3zM23.9 33.3h0.8v0.8h-0.8zM70.7 40.2h0.9v0.9h-0.9zM44.5 45.7h1.3v1.3h-1.3zM58.7 9.6h0.8v0.8h-0.8zM70.5 0.4h0.9v0.9h-0.9zM75.5 22.1h1v1h-1zM53.9 39.1h0.9v0.9h-0.9zM60.2 10.5h1.2v1.2h-1.2zM59.6 50.7h0.8v0.8h-0.8zM77.9 21.5h1.1v1.1h-1.1zM28.2 54.1h1.4v1.4h-1.4zM75.3 31.2h1.1v1.1h-1.1zM48.3 35.5h0.7v0.7h-0.7zM40.4 7.7h1v1h-1zM36.3 55.5h0.8v0.8h-0.8zM70.6 3.7h0.9v0.9h-0.9zM56.5 46.5h1v1h-1zM57.5 4.1h1v1h-1zM36.3 15.1h1.3v1.3h-1.3zM1.1 44.3h1.1v1.1h-1.1zM25 25.3h1.2v1.2h-1.2zM47.1 23.4h1v1h-1zM64.4 14.7h0.6v0.6h-0.6zM48.4 42.9h0.8v0.8h-0.8zM57.2 33.5h0.8v0.8h-0.8zM33.9 4.5h0.9v0.9h-0.9zM70.8 28h0.8v0.8h-0.8zM21.8 30.4h1.2v1.2h-1.2zM36.8 34.9h1.1v1.1h-1.1zM18.3 48.4h1.2v1.2h-1.2zM65.5 38.5h0.8v0.8h-0.8zM26.4 18.6h1.3v1.3h-1.3zM21.9 29.2h0.7v0.7h-0.7zM4 45.5h1.2v1.2h-1.2zM55 3.2h1.2v1.2h-1.2zM81.5 13.8h1.1v1.1h-1.1zM11 53.3h1.4v1.4h-1.4zM42.9 38.6h0.8v0.8h-0.8zM76.7 41.4h1v1h-1zM41.4 29.2h1v1h-1zM8.6 47.8h1.1v1.1h-1.1zM30.2 34.5h0.8v0.8h-0.8zM28.7 45.6h1.1v1.1h-1.1zM72.6 6.4h1.1v1.1h-1.1zM2.6 25.1h1v1h-1zM74.5 26.3h1.3v1.3h-1.3zM52.4 49.4h0.8v0.8h-0.8zM18 29.6h1.1v1.1h-1.1zM57.7 56h0.7v0.7h-0.7zM2.1 51.6h1.2v1.2h-1.2zM39.8 40.6h1.2v1.2h-1.2zM82.4 12.9h1.3v1.3h-1.3zM57.9 33h0.7v0.7h-0.7zM60.5 1.4h1.4v1.4h-1.4zM28.9 26.9h1v1h-1zM82.6 4.6h0.7v0.7h-0.7zM23.5 23.8h0.9v0.9h-0.9zM24.8 37.8h0.8v0.8h-0.8zM39.3 49.2h0.7v0.7h-0.7zM46.4 19.7h0.8v0.8h-0.8zM49.6 15h1.4v1.4h-1.4zM59.6 3.7h0.8v0.8h-0.8zM18.8 50.2h1v1h-1zM50 32.9h1.1v1.1h-1.1zM19 7.3h1v1h-1zM9.6 19h0.9v0.9h-0.9zM42.9 8h0.7v0.7h-0.7zM42.7 40.3h1.3v1.3h-1.3z"/></pattern><pattern id="p38" patternUnits="userSpaceOnUse" x="0" y="0" width="87" height="57"><path fill="#20b0a0" d="M32 16.6h1v1h-1zM16.8 7.2h0.9v0.9h-0.9zM52.6 27.9h0.9v0.9h-0.9zM66.1 28h1.3v1.3h-1.3zM41.8 35.4h0.8v0.8h-0.8zM56.7 23.7h0.9v0.9h-0.9zM7 24.8h1.4v1.4h-1.4zM54.5 51.3h0.7v0.7h-0.7zM11.8 51.8h1.4v1.4h-1.4zM60.3 31.1h0.8v0.8h-0.8zM5.3 25.6h0.7v0.7h-0.7zM39.3 48.3h1.2v1.2h-1.2zM32.6 0h1.1v1.1h-1.1zM55.8 35.1h1.2v1.2h-1.2zM49.5 3.3h0.9v0.9h-0.9zM36.9 3.8h1.4v1.4h-1.4zM28.9 46.5h0.8v0.8h-0.8zM59.3 19.4h1v1h-1zM85 22.7h1.3v1.3h-1.3zM71.3 2.7h1.2v1.2h-1.2zM48 25h1.4v1.4h-1.4zM33 49.5h1.2v1.2h-1.2zM48 52h0.7v0.7h-0.7zM17.4 29.9h1.5v1.5h-1.5zM13.4 36.4h0.7v0.7h-0.7zM32.3 36.4h0.7v0.7h-0.7zM4.8 49.4h0.9v0.9h-0.9zM43.8 -0.3h0.9v0.9h-0.9zM45.3 56h1.3v1.3h-1.3zM37.5 4.6h1.2v1.2h-1.2zM58.2 8.1h1.4v1.4h-1.4zM10.9 17.2h1.1v1.1h-1.1zM47.7 26h1.4v1.4h-1.4zM67.1 47.1h0.9v0.9h-0.9zM50.1 22.7h1.4v1.4h-1.4zM50.8 44.6h1.3v1.3h-1.3zM81.6 19.1h1v1h-1zM3.7 7.3h1.2v1.2h-1.2zM28.8 8.3h1.1v1.1h-1.1zM13 35.6h0.7v0.7h-0.7zM86.2 34.6h1.4v1.4h-1.4zM4 34.6h1.4v1.4h-1.4zM7.7 48.7h0.9v0.9h-0.9zM61 53.1h1.1v1.1h-1.1zM67.4 45.6h1.1v1.1h-1.1zM52.9 51.3h0.6v0.6h-0.6zM48.3 28.6h1.3v1.3h-1.3zM55.1 33.5h1.1v1.1h-1.1zM2.3 24h1v1h-1zM38.5 25.1h1.3v1.3h-1.3zM20.3 48.9h1.5v1.5h-1.5zM16.4 54.4h0.9v0.9h-0.9zM66.9 40.9h0.9v0.9h-0.9zM78.3 31.3h0.6v0.6h-0.6zM50.3 33.4h1v1h-1zM82.5 21.2h1v1h-1zM62.4 51.5h1v1h-1zM35.7 46.6h1v1h-1zM25.5 29.1h1.5v1.5h-1.5zM76.6 11.8h0.7v0.7h-0.7zM23.4 51.9h0.6v0.6h-0.6zM63.8 28h0.9v0.9h-0.9zM83.7 9.3h1.3v1.3h-1.3zM5.7 7.5h1.3v1.3h-1.3zM74.4 12.5h0.9v0.9h-0.9zM39.9 38.3h1.4v1.4h-1.4zM1.2 41.2h0.7v0.7h-0.7zM51.8 23.6h0.9v0.9h-0.9zM84.2 44h0.7v0.7h-0.7zM84.4 27.7h0.9v0.9h-0.9zM15.3 11.2h1.1v1.1h-1.1zM48.5 35.8h0.9v0.9h-0.9zM5.5 51.8h1v1h-1zM74.1 49.3h1.4v1.4h-1.4zM6 41.9h1.3v1.3h-1.3zM75.7 33h1.1v1.1h-1.1zM79.9 -0.2h0.9v0.9h-0.9zM67.7 14.1h1.2v1.2h-1.2zM49 34.8h0.7v0.7h-0.7zM5.6 14.4h1.1v1.1h-1.1zM78.8 34.8h1v1h-1z"/><path fill="#0f8f14" d="M28.5 23.7h1.2v1.2h-1.2zM22.7 10.9h1.2v1.2h-1.2zM8.7 30.3h1.4v1.4h-1.4zM44.4 40.9h0.8v0.8h-0.8zM18.1 10.9h0.9v0.9h-0.9zM54.3 42.9h0.9v0.9h-0.9zM33.4 3h0.9v0.9h-0.9zM25 38.1h1.2v1.2h-1.2zM86.3 40.6h1.1v1.1h-1.1zM69 8.3h1.3v1.3h-1.3zM6.5 8.4h1v1h-1zM37.4 22.3h1v1h-1zM39.8 43.8h0.7v0.7h-0.7zM16 37.6h1.2v1.2h-1.2zM60.6 40h0.8v0.8h-0.8zM41 24.8h1.4v1.4h-1.4zM55.8 32.9h0.7v0.7h-0.7zM52.5 38.4h1.2v1.2h-1.2zM28.1 31.8h1.1v1.1h-1.1zM29.4 32.9h0.6v0.6h-0.6zM80 1.1h0.7v0.7h-0.7zM46.8 2.8h0.7v0.7h-0.7zM74.8 9.2h0.8v0.8h-0.8zM18.6 52.1h1.2v1.2h-1.2zM48.6 30.6h1.2v1.2h-1.2zM40 5.1h1.2v1.2h-1.2zM5.3 35.5h0.6v0.6h-0.6zM3.6 20.4h1.2v1.2h-1.2zM35.3 53.1h1.2v1.2h-1.2zM73.5 28.6h0.8v0.8h-0.8zM76.7 31h1.3v1.3h-1.3zM12.4 54h1v1h-1zM79.9 31.1h1.4v1.4h-1.4zM44.2 37.1h1.3v1.3h-1.3zM57 7.8h1.4v1.4h-1.4zM80.6 10.4h1.5v1.5h-1.5zM70.8 27.2h1.2v1.2h-1.2zM61 30.4h1.1v1.1h-1.1zM32.9 24.4h1.2v1.2h-1.2zM26 0h1.1v1.1h-1.1zM4.7 17.3h0.8v0.8h-0.8zM80.3 48.1h0.7v0.7h-0.7zM52.1 38.3h1.5v1.5h-1.5zM43.4 30.1h1.3v1.3h-1.3zM2.6 28.1h0.7v0.7h-0.7zM49.7 3.1h1.3v1.3h-1.3zM14.2 4.4h1.5v1.5h-1.5zM24.2 3.7h1.4v1.4h-1.4zM32.1 15h0.8v0.8h-0.8zM30 55.4h1.3v1.3h-1.3zM2.5 5.8h0.7v0.7h-0.7zM83.3 6.6h0.9v0.9h-0.9zM49.7 1.6h1.3v1.3h-1.3zM85.6 50.5h0.6v0.6h-0.6zM65 48.8h0.8v0.8h-0.8zM81.2 2.4h1.5v1.5h-1.5zM58.7 37.1h0.8v0.8h-0.8zM74.8 35.2h1.3v1.3h-1.3zM19.3 30.6h1v1h-1zM73.3 26.1h1v1h-1zM80.9 51.6h1.4v1.4h-1.4zM35.5 31.3h0.7v0.7h-0.7zM61.7 1.8h1.4v1.4h-1.4zM1.7 37.2h1v1h-1zM54 39.1h1.1v1.1h-1.1zM44.2 47h0.8v0.8h-0.8zM37 17.9h0.7v0.7h-0.7zM9.6 55.2h1.1v1.1h-1.1zM40.5 24.5h1.1v1.1h-1.1zM86.1 9.1h1.5v1.5h-1.5zM7.6 30.2h0.7v0.7h-0.7zM82.8 15.5h1v1h-1zM41 40h0.8v0.8h-0.8zM37.8 53h1.4v1.4h-1.4zM15.9 18.3h1.4v1.4h-1.4zM72.3 17.3h1.2v1.2h-1.2zM67.9 5.8h1.3v1.3h-1.3zM75 38.2h1v1h-1zM38 48.2h1.5v1.5h-1.5zM64.2 0.3h1.1v1.1h-1.1zM73.5 18.8h1.1v1.1h-1.1zM9.1 28.6h1v1h-1z"/><path fill="#32e23a" d="M15.7 6.7h1v1h-1zM29 15.6h1.2v1.2h-1.2zM73.6 12.3h1.5v1.5h-1.5zM68 13.8h1.2v1.2h-1.2zM59.8 2.4h1.1v1.1h-1.1zM81.6 21.7h1.2v1.2h-1.2zM82.9 3h1.1v1.1h-1.1zM62.8 26h1.1v1.1h-1.1zM61.8 52.2h1.3v1.3h-1.3zM72.4 40.7h1.2v1.2h-1.2zM51.5 23.2h1v1h-1zM73.5 25.9h0.8v0.8h-0.8zM80.2 7h1.4v1.4h-1.4zM67.9 5.6h1.3v1.3h-1.3zM61 5.2h0.9v0.9h-0.9zM14.7 15.9h0.9v0.9h-0.9zM4.8 19.4h0.8v0.8h-0.8zM39.3 9.8h1.3v1.3h-1.3zM56.3 50.9h1v1h-1zM25.5 24.8h1v1h-1zM57.3 46.8h0.6v0.6h-0.6zM78.2 30.9h1.4v1.4h-1.4zM57.7 22.9h0.8v0.8h-0.8zM85.5 18.9h0.6v0.6h-0.6zM11.2 41.6h1v1h-1zM55.2 17.1h0.6v0.6h-0.6zM71 12.2h0.9v0.9h-0.9zM58.4 22.1h0.8v0.8h-0.8zM78.7 19h0.9v0.9h-0.9zM76.6 7.6h1.2v1.2h-1.2zM16.5 37.9h1.2v1.2h-1.2zM23 21.9h1.2v1.2h-1.2zM26.6 54.3h1.1v1.1h-1.1zM51.6 25.5h1.4v1.4h-1.4zM57.6 21.6h1v1h-1zM84.5 13.4h1.2v1.2h-1.2zM63.3 17.6h1.5v1.5h-1.5zM33.3 8.9h1.3v1.3h-1.3zM49.5 40.4h1.4v1.4h-1.4zM74.3 16.8h1v1h-1zM35.6 42.1h0.9v0.9h-0.9zM82.9 33.1h1v1h-1zM48 20.8h1.5v1.5h-1.5zM8.5 9.5h0.9v0.9h-0.9zM49.7 14.3h0.6v0.6h-0.6zM7.3 27.7h1v1h-1zM32.2 20.9h1.1v1.1h-1.1zM70.4 23h0.7v0.7h-0.7zM70.8 3.1h1.2v1.2h-1.2zM80.4 35.8h1.4v1.4h-1.4zM18 41.4h1.2v1.2h-1.2zM86.4 13.8h0.6v0.6h-0.6zM59.6 18.8h1.1v1.1h-1.1zM17.7 43.1h1.5v1.5h-1.5zM3.2 35.3h0.6v0.6h-0.6zM29.9 41.6h1.1v1.1h-1.1zM44.2 35.4h1.2v1.2h-1.2zM77 17.1h1.2v1.2h-1.2zM23 22.5h1.3v1.3h-1.3zM68.3 7.8h0.9v0.9h-0.9zM76 22.1h0.8v0.8h-0.8zM74.2 1.7h1.5v1.5h-1.5zM42.2 55.7h0.8v0.8h-0.8zM72.4 49.4h1.2v1.2h-1.2zM39.2 53.8h1.3v1.3h-1.3zM23.3 9h1.4v1.4h-1.4zM6.2 23.8h1.3v1.3h-1.3zM70.7 11.2h1v1h-1zM77.1 37.3h1.1v1.1h-1.1zM53.3 50.5h1.1v1.1h-1.1zM37.1 23.8h0.8v0.8h-0.8zM49.4 12.6h1v1h-1zM71.5 44h0.7v0.7h-0.7zM54.8 51.3h1v1h-1zM19.8 33.8h1.4v1.4h-1.4zM17.8 48.6h1.4v1.4h-1.4zM34.1 47.3h0.7v0.7h-0.7zM42.2 27.9h1v1h-1zM7.4 -0h1.3v1.3h-1.3zM16.5 10.5h1.2v1.2h-1.2zM52.5 53.4h0.8v0.8h-0.8zM28.4 25.9h1v1h-1zM11.5 19h1.3v1.3h-1.3zM31.3 13.6h1.3v1.3h-1.3zM45.1 24h1.3v1.3h-1.3z"/><path fill="#19c81e" d="M69.9 17.5h1.1v1.1h-1.1zM77.5 17h0.9v0.9h-0.9zM44.1 47.4h1.4v1.4h-1.4zM28.4 28.5h1.2v1.2h-1.2zM39.3 38.2h0.9v0.9h-0.9zM9.4 5.5h1.4v1.4h-1.4zM84.6 47.5h1.4v1.4h-1.4zM36.4 19.6h1.3v1.3h-1.3zM11.1 1.8h1.3v1.3h-1.3zM0.6 44.5h0.8v0.8h-0.8zM50.9 0.2h1.5v1.5h-1.5zM70 16.1h1.3v1.3h-1.3zM25.5 53.5h1.1v1.1h-1.1zM71.5 12.9h1v1h-1zM48.5 31.5h1.2v1.2h-1.2zM24 46.9h1v1h-1zM36 6.4h0.8v0.8h-0.8zM2.6 25.6h1.4v1.4h-1.4zM61.2 29.6h1.2v1.2h-1.2zM10.6 2.5h0.9v0.9h-0.9zM19.7 47.2h0.8v0.8h-0.8zM20 44.2h1.5v1.5h-1.5zM52.2 31.6h1v1h-1zM56.6 6h1.2v1.2h-1.2zM59.5 8.4h1.3v1.3h-1.3zM86.5 19.8h0.9v0.9h-0.9zM24.2 48h1.4v1.4h-1.4zM8.4 45.1h1.3v1.3h-1.3zM0.7 16.9h0.9v0.9h-0.9zM61.5 52.9h0.8v0.8h-0.8zM10.6 42.5h0.7v0.7h-0.7zM76.2 18.6h1v1h-1zM16.4 9.5h1.3v1.3h-1.3zM57 14h0.6v0.6h-0.6zM32.8 28.1h0.6v0.6h-0.6zM81.6 35.8h1v1h-1zM31 2.8h1.4v1.4h-1.4zM36.1 37.6h1.1v1.1h-1.1zM39 11.3h0.9v0.9h-0.9zM4.7 44.6h0.8v0.8h-0.8zM17.9 21.6h1.1v1.1h-1.1zM25 0.7h1v1h-1zM82.8 32.4h0.7v0.7h-0.7zM77.6 30.3h1.1v1.1h-1.1zM54.6 45.2h1.2v1.2h-1.2zM62.7 47.8h0.9v0.9h-0.9zM54.9 0.4h1.3v1.3h-1.3zM45.7 26.1h1.2v1.2h-1.2zM67.9 46.4h1.2v1.2h-1.2zM79.4 16.2h1v1h-1zM10.3 40h1.2v1.2h-1.2zM50.6 44.4h1.1v1.1h-1.1zM44.9 21.8h1.4v1.4h-1.4zM10.2 22.8h1.2v1.2h-1.2zM84.6 39h0.8v0.8h-0.8zM51.3 40.4h0.9v0.9h-0.9zM15.4 23.5h1.3v1.3h-1.3zM58.4 33.7h0.7v0.7h-0.7zM69.9 16.5h1v1h-1zM78.1 11.2h0.7v0.7h-0.7zM64.3 17.1h0.8v0.8h-0.8zM81.3 32.6h1v1h-1zM9.1 7.2h1.3v1.3h-1.3zM47.5 45.4h0.9v0.9h-0.9zM69.8 7.3h0.6v0.6h-0.6zM20 2.7h0.8v0.8h-0.8zM69.2 12.3h0.9v0.9h-0.9zM71.9 12.1h1.2v1.2h-1.2zM19.4 21.4h1.3v1.3h-1.3zM85.1 45.2h1v1h-1zM34.7 11.3h1.3v1.3h-1.3zM34.3 3.7h1.3v1.3h-1.3zM45.6 38.1h1v1h-1zM76 34.6h0.8v0.8h-0.8zM76 21.9h1.1v1.1h-1.1zM38.1 25.9h1.3v1.3h-1.3zM38.7 7.8h1.4v1.4h-1.4zM6.6 37h1.2v1.2h-1.2z"/></pattern><clipPath id="cK3"><rect x="255" y="884" width="85.6" height="56.4"/></clipPath><clipPath id="cK3b"><polygon points="254,891.5 255,891.5 262,889.5 270,889.5 280,892.5 285,888.5 295,889.5 305,890.5 313,893.5 318,897.5 322,899.5 326,895.5 331,891.5 341,891.5 341.6,891.5 341.6,941.4 254,941.4"/></clipPath><pattern id="p39" patternUnits="userSpaceOnUse" x="0" y="0" width="86" height="57"><path fill="#10209a" d="M77.9 27.6h1.1v1.1h-1.1zM80.6 56.4h0.7v0.7h-0.7zM55 36.8h1.3v1.3h-1.3zM36 18.7h1v1h-1zM44.6 -0.4h1.4v1.4h-1.4zM40.4 18.1h1.4v1.4h-1.4zM25.5 55.9h0.6v0.6h-0.6zM4.6 24h1.1v1.1h-1.1zM44.9 24.4h0.8v0.8h-0.8zM55.9 4.5h0.8v0.8h-0.8zM51.8 46.3h1.1v1.1h-1.1zM10.6 11.5h1.3v1.3h-1.3zM54.3 0.2h1.3v1.3h-1.3zM45 7h0.7v0.7h-0.7zM3.7 33.5h0.6v0.6h-0.6zM13 39.3h0.7v0.7h-0.7zM45.8 26h1.3v1.3h-1.3zM30.9 29.2h0.6v0.6h-0.6zM11.2 1.3h1.2v1.2h-1.2zM42 23.7h1.3v1.3h-1.3zM31.2 34h1.2v1.2h-1.2zM57 54h0.9v0.9h-0.9zM59.9 25.2h1.4v1.4h-1.4zM36 39.9h1v1h-1zM24 5.4h1.1v1.1h-1.1zM16.8 1.2h1v1h-1zM45.2 38.2h1.3v1.3h-1.3zM73.5 46.9h1.2v1.2h-1.2zM28.4 25.6h1.2v1.2h-1.2zM51.2 46.2h1.1v1.1h-1.1zM47.1 7.3h1.1v1.1h-1.1zM61.9 56.3h1.1v1.1h-1.1zM25 18.5h1.1v1.1h-1.1zM44.2 30.1h1.3v1.3h-1.3zM65.6 40.7h1.4v1.4h-1.4zM56.5 4.9h1.2v1.2h-1.2zM35.1 38h1v1h-1zM81 54.4h1.3v1.3h-1.3zM5.2 41.5h0.7v0.7h-0.7zM9.8 48.4h1.2v1.2h-1.2zM15.3 2.1h1.1v1.1h-1.1z"/><path fill="#2a48ff" d="M75.6 4.9h0.7v0.7h-0.7zM50.5 18.7h1.3v1.3h-1.3zM43.1 16.7h1.4v1.4h-1.4zM42.7 0.5h1.2v1.2h-1.2zM11.3 14.8h1.3v1.3h-1.3zM25.8 21.8h0.8v0.8h-0.8zM59.2 24.1h1v1h-1zM55.6 15.4h1.4v1.4h-1.4zM36.5 27.9h1.1v1.1h-1.1zM67.1 31.2h1.3v1.3h-1.3zM25.4 23.8h0.7v0.7h-0.7zM31.6 49.7h1.1v1.1h-1.1zM4.1 43.6h1.4v1.4h-1.4zM54.1 30.2h0.8v0.8h-0.8zM53.2 14.8h1.3v1.3h-1.3zM23.6 55.8h1.4v1.4h-1.4zM38.8 40h1.3v1.3h-1.3zM31.7 22.9h1.2v1.2h-1.2zM75.6 45.6h1.1v1.1h-1.1zM31.9 17.2h1.2v1.2h-1.2zM66 24.8h0.7v0.7h-0.7zM18.3 11.5h1.1v1.1h-1.1zM56.6 6.7h0.6v0.6h-0.6zM8.8 16.3h1.4v1.4h-1.4zM16.3 46.6h1v1h-1zM50.7 11.3h1.1v1.1h-1.1zM12.4 30.5h1.1v1.1h-1.1zM72.3 49.8h0.7v0.7h-0.7zM10.8 45.7h1v1h-1zM22.7 45.2h1.2v1.2h-1.2zM31.7 31.6h1.2v1.2h-1.2zM28.2 6.5h1v1h-1zM52.6 11.8h1.3v1.3h-1.3zM10.7 6.8h0.6v0.6h-0.6zM40.3 34.5h1.2v1.2h-1.2zM1.7 3.7h1v1h-1zM19.4 53.2h0.7v0.7h-0.7zM27.6 21.8h1.1v1.1h-1.1zM38.2 11.9h1.4v1.4h-1.4zM84.7 2.4h0.9v0.9h-0.9zM2.6 53.3h0.7v0.7h-0.7zM54.2 34.6h0.6v0.6h-0.6zM42.9 45.6h1.1v1.1h-1.1z"/><path fill="#1a2fd0" d="M10.2 8.9h0.6v0.6h-0.6zM57.9 47.2h0.9v0.9h-0.9zM78.8 3.3h0.7v0.7h-0.7zM82.7 4h1.2v1.2h-1.2zM27.4 46h1.4v1.4h-1.4zM60.4 47h0.9v0.9h-0.9zM2.7 36.2h1.1v1.1h-1.1zM10.1 39.7h1v1h-1zM2.3 20.4h1.3v1.3h-1.3zM69.3 15.9h0.9v0.9h-0.9zM38.4 5.8h1.4v1.4h-1.4zM40.5 53.2h0.8v0.8h-0.8zM72.6 44.5h1.1v1.1h-1.1zM58.7 6.8h0.8v0.8h-0.8zM80.5 20.5h1v1h-1zM78.5 12.1h0.7v0.7h-0.7zM28.7 0.4h1.4v1.4h-1.4zM22.8 24.6h1.4v1.4h-1.4zM8.8 55.2h1v1h-1zM37.9 40.4h0.7v0.7h-0.7zM12.4 50.5h0.8v0.8h-0.8zM14.7 43.8h0.9v0.9h-0.9zM82 6.4h0.8v0.8h-0.8zM61.1 19.9h0.9v0.9h-0.9zM28.3 14.2h1.3v1.3h-1.3zM58.7 19.8h0.8v0.8h-0.8zM50.3 22h0.9v0.9h-0.9zM43.1 52.6h1.2v1.2h-1.2zM36.2 31.6h0.9v0.9h-0.9zM59.4 29.7h1.4v1.4h-1.4zM81.9 6.2h1v1h-1zM43.8 34.6h0.9v0.9h-0.9zM75.6 18.8h0.6v0.6h-0.6zM55.5 54.3h1v1h-1zM10.6 2.3h0.6v0.6h-0.6zM56.3 1.8h0.7v0.7h-0.7zM34.2 8.3h1.3v1.3h-1.3zM83.6 49.1h1.2v1.2h-1.2zM74 10.7h1.2v1.2h-1.2zM61.1 49.9h1.4v1.4h-1.4zM32.7 6.5h0.7v0.7h-0.7zM74.2 3.7h1.2v1.2h-1.2zM29.3 14h1.2v1.2h-1.2zM0 50.5h1.1v1.1h-1.1zM26.3 15.6h1v1h-1zM21.7 8.3h1.2v1.2h-1.2zM68.2 9h0.7v0.7h-0.7zM10.8 44.4h1.1v1.1h-1.1zM61.2 0.9h0.9v0.9h-0.9z"/><path fill="#2038e8" d="M55.8 43.4h1.1v1.1h-1.1zM17 43.7h1.1v1.1h-1.1zM42.1 52.3h1.2v1.2h-1.2zM0.3 28.1h1.3v1.3h-1.3zM43.4 47.6h1.3v1.3h-1.3zM22.5 12.4h0.9v0.9h-0.9zM60.7 3.7h1.4v1.4h-1.4zM41 30.1h1.1v1.1h-1.1zM41.1 27.3h1.1v1.1h-1.1zM16.5 34.7h1.4v1.4h-1.4zM18.7 2.1h1.3v1.3h-1.3zM80.5 6.5h0.7v0.7h-0.7zM44.5 11.1h1.1v1.1h-1.1zM26.8 14.4h0.9v0.9h-0.9zM12.3 53.2h1.3v1.3h-1.3zM56.3 47.2h1.2v1.2h-1.2zM69 54.1h0.7v0.7h-0.7zM67 3.3h1.3v1.3h-1.3zM8.1 26.4h1.1v1.1h-1.1zM62.8 31.9h1.3v1.3h-1.3zM51.1 15.2h1.4v1.4h-1.4zM78 46.3h1v1h-1zM85.5 12h0.9v0.9h-0.9zM54.5 7.2h1.2v1.2h-1.2zM29.8 1.7h0.7v0.7h-0.7zM17.5 37.9h1v1h-1zM13 28.9h1.2v1.2h-1.2zM72.3 10h1.1v1.1h-1.1zM1.7 27.4h1.2v1.2h-1.2zM25.9 36.3h1.4v1.4h-1.4zM12.2 7.7h1.3v1.3h-1.3zM34.3 20h1v1h-1zM45.8 13.8h1.2v1.2h-1.2zM12.2 5.5h0.7v0.7h-0.7zM40.5 14.9h0.7v0.7h-0.7zM85.2 51.9h1.3v1.3h-1.3zM43.7 33.2h1v1h-1zM0.8 53.6h0.8v0.8h-0.8zM85 12.5h1v1h-1zM79.5 24.4h1.2v1.2h-1.2zM75.3 50.6h0.8v0.8h-0.8zM79 29.9h0.9v0.9h-0.9zM31.9 15.6h0.9v0.9h-0.9zM75.1 40.8h0.8v0.8h-0.8zM70.8 23.7h0.6v0.6h-0.6zM57.3 38.3h0.9v0.9h-0.9zM33 47.5h1.4v1.4h-1.4zM14.5 21.5h0.8v0.8h-0.8zM22.6 51.8h0.7v0.7h-0.7z"/></pattern><pattern id="p40" patternUnits="userSpaceOnUse" x="0" y="0" width="86" height="57"><path fill="#0f8f14" d="M47.7 49.9h1.3v1.3h-1.3zM47.6 29.6h0.8v0.8h-0.8zM80.1 45.5h1v1h-1zM82.1 11.7h1.2v1.2h-1.2zM80.4 23.9h1.3v1.3h-1.3zM42.9 54h0.9v0.9h-0.9zM9.8 46.9h0.9v0.9h-0.9zM45.4 10.8h0.6v0.6h-0.6zM3.6 50.9h1.1v1.1h-1.1zM67.7 29h1.4v1.4h-1.4zM80.5 51h1.4v1.4h-1.4zM40.8 2.9h1v1h-1zM54.2 11.4h1.2v1.2h-1.2zM48.4 48.6h1.3v1.3h-1.3zM62.8 49.7h0.8v0.8h-0.8zM73.1 44.6h1.5v1.5h-1.5zM74.4 8.2h1.4v1.4h-1.4zM8.8 39.4h1v1h-1zM20 40.5h1.2v1.2h-1.2zM74.7 18.3h0.8v0.8h-0.8zM66.8 37.3h0.7v0.7h-0.7zM59.5 22.6h0.6v0.6h-0.6zM28.4 15.8h1.2v1.2h-1.2zM73.1 36.2h0.8v0.8h-0.8zM15 47.5h1.5v1.5h-1.5zM51.3 27.4h0.8v0.8h-0.8zM33.9 8.1h1.3v1.3h-1.3zM77 35.9h1.4v1.4h-1.4zM41.9 29.7h1.1v1.1h-1.1zM28.7 18.5h1.2v1.2h-1.2zM20.1 44.3h1.4v1.4h-1.4zM10 55.9h1v1h-1zM69.4 53.9h1.3v1.3h-1.3zM36.5 49.6h1.1v1.1h-1.1zM62.9 31h1.2v1.2h-1.2zM67.6 15.2h1.3v1.3h-1.3zM75.5 52.6h1.1v1.1h-1.1zM37.7 6.7h0.7v0.7h-0.7zM40.2 49.2h1.1v1.1h-1.1zM84 50.4h1v1h-1zM66.6 55h1.4v1.4h-1.4zM73.2 42h1.3v1.3h-1.3zM70.1 0.4h1.4v1.4h-1.4zM62.1 52.9h1.2v1.2h-1.2zM9.3 6.7h1.1v1.1h-1.1zM40.8 46.7h0.7v0.7h-0.7zM84.1 22h0.9v0.9h-0.9zM57 10.2h1.2v1.2h-1.2zM20.6 28.7h1.5v1.5h-1.5zM75.7 15.8h1.3v1.3h-1.3zM30.7 55.7h1.5v1.5h-1.5zM60.7 44.7h0.8v0.8h-0.8zM71.1 4.9h1v1h-1zM10.4 37.2h1v1h-1zM3.1 31.8h1.3v1.3h-1.3zM2.9 9.2h0.7v0.7h-0.7zM25.8 24.3h0.8v0.8h-0.8zM67.1 20.2h1.2v1.2h-1.2zM78.3 0.2h1.3v1.3h-1.3zM70.5 14h0.6v0.6h-0.6zM75 55.7h1.4v1.4h-1.4zM26.8 43.1h0.7v0.7h-0.7zM51.1 46.6h1.3v1.3h-1.3zM25 10.4h0.9v0.9h-0.9zM6.4 5h1.1v1.1h-1.1zM57 23.2h1.2v1.2h-1.2zM5.6 2.6h0.9v0.9h-0.9zM50.4 41.7h1.3v1.3h-1.3z"/><path fill="#32e23a" d="M12.8 25.3h1.2v1.2h-1.2zM55.9 31h1.3v1.3h-1.3zM23.6 4.1h1.4v1.4h-1.4zM44.7 52.7h1.1v1.1h-1.1zM43.7 9.1h1.4v1.4h-1.4zM9.6 10h1.3v1.3h-1.3zM31.7 23.3h1.2v1.2h-1.2zM14.1 29.6h1.3v1.3h-1.3zM21.6 4.8h1.2v1.2h-1.2zM56.2 13.8h0.8v0.8h-0.8zM38.9 40.9h1.3v1.3h-1.3zM69 30.2h1v1h-1zM2.6 22.6h1.4v1.4h-1.4zM50.6 31.6h1v1h-1zM46.1 12.1h0.7v0.7h-0.7zM9.8 46h0.6v0.6h-0.6zM81.2 12.8h0.8v0.8h-0.8zM82.5 52.3h1.4v1.4h-1.4zM30.1 52.2h1.2v1.2h-1.2zM84 27.3h0.6v0.6h-0.6zM24.4 18.7h1v1h-1zM38.9 37.3h0.8v0.8h-0.8zM21.5 3.1h0.8v0.8h-0.8zM7.9 40.8h0.7v0.7h-0.7zM52.9 47.2h0.7v0.7h-0.7zM61.1 51.5h0.8v0.8h-0.8zM84.5 7.1h0.8v0.8h-0.8zM-0.4 17.6h1.3v1.3h-1.3zM62.1 52.4h0.8v0.8h-0.8zM71.7 36.9h1.1v1.1h-1.1zM68.8 54.7h1v1h-1zM52.2 56h1.1v1.1h-1.1zM2.3 29.6h1.1v1.1h-1.1zM47.1 10.9h1v1h-1zM52.8 33h0.6v0.6h-0.6zM43.1 43.1h1.2v1.2h-1.2zM64.1 22.1h0.8v0.8h-0.8zM73 13h0.7v0.7h-0.7zM46.1 39.3h1.5v1.5h-1.5zM40.7 14.1h0.8v0.8h-0.8zM16.9 24.6h1v1h-1zM50.3 39.4h1.1v1.1h-1.1zM52.5 43.6h1.3v1.3h-1.3zM33.3 6.9h1.3v1.3h-1.3zM53.7 36.8h0.7v0.7h-0.7zM-0.6 35.2h1.3v1.3h-1.3zM76.9 32.7h1.2v1.2h-1.2zM47.9 15.8h0.9v0.9h-0.9zM83.4 24.2h1.2v1.2h-1.2zM7.2 43.7h0.8v0.8h-0.8zM37.1 31.8h0.6v0.6h-0.6zM53.9 7.3h0.7v0.7h-0.7zM36.6 48.2h1.1v1.1h-1.1zM30.4 14.7h1.1v1.1h-1.1zM16.7 26.6h1v1h-1zM60.5 7.9h1.4v1.4h-1.4zM21.3 50.3h1.3v1.3h-1.3zM71.5 37.9h1.3v1.3h-1.3zM43.1 44.6h1.1v1.1h-1.1zM61.9 40h1.3v1.3h-1.3z"/><path fill="#19c81e" d="M80 32.6h1.1v1.1h-1.1zM42.7 41.7h0.7v0.7h-0.7zM61.2 38.4h1.3v1.3h-1.3zM41.9 51.2h1.1v1.1h-1.1zM54.9 25.6h0.7v0.7h-0.7zM69.2 14.6h1v1h-1zM21.7 27.8h1.1v1.1h-1.1zM81.6 53.7h1.2v1.2h-1.2zM51.6 0.7h1.1v1.1h-1.1zM56.9 29.9h1.2v1.2h-1.2zM75.7 43h1.3v1.3h-1.3zM60.6 11.4h1.1v1.1h-1.1zM31.5 39.2h0.9v0.9h-0.9zM31.2 28.9h1.3v1.3h-1.3zM84.7 49.3h1.3v1.3h-1.3zM57.2 52.7h1v1h-1zM22.9 49.8h1.2v1.2h-1.2zM12.8 26.1h1.4v1.4h-1.4zM84.5 25.5h0.9v0.9h-0.9zM72.1 12.8h1v1h-1zM84.8 9.1h0.7v0.7h-0.7zM82.4 41.7h0.6v0.6h-0.6zM72.9 3.2h0.8v0.8h-0.8zM24.2 39.3h1v1h-1zM67.1 13.1h1.2v1.2h-1.2zM10 45.2h1.3v1.3h-1.3zM4.2 30.7h1.3v1.3h-1.3zM42.5 1.9h0.7v0.7h-0.7zM4.3 54.7h1.3v1.3h-1.3zM37.1 1.3h0.7v0.7h-0.7zM72 48.3h1v1h-1zM63.8 3.4h1.1v1.1h-1.1zM72 45.8h1.3v1.3h-1.3zM24 5.1h1.4v1.4h-1.4zM32.3 36h1.4v1.4h-1.4zM52.5 42.2h0.8v0.8h-0.8zM9.8 32.9h0.8v0.8h-0.8zM82 21.8h1v1h-1zM43.4 8h1.2v1.2h-1.2zM51.5 49.7h1v1h-1zM13.9 22.4h0.9v0.9h-0.9zM12.8 27.3h1.4v1.4h-1.4zM20.5 32.2h1v1h-1zM47.3 1.1h0.7v0.7h-0.7zM20.2 14.4h1.5v1.5h-1.5zM30.7 3h0.7v0.7h-0.7zM50.6 28.6h1.1v1.1h-1.1zM26.4 45.6h0.8v0.8h-0.8z"/><path fill="#20b0a0" d="M59.3 39.9h0.9v0.9h-0.9zM42.5 50.7h0.7v0.7h-0.7zM64.3 22.3h0.9v0.9h-0.9zM57.8 48.6h1.3v1.3h-1.3zM58.1 22h0.8v0.8h-0.8zM12.4 3.4h0.8v0.8h-0.8zM44.7 2.9h1.4v1.4h-1.4zM24.2 22.4h1v1h-1zM75.9 10.9h1.3v1.3h-1.3zM73.5 15.4h0.9v0.9h-0.9zM10.2 14h1.4v1.4h-1.4zM68.5 18h0.9v0.9h-0.9zM23.2 21.6h0.9v0.9h-0.9zM21.1 23.3h0.8v0.8h-0.8zM31.4 49.1h1.1v1.1h-1.1zM7.3 38.1h1.5v1.5h-1.5zM29.7 47.6h1v1h-1zM6.3 49.2h0.8v0.8h-0.8zM72.8 28.1h0.7v0.7h-0.7zM11.5 1.3h1.5v1.5h-1.5zM28.4 35.7h0.8v0.8h-0.8zM75.9 38.6h0.7v0.7h-0.7zM71.9 34.1h1.2v1.2h-1.2zM17.7 38.6h1.4v1.4h-1.4zM62.9 50.3h1v1h-1zM65.3 15h1.1v1.1h-1.1zM37.4 4.6h1.1v1.1h-1.1zM77.7 55.5h0.7v0.7h-0.7zM11.5 15.3h0.9v0.9h-0.9zM65.4 3.5h0.9v0.9h-0.9zM68.3 4.8h0.8v0.8h-0.8zM14.5 36.9h0.7v0.7h-0.7zM82.3 7h0.8v0.8h-0.8zM37.2 7h0.9v0.9h-0.9zM38.1 14.4h1v1h-1zM67.5 27h0.6v0.6h-0.6zM23.3 36.8h1.1v1.1h-1.1zM49.8 34.5h0.7v0.7h-0.7zM16.9 2.4h0.9v0.9h-0.9zM62.6 3.2h1.4v1.4h-1.4zM4.4 21.4h1.1v1.1h-1.1zM83.8 2h1.3v1.3h-1.3zM73.3 51.1h0.7v0.7h-0.7zM57 1.8h1v1h-1zM64.5 26.4h0.7v0.7h-0.7zM19.9 18h1.2v1.2h-1.2zM21.8 38.2h1.1v1.1h-1.1zM80.3 2.2h0.8v0.8h-0.8zM-0.1 38h1.5v1.5h-1.5zM84 54.3h0.8v0.8h-0.8zM37.2 7.3h0.7v0.7h-0.7zM70.5 1.8h1.4v1.4h-1.4zM83.9 48.6h1.3v1.3h-1.3zM24.6 54.6h1.3v1.3h-1.3zM37.7 16.5h1.3v1.3h-1.3zM61.6 46.5h1.1v1.1h-1.1zM26.6 33.2h1.1v1.1h-1.1zM56.7 36.2h0.9v0.9h-0.9zM55.2 29.2h1.2v1.2h-1.2zM52.3 34.4h1.5v1.5h-1.5zM34.2 36.8h0.8v0.8h-0.8zM30.6 34.6h0.9v0.9h-0.9zM20.1 19.2h1.4v1.4h-1.4zM7.1 40.3h0.6v0.6h-0.6zM65 23.4h1v1h-1zM78.6 3.7h1v1h-1zM21.3 25.9h1.4v1.4h-1.4z"/></pattern><clipPath id="cK4"><rect x="344" y="884" width="86" height="56.4"/></clipPath><clipPath id="cK4b"><polygon points="343,897.7 344,897.7 353.9,901.1 360.8,900.4 369.1,898.4 374.7,894.9 381.6,892.8 389.9,892.8 398.3,890.7 405.2,890 409.3,887.3 414.9,885.2 423.2,884.5 430,885.2 431,885.2 431,941.4 343,941.4"/></clipPath><pattern id="p41" patternUnits="userSpaceOnUse" x="0" y="0" width="87" height="57"><path fill="#2a48ff" d="M47.2 6.7h0.8v0.8h-0.8zM37.4 42h0.9v0.9h-0.9zM29.9 11.6h1.2v1.2h-1.2zM3.8 45.8h1.2v1.2h-1.2zM26.4 25.2h1.2v1.2h-1.2zM52.8 14.9h0.8v0.8h-0.8zM56.3 34.4h1.2v1.2h-1.2zM44.4 16.1h1.3v1.3h-1.3zM48.3 21.4h0.8v0.8h-0.8zM45.6 6.7h1.1v1.1h-1.1zM67.1 41h0.6v0.6h-0.6zM42 5.4h1.3v1.3h-1.3zM34.3 23.3h1.2v1.2h-1.2zM34.8 8h1v1h-1zM32.3 47.2h1.4v1.4h-1.4zM72.4 9.6h1.2v1.2h-1.2zM12.2 40.8h0.8v0.8h-0.8zM59.9 12.1h0.7v0.7h-0.7zM27.6 55.4h1v1h-1zM4 19.9h0.8v0.8h-0.8zM36.7 6.1h1.2v1.2h-1.2zM4.3 0.5h1.1v1.1h-1.1zM48 37h0.8v0.8h-0.8zM30.3 3.1h1v1h-1zM80.6 27.5h1v1h-1zM49.7 34.3h1.3v1.3h-1.3zM7 27.9h0.7v0.7h-0.7zM12.4 44.7h0.8v0.8h-0.8zM0.7 9.9h0.9v0.9h-0.9zM45.3 22h0.9v0.9h-0.9zM46 31.6h1.2v1.2h-1.2zM74.2 38.3h1.1v1.1h-1.1z"/><path fill="#10209a" d="M73.4 38.7h0.9v0.9h-0.9zM7.5 54.4h1v1h-1zM74.8 45.8h1v1h-1zM48.3 41.1h0.7v0.7h-0.7zM43.4 23.4h1.4v1.4h-1.4zM39.9 7.8h1.2v1.2h-1.2zM39.6 16.3h0.6v0.6h-0.6zM50.3 51.4h0.7v0.7h-0.7zM50.1 21.6h1.1v1.1h-1.1zM51.8 7.4h1.3v1.3h-1.3zM53.3 45.8h0.9v0.9h-0.9zM16.9 3.3h1.4v1.4h-1.4zM68.7 37.1h0.8v0.8h-0.8zM83.9 43.7h1.3v1.3h-1.3zM54.7 50.5h0.9v0.9h-0.9zM31.9 52h1.1v1.1h-1.1zM79.4 8.5h1v1h-1zM76.7 35.8h0.9v0.9h-0.9zM22 8.4h1.4v1.4h-1.4zM21.6 30.5h1.2v1.2h-1.2zM30.8 24.4h0.6v0.6h-0.6zM47 34.1h1.3v1.3h-1.3zM74.2 -0.6h1.3v1.3h-1.3zM18.3 17.2h1.1v1.1h-1.1zM14.4 48.5h1.3v1.3h-1.3zM50.5 49h0.8v0.8h-0.8zM38.1 37.6h1.2v1.2h-1.2zM14 27.5h1.2v1.2h-1.2zM5.2 31.8h0.7v0.7h-0.7zM40 3.4h1.1v1.1h-1.1zM68.3 27.4h1.2v1.2h-1.2zM62.4 8.2h0.8v0.8h-0.8zM7.2 50.8h0.9v0.9h-0.9zM78.8 14.9h1v1h-1zM43.7 33.7h1.2v1.2h-1.2zM28.3 4.9h1v1h-1zM73.3 23.2h0.6v0.6h-0.6zM72.5 52.9h1.3v1.3h-1.3zM78.6 34h1.3v1.3h-1.3zM35.9 31.8h0.9v0.9h-0.9zM85.8 6.7h0.8v0.8h-0.8zM23.4 45.2h0.7v0.7h-0.7z"/><path fill="#1a2fd0" d="M36.6 46.9h1.4v1.4h-1.4zM30.1 22.6h0.7v0.7h-0.7zM63.8 44.4h1v1h-1zM67 23.5h0.6v0.6h-0.6zM65.4 18.3h1v1h-1zM56.2 50.8h0.8v0.8h-0.8zM57.3 9h0.9v0.9h-0.9zM55.2 28h0.9v0.9h-0.9zM41.5 29.7h0.7v0.7h-0.7zM36 50.1h1v1h-1zM83.7 46.4h0.7v0.7h-0.7zM61.7 12.7h0.8v0.8h-0.8zM45.5 1.8h0.9v0.9h-0.9zM50.4 51.5h1.3v1.3h-1.3zM71 22.1h0.7v0.7h-0.7zM81.8 22h1.3v1.3h-1.3zM19.8 18.3h1.1v1.1h-1.1zM62.8 45.8h1.3v1.3h-1.3zM36.5 22.5h1.2v1.2h-1.2zM30.6 56.4h0.9v0.9h-0.9zM39.2 40.3h1.2v1.2h-1.2zM40.8 44.4h0.8v0.8h-0.8zM38.9 55.7h1.4v1.4h-1.4zM4.3 27.6h0.7v0.7h-0.7zM50.9 19.1h0.9v0.9h-0.9zM20.4 9h1.1v1.1h-1.1zM59.6 32h1v1h-1zM14.8 18.2h1.3v1.3h-1.3zM19.9 17h1.3v1.3h-1.3zM56.6 36.1h0.7v0.7h-0.7zM65 36.6h0.8v0.8h-0.8zM36.8 42.1h1v1h-1zM33.5 33.2h1.3v1.3h-1.3zM77.8 16.9h1v1h-1zM49.7 1.4h0.9v0.9h-0.9zM40.9 25h1v1h-1zM75.1 55.7h0.9v0.9h-0.9zM82.7 32h0.8v0.8h-0.8zM30.8 24.9h1v1h-1zM38.3 19h1.2v1.2h-1.2zM26 17h1.1v1.1h-1.1zM36.6 47.5h0.9v0.9h-0.9zM51.7 20.6h1.2v1.2h-1.2zM54 44.5h1.1v1.1h-1.1zM35.6 34.3h1.3v1.3h-1.3zM15.6 6.6h1.2v1.2h-1.2zM16.4 5.3h0.7v0.7h-0.7zM50.4 12.2h0.7v0.7h-0.7zM31.3 22.3h0.9v0.9h-0.9zM81.8 17.6h1.4v1.4h-1.4zM47.5 47.2h0.7v0.7h-0.7z"/><path fill="#2038e8" d="M40.2 36.3h0.7v0.7h-0.7zM3.2 54.5h0.6v0.6h-0.6zM3.2 25.3h0.8v0.8h-0.8zM49.3 11.2h1v1h-1zM2.9 36.7h1.1v1.1h-1.1zM17.4 10.4h0.9v0.9h-0.9zM59.5 9.2h0.8v0.8h-0.8zM31.4 23.2h1v1h-1zM53.8 17.6h1.1v1.1h-1.1zM25.4 2.6h0.9v0.9h-0.9zM53.2 0.4h0.8v0.8h-0.8zM16.6 35.9h1.1v1.1h-1.1zM33.8 21.2h0.6v0.6h-0.6zM77.4 20.6h1.2v1.2h-1.2zM81.6 44.2h1.4v1.4h-1.4zM48.1 4.4h1.2v1.2h-1.2zM66.4 5.6h1v1h-1zM69.1 10.1h1.2v1.2h-1.2zM80.1 23h0.7v0.7h-0.7zM1.5 26.9h0.8v0.8h-0.8zM85.4 13.9h0.6v0.6h-0.6zM6.6 31.5h1.3v1.3h-1.3zM85.6 13.1h1.3v1.3h-1.3zM69.2 45.6h0.6v0.6h-0.6zM39.6 40.6h0.7v0.7h-0.7zM2.4 7.6h1.1v1.1h-1.1zM83.8 38.8h1.2v1.2h-1.2zM41.2 4.8h1v1h-1zM33 56.3h0.8v0.8h-0.8zM7.5 19.1h1.2v1.2h-1.2zM81.3 16.1h1.2v1.2h-1.2zM21.9 30.5h1.3v1.3h-1.3zM44 29.3h0.9v0.9h-0.9zM77.5 53.7h0.8v0.8h-0.8zM57.8 15.3h0.9v0.9h-0.9zM79.9 22.2h1.3v1.3h-1.3zM1.2 9h1.1v1.1h-1.1zM55.5 48.7h1.1v1.1h-1.1zM79.6 56.4h1.1v1.1h-1.1zM11.4 33.6h0.9v0.9h-0.9zM23.6 0.7h1v1h-1zM36.9 11.1h1.3v1.3h-1.3zM47.8 1.4h1.2v1.2h-1.2zM38.4 42.1h0.9v0.9h-0.9zM48.4 38.2h0.7v0.7h-0.7zM17.2 2.8h0.8v0.8h-0.8zM27.2 1.2h0.8v0.8h-0.8zM75.9 33.7h0.8v0.8h-0.8z"/></pattern><pattern id="p42" patternUnits="userSpaceOnUse" x="0" y="0" width="87" height="57"><path fill="#20b0a0" d="M70.5 3.5h0.7v0.7h-0.7zM70.1 41.7h1v1h-1zM40.4 55.3h0.8v0.8h-0.8zM61.4 8.8h1.4v1.4h-1.4zM85.3 36.5h1.1v1.1h-1.1zM27 27.4h1.4v1.4h-1.4zM34 46.3h1.2v1.2h-1.2zM56.2 51.8h0.7v0.7h-0.7zM45.9 27.9h1.3v1.3h-1.3zM19.2 36h0.8v0.8h-0.8zM37.9 32.1h1v1h-1zM65.8 45.6h0.7v0.7h-0.7zM74.7 53.6h0.6v0.6h-0.6zM45.3 40.9h1v1h-1zM1 12.7h0.6v0.6h-0.6zM80.4 43.4h0.7v0.7h-0.7zM50.6 27h1v1h-1zM73.2 8.1h1.1v1.1h-1.1zM7.1 43.4h1.2v1.2h-1.2zM61.6 3.4h0.7v0.7h-0.7zM32 40.8h1.1v1.1h-1.1zM6.4 37.5h0.8v0.8h-0.8zM37.5 14.6h1.1v1.1h-1.1zM69.4 45.5h1.1v1.1h-1.1zM17.8 19.9h0.8v0.8h-0.8zM42.3 43.2h1.2v1.2h-1.2zM13.3 38.1h1v1h-1zM66.6 1.1h0.9v0.9h-0.9zM56.7 17h1.5v1.5h-1.5zM54.4 38.6h0.7v0.7h-0.7zM50.9 -0.5h1.5v1.5h-1.5z"/><path fill="#19c81e" d="M47 56.1h0.9v0.9h-0.9zM28.1 50.9h0.9v0.9h-0.9zM65.3 5.5h1v1h-1zM31.5 3.5h0.9v0.9h-0.9zM65.3 30.4h0.7v0.7h-0.7zM18.4 51.6h1v1h-1zM64.4 28.5h0.8v0.8h-0.8zM55.9 11.9h1v1h-1zM69 29.8h1.3v1.3h-1.3zM71.2 47.6h1.5v1.5h-1.5zM0.3 44.9h1.2v1.2h-1.2zM72.8 8.6h0.6v0.6h-0.6zM57.1 29.7h0.7v0.7h-0.7zM28.1 38.5h1.3v1.3h-1.3zM60.7 54.6h0.7v0.7h-0.7zM55.3 46.2h1.3v1.3h-1.3zM58.6 54.8h0.6v0.6h-0.6zM62.4 30.4h1.2v1.2h-1.2zM40.6 36.3h1.1v1.1h-1.1zM68.7 54.4h0.8v0.8h-0.8zM46.5 30.5h1v1h-1zM51.5 26.3h0.8v0.8h-0.8zM33.1 31.8h1v1h-1zM36.4 27.7h1.3v1.3h-1.3z"/><path fill="#32e23a" d="M54.6 38.4h0.7v0.7h-0.7zM22.2 37.7h1.2v1.2h-1.2zM29.2 38.1h1.5v1.5h-1.5zM17.8 3.3h1v1h-1zM35.5 0.8h0.7v0.7h-0.7zM52.1 44h1v1h-1zM23.9 31.2h0.7v0.7h-0.7zM82.3 43.4h1.4v1.4h-1.4zM57.6 22.2h0.8v0.8h-0.8zM33.9 44.1h1.3v1.3h-1.3zM62.6 9.4h0.7v0.7h-0.7zM62.6 22.5h1v1h-1zM2.3 11.7h1.2v1.2h-1.2zM79.3 50.2h1.4v1.4h-1.4zM75.8 52.9h1.1v1.1h-1.1zM0.4 30.2h0.7v0.7h-0.7zM46.6 22.3h0.9v0.9h-0.9zM35.7 16.3h0.9v0.9h-0.9zM63.6 49.5h0.9v0.9h-0.9zM11 20.4h0.7v0.7h-0.7zM69.2 54.4h0.8v0.8h-0.8zM40.6 24.4h0.7v0.7h-0.7zM78.3 28.6h0.6v0.6h-0.6zM49.6 47.7h0.9v0.9h-0.9zM33.3 47.7h1.2v1.2h-1.2zM40.9 1.3h1v1h-1zM72.7 19.7h1v1h-1z"/><path fill="#0f8f14" d="M46.9 36h1.4v1.4h-1.4zM80.5 11.5h1.4v1.4h-1.4zM35.9 28h1v1h-1zM35.4 34.6h0.8v0.8h-0.8zM36.6 38.8h0.8v0.8h-0.8zM27.3 26.8h1.3v1.3h-1.3zM19.4 40.9h0.9v0.9h-0.9zM1.3 55.1h1.1v1.1h-1.1zM51.7 21.4h1.3v1.3h-1.3zM76.7 49.1h1.5v1.5h-1.5zM48.5 14.3h0.8v0.8h-0.8zM34.7 17.4h1.3v1.3h-1.3zM45.4 49.3h1.2v1.2h-1.2zM30.4 13.6h1.1v1.1h-1.1zM34.7 17.6h1.1v1.1h-1.1zM3.1 12.3h0.8v0.8h-0.8zM25.5 35.4h1.3v1.3h-1.3zM47.9 42.6h0.7v0.7h-0.7zM58.8 29.3h0.8v0.8h-0.8zM50.5 7.2h0.9v0.9h-0.9zM57.7 12.4h0.7v0.7h-0.7zM63.9 8.9h1.4v1.4h-1.4zM53.6 13.6h1.2v1.2h-1.2zM67 16.1h0.8v0.8h-0.8zM40.6 43.8h1.3v1.3h-1.3zM69.7 50.7h1.3v1.3h-1.3zM80 32.2h0.7v0.7h-0.7zM26.8 17.4h1.2v1.2h-1.2zM26.8 37h0.9v0.9h-0.9zM83.7 42.9h1.1v1.1h-1.1z"/></pattern></defs><rect width="685" height="952" fill="#fff"/><text x="-0.4" y="12" font-size="16.4" font-weight="bold" fill="#1a1a1a" transform="translate(-0.4 12) scale(1 1.07) translate(0.4 -12)">A</text>
<text x="16" y="27" font-size="9.3" text-anchor="start" font-style="italic" fill="#231f20">Expander</text>
<path d="M34.2,30 L34.2,37.6 M31.6,34.8 L34.2,37.6 L36.8,34.8" fill="none" stroke="#222" stroke-width="0.8"/>
<text x="60" y="24" font-size="10.8" text-anchor="start" fill="#c8323c">Yoda1</text>
<text x="60.5" y="34" font-size="8.2" text-anchor="start" fill="#c8323c">Topical, 3.55 µg</text>
<text x="135.5" y="28" font-size="11" text-anchor="start" fill="#29abe2">Sample</text>
<path d="M154.4,29.5 L154.4,37.3 M151.6,34.4 L154.4,37.3 L157.2,34.4" fill="none" stroke="#29abe2" stroke-width="0.9"/>
<line x1="34.2" y1="49.6" x2="188" y2="49.6" stroke="#555" stroke-width="1.2"/>
<polyline points="183,46.6 188.3,49.6 183,52.6" fill="none" stroke="#3a3a3a" stroke-width="1"/>
<line x1="34.2" y1="44.3" x2="34.2" y2="49.6" stroke="#3a3a3a" stroke-width="1"/>
<line x1="154.4" y1="44.3" x2="154.4" y2="49.6" stroke="#3a3a3a" stroke-width="1"/>
<line x1="72.4" y1="42.5" x2="72.4" y2="49.6" stroke="#3a3a3a" stroke-width="1"/>
<line x1="121.4" y1="42.5" x2="121.4" y2="49.6" stroke="#3a3a3a" stroke-width="1"/>
<line x1="60" y1="42.6" x2="60" y2="49.6" stroke="#222" stroke-width="0.8" stroke-dasharray="1.1,1.2"/>
<path d="M57.2,37.3 Q58.6,38.4 60,38.1 Q61.4,38.4 62.8,37.3 L60,40.9 Z M59.45,36.3 h1.1 v2.2 h-1.1 Z" fill="#c8323c" stroke="none" stroke-width="1"/>
<line x1="66.4" y1="42.6" x2="66.4" y2="49.6" stroke="#222" stroke-width="0.8" stroke-dasharray="1.1,1.2"/>
<path d="M63.6,37.3 Q65,38.4 66.4,38.1 Q67.8,38.4 69.2,37.3 L66.4,40.9 Z M65.85,36.3 h1.1 v2.2 h-1.1 Z" fill="#c8323c" stroke="none" stroke-width="1"/>
<path d="M69.6,37.3 Q71,38.4 72.4,38.1 Q73.8,38.4 75.2,37.3 L72.4,40.9 Z M71.85,36.3 h1.1 v2.2 h-1.1 Z" fill="#c8323c" stroke="none" stroke-width="1"/>
<line x1="81.2" y1="42.6" x2="81.2" y2="49.6" stroke="#222" stroke-width="0.8" stroke-dasharray="1.1,1.2"/>
<path d="M78.4,37.3 Q79.8,38.4 81.2,38.1 Q82.6,38.4 84,37.3 L81.2,40.9 Z M80.65,36.3 h1.1 v2.2 h-1.1 Z" fill="#c8323c" stroke="none" stroke-width="1"/>
<line x1="91.5" y1="42.6" x2="91.5" y2="49.6" stroke="#222" stroke-width="0.8" stroke-dasharray="1.1,1.2"/>
<path d="M88.7,37.3 Q90.1,38.4 91.5,38.1 Q92.9,38.4 94.3,37.3 L91.5,40.9 Z M90.95,36.3 h1.1 v2.2 h-1.1 Z" fill="#c8323c" stroke="none" stroke-width="1"/>
<line x1="102" y1="42.6" x2="102" y2="49.6" stroke="#222" stroke-width="0.8" stroke-dasharray="1.1,1.2"/>
<path d="M99.2,37.3 Q100.6,38.4 102,38.1 Q103.4,38.4 104.8,37.3 L102,40.9 Z M101.45,36.3 h1.1 v2.2 h-1.1 Z" fill="#c8323c" stroke="none" stroke-width="1"/>
<line x1="111" y1="42.6" x2="111" y2="49.6" stroke="#222" stroke-width="0.8" stroke-dasharray="1.1,1.2"/>
<path d="M108.2,37.3 Q109.6,38.4 111,38.1 Q112.4,38.4 113.8,37.3 L111,40.9 Z M110.45,36.3 h1.1 v2.2 h-1.1 Z" fill="#c8323c" stroke="none" stroke-width="1"/>
<path d="M118.6,37.3 Q120,38.4 121.4,38.1 Q122.8,38.4 124.2,37.3 L121.4,40.9 Z M120.85,36.3 h1.1 v2.2 h-1.1 Z" fill="#c8323c" stroke="none" stroke-width="1"/>
<line x1="129.4" y1="42.6" x2="129.4" y2="49.6" stroke="#222" stroke-width="0.8" stroke-dasharray="1.1,1.2"/>
<path d="M126.6,37.3 Q128,38.4 129.4,38.1 Q130.8,38.4 132.2,37.3 L129.4,40.9 Z M128.85,36.3 h1.1 v2.2 h-1.1 Z" fill="#c8323c" stroke="none" stroke-width="1"/>
<line x1="138" y1="42.6" x2="138" y2="49.6" stroke="#222" stroke-width="0.8" stroke-dasharray="1.1,1.2"/>
<path d="M135.2,37.3 Q136.6,38.4 138,38.1 Q139.4,38.4 140.8,37.3 L138,40.9 Z M137.45,36.3 h1.1 v2.2 h-1.1 Z" fill="#c8323c" stroke="none" stroke-width="1"/>
<text x="33.5" y="61.8" font-size="10.6" text-anchor="middle" fill="#231f20">D-0</text>
<text x="73.6" y="61.8" font-size="10.6" text-anchor="middle" fill="#231f20">I-0</text>
<text x="122" y="61.8" font-size="10.6" text-anchor="middle" fill="#231f20">PI-0</text>
<text x="153.2" y="61.8" font-size="10.6" text-anchor="middle" fill="#231f20">PI-7</text>
<text x="122.3" y="76.2" font-size="10.6" text-anchor="middle" fill="#231f20">(I-10)</text>
<text x="70.3" y="96.2" font-size="9.8" text-anchor="middle" fill="#231f20">Control</text>
<text x="139.4" y="96.2" font-size="9.8" text-anchor="middle" fill="#231f20">Yoda1</text>
<g clip-path="url(#clipA1)">
<rect x="29.6" y="97.3" width="69.1" height="77.5" fill="#eeeae9" stroke="none" stroke-width="1"/>
<rect x="29.6" y="97.3" width="14" height="77.5" fill="#f6f4f4" stroke="none" stroke-width="1"/>
<path d="M45,124 C44,112 49,101 56,97.3 L78,97.3 C78,101 70,104 62,108 C57,112 54,118 52,124 Z" fill="#3e393a" stroke="none" stroke-width="1"/>
<path d="M46,168 L52,175 L40,175 Z" fill="#5a3030" stroke="none" stroke-width="1"/>
<ellipse cx="61.7" cy="140.3" rx="23.8" ry="23.6" fill="#a99fa3"/>
<ellipse cx="60" cy="138" rx="16" ry="16" fill="#c6bfc2" opacity="0.8"/>
<rect x="48" y="131" width="12" height="10" fill="#e2dde0" stroke="none" stroke-width="1"/>
<rect x="61.5" y="131" width="10" height="10" fill="#dcd6d9" stroke="none" stroke-width="1"/>
<rect x="48" y="143.5" width="12" height="9.5" fill="#cbbcbd" stroke="none" stroke-width="1"/>
<rect x="61.5" y="143.5" width="10" height="9.5" fill="#d6cfd2" stroke="none" stroke-width="1"/>
<rect x="49" y="120" width="12" height="9" fill="#d8d2d5" stroke="none" stroke-width="1"/>
<rect x="62" y="120" width="11" height="9" fill="#d2cbce" stroke="none" stroke-width="1"/>
<rect x="37" y="116" width="49" height="49" fill="url(#p0)" opacity="0.45" clip-path="url(#cA1d)"/>
<path d="M46.8,130 L72.5,131 L72,154.5 L47.5,154 Z M60.5,130.5 L60.8,154.2 M47,142.5 L72.2,143" fill="none" stroke="#1c1a1b" stroke-width="1.4"/>
<path d="M49,120 L73.5,121.5 M49,120 L47.5,130 M62,120 L61,130.5 M73.5,121.5 L72.5,131 M48,125 L73,126" fill="none" stroke="#b3342f" stroke-width="0.6"/>
<path d="M52.5,112 C51,104 56,99.5 64,99.5 C75,100 88,101 98.7,103 L98.7,175 L83,175 C80,170 84,160 85,150 C86,140 84,131 79,127 C72,122 62,119 55,117 Z" fill="#35a2ea" stroke="none" stroke-width="1"/>
<path d="M83,128 C90,132 92,145 89,160 L86,172 L82,172 C84,160 86,140 83,128 Z" fill="#1778bd" stroke="none" stroke-width="1" opacity="0.6"/>
<path d="M47,167 C48,161 56,161 62,163 C70,165 78,166 84,170 L85,175 L48,175 C46,173 46,170 47,167 Z" fill="#35a2ea" stroke="none" stroke-width="1"/>
<path d="M56,104 C66,102 80,104 96,106" fill="none" stroke="#5fb8ef" stroke-width="1.2" opacity="0.6"/>
</g>
<g clip-path="url(#clipA2)">
<rect x="104.6" y="97.3" width="69" height="77.5" fill="#f4f2f2" stroke="none" stroke-width="1"/>
<rect x="104.6" y="163" width="69" height="12" fill="#eceaeb" stroke="none" stroke-width="1"/>
<rect x="171.8" y="97.3" width="2" height="14" fill="#7080b0" stroke="none" stroke-width="1"/>
<path d="M104.6,150.5 L116,152 L116,156 L104.6,156 Z" fill="#b85a55" stroke="none" stroke-width="1"/>
<path d="M148,160 L153,160 L155,174 L150,174 Z" fill="#a88a84" stroke="none" stroke-width="1"/>
<path d="M158,161 L172,162.5 L172,165.5 L158,165 Z" fill="#ad8c88" stroke="none" stroke-width="1"/>
<ellipse cx="138" cy="128" rx="22" ry="22" fill="#5e565b"/>
<ellipse cx="157" cy="147" rx="8.5" ry="13" fill="#423c3f"/>
<ellipse cx="124" cy="126" rx="6" ry="10" fill="#5a5257"/>
<ellipse cx="137" cy="117" rx="16" ry="9" fill="#6c6369"/>
<ellipse cx="142" cy="115.5" rx="4" ry="3.5" fill="#b9a0a5"/>
<ellipse cx="134.5" cy="106" rx="8.5" ry="4.6" fill="#1b1718"/>
<ellipse cx="122.5" cy="107.5" rx="5.4" ry="3.3" fill="#b4a080" transform="rotate(18 122.5 107.5)"/>
<ellipse cx="146.3" cy="104.8" rx="4.4" ry="4.6" fill="#b4a080"/>
<ellipse cx="134.5" cy="144.4" rx="22.4" ry="23.4" fill="#aa9ca1"/>
<ellipse cx="131" cy="147" rx="16" ry="15" fill="#b7abaf" opacity="0.8"/>
<path d="M114,137 C120,135 126,136 130,134 C135,137 140,136 144,134 L145,146 L146,158 C138,160 130,161 124,159 C118,155 114,148 114,137 Z" fill="none" stroke="#4a2f3a" stroke-width="0.7"/>
</g>
<rect x="29.6" y="97.3" width="69.1" height="84.2" fill="none" stroke="#8a8a8a" stroke-width="0.9"/>
<rect x="104.6" y="97.3" width="69" height="84.2" fill="none" stroke="#8a8a8a" stroke-width="0.9"/>
<text x="196.8" y="12" font-size="16.4" font-weight="bold" fill="#1a1a1a" transform="translate(196.8 12) scale(1 1.07) translate(-196.8 -12)">B</text>
<text x="290" y="18" font-size="9.3" text-anchor="middle" fill="#231f20">Skin area change</text>
<line x1="229.4" y1="120.2" x2="360" y2="120.2" stroke="#d9d9d9" stroke-width="0.7"/>
<line x1="229.4" y1="101.4" x2="360" y2="101.4" stroke="#d9d9d9" stroke-width="0.7"/>
<line x1="229.4" y1="82.6" x2="360" y2="82.6" stroke="#d9d9d9" stroke-width="0.7"/>
<line x1="229.4" y1="63.8" x2="360" y2="63.8" stroke="#d9d9d9" stroke-width="0.7"/>
<polygon points="236,115.5 249.22,101.4 262.44,95.76 275.66,88.71 288.88,78.84 302.1,65.21 315.32,57.69 328.54,54.87 341.76,45.47 354.98,45 354.98,66.62 341.76,65.21 328.54,74.14 315.32,83.54 302.1,88.71 288.88,91.06 275.66,96.7 262.44,104.69 249.22,109.39 236,115.5" fill="#b01b1b" stroke="none" stroke-width="1"/>
<polygon points="236,139 236,115.5 249.22,109.39 262.44,104.69 275.66,96.7 288.88,91.06 302.1,88.71 315.32,83.54 328.54,74.14 341.76,65.21 354.98,66.62 354.98,139" fill="#5e5e5e" stroke="none" stroke-width="1"/>
<polyline points="236,115.5 249.22,101.4 262.44,95.76 275.66,88.71 288.88,78.84 302.1,65.21 315.32,57.69 328.54,54.87 341.76,45.47 354.98,45" fill="none" stroke="#c42020" stroke-width="1"/>
<polyline points="236,115.5 249.22,109.39 262.44,104.69 275.66,96.7 288.88,91.06 302.1,88.71 315.32,83.54 328.54,74.14 341.76,65.21 354.98,66.62" fill="none" stroke="#111" stroke-width="1" stroke-dasharray="2.2,1.4"/>
<line x1="236" y1="116.44" x2="236" y2="114.56" stroke="#e03a3a" stroke-width="0.8"/>
<line x1="234.2" y1="114.56" x2="237.8" y2="114.56" stroke="#e03a3a" stroke-width="0.8"/>
<line x1="234.2" y1="116.44" x2="237.8" y2="116.44" stroke="#e03a3a" stroke-width="0.8"/>
<line x1="234.2" y1="115.5" x2="237.8" y2="115.5" stroke="#e03a3a" stroke-width="0.8"/>
<circle cx="236" cy="115.5" r="1.6" fill="#fff" stroke="#d42a2a" stroke-width="0.9"/>
<line x1="249.22" y1="102.81" x2="249.22" y2="99.99" stroke="#e03a3a" stroke-width="0.8"/>
<line x1="247.42" y1="99.99" x2="251.02" y2="99.99" stroke="#e03a3a" stroke-width="0.8"/>
<line x1="247.42" y1="102.81" x2="251.02" y2="102.81" stroke="#e03a3a" stroke-width="0.8"/>
<line x1="247.42" y1="101.4" x2="251.02" y2="101.4" stroke="#e03a3a" stroke-width="0.8"/>
<circle cx="249.22" cy="101.4" r="1.6" fill="#fff" stroke="#d42a2a" stroke-width="0.9"/>
<line x1="262.44" y1="96.89" x2="262.44" y2="94.63" stroke="#e03a3a" stroke-width="0.8"/>
<line x1="260.64" y1="94.63" x2="264.24" y2="94.63" stroke="#e03a3a" stroke-width="0.8"/>
<line x1="260.64" y1="96.89" x2="264.24" y2="96.89" stroke="#e03a3a" stroke-width="0.8"/>
<line x1="260.64" y1="95.76" x2="264.24" y2="95.76" stroke="#e03a3a" stroke-width="0.8"/>
<circle cx="262.44" cy="95.76" r="1.6" fill="#fff" stroke="#d42a2a" stroke-width="0.9"/>
<line x1="275.66" y1="90.12" x2="275.66" y2="87.3" stroke="#e03a3a" stroke-width="0.8"/>
<line x1="273.86" y1="87.3" x2="277.46" y2="87.3" stroke="#e03a3a" stroke-width="0.8"/>
<line x1="273.86" y1="90.12" x2="277.46" y2="90.12" stroke="#e03a3a" stroke-width="0.8"/>
<line x1="273.86" y1="88.71" x2="277.46" y2="88.71" stroke="#e03a3a" stroke-width="0.8"/>
<circle cx="275.66" cy="88.71" r="1.6" fill="#fff" stroke="#d42a2a" stroke-width="0.9"/>
<line x1="288.88" y1="80.25" x2="288.88" y2="77.43" stroke="#e03a3a" stroke-width="0.8"/>
<line x1="287.08" y1="77.43" x2="290.68" y2="77.43" stroke="#e03a3a" stroke-width="0.8"/>
<line x1="287.08" y1="80.25" x2="290.68" y2="80.25" stroke="#e03a3a" stroke-width="0.8"/>
<line x1="287.08" y1="78.84" x2="290.68" y2="78.84" stroke="#e03a3a" stroke-width="0.8"/>
<circle cx="288.88" cy="78.84" r="1.6" fill="#fff" stroke="#d42a2a" stroke-width="0.9"/>
<line x1="302.1" y1="67.56" x2="302.1" y2="62.86" stroke="#e03a3a" stroke-width="0.8"/>
<line x1="300.3" y1="62.86" x2="303.9" y2="62.86" stroke="#e03a3a" stroke-width="0.8"/>
<line x1="300.3" y1="67.56" x2="303.9" y2="67.56" stroke="#e03a3a" stroke-width="0.8"/>
<line x1="300.3" y1="65.21" x2="303.9" y2="65.21" stroke="#e03a3a" stroke-width="0.8"/>
<circle cx="302.1" cy="65.21" r="1.6" fill="#fff" stroke="#d42a2a" stroke-width="0.9"/>
<line x1="315.32" y1="59.57" x2="315.32" y2="55.81" stroke="#e03a3a" stroke-width="0.8"/>
<line x1="313.52" y1="55.81" x2="317.12" y2="55.81" stroke="#e03a3a" stroke-width="0.8"/>
<line x1="313.52" y1="59.57" x2="317.12" y2="59.57" stroke="#e03a3a" stroke-width="0.8"/>
<line x1="313.52" y1="57.69" x2="317.12" y2="57.69" stroke="#e03a3a" stroke-width="0.8"/>
<circle cx="315.32" cy="57.69" r="1.6" fill="#fff" stroke="#d42a2a" stroke-width="0.9"/>
<line x1="328.54" y1="57.22" x2="328.54" y2="52.52" stroke="#e03a3a" stroke-width="0.8"/>
<line x1="326.74" y1="52.52" x2="330.34" y2="52.52" stroke="#e03a3a" stroke-width="0.8"/>
<line x1="326.74" y1="57.22" x2="330.34" y2="57.22" stroke="#e03a3a" stroke-width="0.8"/>
<line x1="326.74" y1="54.87" x2="330.34" y2="54.87" stroke="#e03a3a" stroke-width="0.8"/>
<circle cx="328.54" cy="54.87" r="1.6" fill="#fff" stroke="#d42a2a" stroke-width="0.9"/>
<line x1="341.76" y1="49.23" x2="341.76" y2="41.71" stroke="#e03a3a" stroke-width="0.8"/>
<line x1="339.96" y1="41.71" x2="343.56" y2="41.71" stroke="#e03a3a" stroke-width="0.8"/>
<line x1="339.96" y1="49.23" x2="343.56" y2="49.23" stroke="#e03a3a" stroke-width="0.8"/>
<line x1="339.96" y1="45.47" x2="343.56" y2="45.47" stroke="#e03a3a" stroke-width="0.8"/>
<circle cx="341.76" cy="45.47" r="1.6" fill="#fff" stroke="#d42a2a" stroke-width="0.9"/>
<line x1="354.98" y1="48.76" x2="354.98" y2="41.24" stroke="#e03a3a" stroke-width="0.8"/>
<line x1="353.18" y1="41.24" x2="356.78" y2="41.24" stroke="#e03a3a" stroke-width="0.8"/>
<line x1="353.18" y1="48.76" x2="356.78" y2="48.76" stroke="#e03a3a" stroke-width="0.8"/>
<line x1="353.18" y1="45" x2="356.78" y2="45" stroke="#e03a3a" stroke-width="0.8"/>
<circle cx="354.98" cy="45" r="1.6" fill="#fff" stroke="#d42a2a" stroke-width="0.9"/>
<line x1="236" y1="116.44" x2="236" y2="114.56" stroke="#111" stroke-width="0.8"/>
<line x1="234.2" y1="114.56" x2="237.8" y2="114.56" stroke="#111" stroke-width="0.8"/>
<line x1="234.2" y1="116.44" x2="237.8" y2="116.44" stroke="#111" stroke-width="0.8"/>
<line x1="234.2" y1="115.5" x2="237.8" y2="115.5" stroke="#111" stroke-width="0.8"/>
<circle cx="236" cy="115.5" r="1.7" fill="#222" stroke="#000" stroke-width="0.8"/>
<circle cx="236" cy="115.5" r="0.55" fill="#777" stroke="none" stroke-width="1"/>
<line x1="249.22" y1="110.33" x2="249.22" y2="108.45" stroke="#111" stroke-width="0.8"/>
<line x1="247.42" y1="108.45" x2="251.02" y2="108.45" stroke="#111" stroke-width="0.8"/>
<line x1="247.42" y1="110.33" x2="251.02" y2="110.33" stroke="#111" stroke-width="0.8"/>
<line x1="247.42" y1="109.39" x2="251.02" y2="109.39" stroke="#111" stroke-width="0.8"/>
<circle cx="249.22" cy="109.39" r="1.7" fill="#222" stroke="#000" stroke-width="0.8"/>
<circle cx="249.22" cy="109.39" r="0.55" fill="#777" stroke="none" stroke-width="1"/>
<line x1="262.44" y1="106.1" x2="262.44" y2="103.28" stroke="#111" stroke-width="0.8"/>
<line x1="260.64" y1="103.28" x2="264.24" y2="103.28" stroke="#111" stroke-width="0.8"/>
<line x1="260.64" y1="106.1" x2="264.24" y2="106.1" stroke="#111" stroke-width="0.8"/>
<line x1="260.64" y1="104.69" x2="264.24" y2="104.69" stroke="#111" stroke-width="0.8"/>
<circle cx="262.44" cy="104.69" r="1.7" fill="#222" stroke="#000" stroke-width="0.8"/>
<circle cx="262.44" cy="104.69" r="0.55" fill="#777" stroke="none" stroke-width="1"/>
<line x1="275.66" y1="98.58" x2="275.66" y2="94.82" stroke="#111" stroke-width="0.8"/>
<line x1="273.86" y1="94.82" x2="277.46" y2="94.82" stroke="#111" stroke-width="0.8"/>
<line x1="273.86" y1="98.58" x2="277.46" y2="98.58" stroke="#111" stroke-width="0.8"/>
<line x1="273.86" y1="96.7" x2="277.46" y2="96.7" stroke="#111" stroke-width="0.8"/>
<circle cx="275.66" cy="96.7" r="1.7" fill="#222" stroke="#000" stroke-width="0.8"/>
<circle cx="275.66" cy="96.7" r="0.55" fill="#777" stroke="none" stroke-width="1"/>
<line x1="288.88" y1="94.82" x2="288.88" y2="87.3" stroke="#111" stroke-width="0.8"/>
<line x1="287.08" y1="87.3" x2="290.68" y2="87.3" stroke="#111" stroke-width="0.8"/>
<line x1="287.08" y1="94.82" x2="290.68" y2="94.82" stroke="#111" stroke-width="0.8"/>
<line x1="287.08" y1="91.06" x2="290.68" y2="91.06" stroke="#111" stroke-width="0.8"/>
<circle cx="288.88" cy="91.06" r="1.7" fill="#222" stroke="#000" stroke-width="0.8"/>
<circle cx="288.88" cy="91.06" r="0.55" fill="#777" stroke="none" stroke-width="1"/>
<line x1="302.1" y1="90.59" x2="302.1" y2="86.83" stroke="#111" stroke-width="0.8"/>
<line x1="300.3" y1="86.83" x2="303.9" y2="86.83" stroke="#111" stroke-width="0.8"/>
<line x1="300.3" y1="90.59" x2="303.9" y2="90.59" stroke="#111" stroke-width="0.8"/>
<line x1="300.3" y1="88.71" x2="303.9" y2="88.71" stroke="#111" stroke-width="0.8"/>
<circle cx="302.1" cy="88.71" r="1.7" fill="#222" stroke="#000" stroke-width="0.8"/>
<circle cx="302.1" cy="88.71" r="0.55" fill="#777" stroke="none" stroke-width="1"/>
<line x1="315.32" y1="86.83" x2="315.32" y2="80.25" stroke="#111" stroke-width="0.8"/>
<line x1="313.52" y1="80.25" x2="317.12" y2="80.25" stroke="#111" stroke-width="0.8"/>
<line x1="313.52" y1="86.83" x2="317.12" y2="86.83" stroke="#111" stroke-width="0.8"/>
<line x1="313.52" y1="83.54" x2="317.12" y2="83.54" stroke="#111" stroke-width="0.8"/>
<circle cx="315.32" cy="83.54" r="1.7" fill="#222" stroke="#000" stroke-width="0.8"/>
<circle cx="315.32" cy="83.54" r="0.55" fill="#777" stroke="none" stroke-width="1"/>
<line x1="328.54" y1="80.25" x2="328.54" y2="68.03" stroke="#111" stroke-width="0.8"/>
<line x1="326.74" y1="68.03" x2="330.34" y2="68.03" stroke="#111" stroke-width="0.8"/>
<line x1="326.74" y1="80.25" x2="330.34" y2="80.25" stroke="#111" stroke-width="0.8"/>
<line x1="326.74" y1="74.14" x2="330.34" y2="74.14" stroke="#111" stroke-width="0.8"/>
<circle cx="328.54" cy="74.14" r="1.7" fill="#222" stroke="#000" stroke-width="0.8"/>
<circle cx="328.54" cy="74.14" r="0.55" fill="#777" stroke="none" stroke-width="1"/>
<line x1="341.76" y1="67.56" x2="341.76" y2="62.86" stroke="#111" stroke-width="0.8"/>
<line x1="339.96" y1="62.86" x2="343.56" y2="62.86" stroke="#111" stroke-width="0.8"/>
<line x1="339.96" y1="67.56" x2="343.56" y2="67.56" stroke="#111" stroke-width="0.8"/>
<line x1="339.96" y1="65.21" x2="343.56" y2="65.21" stroke="#111" stroke-width="0.8"/>
<circle cx="341.76" cy="65.21" r="1.7" fill="#222" stroke="#000" stroke-width="0.8"/>
<circle cx="341.76" cy="65.21" r="0.55" fill="#777" stroke="none" stroke-width="1"/>
<line x1="354.98" y1="68.5" x2="354.98" y2="64.74" stroke="#111" stroke-width="0.8"/>
<line x1="353.18" y1="64.74" x2="356.78" y2="64.74" stroke="#111" stroke-width="0.8"/>
<line x1="353.18" y1="68.5" x2="356.78" y2="68.5" stroke="#111" stroke-width="0.8"/>
<line x1="353.18" y1="66.62" x2="356.78" y2="66.62" stroke="#111" stroke-width="0.8"/>
<circle cx="354.98" cy="66.62" r="1.7" fill="#222" stroke="#000" stroke-width="0.8"/>
<circle cx="354.98" cy="66.62" r="0.55" fill="#777" stroke="none" stroke-width="1"/>
<line x1="229.4" y1="26" x2="229.4" y2="139.4" stroke="#6a6a6a" stroke-width="0.9"/>
<line x1="229.4" y1="139" x2="360" y2="139" stroke="#6a6a6a" stroke-width="0.9"/>
<line x1="227.2" y1="139" x2="229.4" y2="139" stroke="#6a6a6a" stroke-width="0.8"/>
<text x="227" y="142.22" font-size="8.6" text-anchor="end" fill="#333">0.0</text>
<line x1="227.2" y1="120.2" x2="229.4" y2="120.2" stroke="#6a6a6a" stroke-width="0.8"/>
<text x="227" y="123.42" font-size="8.6" text-anchor="end" fill="#333">0.2</text>
<line x1="227.2" y1="101.4" x2="229.4" y2="101.4" stroke="#6a6a6a" stroke-width="0.8"/>
<text x="227" y="104.62" font-size="8.6" text-anchor="end" fill="#333">0.4</text>
<line x1="227.2" y1="82.6" x2="229.4" y2="82.6" stroke="#6a6a6a" stroke-width="0.8"/>
<text x="227" y="85.82" font-size="8.6" text-anchor="end" fill="#333">0.6</text>
<line x1="227.2" y1="63.8" x2="229.4" y2="63.8" stroke="#6a6a6a" stroke-width="0.8"/>
<text x="227" y="67.02" font-size="8.6" text-anchor="end" fill="#333">0.8</text>
<line x1="227.2" y1="45" x2="229.4" y2="45" stroke="#6a6a6a" stroke-width="0.8"/>
<text x="227" y="48.23" font-size="8.6" text-anchor="end" fill="#333">1.0</text>
<line x1="227.2" y1="26.2" x2="229.4" y2="26.2" stroke="#6a6a6a" stroke-width="0.8"/>
<text x="227" y="29.43" font-size="8.6" text-anchor="end" fill="#333">1.2</text>
<line x1="236" y1="139" x2="236" y2="141" stroke="#6a6a6a" stroke-width="0.8"/>
<line x1="249.22" y1="139" x2="249.22" y2="141" stroke="#6a6a6a" stroke-width="0.8"/>
<line x1="262.44" y1="139" x2="262.44" y2="141" stroke="#6a6a6a" stroke-width="0.8"/>
<line x1="275.66" y1="139" x2="275.66" y2="141" stroke="#6a6a6a" stroke-width="0.8"/>
<line x1="288.88" y1="139" x2="288.88" y2="141" stroke="#6a6a6a" stroke-width="0.8"/>
<line x1="302.1" y1="139" x2="302.1" y2="141" stroke="#6a6a6a" stroke-width="0.8"/>
<line x1="315.32" y1="139" x2="315.32" y2="141" stroke="#6a6a6a" stroke-width="0.8"/>
<line x1="328.54" y1="139" x2="328.54" y2="141" stroke="#6a6a6a" stroke-width="0.8"/>
<line x1="341.76" y1="139" x2="341.76" y2="141" stroke="#6a6a6a" stroke-width="0.8"/>
<line x1="354.98" y1="139" x2="354.98" y2="141" stroke="#6a6a6a" stroke-width="0.8"/>
<text x="238.5" y="146" font-size="9" text-anchor="end" fill="#231f20" transform="rotate(-45 238.5 146)">I-0</text>
<text x="251.72" y="146" font-size="9" text-anchor="end" fill="#231f20" transform="rotate(-45 251.72 146)">I-2</text>
<text x="264.94" y="146" font-size="9" text-anchor="end" fill="#231f20" transform="rotate(-45 264.94 146)">I-4</text>
<text x="278.16" y="146" font-size="9" text-anchor="end" fill="#231f20" transform="rotate(-45 278.16 146)">I-6</text>
<text x="291.38" y="146" font-size="9" text-anchor="end" fill="#231f20" transform="rotate(-45 291.38 146)">I-8</text>
<text x="304.6" y="146" font-size="9" text-anchor="end" fill="#231f20" transform="rotate(-45 304.6 146)">PI-0</text>
<text x="317.82" y="146" font-size="9" text-anchor="end" fill="#231f20" transform="rotate(-45 317.82 146)">PI-2</text>
<text x="331.04" y="146" font-size="9" text-anchor="end" fill="#231f20" transform="rotate(-45 331.04 146)">PI-4</text>
<text x="344.26" y="146" font-size="9" text-anchor="end" fill="#231f20" transform="rotate(-45 344.26 146)">PI-6</text>
<text x="357.48" y="146" font-size="9" text-anchor="end" fill="#231f20" transform="rotate(-45 357.48 146)">PI-7</text>
<text x="210.5" y="94" font-size="9" text-anchor="middle" fill="#231f20" transform="rotate(-90 210.5 94)">Size (cm<tspan font-size="6" dy="-3">2</tspan><tspan dy="3">)</tspan></text>
<text x="250.6" y="38" font-size="8.2" text-anchor="start" fill="#231f20">Area under curve test:</text>
<text x="250.6" y="48" font-size="8.2" text-anchor="start" font-weight="bold" fill="#231f20">P = 0.005</text>
<circle cx="370.6" cy="33.2" r="1.5" fill="#111" stroke="#000" stroke-width="0.8"/>
<line x1="368" y1="33.2" x2="373.2" y2="33.2" stroke="#000" stroke-width="0.6"/>
<circle cx="370.6" cy="45.6" r="1.5" fill="#fff" stroke="#d42a2a" stroke-width="0.9"/>
<line x1="368" y1="45.6" x2="373.2" y2="45.6" stroke="#d42a2a" stroke-width="0.6"/>
<circle cx="370.6" cy="45.6" r="1.5" fill="#fff" stroke="#d42a2a" stroke-width="0.9"/>
<circle cx="370.6" cy="33.2" r="1.6" fill="#222" stroke="#000" stroke-width="0.8"/>
<text x="377" y="36.5" font-size="9.3" text-anchor="start" fill="#231f20">E-Con</text>
<text x="377" y="49" font-size="9.3" text-anchor="start" fill="#231f20">E-Yd1</text>
<text x="410.1" y="13.4" font-size="16.4" font-weight="bold" fill="#1a1a1a" transform="translate(410.1 13.4) scale(1 1.07) translate(-410.1 -13.4)">C</text>
<text x="470.8" y="18.4" font-size="10.5" text-anchor="middle" fill="#231f20">Weight change</text>
<rect x="457.6" y="110.12" width="11" height="23.98" fill="#fff" stroke="#333" stroke-width="0.9"/>
<rect x="475.6" y="74.27" width="10.4" height="59.83" fill="#fff" stroke="#333" stroke-width="0.9"/>
<rect x="492.4" y="63.68" width="11.2" height="70.42" fill="#fff" stroke="#c1272d" stroke-width="0.9"/>
<line x1="463.1" y1="111.42" x2="463.1" y2="108.83" stroke="#222" stroke-width="0.8"/>
<line x1="460.6" y1="108.83" x2="465.6" y2="108.83" stroke="#222" stroke-width="0.8"/>
<line x1="460.6" y1="111.42" x2="465.6" y2="111.42" stroke="#222" stroke-width="0.8"/>
<line x1="460.6" y1="110.12" x2="465.6" y2="110.12" stroke="#222" stroke-width="0.8"/>
<line x1="480.8" y1="77.51" x2="480.8" y2="71.03" stroke="#222" stroke-width="0.8"/>
<line x1="478.3" y1="71.03" x2="483.3" y2="71.03" stroke="#222" stroke-width="0.8"/>
<line x1="478.3" y1="77.51" x2="483.3" y2="77.51" stroke="#222" stroke-width="0.8"/>
<line x1="478.3" y1="74.27" x2="483.3" y2="74.27" stroke="#222" stroke-width="0.8"/>
<line x1="498" y1="66.71" x2="498" y2="60.66" stroke="#c1272d" stroke-width="0.8"/>
<line x1="495.5" y1="60.66" x2="500.5" y2="60.66" stroke="#c1272d" stroke-width="0.8"/>
<line x1="495.5" y1="66.71" x2="500.5" y2="66.71" stroke="#c1272d" stroke-width="0.8"/>
<line x1="495.5" y1="63.68" x2="500.5" y2="63.68" stroke="#c1272d" stroke-width="0.8"/>
<polygon points="461.5,109.27 460,111.97 463,111.97" fill="#111" stroke="none" stroke-width="1"/>
<polygon points="464.7,109.27 463.2,111.97 466.2,111.97" fill="#111" stroke="none" stroke-width="1"/>
<polygon points="463.1,106.25 461.6,108.95 464.6,108.95" fill="#111" stroke="none" stroke-width="1"/>
<polygon points="480.8,68.88 479.3,71.58 482.3,71.58" fill="#111" stroke="none" stroke-width="1"/>
<polygon points="480.8,74.28 479.3,76.98 482.3,76.98" fill="#111" stroke="none" stroke-width="1"/>
<polygon points="480.8,77.52 479.3,80.22 482.3,80.22" fill="#111" stroke="none" stroke-width="1"/>
<rect x="494.9" y="62.6" width="2.6" height="2.6" fill="#b3141b" stroke="none" stroke-width="1"/>
<rect x="498.5" y="61.95" width="2.6" height="2.6" fill="#b3141b" stroke="none" stroke-width="1"/>
<rect x="496.2" y="57.2" width="2.6" height="2.6" fill="#b3141b" stroke="none" stroke-width="1"/>
<line x1="451.4" y1="46" x2="451.4" y2="134.1" stroke="#6a6a6a" stroke-width="0.9"/>
<line x1="451.4" y1="134.1" x2="509.6" y2="134.1" stroke="#6a6a6a" stroke-width="0.9"/>
<line x1="448.9" y1="134.1" x2="451.4" y2="134.1" stroke="#6a6a6a" stroke-width="0.8"/>
<text x="449" y="138.07" font-size="10.6" text-anchor="end" fill="#231f20">0.00</text>
<line x1="448.9" y1="112.5" x2="451.4" y2="112.5" stroke="#6a6a6a" stroke-width="0.8"/>
<text x="449" y="116.47" font-size="10.6" text-anchor="end" fill="#231f20">0.01</text>
<line x1="448.9" y1="90.9" x2="451.4" y2="90.9" stroke="#6a6a6a" stroke-width="0.8"/>
<text x="449" y="94.87" font-size="10.6" text-anchor="end" fill="#231f20">0.02</text>
<line x1="448.9" y1="69.3" x2="451.4" y2="69.3" stroke="#6a6a6a" stroke-width="0.8"/>
<text x="449" y="73.27" font-size="10.6" text-anchor="end" fill="#231f20">0.03</text>
<line x1="448.9" y1="47.7" x2="451.4" y2="47.7" stroke="#6a6a6a" stroke-width="0.8"/>
<text x="449" y="51.67" font-size="10.6" text-anchor="end" fill="#231f20">0.04</text>
<line x1="463.1" y1="134.1" x2="463.1" y2="136.6" stroke="#6a6a6a" stroke-width="0.8"/>
<line x1="480.8" y1="134.1" x2="480.8" y2="136.6" stroke="#6a6a6a" stroke-width="0.8"/>
<line x1="498" y1="134.1" x2="498" y2="136.6" stroke="#6a6a6a" stroke-width="0.8"/>
<text x="465.3" y="144.6" font-size="10.3" text-anchor="end" fill="#231f20" transform="rotate(-45 465.3 144.6)">NE</text>
<text x="483" y="144.6" font-size="10.3" text-anchor="end" fill="#231f20" transform="rotate(-45 483 144.6)">E-con</text>
<text x="500.2" y="144.6" font-size="10.3" text-anchor="end" fill="#231f20" transform="rotate(-45 500.2 144.6)">E-Yd1</text>
<text x="424.6" y="90" font-size="11" text-anchor="middle" fill="#231f20" transform="rotate(-90 424.6 90)">Weight (g)</text>
<line x1="463.3" y1="30.4" x2="498" y2="30.4" stroke="#333" stroke-width="0.7"/>
<line x1="463.3" y1="30.1" x2="463.3" y2="32.6" stroke="#333" stroke-width="0.7"/>
<line x1="498" y1="30.1" x2="498" y2="32.6" stroke="#333" stroke-width="0.7"/>
<text x="480.65" y="28.8" font-size="6.2" text-anchor="middle" font-weight="bold" fill="#1a1a1a">&lt;0.0001</text>
<line x1="480.8" y1="41.6" x2="498" y2="41.6" stroke="#333" stroke-width="0.7"/>
<line x1="480.8" y1="41.3" x2="480.8" y2="43.8" stroke="#333" stroke-width="0.7"/>
<line x1="498" y1="41.3" x2="498" y2="43.8" stroke="#333" stroke-width="0.7"/>
<text x="489.4" y="40" font-size="6.2" text-anchor="middle" font-weight="bold" fill="#1a1a1a">0.0253</text>
<line x1="463.3" y1="52.8" x2="480.8" y2="52.8" stroke="#333" stroke-width="0.7"/>
<line x1="463.3" y1="52.5" x2="463.3" y2="55" stroke="#333" stroke-width="0.7"/>
<line x1="480.8" y1="52.5" x2="480.8" y2="55" stroke="#333" stroke-width="0.7"/>
<text x="472.05" y="51.2" font-size="6.2" text-anchor="middle" font-weight="bold" fill="#1a1a1a">&lt;0.0001</text>
<text x="521.8" y="12" font-size="16.4" font-weight="bold" fill="#1a1a1a" transform="translate(521.8 12) scale(1 1.07) translate(-521.8 -12)">D</text>
<g clip-path="url(#cD1)">
<rect x="552.2" y="14" width="73.8" height="73.6" fill="#dfe9e2" stroke="none" stroke-width="1"/>
<polygon points="552,17.5 560,18 566,20 573,23.4 580,26 588,30 594,33 598.4,35.5 603,34.5 608.5,32 611,27 615,23 620,21 627,20 627,84 618,83 610,80 600,78 593,74.5 586,78 575,77.5 562,77 552,77" fill="#e6d2e6" stroke="none" stroke-width="1"/>
<polygon points="552,17.5 560,18 566,20 573,23.4 580,26 588,30 594,33 598.4,35.5 603,34.5 608.5,32 611,27 615,23 620,21 627,20 627,55 600,52 575,50 552,48" fill="#ecc0de" stroke="none" stroke-width="1"/>
<polygon points="552,17.5 560,18 566,20 573,23.4 580,26 588,30 594,33 598.4,35.5 603,34.5 608.5,32 611,27 615,23 620,21 627,20 627,30 620,28 615,29 611,34 603,39.5 598,40 594,38 588,35 580,31 573,28 566,25 560,23 552,22" fill="#b97abd" stroke="none" stroke-width="1"/>
<rect x="552.2" y="17" width="73.8" height="68" fill="url(#p1)" opacity="0.75" clip-path="url(#cD1t)"/>
<path d="M556,42 C560,38 563,40 561,46 C559,50 556,48 556,42 Z" fill="#f5eef3" stroke="none" stroke-width="1"/>
<path d="M585,60 C595,58 610,60 626,56" fill="none" stroke="#f3e6ee" stroke-width="1.2"/>
<path d="M552,66 C570,64 590,66 626,62" fill="none" stroke="#efe0ec" stroke-width="1"/>
<polyline points="550,22.5 558,23.5 566,25.5 574,28.8 582,32 589,35 594,37.6 600,38.2 606,37.3 610,35" fill="none" stroke="#1a1a1a" stroke-width="1.2" stroke-dasharray="3,1.8"/>
<polyline points="604,29.5 606,31 608.5,35" fill="none" stroke="#1a1a1a" stroke-width="1.2" stroke-dasharray="2.5,1.5"/>
</g>
<g clip-path="url(#cD2)">
<rect x="552.2" y="89.6" width="73.8" height="74.4" fill="#ebe7ec" stroke="none" stroke-width="1"/>
<polygon points="552,89.6 580,89.6 583,100 585,112.5 588,113.5 595,106 603,101 612,103 620,107 627,110 627,147 615,149 600,149.5 585,149 570,148.5 552,149" fill="#ea86c0" stroke="none" stroke-width="1"/>
<polygon points="580,89.6 600,89.6 597,104 588,112 584,108" fill="#f3e3ec" stroke="none" stroke-width="1"/>
<polygon points="552,89.6 579,89.6 582,100 585,113 588,116 596,110 604,106 613,108 627,115 627,121 613,115 604,113 596,117 588,122 580,120 570,114 560,110 552,108" fill="#c277c4" stroke="none" stroke-width="1"/>
<rect x="552.2" y="89" width="73.8" height="61" fill="url(#p2)" opacity="0.6" clip-path="url(#cD2t)"/>
<polyline points="585,113 590,109 595,105.5 603,100.5 612,102.5 620,106.5 627,109.5" fill="none" stroke="#e6379a" stroke-width="1.4"/>
<path d="M584,151 L605,150 L606,156 L585,157 Z" fill="#9c62ab" stroke="none" stroke-width="1"/>
<path d="M574,130 L584,127 L585,131 L575,133 Z" fill="#a66ab2" stroke="none" stroke-width="1" opacity="0.7"/>
<polyline points="552,94.5 558,98.5 566,101.5 574,104.5 583,107.5 588,104.5 594,100.5 600,98.6 606,99.3 611,103" fill="none" stroke="#1a1a1a" stroke-width="1.2" stroke-dasharray="3,1.8"/>
<text x="552.5" y="155.8" font-size="7.8" text-anchor="start" fill="#231f20">100µm</text>
<rect x="556" y="160.2" width="13" height="1.7" fill="#111" stroke="none" stroke-width="1"/>
</g>
<text x="546" y="54" font-size="11" text-anchor="middle" fill="#231f20" transform="rotate(-90 546 54)">E-con</text>
<text x="546" y="124" font-size="10.5" text-anchor="middle" fill="#231f20" transform="rotate(-90 546 124)">E-Yoda1</text>
<text x="0.9" y="205.9" font-size="16.4" font-weight="bold" fill="#1a1a1a" transform="translate(0.9 205.9) scale(1 1.07) translate(-0.9 -205.9)">E</text>
<text x="72.3" y="207.4" font-size="10.5" text-anchor="middle" fill="#231f20">Epidermal</text>
<text x="167.3" y="209" font-size="9.8" text-anchor="middle" fill="#231f20">Dermal</text>
<rect x="55.6" y="300.87" width="11" height="23.33" fill="#fff" stroke="#333" stroke-width="0.9"/>
<rect x="72.6" y="263.6" width="11" height="60.6" fill="#fff" stroke="#333" stroke-width="0.9"/>
<rect x="90" y="252.48" width="11.6" height="71.72" fill="#fff" stroke="#c1272d" stroke-width="0.9"/>
<line x1="61.1" y1="301.96" x2="61.1" y2="299.57" stroke="#222" stroke-width="0.8"/>
<line x1="58.5" y1="299.57" x2="63.7" y2="299.57" stroke="#222" stroke-width="0.8"/>
<line x1="58.5" y1="301.96" x2="63.7" y2="301.96" stroke="#222" stroke-width="0.8"/>
<line x1="58.5" y1="300.87" x2="63.7" y2="300.87" stroke="#222" stroke-width="0.8"/>
<line x1="78.1" y1="267.52" x2="78.1" y2="259.67" stroke="#222" stroke-width="0.8"/>
<line x1="75.5" y1="259.67" x2="80.7" y2="259.67" stroke="#222" stroke-width="0.8"/>
<line x1="75.5" y1="267.52" x2="80.7" y2="267.52" stroke="#222" stroke-width="0.8"/>
<line x1="75.5" y1="263.6" x2="80.7" y2="263.6" stroke="#222" stroke-width="0.8"/>
<line x1="95.8" y1="255.31" x2="95.8" y2="249.43" stroke="#c1272d" stroke-width="0.8"/>
<line x1="93.2" y1="249.43" x2="98.4" y2="249.43" stroke="#c1272d" stroke-width="0.8"/>
<line x1="93.2" y1="255.31" x2="98.4" y2="255.31" stroke="#c1272d" stroke-width="0.8"/>
<line x1="93.2" y1="252.48" x2="98.4" y2="252.48" stroke="#c1272d" stroke-width="0.8"/>
<polygon points="59.3,299.37 57.8,302.07 60.8,302.07" fill="#111" stroke="none" stroke-width="1"/>
<polygon points="62.9,299.37 61.4,302.07 64.4,302.07" fill="#111" stroke="none" stroke-width="1"/>
<polygon points="61.1,296.1 59.6,298.8 62.6,298.8" fill="#111" stroke="none" stroke-width="1"/>
<polygon points="78.1,257.74 76.6,260.44 79.6,260.44" fill="#111" stroke="none" stroke-width="1"/>
<polygon points="78.1,262.75 76.6,265.45 79.6,265.45" fill="#111" stroke="none" stroke-width="1"/>
<polygon points="78.1,268.2 76.6,270.9 79.6,270.9" fill="#111" stroke="none" stroke-width="1"/>
<rect x="92.7" y="252.05" width="2.6" height="2.6" fill="#b3141b" stroke="none" stroke-width="1"/>
<rect x="96.5" y="252.49" width="2.6" height="2.6" fill="#b3141b" stroke="none" stroke-width="1"/>
<rect x="94.3" y="246.16" width="2.6" height="2.6" fill="#b3141b" stroke="none" stroke-width="1"/>
<line x1="49" y1="236" x2="49" y2="324.2" stroke="#6a6a6a" stroke-width="0.9"/>
<line x1="49" y1="324.2" x2="108" y2="324.2" stroke="#6a6a6a" stroke-width="0.9"/>
<line x1="46.5" y1="324.2" x2="49" y2="324.2" stroke="#6a6a6a" stroke-width="0.8"/>
<text x="46.2" y="328.21" font-size="10.7" text-anchor="end" fill="#231f20">0.00</text>
<line x1="46.5" y1="302.4" x2="49" y2="302.4" stroke="#6a6a6a" stroke-width="0.8"/>
<text x="46.2" y="306.41" font-size="10.7" text-anchor="end" fill="#231f20">0.01</text>
<line x1="46.5" y1="280.6" x2="49" y2="280.6" stroke="#6a6a6a" stroke-width="0.8"/>
<text x="46.2" y="284.61" font-size="10.7" text-anchor="end" fill="#231f20">0.02</text>
<line x1="46.5" y1="258.8" x2="49" y2="258.8" stroke="#6a6a6a" stroke-width="0.8"/>
<text x="46.2" y="262.81" font-size="10.7" text-anchor="end" fill="#231f20">0.03</text>
<line x1="46.5" y1="237" x2="49" y2="237" stroke="#6a6a6a" stroke-width="0.8"/>
<text x="46.2" y="241.01" font-size="10.7" text-anchor="end" fill="#231f20">0.04</text>
<line x1="61.1" y1="324.2" x2="61.1" y2="326.7" stroke="#6a6a6a" stroke-width="0.8"/>
<line x1="78.1" y1="324.2" x2="78.1" y2="326.7" stroke="#6a6a6a" stroke-width="0.8"/>
<line x1="95.8" y1="324.2" x2="95.8" y2="326.7" stroke="#6a6a6a" stroke-width="0.8"/>
<text x="63.3" y="333.2" font-size="10.5" text-anchor="end" fill="#231f20" transform="rotate(-45 63.3 333.2)">NE</text>
<text x="80.3" y="333.2" font-size="10.5" text-anchor="end" fill="#231f20" transform="rotate(-45 80.3 333.2)">E-con</text>
<text x="98" y="333.2" font-size="10.5" text-anchor="end" fill="#231f20" transform="rotate(-45 98 333.2)">E-Yd1</text>
<text x="21.5" y="280" font-size="10.8" text-anchor="middle" fill="#231f20" transform="rotate(-90 21.5 280)">Thickness (mm)</text>
<line x1="61.2" y1="221" x2="95.8" y2="221" stroke="#333" stroke-width="0.7"/>
<line x1="61.2" y1="220.7" x2="61.2" y2="223.2" stroke="#333" stroke-width="0.7"/>
<line x1="95.8" y1="220.7" x2="95.8" y2="223.2" stroke="#333" stroke-width="0.7"/>
<text x="78.5" y="219.4" font-size="6.2" text-anchor="middle" font-weight="bold" fill="#1a1a1a">&lt;0.0001</text>
<line x1="78.1" y1="231.6" x2="95.8" y2="231.6" stroke="#333" stroke-width="0.7"/>
<line x1="78.1" y1="231.3" x2="78.1" y2="233.8" stroke="#333" stroke-width="0.7"/>
<line x1="95.8" y1="231.3" x2="95.8" y2="233.8" stroke="#333" stroke-width="0.7"/>
<text x="86.95" y="230" font-size="6.2" text-anchor="middle" font-weight="bold" fill="#1a1a1a">0.0253</text>
<line x1="61.2" y1="243" x2="78.1" y2="243" stroke="#333" stroke-width="0.7"/>
<line x1="61.2" y1="242.7" x2="61.2" y2="245.2" stroke="#333" stroke-width="0.7"/>
<line x1="78.1" y1="242.7" x2="78.1" y2="245.2" stroke="#333" stroke-width="0.7"/>
<text x="69.65" y="241.4" font-size="6.2" text-anchor="middle" font-weight="bold" fill="#1a1a1a">&lt;0.0001</text>
<rect x="150.4" y="261.11" width="10.6" height="63.09" fill="#fff" stroke="#333" stroke-width="0.9"/>
<rect x="167" y="278.99" width="10.6" height="45.21" fill="#fff" stroke="#333" stroke-width="0.9"/>
<rect x="183.6" y="296.05" width="10.8" height="28.15" fill="#fff" stroke="#c1272d" stroke-width="0.9"/>
<line x1="155.7" y1="268.71" x2="155.7" y2="253.3" stroke="#222" stroke-width="0.8"/>
<line x1="153.1" y1="253.3" x2="158.3" y2="253.3" stroke="#222" stroke-width="0.8"/>
<line x1="153.1" y1="268.71" x2="158.3" y2="268.71" stroke="#222" stroke-width="0.8"/>
<line x1="153.1" y1="261.11" x2="158.3" y2="261.11" stroke="#222" stroke-width="0.8"/>
<line x1="172.3" y1="282.07" x2="172.3" y2="275.91" stroke="#222" stroke-width="0.8"/>
<line x1="169.7" y1="275.91" x2="174.9" y2="275.91" stroke="#222" stroke-width="0.8"/>
<line x1="169.7" y1="282.07" x2="174.9" y2="282.07" stroke="#222" stroke-width="0.8"/>
<line x1="169.7" y1="278.99" x2="174.9" y2="278.99" stroke="#222" stroke-width="0.8"/>
<line x1="189" y1="301.59" x2="189" y2="290.29" stroke="#c1272d" stroke-width="0.8"/>
<line x1="186.4" y1="290.29" x2="191.6" y2="290.29" stroke="#c1272d" stroke-width="0.8"/>
<line x1="186.4" y1="301.59" x2="191.6" y2="301.59" stroke="#c1272d" stroke-width="0.8"/>
<line x1="186.4" y1="296.05" x2="191.6" y2="296.05" stroke="#c1272d" stroke-width="0.8"/>
<circle cx="155.7" cy="246.11" r="1.2" fill="#111" stroke="none" stroke-width="1"/>
<circle cx="155.7" cy="257.41" r="1.2" fill="#111" stroke="none" stroke-width="1"/>
<circle cx="156.2" cy="265.63" r="1.2" fill="#111" stroke="none" stroke-width="1"/>
<circle cx="155.7" cy="277.96" r="1.2" fill="#111" stroke="none" stroke-width="1"/>
<polygon points="172.3,272.35 170.8,275.05 173.8,275.05" fill="#111" stroke="none" stroke-width="1"/>
<polygon points="172.3,277.49 170.8,280.19 173.8,280.19" fill="#111" stroke="none" stroke-width="1"/>
<polygon points="172.3,282.63 170.8,285.33 173.8,285.33" fill="#111" stroke="none" stroke-width="1"/>
<circle cx="189" cy="287.62" r="1.4" fill="#b3141b" stroke="none" stroke-width="1"/>
<circle cx="189" cy="293.79" r="1.4" fill="#b3141b" stroke="none" stroke-width="1"/>
<circle cx="189" cy="305.7" r="1.4" fill="#b3141b" stroke="none" stroke-width="1"/>
<line x1="144.4" y1="240" x2="144.4" y2="324.2" stroke="#6a6a6a" stroke-width="0.9"/>
<line x1="144.4" y1="324.2" x2="200" y2="324.2" stroke="#6a6a6a" stroke-width="0.9"/>
<line x1="141.9" y1="324.2" x2="144.4" y2="324.2" stroke="#6a6a6a" stroke-width="0.8"/>
<text x="141.8" y="328.06" font-size="10.3" text-anchor="end" fill="#231f20">0.0</text>
<line x1="141.9" y1="303.65" x2="144.4" y2="303.65" stroke="#6a6a6a" stroke-width="0.8"/>
<text x="141.8" y="307.51" font-size="10.3" text-anchor="end" fill="#231f20">0.1</text>
<line x1="141.9" y1="283.1" x2="144.4" y2="283.1" stroke="#6a6a6a" stroke-width="0.8"/>
<text x="141.8" y="286.96" font-size="10.3" text-anchor="end" fill="#231f20">0.2</text>
<line x1="141.9" y1="262.55" x2="144.4" y2="262.55" stroke="#6a6a6a" stroke-width="0.8"/>
<text x="141.8" y="266.41" font-size="10.3" text-anchor="end" fill="#231f20">0.3</text>
<line x1="141.9" y1="242" x2="144.4" y2="242" stroke="#6a6a6a" stroke-width="0.8"/>
<text x="141.8" y="245.86" font-size="10.3" text-anchor="end" fill="#231f20">0.4</text>
<line x1="155.7" y1="324.2" x2="155.7" y2="326.7" stroke="#6a6a6a" stroke-width="0.8"/>
<line x1="172.3" y1="324.2" x2="172.3" y2="326.7" stroke="#6a6a6a" stroke-width="0.8"/>
<line x1="189" y1="324.2" x2="189" y2="326.7" stroke="#6a6a6a" stroke-width="0.8"/>
<text x="157.9" y="333.2" font-size="10.5" text-anchor="end" fill="#231f20" transform="rotate(-45 157.9 333.2)">NE</text>
<text x="174.5" y="333.2" font-size="10.5" text-anchor="end" fill="#231f20" transform="rotate(-45 174.5 333.2)">E-con</text>
<text x="191.2" y="333.2" font-size="10.5" text-anchor="end" fill="#231f20" transform="rotate(-45 191.2 333.2)">E-Yd1</text>
<text x="124.8" y="284.6" font-size="10.8" text-anchor="middle" fill="#231f20" transform="rotate(-90 124.8 284.6)">Thickness (mm)</text>
<line x1="155.7" y1="221" x2="189" y2="221" stroke="#333" stroke-width="0.7"/>
<line x1="155.7" y1="220.7" x2="155.7" y2="223.2" stroke="#333" stroke-width="0.7"/>
<line x1="189" y1="220.7" x2="189" y2="223.2" stroke="#333" stroke-width="0.7"/>
<text x="172.35" y="219.4" font-size="6.2" text-anchor="middle" font-weight="bold" fill="#1a1a1a">0.0037</text>
<line x1="172.3" y1="231.6" x2="189" y2="231.6" stroke="#333" stroke-width="0.7"/>
<line x1="172.3" y1="231.3" x2="172.3" y2="233.8" stroke="#333" stroke-width="0.7"/>
<line x1="189" y1="231.3" x2="189" y2="233.8" stroke="#333" stroke-width="0.7"/>
<text x="180.65" y="230" font-size="6.2" text-anchor="middle" fill="#1a1a1a">0.0938</text>
<line x1="155.7" y1="241.8" x2="172.3" y2="241.8" stroke="#333" stroke-width="0.7"/>
<line x1="155.7" y1="241.5" x2="155.7" y2="244" stroke="#333" stroke-width="0.7"/>
<line x1="172.3" y1="241.5" x2="172.3" y2="244" stroke="#333" stroke-width="0.7"/>
<text x="164" y="240.2" font-size="6.2" text-anchor="middle" fill="#1a1a1a">0.0638</text>
<text x="211.9" y="188" font-size="16.4" font-weight="bold" fill="#1a1a1a" transform="translate(211.9 188) scale(1 1.07) translate(-211.9 -188)">F</text>
<rect x="227.4" y="187.4" width="14.2" height="148.6" fill="#fff" stroke="#333" stroke-width="0.8"/>
<line x1="227.4" y1="261.3" x2="241.6" y2="261.3" stroke="#333" stroke-width="0.8"/>
<text x="238" y="224" font-size="8.5" text-anchor="middle" fill="#231f20" transform="rotate(-90 238 224)">HE</text>
<text x="238" y="298.5" font-size="8.5" text-anchor="middle" fill="#231f20" transform="rotate(-90 238 298.5)">Xenium</text>
<g clip-path="url(#cF1)">
<rect x="241.6" y="187.4" width="132.4" height="73.7" fill="#ede5e7" stroke="none" stroke-width="1"/>
<polygon points="240.6,262.1 241,232.6 246,231.3 252,229.8 255.2,224.6 257.4,218 260,215.6 262.8,214.8 267,214.4 271.6,213.2 275,212.3 277,210.4 278.2,206 282.5,202.7 289,199.4 295.7,196.1 302.3,192.8 308.8,189.6 313.2,187 316,185.8 375,186.4 375,247.1 353,262.1" fill="#e86cab" stroke="none" stroke-width="1"/>
<rect x="241.6" y="187.4" width="132.4" height="73.7" fill="url(#p3)" opacity="0.8" clip-path="url(#cF1t)"/>
<path d="M301.6,263.1 C331.6,253.1 351.6,239.1 376,221.1" fill="none" stroke="#f6eef2" stroke-width="1.1"/>
<path d="M301.6,259.1 C331.6,249.1 351.6,235.1 376,217.1" fill="none" stroke="#f6eef2" stroke-width="0.9"/>
<path d="M301.6,254.1 C331.6,244.1 351.6,230.1 376,212.1" fill="none" stroke="#f6eef2" stroke-width="0.7"/>
<polyline points="241,232.6 246,231.3 252,229.8 255.2,224.6 257.4,218 260,215.6 262.8,214.8 267,214.4 271.6,213.2 275,212.3 277,210.4 278.2,206 282.5,202.7 289,199.4 295.7,196.1 302.3,192.8 308.8,189.6 313.2,187 316,185.8" fill="none" stroke="#b43f7e" stroke-width="1.6"/>
</g>
<path d="M286,218 C290,215 296,216 295,221 C291,223 286,222 286,218 Z" fill="#f4eef1" stroke="none" stroke-width="1"/>
<path d="M262,221 C264,219 267,220 266,223 C264,224 262,223 262,221 Z" fill="#f4eef1" stroke="none" stroke-width="1"/>
<g clip-path="url(#cF2)">
<rect x="241.6" y="261.6" width="132.4" height="74.4" fill="#ede5e7" stroke="none" stroke-width="1"/>
<polygon points="240.6,337 241,306.8 246,305.5 252,304 255.2,298.8 257.4,292.2 260,289.8 262.8,289 267,288.6 271.6,287.4 275,286.5 277,284.6 278.2,280.2 282.5,276.9 289,273.6 295.7,270.3 302.3,267 308.8,263.8 313.2,261.2 316,260 375,260.6 375,322 353,337" fill="#e86cab" stroke="none" stroke-width="1"/>
<rect x="241.6" y="261.6" width="132.4" height="74.4" fill="url(#p4)" opacity="0.8" clip-path="url(#cF2t)"/>
<path d="M301.6,338 C331.6,328 351.6,314 376,296" fill="none" stroke="#f6eef2" stroke-width="1.1"/>
<path d="M301.6,334 C331.6,324 351.6,310 376,292" fill="none" stroke="#f6eef2" stroke-width="0.9"/>
<path d="M301.6,329 C331.6,319 351.6,305 376,287" fill="none" stroke="#f6eef2" stroke-width="0.7"/>
<polyline points="241,306.8 246,305.5 252,304 255.2,298.8 257.4,292.2 260,289.8 262.8,289 267,288.6 271.6,287.4 275,286.5 277,284.6 278.2,280.2 282.5,276.9 289,273.6 295.7,270.3 302.3,267 308.8,263.8 313.2,261.2 316,260" fill="none" stroke="#b43f7e" stroke-width="1.6"/>
<polyline points="241,307.6 246,306.3 252,304.8 255.2,299.6 257.4,293 260,290.6 262.8,289.8 267,289.4 271.6,288.2 275,287.3 277,285.4 278.2,281 282.5,277.7 289,274.4 295.7,271.1 302.3,267.8 308.8,264.6 313.2,262 316,260.8" fill="none" stroke="#f07a62" stroke-width="2.6"/>
<polyline points="241,309.6 246,308.3 252,306.8 255.2,301.6 257.4,295 260,292.6 262.8,291.8 267,291.4 271.6,290.2 275,289.3 277,287.4 278.2,283 282.5,279.7 289,276.4 295.7,273.1 302.3,269.8 308.8,266.6 313.2,264 316,262.8" fill="none" stroke="#dba42a" stroke-width="1.6"/>
<rect x="241.6" y="261.6" width="132.4" height="74.4" fill="url(#p5)" opacity="1.0" clip-path="url(#cF2t)"/>
<rect x="241.6" y="261.6" width="132.4" height="74.4" fill="url(#p6)" opacity="1.0" clip-path="url(#cF2t)"/>
</g>
<g opacity="0.95">
<path d="M356,263 C362,262 368,264 372,268 L369,270 C364,267 359,266 356,265 Z" fill="#16b84a" stroke="none" stroke-width="1"/>
<ellipse cx="258" cy="295" rx="4" ry="2.6" fill="#40c4d6"/>
<ellipse cx="323" cy="280" rx="5" ry="3" fill="#40c4d6"/>
<ellipse cx="329" cy="283" rx="3" ry="1.8" fill="#18b850"/>
<ellipse cx="254" cy="316" rx="6" ry="3.6" fill="#30c8d0"/>
<ellipse cx="262" cy="319.5" rx="4.5" ry="2.4" fill="#18b850"/>
<ellipse cx="296" cy="293" rx="3" ry="1.6" fill="#40c4d6"/>
<path d="M289,292 C292,289 297,290 297,294 C294,297 290,296 289,292 Z" fill="#f6f0f3" stroke="none" stroke-width="1"/>
</g>
<text x="249.3" y="276.3" font-size="5.8" text-anchor="start" fill="#222">100µm</text>
<rect x="252" y="281" width="13.5" height="2.2" fill="#111" stroke="none" stroke-width="1"/>
<text x="379" y="270" font-size="8.2" text-anchor="start" fill="#231f20">Ident</text>
<circle cx="380.6" cy="277" r="3" fill="#f8766d" stroke="none" stroke-width="1"/>
<text x="387.4" y="280" font-size="8.2" text-anchor="start" fill="#231f20">Suprabasal</text>
<circle cx="380.6" cy="287" r="3" fill="#b79f00" stroke="none" stroke-width="1"/>
<text x="387.4" y="290" font-size="8.2" text-anchor="start" fill="#231f20">Basal</text>
<circle cx="380.6" cy="297" r="3" fill="#00ba38" stroke="none" stroke-width="1"/>
<text x="387.4" y="300" font-size="8.2" text-anchor="start" fill="#231f20">HF</text>
<circle cx="380.6" cy="307" r="3" fill="#6fd3d6" stroke="none" stroke-width="1"/>
<text x="387.4" y="310" font-size="8.2" text-anchor="start" fill="#231f20">SG</text>
<circle cx="380.6" cy="317" r="3" fill="#619cff" stroke="none" stroke-width="1"/>
<text x="387.4" y="320" font-size="8.2" text-anchor="start" fill="#231f20">Dermal</text>
<circle cx="380.6" cy="327" r="3" fill="#f564e3" stroke="none" stroke-width="1"/>
<text x="387.4" y="330" font-size="8.2" text-anchor="start" fill="#231f20">Immune</text>
<text x="432.3" y="188.6" font-size="16.4" font-weight="bold" fill="#1a1a1a" transform="translate(432.3 188.6) scale(1 1.07) translate(-432.3 -188.6)">G</text>
<text x="502.5" y="189.6" font-size="8.4" text-anchor="middle" fill="#231f20">Cell Fraction</text>
<line x1="479" y1="317.6" x2="556" y2="317.6" stroke="#ececec" stroke-width="0.7"/>
<line x1="479" y1="302.7" x2="556" y2="302.7" stroke="#f4f4f4" stroke-width="0.7"/>
<line x1="479" y1="287.8" x2="556" y2="287.8" stroke="#ececec" stroke-width="0.7"/>
<line x1="479" y1="272.9" x2="556" y2="272.9" stroke="#f4f4f4" stroke-width="0.7"/>
<line x1="479" y1="258" x2="556" y2="258" stroke="#ececec" stroke-width="0.7"/>
<line x1="479" y1="243.1" x2="556" y2="243.1" stroke="#f4f4f4" stroke-width="0.7"/>
<line x1="479" y1="228.2" x2="556" y2="228.2" stroke="#ececec" stroke-width="0.7"/>
<line x1="479" y1="213.3" x2="556" y2="213.3" stroke="#f4f4f4" stroke-width="0.7"/>
<line x1="479" y1="198.4" x2="556" y2="198.4" stroke="#ececec" stroke-width="0.7"/>
<line x1="493.4" y1="194" x2="493.4" y2="321" stroke="#ececec" stroke-width="0.7"/>
<line x1="517.5" y1="194" x2="517.5" y2="321" stroke="#ececec" stroke-width="0.7"/>
<line x1="541.8" y1="194" x2="541.8" y2="321" stroke="#ececec" stroke-width="0.7"/>
<rect x="482.4" y="309.02" width="22" height="8.58" fill="#ef7168" stroke="none" stroke-width="1"/>
<rect x="482.4" y="296.98" width="22" height="12.04" fill="#1bbcc2" stroke="none" stroke-width="1"/>
<rect x="482.4" y="283.03" width="22" height="13.95" fill="#ee61df" stroke="none" stroke-width="1"/>
<rect x="482.4" y="268.25" width="22" height="14.78" fill="#2db14f" stroke="none" stroke-width="1"/>
<rect x="482.4" y="211.15" width="22" height="57.1" fill="#6d8fca" stroke="none" stroke-width="1"/>
<rect x="482.4" y="198.4" width="22" height="12.75" fill="#b1993a" stroke="none" stroke-width="1"/>
<rect x="506.6" y="305.56" width="21.8" height="12.04" fill="#ef7168" stroke="none" stroke-width="1"/>
<rect x="506.6" y="301.03" width="21.8" height="4.53" fill="#1bbcc2" stroke="none" stroke-width="1"/>
<rect x="506.6" y="266.7" width="21.8" height="34.33" fill="#ee61df" stroke="none" stroke-width="1"/>
<rect x="506.6" y="260.62" width="21.8" height="6.08" fill="#2db14f" stroke="none" stroke-width="1"/>
<rect x="506.6" y="213.18" width="21.8" height="47.44" fill="#6d8fca" stroke="none" stroke-width="1"/>
<rect x="506.6" y="198.4" width="21.8" height="14.78" fill="#b1993a" stroke="none" stroke-width="1"/>
<rect x="530.8" y="304.01" width="21.8" height="13.59" fill="#ef7168" stroke="none" stroke-width="1"/>
<rect x="530.8" y="301.63" width="21.8" height="2.38" fill="#1bbcc2" stroke="none" stroke-width="1"/>
<rect x="530.8" y="267.3" width="21.8" height="34.33" fill="#ee61df" stroke="none" stroke-width="1"/>
<rect x="530.8" y="265.63" width="21.8" height="1.67" fill="#2db14f" stroke="none" stroke-width="1"/>
<rect x="530.8" y="214.13" width="21.8" height="51.49" fill="#6d8fca" stroke="none" stroke-width="1"/>
<rect x="530.8" y="198.4" width="21.8" height="15.73" fill="#b1993a" stroke="none" stroke-width="1"/>
<text x="477.5" y="320.8" font-size="8.2" text-anchor="end" fill="#555">0%</text>
<text x="477.5" y="291" font-size="8.2" text-anchor="end" fill="#555">25%</text>
<text x="477.5" y="261.2" font-size="8.2" text-anchor="end" fill="#555">50%</text>
<text x="477.5" y="231.4" font-size="8.2" text-anchor="end" fill="#555">75%</text>
<text x="477.5" y="201.6" font-size="8.2" text-anchor="end" fill="#555">100%</text>
<text x="491.6" y="331" font-size="8.2" text-anchor="middle" fill="#555">NE</text>
<text x="516.4" y="331" font-size="8.2" text-anchor="middle" fill="#555">E−con</text>
<text x="542.2" y="331" font-size="8.2" text-anchor="middle" fill="#555">E-Yd1</text>
<text x="455.5" y="252" font-size="8.4" text-anchor="middle" fill="#231f20" transform="rotate(-90 455.5 252)">Percentage</text>
<rect x="561.6" y="226" width="10.4" height="10" fill="#b1993a" stroke="none" stroke-width="1"/>
<text x="576" y="233.6" font-size="6.9" text-anchor="start" fill="#222">Basal</text>
<rect x="561.6" y="237" width="10.4" height="10" fill="#6d8fca" stroke="none" stroke-width="1"/>
<text x="576" y="244.6" font-size="6.9" text-anchor="start" fill="#222">Dermal</text>
<rect x="561.6" y="248" width="10.4" height="10" fill="#2db14f" stroke="none" stroke-width="1"/>
<text x="576" y="255.6" font-size="6.9" text-anchor="start" fill="#222">HF</text>
<rect x="561.6" y="259" width="10.4" height="10" fill="#ee61df" stroke="none" stroke-width="1"/>
<text x="576" y="266.6" font-size="6.9" text-anchor="start" fill="#222">Immune</text>
<rect x="561.6" y="270" width="10.4" height="10" fill="#1bbcc2" stroke="none" stroke-width="1"/>
<text x="576" y="277.6" font-size="6.9" text-anchor="start" fill="#222">SG</text>
<rect x="561.6" y="281" width="10.4" height="10" fill="#ef7168" stroke="none" stroke-width="1"/>
<text x="576" y="288.6" font-size="6.9" text-anchor="start" fill="#222">Suprabasal</text>
<text x="-0.1" y="371" font-size="16.4" font-weight="bold" fill="#1a1a1a" transform="translate(-0.1 371) scale(1 1.07) translate(0.1 -371)">H</text>
<text x="207" y="373.5" font-size="9.6" text-anchor="middle" fill="#231f20">E-con</text>
<text x="513.2" y="373.5" font-size="9.6" text-anchor="middle" fill="#231f20">E-Yd1</text>
<g clip-path="url(#cH0)">
<rect x="17.8" y="377.3" width="150.4" height="79.2" fill="#ede5e7" stroke="none" stroke-width="1"/>
<polygon points="18,445 30,437 41,429.7 50,422.8 61.6,416 70.7,409 82,405.7 91,402.3 98,393.2 102.5,389.8 111.7,384 120.8,377.3 169,377.3 169,391 141.3,418.3 107,438.8 73,457 17,457" fill="#e86cab" stroke="none" stroke-width="1"/>
<rect x="17.8" y="377.3" width="150.4" height="79.2" fill="url(#p7)" opacity="0.8" clip-path="url(#cH0t)"/>
<path d="M74,457 L169,395" fill="none" stroke="#f7eef3" stroke-width="0.9"/>
<path d="M69.5,457 L169,398" fill="none" stroke="#f7eef3" stroke-width="0.9"/>
<path d="M63.5,457 L169,402" fill="none" stroke="#f7eef3" stroke-width="0.9"/>
<polyline points="18,445.5 30,437.5 41,430.2 50,423.3 61.6,416.5 70.7,409.5 82,406.2 91,402.8 98,393.7 102.5,390.3 111.7,384.5 120.8,377.8" fill="none" stroke="#f07a62" stroke-width="1.8"/>
<polyline points="18,446.8 30,438.8 41,431.5 50,424.6 61.6,417.8 70.7,410.8 82,407.5 91,404.1 98,395 102.5,391.6 111.7,385.8 120.8,379.1" fill="none" stroke="#d0a22a" stroke-width="0.9"/>
<rect x="17.8" y="377" width="150.4" height="80" fill="url(#p8)" opacity="1.0" clip-path="url(#cH0t)"/>
<ellipse cx="84.3" cy="408" rx="3" ry="1.8" fill="#50c6d8"/>
<ellipse cx="104.8" cy="396.6" rx="2.4" ry="1.6" fill="#50c6d8"/>
<ellipse cx="124.2" cy="388.7" rx="2.4" ry="1.5" fill="#50c6d8"/>
<ellipse cx="88.9" cy="409.5" rx="2.6" ry="1.3" fill="#19b64a"/>
<ellipse cx="148" cy="378.6" rx="3.2" ry="1.3" fill="#19b64a"/>
<ellipse cx="50" cy="436.5" rx="2" ry="1.5" fill="#50c6d8"/>
<ellipse cx="51" cy="440" rx="1.5" ry="1.2" fill="#19b64a"/>
</g>
<g clip-path="url(#cH1)">
<rect x="169.6" y="377.3" width="150.4" height="79.2" fill="#ede5e7" stroke="none" stroke-width="1"/>
<polygon points="169.8,445 181.8,437 192.8,429.7 201.8,422.8 213.4,416 222.5,409 233.8,405.7 242.8,402.3 249.8,393.2 254.3,389.8 263.5,384 272.6,377.3 320.8,377.3 320.8,391 293.1,418.3 258.8,438.8 224.8,457 168.8,457" fill="#e86cab" stroke="none" stroke-width="1"/>
<rect x="169.6" y="377.3" width="150.4" height="79.2" fill="url(#p9)" opacity="0.8" clip-path="url(#cH1t)"/>
<path d="M225.8,457 L320.8,395" fill="none" stroke="#f7eef3" stroke-width="0.9"/>
<path d="M221.3,457 L320.8,398" fill="none" stroke="#f7eef3" stroke-width="0.9"/>
<path d="M215.3,457 L320.8,402" fill="none" stroke="#f7eef3" stroke-width="0.9"/>
<polyline points="169.8,445 181.8,437 192.8,429.7 201.8,422.8 213.4,416 222.5,409 233.8,405.7 242.8,402.3 249.8,393.2 254.3,389.8 263.5,384 272.6,377.3" fill="none" stroke="#b84380" stroke-width="1.2"/>
<rect x="169.6" y="377" width="150.4" height="80" fill="url(#p10)" opacity="1.0" clip-path="url(#cH1t)"/>
<rect x="169.6" y="377" width="150.4" height="80" fill="url(#p11)" opacity="1.0" clip-path="url(#cH1t)"/>
</g>
<rect x="21.7" y="430.3" width="28.5" height="22.1" fill="#050505" stroke="none" stroke-width="1"/>
<path d="M24.7,447.4 C33.1,442.46 41.65,440.25 47.2,435.3" fill="none" stroke="#5a5050" stroke-width="1" opacity="0.7"/>
<rect x="173.8" y="430.3" width="28.5" height="22.1" fill="#050505" stroke="none" stroke-width="1"/>
<path d="M176.8,447.4 C185.2,442.46 193.75,440.25 199.3,435.3" fill="none" stroke="#5a5050" stroke-width="1" opacity="0.7"/>
<circle cx="30.6" cy="385.6" r="2.9" fill="#f8766d" stroke="none" stroke-width="1"/>
<text x="37.6" y="388.6" font-size="8.2" text-anchor="start" fill="#333">Suprabasal</text>
<circle cx="30.6" cy="395.6" r="2.9" fill="#b79f00" stroke="none" stroke-width="1"/>
<text x="37.6" y="398.6" font-size="8.2" text-anchor="start" fill="#333">Basal</text>
<circle cx="30.6" cy="405.6" r="2.9" fill="#00ba38" stroke="none" stroke-width="1"/>
<text x="37.6" y="408.6" font-size="8.2" text-anchor="start" fill="#333">HF</text>
<circle cx="30.6" cy="415.6" r="2.9" fill="#6fd3d6" stroke="none" stroke-width="1"/>
<text x="37.6" y="418.6" font-size="8.2" text-anchor="start" fill="#333">SG</text>
<circle cx="187.4" cy="385.6" r="2.9" fill="#619cff" stroke="none" stroke-width="1"/>
<text x="194" y="388.6" font-size="8.2" text-anchor="start" fill="#333">Dermal</text>
<circle cx="187.4" cy="395.6" r="2.9" fill="#f564e3" stroke="none" stroke-width="1"/>
<text x="194" y="398.6" font-size="8.2" text-anchor="start" fill="#333">Immune</text>
<text x="300.3" y="447.6" font-size="8.1" text-anchor="middle" fill="#222">500µm</text>
<rect x="280" y="453.9" width="40" height="1.7" fill="#555" stroke="none" stroke-width="1"/>
<g clip-path="url(#cHY0)">
<rect x="398" y="377.4" width="107.2" height="78.6" fill="#ede5e7" stroke="none" stroke-width="1"/>
<polygon points="396,452 400.8,450.5 405.6,433 413.7,423 427.4,418.5 430.6,410.3 428,404 431,399 436,394 433,388 432,380 434,377 487.5,376.5 470,394 451.4,412 440,433 430.5,457 396,457" fill="#e86cab" stroke="none" stroke-width="1"/>
<rect x="398" y="377.4" width="107.2" height="78.6" fill="url(#p12)" opacity="0.8" clip-path="url(#cHY0t)"/>
<polygon points="487.5,377 470,394 451.4,412 440,433 430.5,457 443,457 466,433 486,412 494,394 500,377" fill="#f3e9ee" stroke="none" stroke-width="1"/>
<rect x="398" y="377" width="107.2" height="80" fill="url(#p13)" opacity="0.8" clip-path="url(#cHP0)"/>
<polyline points="500,377 494,394 486,412 466,433 443,457" fill="none" stroke="#e07db0" stroke-width="1.6"/>
<polyline points="487.5,377 470,394 451.4,412 440,433 430.5,457" fill="none" stroke="#e58ab5" stroke-width="0.8"/>
<path d="M458,405 C463,400 468,395 471,392" fill="none" stroke="#fff" stroke-width="1.5"/>
<polyline points="396,452 400.8,450.5 405.6,433 413.7,423 427.4,418.5 430.6,410.3 428,404 431,399 436,394 433,388 432,380 434,377" fill="none" stroke="#e58ab5" stroke-width="1"/>
<polyline points="401.6,450.9 406.4,433.4 414.5,423.4 428.2,418.9 431.4,410.7 428.8,404.4 431.8,399.4 436.8,394.4 433.8,388.4 432.8,380.4 434.8,377.4" fill="none" stroke="#f07070" stroke-width="1.6"/>
<polyline points="402.8,451.3 407.6,433.8 415.7,423.8 429.4,419.3 432.6,411.1 430,404.8 433,399.8 438,394.8 435,388.8 434,380.8 436,377.8" fill="none" stroke="#c9a030" stroke-width="1"/>
<path d="M436,394 C440,392 446,392 449,396 L447,401 C443,400 439,400 436,398 Z" fill="#d8a820" stroke="none" stroke-width="1"/>
<path d="M433,378 C440,378 446,380 446,386 C441,389 436,390 433,386 Z" fill="#f07a6a" stroke="none" stroke-width="1"/>
<ellipse cx="422.6" cy="431.4" rx="3.2" ry="1.3" fill="#19b64a" transform="rotate(-40 422.6 431.4)"/>
<ellipse cx="419" cy="445" rx="1.6" ry="1" fill="#19b64a"/>
<rect x="398" y="377" width="107.2" height="80" fill="url(#p14)" opacity="1.0" clip-path="url(#cHY0t)"/>
</g>
<g clip-path="url(#cHY1)">
<rect x="505.4" y="377.4" width="107.2" height="78.6" fill="#ede5e7" stroke="none" stroke-width="1"/>
<polygon points="503.4,452 508.2,450.5 513,433 521.1,423 534.8,418.5 538,410.3 535.4,404 538.4,399 543.4,394 540.4,388 539.4,380 541.4,377 594.9,376.5 577.4,394 558.8,412 547.4,433 537.9,457 503.4,457" fill="#e86cab" stroke="none" stroke-width="1"/>
<rect x="505.4" y="377.4" width="107.2" height="78.6" fill="url(#p15)" opacity="0.8" clip-path="url(#cHY1t)"/>
<polygon points="594.9,377 577.4,394 558.8,412 547.4,433 537.9,457 550.4,457 573.4,433 593.4,412 601.4,394 607.4,377" fill="#f3e9ee" stroke="none" stroke-width="1"/>
<rect x="505.4" y="377" width="107.2" height="80" fill="url(#p13)" opacity="0.8" clip-path="url(#cHP1)"/>
<polyline points="607.4,377 601.4,394 593.4,412 573.4,433 550.4,457" fill="none" stroke="#e07db0" stroke-width="1.6"/>
<polyline points="594.9,377 577.4,394 558.8,412 547.4,433 537.9,457" fill="none" stroke="#e58ab5" stroke-width="0.8"/>
<path d="M565.4,405 C570.4,400 575.4,395 578.4,392" fill="none" stroke="#fff" stroke-width="1.5"/>
<polyline points="503.4,452 508.2,450.5 513,433 521.1,423 534.8,418.5 538,410.3 535.4,404 538.4,399 543.4,394 540.4,388 539.4,380 541.4,377" fill="none" stroke="#e58ab5" stroke-width="1"/>
<path d="M540.5,378 C537,384 542,396 551,404 L556,398 C556,390 557,384 555,378 Z" fill="#b5457a" stroke="none" stroke-width="1"/>
<rect x="505.4" y="377" width="107.2" height="80" fill="url(#p16)" opacity="1.0" clip-path="url(#cHY1t)"/>
<rect x="505.4" y="377" width="107.2" height="80" fill="url(#p17)" opacity="1.0" clip-path="url(#cHY1t)"/>
</g>
<circle cx="409.4" cy="385.6" r="2.9" fill="#f8766d" stroke="none" stroke-width="1"/>
<text x="415.6" y="388.6" font-size="8.2" text-anchor="start" fill="#333">Suprabasal</text>
<circle cx="409.4" cy="395.6" r="2.9" fill="#b79f00" stroke="none" stroke-width="1"/>
<text x="415.6" y="398.6" font-size="8.2" text-anchor="start" fill="#333">Basal</text>
<circle cx="409.4" cy="405.6" r="2.9" fill="#00ba38" stroke="none" stroke-width="1"/>
<text x="415.6" y="408.6" font-size="8.2" text-anchor="start" fill="#333">HF</text>
<circle cx="409.4" cy="415.6" r="2.9" fill="#6fd3d6" stroke="none" stroke-width="1"/>
<text x="415.6" y="418.6" font-size="8.2" text-anchor="start" fill="#333">SG</text>
<circle cx="509.4" cy="385.6" r="2.9" fill="#619cff" stroke="none" stroke-width="1"/>
<text x="515.6" y="388.6" font-size="8.2" text-anchor="start" fill="#333">Dermal</text>
<circle cx="509.4" cy="395.6" r="2.9" fill="#f564e3" stroke="none" stroke-width="1"/>
<text x="515.6" y="398.6" font-size="8.2" text-anchor="start" fill="#333">Immune</text>
<text x="591.2" y="448" font-size="8.4" text-anchor="middle" font-weight="bold" fill="#222">500µm</text>
<rect x="570" y="454.2" width="40" height="1.7" fill="#555" stroke="none" stroke-width="1"/>
<text x="0.9" y="481" font-size="16.4" font-weight="bold" fill="#1a1a1a" transform="translate(0.9 481) scale(1 1.07) translate(-0.9 -481)">I</text>
<rect x="93.4" y="496.4" width="12.6" height="12" fill="#e6a526" stroke="#555" stroke-width="0.6"/>
<line x1="95.4" y1="500.4" x2="104" y2="500.4" stroke="#333" stroke-width="0.5"/>
<line x1="95.4" y1="504.4" x2="104" y2="504.4" stroke="#333" stroke-width="0.5"/>
<line x1="99.7" y1="496.4" x2="99.7" y2="500.4" stroke="#333" stroke-width="0.5"/>
<line x1="99.7" y1="504.4" x2="99.7" y2="508.4" stroke="#333" stroke-width="0.5"/>
<text x="112.4" y="506" font-size="9.8" text-anchor="start" fill="#231f20">NE</text>
<rect x="136.4" y="496.4" width="12.6" height="12" fill="#2aaee4" stroke="#555" stroke-width="0.6"/>
<line x1="138.4" y1="500.4" x2="147" y2="500.4" stroke="#333" stroke-width="0.5"/>
<line x1="138.4" y1="504.4" x2="147" y2="504.4" stroke="#333" stroke-width="0.5"/>
<line x1="142.7" y1="496.4" x2="142.7" y2="500.4" stroke="#333" stroke-width="0.5"/>
<line x1="142.7" y1="504.4" x2="142.7" y2="508.4" stroke="#333" stroke-width="0.5"/>
<text x="155.6" y="506" font-size="9.6" text-anchor="start" fill="#231f20">E-con</text>
<rect x="190" y="496.4" width="12.6" height="12" fill="#e8586f" stroke="#555" stroke-width="0.6"/>
<line x1="192" y1="500.4" x2="200.6" y2="500.4" stroke="#333" stroke-width="0.5"/>
<line x1="192" y1="504.4" x2="200.6" y2="504.4" stroke="#333" stroke-width="0.5"/>
<line x1="196.3" y1="496.4" x2="196.3" y2="500.4" stroke="#333" stroke-width="0.5"/>
<line x1="196.3" y1="504.4" x2="196.3" y2="508.4" stroke="#333" stroke-width="0.5"/>
<text x="208.6" y="506" font-size="9.6" text-anchor="start" fill="#231f20">E-Yd1</text>
<path d="M56.3,538L55.1,552L51.1,567L50.9,570.5L51.3,572L55.1,578.5L55.9,581L56.9,581L57.7,578.5L61.5,572L61.9,570.5L61.7,567L57.7,552L56.5,538Z" fill="#e6a526" stroke="#3a3030" stroke-width="0.5" stroke-linejoin="round"/>
<line x1="56.4" y1="538" x2="56.4" y2="581" stroke="#3a3030" stroke-width="0.45"/>
<rect x="54.9" y="559.77" width="3" height="14.02" fill="none" stroke="#222" stroke-width="0.5"/>
<line x1="54.9" y1="571" x2="57.9" y2="571" stroke="#222" stroke-width="0.5"/>
<path d="M67.5,522L66.7,530L61.9,542.5L62,551L67.2,581L68,581L73.2,551L73.3,542.5L68.5,530L67.7,522Z" fill="#2aaee4" stroke="#3a3030" stroke-width="0.5" stroke-linejoin="round"/>
<line x1="67.6" y1="522" x2="67.6" y2="581" stroke="#3a3030" stroke-width="0.45"/>
<rect x="66.1" y="537.74" width="3" height="19.14" fill="none" stroke="#222" stroke-width="0.5"/>
<line x1="66.1" y1="546" x2="69.1" y2="546" stroke="#222" stroke-width="0.5"/>
<path d="M78.7,514L78.6,528.5L78,531L77,533L73.7,537.5L72.9,539L72.8,540L73,541.5L74.1,544L77.1,549L78.3,552.5L78.7,573L78.9,573L79.3,552.5L80.5,549L83.5,544L84.6,541.5L84.8,540L84.7,539L83.9,537.5L80.6,533L79.6,531L79,528.5L78.9,514Z" fill="#e8586f" stroke="#3a3030" stroke-width="0.5" stroke-linejoin="round"/>
<line x1="78.8" y1="514" x2="78.8" y2="573" stroke="#3a3030" stroke-width="0.45"/>
<rect x="77.3" y="535.71" width="3" height="8.58" fill="none" stroke="#222" stroke-width="0.5"/>
<line x1="77.3" y1="541" x2="80.3" y2="541" stroke="#222" stroke-width="0.5"/>
<path d="M93.1,533L91.8,547.5L87.9,563L87.7,566.5L88.2,569L92,578L92.7,581L93.7,581L94.4,578L98.2,569L98.7,566.5L98.5,563L94.6,547.5L93.3,533Z" fill="#e6a526" stroke="#3a3030" stroke-width="0.5" stroke-linejoin="round"/>
<line x1="93.2" y1="533" x2="93.2" y2="581" stroke="#3a3030" stroke-width="0.45"/>
<rect x="91.7" y="555.44" width="3" height="15.67" fill="none" stroke="#222" stroke-width="0.5"/>
<line x1="91.7" y1="567" x2="94.7" y2="567" stroke="#222" stroke-width="0.5"/>
<path d="M104.3,519L103.2,531.5L98.6,547L98.6,553L103.9,578L104,580L104.8,580L104.9,578L110.2,553L110.2,547L105.6,531.5L104.5,519Z" fill="#2aaee4" stroke="#3a3030" stroke-width="0.5" stroke-linejoin="round"/>
<line x1="104.4" y1="519" x2="104.4" y2="580" stroke="#3a3030" stroke-width="0.45"/>
<rect x="102.9" y="540.1" width="3" height="19.47" fill="none" stroke="#222" stroke-width="0.5"/>
<line x1="102.9" y1="551" x2="105.9" y2="551" stroke="#222" stroke-width="0.5"/>
<path d="M115.5,516L114.4,528.5L109.8,544L109.9,551L115.2,578L115.2,579L116,579L116,578L121.3,551L121.4,544L116.8,528.5L115.7,516Z" fill="#e8586f" stroke="#3a3030" stroke-width="0.5" stroke-linejoin="round"/>
<line x1="115.6" y1="516" x2="115.6" y2="579" stroke="#3a3030" stroke-width="0.45"/>
<rect x="114.1" y="537.1" width="3" height="20.13" fill="none" stroke="#222" stroke-width="0.5"/>
<line x1="114.1" y1="548" x2="117.1" y2="548" stroke="#222" stroke-width="0.5"/>
<path d="M130.3,540L129.3,550.5L125.2,564L124.9,567.5L125.5,570L129.2,578L129.9,581L130.9,581L131.6,578L135.3,570L135.9,567.5L135.6,564L131.5,550.5L130.5,540Z" fill="#e6a526" stroke="#3a3030" stroke-width="0.5" stroke-linejoin="round"/>
<line x1="130.4" y1="540" x2="130.4" y2="581" stroke="#3a3030" stroke-width="0.45"/>
<rect x="128.9" y="558.09" width="3" height="13.69" fill="none" stroke="#222" stroke-width="0.5"/>
<line x1="128.9" y1="568" x2="131.9" y2="568" stroke="#222" stroke-width="0.5"/>
<path d="M141.5,541L140.6,551L135.9,565L135.6,568L135.8,569.5L136.8,572L139.9,577.5L141.1,581L142.1,581L143.3,577.5L146.4,572L147.4,569.5L147.6,568L147.3,565L142.6,551L141.7,541Z" fill="#2aaee4" stroke="#3a3030" stroke-width="0.5" stroke-linejoin="round"/>
<line x1="141.6" y1="541" x2="141.6" y2="581" stroke="#3a3030" stroke-width="0.45"/>
<rect x="140.1" y="559.42" width="3" height="13.04" fill="none" stroke="#222" stroke-width="0.5"/>
<line x1="140.1" y1="569" x2="143.1" y2="569" stroke="#222" stroke-width="0.5"/>
<path d="M152.7,528L151.8,538.5L147.1,553L146.9,557.5L152.2,580L152.3,581L153.3,581L153.4,580L158.7,557.5L158.5,553L153.8,538.5L152.9,528Z" fill="#e8586f" stroke="#3a3030" stroke-width="0.5" stroke-linejoin="round"/>
<line x1="152.8" y1="528" x2="152.8" y2="581" stroke="#3a3030" stroke-width="0.45"/>
<rect x="151.3" y="547.09" width="3" height="17.32" fill="none" stroke="#222" stroke-width="0.5"/>
<line x1="151.3" y1="557" x2="154.3" y2="557" stroke="#222" stroke-width="0.5"/>
<path d="M167.6,540L166.6,550L162.5,563L162.2,566.5L162.7,569L164.7,573.5L163.9,574.5L163.7,575L163.8,575.5L164.3,576.5L166.4,579L167,580L167.2,581L168.2,581L168.4,580L169,579L171.1,576.5L171.6,575.5L171.7,575L171.5,574.5L170.7,573.5L172.7,569L173.2,566.5L172.9,563L168.8,550L167.8,540Z" fill="#e6a526" stroke="#3a3030" stroke-width="0.5" stroke-linejoin="round"/>
<line x1="167.7" y1="540" x2="167.7" y2="581" stroke="#3a3030" stroke-width="0.45"/>
<rect x="166.2" y="557.42" width="3" height="13.7" fill="none" stroke="#222" stroke-width="0.5"/>
<line x1="166.2" y1="567" x2="169.2" y2="567" stroke="#222" stroke-width="0.5"/>
<path d="M178.8,527L177.3,544L173.6,560L173.5,564.5L178.1,579L178.4,581L179.4,581L179.7,579L184.3,564.5L184.2,560L180.5,544L179,527Z" fill="#2aaee4" stroke="#3a3030" stroke-width="0.5" stroke-linejoin="round"/>
<line x1="178.9" y1="527" x2="178.9" y2="581" stroke="#3a3030" stroke-width="0.45"/>
<rect x="177.4" y="551.45" width="3" height="17.65" fill="none" stroke="#222" stroke-width="0.5"/>
<line x1="177.4" y1="564" x2="180.4" y2="564" stroke="#222" stroke-width="0.5"/>
<path d="M190,528L188.8,540L184.4,554.5L184.1,559L189.4,579.5L189.6,581L190.6,581L190.8,579.5L196.1,559L195.8,554.5L191.4,540L190.2,528Z" fill="#e8586f" stroke="#3a3030" stroke-width="0.5" stroke-linejoin="round"/>
<line x1="190.1" y1="528" x2="190.1" y2="581" stroke="#3a3030" stroke-width="0.45"/>
<rect x="188.6" y="548.1" width="3" height="17.65" fill="none" stroke="#222" stroke-width="0.5"/>
<line x1="188.6" y1="559" x2="191.6" y2="559" stroke="#222" stroke-width="0.5"/>
<path d="M204.7,528L204.6,550L203.9,552.5L202.6,555.5L202.3,557L202.5,558.5L203.2,560.5L200.3,561.5L198.8,562L201.8,563L203.2,563.5L204.4,564L204.7,566L204.3,567.5L203,570L202.8,571L203.2,573.5L204.5,578L204.7,580L204.9,580L205.1,578L206.4,573.5L206.8,571L206.6,570L205.3,567.5L204.9,566L205.2,564L206.4,563.5L207.8,563L210.8,562L209.3,561.5L206.4,560.5L207.1,558.5L207.3,557L207,555.5L205.7,552.5L205,550L204.9,528Z" fill="#e6a526" stroke="#3a3030" stroke-width="0.5" stroke-linejoin="round"/>
<line x1="204.8" y1="528" x2="204.8" y2="580" stroke="#3a3030" stroke-width="0.45"/>
<rect x="203.3" y="558" width="3" height="7" fill="none" stroke="#222" stroke-width="0.5"/>
<line x1="203.3" y1="562" x2="206.3" y2="562" stroke="#222" stroke-width="0.5"/>
<path d="M215.9,514L214,534.5L210.2,551.5L210.1,557L215.2,575.5L215.6,578L216.4,578L216.8,575.5L221.9,557L221.8,551.5L218,534.5L216.1,514Z" fill="#2aaee4" stroke="#3a3030" stroke-width="0.5" stroke-linejoin="round"/>
<line x1="216" y1="514" x2="216" y2="578" stroke="#3a3030" stroke-width="0.45"/>
<rect x="214.5" y="541.8" width="3" height="20.79" fill="none" stroke="#222" stroke-width="0.5"/>
<line x1="214.5" y1="556" x2="217.5" y2="556" stroke="#222" stroke-width="0.5"/>
<path d="M227.1,519L225.8,533.5L221.5,549.5L221.3,555.5L226.6,578.5L226.8,580L227.6,580L227.8,578.5L233.1,555.5L232.9,549.5L228.6,533.5L227.3,519Z" fill="#e8586f" stroke="#3a3030" stroke-width="0.5" stroke-linejoin="round"/>
<line x1="227.2" y1="519" x2="227.2" y2="580" stroke="#3a3030" stroke-width="0.45"/>
<rect x="225.7" y="542.11" width="3" height="19.8" fill="none" stroke="#222" stroke-width="0.5"/>
<line x1="225.7" y1="554" x2="228.7" y2="554" stroke="#222" stroke-width="0.5"/>
<path d="M241.7,543L240.9,550.5L236.6,562.5L236.3,565.5L236.9,568.5L240.7,578L241.3,581L242.3,581L242.9,578L246.7,568.5L247.3,565.5L247,562.5L242.7,550.5L241.9,543Z" fill="#e6a526" stroke="#3a3030" stroke-width="0.5" stroke-linejoin="round"/>
<line x1="241.8" y1="543" x2="241.8" y2="581" stroke="#3a3030" stroke-width="0.45"/>
<rect x="240.3" y="557.74" width="3" height="12.71" fill="none" stroke="#222" stroke-width="0.5"/>
<line x1="240.3" y1="566" x2="243.3" y2="566" stroke="#222" stroke-width="0.5"/>
<path d="M252.9,523L251.3,543L247.6,560L247.6,564.5L252.2,579L252.5,581L253.5,581L253.8,579L258.4,564.5L258.4,560L254.7,543L253.1,523Z" fill="#2aaee4" stroke="#3a3030" stroke-width="0.5" stroke-linejoin="round"/>
<line x1="253" y1="523" x2="253" y2="581" stroke="#3a3030" stroke-width="0.45"/>
<rect x="251.5" y="550.46" width="3" height="18.64" fill="none" stroke="#222" stroke-width="0.5"/>
<line x1="251.5" y1="564" x2="254.5" y2="564" stroke="#222" stroke-width="0.5"/>
<path d="M264.1,518L262.5,537L258.4,554.5L258.3,560L263.4,579L263.7,581L264.7,581L265,579L270.1,560L270,554.5L265.9,537L264.3,518Z" fill="#e8586f" stroke="#3a3030" stroke-width="0.5" stroke-linejoin="round"/>
<line x1="264.2" y1="518" x2="264.2" y2="581" stroke="#3a3030" stroke-width="0.45"/>
<rect x="262.7" y="545.46" width="3" height="20.29" fill="none" stroke="#222" stroke-width="0.5"/>
<line x1="262.7" y1="559" x2="265.7" y2="559" stroke="#222" stroke-width="0.5"/>
<use href="#star" x="70.6" y="533"/><use href="#star" x="75.8" y="533"/>
<use href="#star" x="105" y="533"/><use href="#star" x="110.2" y="533"/><use href="#star" x="115.4" y="533"/>
<use href="#star" x="142.2" y="533"/><use href="#star" x="147.4" y="533"/><use href="#star" x="152.6" y="533"/>
<use href="#star" x="179.5" y="533"/><use href="#star" x="184.7" y="533"/><use href="#star" x="189.9" y="533"/>
<use href="#star" x="216.6" y="533"/><use href="#star" x="221.8" y="533"/><use href="#star" x="227" y="533"/>
<use href="#star" x="253.6" y="533"/><use href="#star" x="258.8" y="533"/><use href="#star" x="264" y="533"/>
<path d="M56.3,619L56.3,632L55.8,634L53.6,638L53.4,639L53.6,640L55.6,643.5L56.2,645.5L55.6,646L53.6,647L51.4,648L61.4,648L59.2,647L57.2,646L56.6,645.5L57.2,643.5L59.2,640L59.4,639L59.2,638L57,634L56.5,632L56.5,619Z" fill="#e6a526" stroke="#3a3030" stroke-width="0.5" stroke-linejoin="round"/>
<line x1="56.4" y1="619" x2="56.4" y2="648" stroke="#3a3030" stroke-width="0.45"/>
<rect x="54.9" y="644" width="3" height="4" fill="none" stroke="#222" stroke-width="0.5"/>
<line x1="54.9" y1="648" x2="57.9" y2="648" stroke="#222" stroke-width="0.5"/>
<path d="M67.5,616L67.5,630.5L67.3,631L65.6,633L67.3,635L67.5,635.5L67.5,638.5L67.1,639L64.2,641L62.6,642L66.4,644.5L67.1,645L67.5,645.5L67.5,646L67,646.5L64.6,648L70.6,648L68.2,646.5L67.7,646L67.7,645.5L68.1,645L68.8,644.5L72.6,642L71,641L68.1,639L67.7,638.5L67.7,635.5L67.9,635L69.6,633L67.9,631L67.7,630.5L67.7,616Z" fill="#2aaee4" stroke="#3a3030" stroke-width="0.5" stroke-linejoin="round"/>
<line x1="67.6" y1="616" x2="67.6" y2="648" stroke="#3a3030" stroke-width="0.45"/>
<rect x="66.1" y="638" width="3" height="7" fill="none" stroke="#222" stroke-width="0.5"/>
<line x1="66.1" y1="642" x2="69.1" y2="642" stroke="#222" stroke-width="0.5"/>
<path d="M78.7,617L78.7,633.5L78.5,634L76.8,636L78.5,638L78.7,638.5L78.3,639L75.4,641L73.8,642L77.6,644.5L78.3,645L78.7,645.5L78.7,646L78.2,646.5L75.8,648L81.8,648L79.4,646.5L78.9,646L78.9,645.5L79.3,645L80,644.5L83.8,642L82.2,641L79.3,639L78.9,638.5L79.1,638L80.8,636L79.1,634L78.9,633.5L78.9,617Z" fill="#e8586f" stroke="#3a3030" stroke-width="0.5" stroke-linejoin="round"/>
<line x1="78.8" y1="617" x2="78.8" y2="648" stroke="#3a3030" stroke-width="0.45"/>
<rect x="77.3" y="638" width="3" height="7" fill="none" stroke="#222" stroke-width="0.5"/>
<line x1="77.3" y1="642" x2="80.3" y2="642" stroke="#222" stroke-width="0.5"/>
<path d="M93.1,618L93.1,632L92.6,634L90.4,638L90.2,639L90.4,640L92.4,643.5L93,645.5L92.4,646L90.4,647L88.2,648L98.2,648L96,647L94,646L93.4,645.5L94,643.5L96,640L96.2,639L96,638L93.8,634L93.3,632L93.3,618Z" fill="#e6a526" stroke="#3a3030" stroke-width="0.5" stroke-linejoin="round"/>
<line x1="93.2" y1="618" x2="93.2" y2="648" stroke="#3a3030" stroke-width="0.45"/>
<rect x="91.7" y="644" width="3" height="4" fill="none" stroke="#222" stroke-width="0.5"/>
<line x1="91.7" y1="648" x2="94.7" y2="648" stroke="#222" stroke-width="0.5"/>
<path d="M104.3,604L104.3,621L104.2,621.5L103.2,623L104.2,624.5L104.3,625L104.3,627L104,627.5L101.4,630L104,632.5L104.3,633L104.3,634L103.9,634.5L100.4,637L103.3,639L103.8,639.5L101.3,641L99.4,642L103,644L103.8,644.5L104.3,645L104.3,646L103.8,646.5L101.4,648L107.4,648L105,646.5L104.5,646L104.5,645L105,644.5L105.8,644L109.4,642L107.5,641L105,639.5L105.5,639L108.4,637L104.9,634.5L104.5,634L104.5,633L104.8,632.5L107.4,630L104.8,627.5L104.5,627L104.5,625L104.6,624.5L105.6,623L104.6,621.5L104.5,621L104.5,604Z" fill="#2aaee4" stroke="#3a3030" stroke-width="0.5" stroke-linejoin="round"/>
<line x1="104.4" y1="604" x2="104.4" y2="648" stroke="#3a3030" stroke-width="0.45"/>
<rect x="102.9" y="638" width="3" height="7" fill="none" stroke="#222" stroke-width="0.5"/>
<line x1="102.9" y1="642" x2="105.9" y2="642" stroke="#222" stroke-width="0.5"/>
<path d="M115.5,606L115.5,621L115.3,621.5L112.6,625L115.3,628.5L115.5,629L115.5,629.5L115.1,630L112.2,632L110.6,633L114.4,635.5L114.5,636L111.6,638L113.8,639.5L113.9,640L109.6,642L112.9,643.5L114.8,644.5L115.5,645L115.5,646L115,646.5L112.6,648L118.6,648L116.2,646.5L115.7,646L115.7,645L116.4,644.5L118.3,643.5L121.6,642L117.3,640L117.4,639.5L119.6,638L116.7,636L116.8,635.5L120.6,633L119,632L116.1,630L115.7,629.5L115.7,629L115.9,628.5L118.6,625L115.9,621.5L115.7,621L115.7,606Z" fill="#e8586f" stroke="#3a3030" stroke-width="0.5" stroke-linejoin="round"/>
<line x1="115.6" y1="606" x2="115.6" y2="648" stroke="#3a3030" stroke-width="0.45"/>
<rect x="114.1" y="638" width="3" height="7" fill="none" stroke="#222" stroke-width="0.5"/>
<line x1="114.1" y1="642" x2="117.1" y2="642" stroke="#222" stroke-width="0.5"/>
<path d="M130.3,606L130.2,632L129.6,634.5L127.7,638.5L127.4,639.5L127.4,640.5L127.9,642L129.6,645.5L129.6,646L127.6,647L125.4,648L135.4,648L133.2,647L131.2,646L131.2,645.5L132.9,642L133.4,640.5L133.4,639.5L133.1,638.5L131.2,634.5L130.6,632L130.5,606Z" fill="#e6a526" stroke="#3a3030" stroke-width="0.5" stroke-linejoin="round"/>
<line x1="130.4" y1="606" x2="130.4" y2="648" stroke="#3a3030" stroke-width="0.45"/>
<rect x="128.9" y="644" width="3" height="4" fill="none" stroke="#222" stroke-width="0.5"/>
<line x1="128.9" y1="648" x2="131.9" y2="648" stroke="#222" stroke-width="0.5"/>
<path d="M141.5,609L141.4,631L140.7,634L138.8,638.5L138.6,640L138.8,641.5L140.7,646L140.6,646.5L138.6,648L144.6,648L142.6,646.5L142.5,646L144.4,641.5L144.6,640L144.4,638.5L142.5,634L141.8,631L141.7,609Z" fill="#2aaee4" stroke="#3a3030" stroke-width="0.5" stroke-linejoin="round"/>
<line x1="141.6" y1="609" x2="141.6" y2="648" stroke="#3a3030" stroke-width="0.45"/>
<rect x="140.1" y="636.15" width="3" height="7.7" fill="none" stroke="#222" stroke-width="0.5"/>
<line x1="140.1" y1="640" x2="143.1" y2="640" stroke="#222" stroke-width="0.5"/>
<path d="M152.7,603L152.1,619L147.5,634.5L147.4,638.5L149.6,647L148.9,647.5L147.8,648L157.8,648L156.7,647.5L156,647L158.2,638.5L158.1,634.5L153.5,619L152.9,603Z" fill="#e8586f" stroke="#3a3030" stroke-width="0.5" stroke-linejoin="round"/>
<line x1="152.8" y1="603" x2="152.8" y2="648" stroke="#3a3030" stroke-width="0.45"/>
<rect x="151.3" y="628.42" width="3" height="15.84" fill="none" stroke="#222" stroke-width="0.5"/>
<line x1="151.3" y1="638" x2="154.3" y2="638" stroke="#222" stroke-width="0.5"/>
<path d="M167.6,607L167.5,628L165.8,634L165.7,635.5L167.5,642L167.6,645.5L166.9,646L164.9,647L162.7,648L172.7,648L170.5,647L168.5,646L167.8,645.5L167.9,642L169.7,635.5L169.6,634L167.9,628L167.8,607Z" fill="#e6a526" stroke="#3a3030" stroke-width="0.5" stroke-linejoin="round"/>
<line x1="167.7" y1="607" x2="167.7" y2="648" stroke="#3a3030" stroke-width="0.45"/>
<rect x="166.2" y="644" width="3" height="4" fill="none" stroke="#222" stroke-width="0.5"/>
<line x1="166.2" y1="648" x2="169.2" y2="648" stroke="#222" stroke-width="0.5"/>
<path d="M178.8,594L178.6,625.5L177.9,628.5L175.3,634L174.9,635.5L175,637L176,639.5L177.9,643.5L178.5,645.5L178.3,646L175.8,647.5L174.9,648L182.9,648L182,647.5L179.5,646L179.3,645.5L179.9,643.5L181.8,639.5L182.8,637L182.9,635.5L182.5,634L179.9,628.5L179.2,625.5L179,594Z" fill="#2aaee4" stroke="#3a3030" stroke-width="0.5" stroke-linejoin="round"/>
<line x1="178.9" y1="594" x2="178.9" y2="648" stroke="#3a3030" stroke-width="0.45"/>
<rect x="177.4" y="631.6" width="3" height="8.8" fill="none" stroke="#222" stroke-width="0.5"/>
<line x1="177.4" y1="636" x2="180.4" y2="636" stroke="#222" stroke-width="0.5"/>
<path d="M190,604L189.8,625.5L189.1,628.5L186.5,634L186.1,635.5L186.2,637L187.2,639.5L189.1,643.5L189.7,645.5L189.5,646L187,647.5L186.1,648L194.1,648L193.2,647.5L190.7,646L190.5,645.5L191.1,643.5L193,639.5L194,637L194.1,635.5L193.7,634L191.1,628.5L190.4,625.5L190.2,604Z" fill="#e8586f" stroke="#3a3030" stroke-width="0.5" stroke-linejoin="round"/>
<line x1="190.1" y1="604" x2="190.1" y2="648" stroke="#3a3030" stroke-width="0.45"/>
<rect x="188.6" y="631.6" width="3" height="8.8" fill="none" stroke="#222" stroke-width="0.5"/>
<line x1="188.6" y1="636" x2="191.6" y2="636" stroke="#222" stroke-width="0.5"/>
<path d="M204.7,596L204.6,634L204.2,635.5L203,638L202.8,639L203,640L204.4,643L204.7,644.5L204.7,645.5L204,646L202,647L199.8,648L209.8,648L207.6,647L205.6,646L204.9,645.5L204.9,644.5L205.2,643L206.6,640L206.8,639L206.6,638L205.4,635.5L205,634L204.9,596Z" fill="#e6a526" stroke="#3a3030" stroke-width="0.5" stroke-linejoin="round"/>
<line x1="204.8" y1="596" x2="204.8" y2="648" stroke="#3a3030" stroke-width="0.45"/>
<rect x="203.3" y="644" width="3" height="4" fill="none" stroke="#222" stroke-width="0.5"/>
<line x1="203.3" y1="648" x2="206.3" y2="648" stroke="#222" stroke-width="0.5"/>
<path d="M215.9,584L215.7,624.5L214.7,628.5L212.3,634L212,636L212.3,638L215.2,645L215.4,646L212.9,647.5L212,648L220,648L219.1,647.5L216.6,646L216.8,645L219.7,638L220,636L219.7,634L217.3,628.5L216.3,624.5L216.1,584Z" fill="#2aaee4" stroke="#3a3030" stroke-width="0.5" stroke-linejoin="round"/>
<line x1="216" y1="584" x2="216" y2="648" stroke="#3a3030" stroke-width="0.45"/>
<rect x="214.5" y="631.05" width="3" height="9.9" fill="none" stroke="#222" stroke-width="0.5"/>
<line x1="214.5" y1="636" x2="217.5" y2="636" stroke="#222" stroke-width="0.5"/>
<path d="M227.1,581.5L226.9,626.5L225.9,630.5L223.5,636L223.2,638L223.5,640L226.1,646L225.8,646.5L223.2,648L231.2,648L228.6,646.5L228.3,646L230.9,640L231.2,638L230.9,636L228.5,630.5L227.5,626.5L227.3,581.5Z" fill="#e8586f" stroke="#3a3030" stroke-width="0.5" stroke-linejoin="round"/>
<line x1="227.2" y1="581.5" x2="227.2" y2="648" stroke="#3a3030" stroke-width="0.45"/>
<rect x="225.7" y="633.05" width="3" height="9.9" fill="none" stroke="#222" stroke-width="0.5"/>
<line x1="225.7" y1="638" x2="228.7" y2="638" stroke="#222" stroke-width="0.5"/>
<path d="M241.7,609L241.7,639L241.6,639.5L240.3,642L241.6,644.5L241.7,646L241,646.5L238.9,647.5L237.8,648L245.8,648L244.7,647.5L242.6,646.5L241.9,646L242,644.5L243.3,642L242,639.5L241.9,639L241.9,609Z" fill="#e6a526" stroke="#3a3030" stroke-width="0.5" stroke-linejoin="round"/>
<line x1="241.8" y1="609" x2="241.8" y2="648" stroke="#3a3030" stroke-width="0.45"/>
<rect x="240.3" y="644" width="3" height="4" fill="none" stroke="#222" stroke-width="0.5"/>
<line x1="240.3" y1="648" x2="243.3" y2="648" stroke="#222" stroke-width="0.5"/>
<path d="M252.9,613L252.9,632.5L252.7,633L251,635L252.7,637L252.9,637.5L252.9,639L252.5,639.5L249,642L251.9,644L252.5,644.5L252.9,645L252.9,646L252.4,646.5L250,648L256,648L253.6,646.5L253.1,646L253.1,645L253.5,644.5L254.1,644L257,642L253.5,639.5L253.1,639L253.1,637.5L253.3,637L255,635L253.3,633L253.1,632.5L253.1,613Z" fill="#2aaee4" stroke="#3a3030" stroke-width="0.5" stroke-linejoin="round"/>
<line x1="253" y1="613" x2="253" y2="648" stroke="#3a3030" stroke-width="0.45"/>
<rect x="251.5" y="638" width="3" height="7" fill="none" stroke="#222" stroke-width="0.5"/>
<line x1="251.5" y1="642" x2="254.5" y2="642" stroke="#222" stroke-width="0.5"/>
<path d="M264.1,605L264.1,633L263.8,633.5L261.2,636L263.8,638.5L264.1,639L263.7,639.5L260.2,642L263.1,644L263.7,644.5L264.1,645L264.1,646L263.6,646.5L261.2,648L267.2,648L264.8,646.5L264.3,646L264.3,645L264.7,644.5L265.3,644L268.2,642L264.7,639.5L264.3,639L264.6,638.5L267.2,636L264.6,633.5L264.3,633L264.3,605Z" fill="#e8586f" stroke="#3a3030" stroke-width="0.5" stroke-linejoin="round"/>
<line x1="264.2" y1="605" x2="264.2" y2="648" stroke="#3a3030" stroke-width="0.45"/>
<rect x="262.7" y="638" width="3" height="7" fill="none" stroke="#222" stroke-width="0.5"/>
<line x1="262.7" y1="642" x2="265.7" y2="642" stroke="#222" stroke-width="0.5"/>
<use href="#star" x="70.6" y="602"/><use href="#star" x="75.8" y="602"/>
<use href="#star" x="105" y="602"/><use href="#star" x="110.2" y="602"/><use href="#star" x="115.4" y="602"/>
<use href="#star" x="142.2" y="602"/><use href="#star" x="147.4" y="602"/><use href="#star" x="152.6" y="602"/>
<use href="#star" x="216.6" y="602"/><use href="#star" x="221.8" y="602"/><use href="#star" x="227" y="602"/>
<use href="#star" x="253.6" y="602"/><use href="#star" x="258.8" y="602"/><use href="#star" x="264" y="602"/>
<path d="M56.3,683L56.2,689L54.5,694L54.4,695L54.7,696.5L56,700L56.3,701.5L55.9,702L53,704L51.4,705L55.2,707.5L55.9,708L56.3,708.5L56.3,712.5L55.9,713L53.4,715L59.4,715L56.9,713L56.5,712.5L56.5,708.5L56.9,708L57.6,707.5L61.4,705L59.8,704L56.9,702L56.5,701.5L56.8,700L58.1,696.5L58.4,695L58.3,694L56.6,689L56.5,683Z" fill="#e6a526" stroke="#3a3030" stroke-width="0.5" stroke-linejoin="round"/>
<line x1="56.4" y1="683" x2="56.4" y2="715" stroke="#3a3030" stroke-width="0.45"/>
<rect x="54.9" y="701" width="3" height="7" fill="none" stroke="#222" stroke-width="0.5"/>
<line x1="54.9" y1="705" x2="57.9" y2="705" stroke="#222" stroke-width="0.5"/>
<path d="M67.5,683L67.5,701L67.1,701.5L63.3,704.5L62.6,705L66,707.5L67.1,708.5L67.5,709L67.5,712.5L67.1,713L64.6,715L70.6,715L68.1,713L67.7,712.5L67.7,709L68.1,708.5L69.2,707.5L72.6,705L71.9,704.5L68.1,701.5L67.7,701L67.7,683Z" fill="#2aaee4" stroke="#3a3030" stroke-width="0.5" stroke-linejoin="round"/>
<line x1="67.6" y1="683" x2="67.6" y2="715" stroke="#3a3030" stroke-width="0.45"/>
<rect x="66.1" y="701" width="3" height="7" fill="none" stroke="#222" stroke-width="0.5"/>
<line x1="66.1" y1="705" x2="69.1" y2="705" stroke="#222" stroke-width="0.5"/>
<path d="M78.7,672L78.7,694L78.5,694.5L76.8,697L78.5,699.5L78.7,700L78.7,701.5L78.3,702L75.4,704L73.8,705L77.6,707.5L78.3,708L78.7,708.5L78.7,712.5L78.3,713L75.8,715L81.8,715L79.3,713L78.9,712.5L78.9,708.5L79.3,708L80,707.5L83.8,705L82.2,704L79.3,702L78.9,701.5L78.9,700L79.1,699.5L80.8,697L79.1,694.5L78.9,694L78.9,672Z" fill="#e8586f" stroke="#3a3030" stroke-width="0.5" stroke-linejoin="round"/>
<line x1="78.8" y1="672" x2="78.8" y2="715" stroke="#3a3030" stroke-width="0.45"/>
<rect x="77.3" y="701" width="3" height="7" fill="none" stroke="#222" stroke-width="0.5"/>
<line x1="77.3" y1="705" x2="80.3" y2="705" stroke="#222" stroke-width="0.5"/>
<path d="M93.1,676L93,685L92.6,686.5L91.4,689L91.2,690L91.4,691L92.8,694L93.1,695.5L93.1,701.5L92.7,702L89.8,704L88.2,705L92,707.5L92.7,708L93.1,708.5L93.1,712.5L92.7,713L90.2,715L96.2,715L93.7,713L93.3,712.5L93.3,708.5L93.7,708L94.4,707.5L98.2,705L96.6,704L93.7,702L93.3,701.5L93.3,695.5L93.6,694L95,691L95.2,690L95,689L93.8,686.5L93.4,685L93.3,676Z" fill="#e6a526" stroke="#3a3030" stroke-width="0.5" stroke-linejoin="round"/>
<line x1="93.2" y1="676" x2="93.2" y2="715" stroke="#3a3030" stroke-width="0.45"/>
<rect x="91.7" y="701" width="3" height="7" fill="none" stroke="#222" stroke-width="0.5"/>
<line x1="91.7" y1="705" x2="94.7" y2="705" stroke="#222" stroke-width="0.5"/>
<path d="M104.3,661L104.1,684.5L103.4,687.5L100.8,693L100.4,694.5L100.5,696L101.5,698.5L103.2,702L103.2,702.5L99.4,705L103.2,707.5L103.9,708L104.3,708.5L104.3,712.5L103.9,713L101.4,715L107.4,715L104.9,713L104.5,712.5L104.5,708.5L104.9,708L105.6,707.5L109.4,705L105.6,702.5L105.6,702L107.3,698.5L108.3,696L108.4,694.5L108,693L105.4,687.5L104.7,684.5L104.5,661Z" fill="#2aaee4" stroke="#3a3030" stroke-width="0.5" stroke-linejoin="round"/>
<line x1="104.4" y1="661" x2="104.4" y2="715" stroke="#3a3030" stroke-width="0.45"/>
<rect x="102.9" y="701" width="3" height="7" fill="none" stroke="#222" stroke-width="0.5"/>
<line x1="102.9" y1="705" x2="105.9" y2="705" stroke="#222" stroke-width="0.5"/>
<path d="M115.5,671L115.3,684.5L114.6,687.5L112,693L111.6,694.5L111.7,696L112.7,698.5L114.6,702.5L114.5,703L111.6,705L114.5,707L115.1,707.5L115.5,708L115.5,712.5L115,713L112.5,714.5L111.6,715L119.6,715L118.7,714.5L116.2,713L115.7,712.5L115.7,708L116.1,707.5L116.7,707L119.6,705L116.7,703L116.6,702.5L118.5,698.5L119.5,696L119.6,694.5L119.2,693L116.6,687.5L115.9,684.5L115.7,671Z" fill="#e8586f" stroke="#3a3030" stroke-width="0.5" stroke-linejoin="round"/>
<line x1="115.6" y1="671" x2="115.6" y2="715" stroke="#3a3030" stroke-width="0.45"/>
<rect x="114.1" y="690.6" width="3" height="8.8" fill="none" stroke="#222" stroke-width="0.5"/>
<line x1="114.1" y1="695" x2="117.1" y2="695" stroke="#222" stroke-width="0.5"/>
<path d="M130.3,663L130.3,683.5L129.7,686L128.5,689L128.4,690L128.7,691.5L130,695L130.3,701.5L129.9,702L127,704L125.4,705L129.2,707.5L129.9,708L130.3,708.5L130.3,712.5L129.9,713L127.4,715L133.4,715L130.9,713L130.5,712.5L130.5,708.5L130.9,708L131.6,707.5L135.4,705L133.8,704L130.9,702L130.5,701.5L130.8,695L132.1,691.5L132.4,690L132.3,689L131.1,686L130.5,683.5L130.5,663Z" fill="#e6a526" stroke="#3a3030" stroke-width="0.5" stroke-linejoin="round"/>
<line x1="130.4" y1="663" x2="130.4" y2="715" stroke="#3a3030" stroke-width="0.45"/>
<rect x="128.9" y="701" width="3" height="7" fill="none" stroke="#222" stroke-width="0.5"/>
<line x1="128.9" y1="705" x2="131.9" y2="705" stroke="#222" stroke-width="0.5"/>
<path d="M141.5,662L141.3,688L140.6,691L137,698L136.6,699.5L136.7,701L137.4,703L140.4,708.5L141.4,712.5L141.1,713L138.6,715L144.6,715L142.1,713L141.8,712.5L142.8,708.5L145.8,703L146.5,701L146.6,699.5L146.2,698L142.6,691L141.9,688L141.7,662Z" fill="#2aaee4" stroke="#3a3030" stroke-width="0.5" stroke-linejoin="round"/>
<line x1="141.6" y1="662" x2="141.6" y2="715" stroke="#3a3030" stroke-width="0.45"/>
<rect x="140.1" y="695.05" width="3" height="9.9" fill="none" stroke="#222" stroke-width="0.5"/>
<line x1="140.1" y1="700" x2="143.1" y2="700" stroke="#222" stroke-width="0.5"/>
<path d="M152.7,668L152.5,678.5L151.6,682L147.4,689.5L146.9,691L146.8,692.5L147.2,694L151.4,701.5L152.5,705.5L152.2,706.5L151,709L150.8,710L151,711L152.4,714L152.6,715L153,715L153.2,714L154.6,711L154.8,710L154.6,709L153.4,706.5L153.1,705.5L154.2,701.5L158.4,694L158.8,692.5L158.7,691L158.2,689.5L154,682L153.1,678.5L152.9,668Z" fill="#e8586f" stroke="#3a3030" stroke-width="0.5" stroke-linejoin="round"/>
<line x1="152.8" y1="668" x2="152.8" y2="715" stroke="#3a3030" stroke-width="0.45"/>
<rect x="151.3" y="686.5" width="3" height="11" fill="none" stroke="#222" stroke-width="0.5"/>
<line x1="151.3" y1="692" x2="154.3" y2="692" stroke="#222" stroke-width="0.5"/>
<path d="M167.6,669L167.6,702L167.1,702.5L164.6,704L162.7,705L166.3,707L167.1,707.5L167.6,708L167.6,712.5L167.2,713L164.7,715L170.7,715L168.2,713L167.8,712.5L167.8,708L168.3,707.5L169.1,707L172.7,705L170.8,704L168.3,702.5L167.8,702L167.8,669Z" fill="#e6a526" stroke="#3a3030" stroke-width="0.5" stroke-linejoin="round"/>
<line x1="167.7" y1="669" x2="167.7" y2="715" stroke="#3a3030" stroke-width="0.45"/>
<rect x="166.2" y="701" width="3" height="7" fill="none" stroke="#222" stroke-width="0.5"/>
<line x1="166.2" y1="705" x2="169.2" y2="705" stroke="#222" stroke-width="0.5"/>
<path d="M178.8,666L178.6,685.5L177.6,689.5L175.2,695L174.9,697L175.2,699L178.1,706L178.8,710.5L178.8,712.5L178.4,713L175.9,715L181.9,715L179.4,713L179,712.5L179,710.5L179.7,706L182.6,699L182.9,697L182.6,695L180.2,689.5L179.2,685.5L179,666Z" fill="#2aaee4" stroke="#3a3030" stroke-width="0.5" stroke-linejoin="round"/>
<line x1="178.9" y1="666" x2="178.9" y2="715" stroke="#3a3030" stroke-width="0.45"/>
<rect x="177.4" y="692.05" width="3" height="9.9" fill="none" stroke="#222" stroke-width="0.5"/>
<line x1="177.4" y1="697" x2="180.4" y2="697" stroke="#222" stroke-width="0.5"/>
<path d="M190,653L189.8,683.5L188.9,687.5L185.6,694.5L185.1,696.5L185.3,698.5L189.1,707L190,712L190,712.5L189.5,713L187,714.5L186.1,715L194.1,715L193.2,714.5L190.7,713L190.2,712.5L190.2,712L191.1,707L194.9,698.5L195.1,696.5L194.6,694.5L191.3,687.5L190.4,683.5L190.2,653Z" fill="#e8586f" stroke="#3a3030" stroke-width="0.5" stroke-linejoin="round"/>
<line x1="190.1" y1="653" x2="190.1" y2="715" stroke="#3a3030" stroke-width="0.45"/>
<rect x="188.6" y="691.5" width="3" height="11" fill="none" stroke="#222" stroke-width="0.5"/>
<line x1="188.6" y1="697" x2="191.6" y2="697" stroke="#222" stroke-width="0.5"/>
<path d="M204.7,662L204.7,703.5L204,704L202,705L199.8,706L203.1,707.5L204,708L204.7,708.5L204.7,713L204.6,713.5L203.8,715L205.8,715L205,713.5L204.9,713L204.9,708.5L205.6,708L206.5,707.5L209.8,706L207.6,705L205.6,704L204.9,703.5L204.9,662Z" fill="#e6a526" stroke="#3a3030" stroke-width="0.5" stroke-linejoin="round"/>
<line x1="204.8" y1="662" x2="204.8" y2="715" stroke="#3a3030" stroke-width="0.45"/>
<rect x="203.3" y="702" width="3" height="7" fill="none" stroke="#222" stroke-width="0.5"/>
<line x1="203.3" y1="706" x2="206.3" y2="706" stroke="#222" stroke-width="0.5"/>
<path d="M215.9,657L215.6,681.5L212.1,693.5L212.1,696L215.4,707L215.9,712.5L215.5,713L213,715L219,715L216.5,713L216.1,712.5L216.6,707L219.9,696L219.9,693.5L216.4,681.5L216.1,657Z" fill="#2aaee4" stroke="#3a3030" stroke-width="0.5" stroke-linejoin="round"/>
<line x1="216" y1="657" x2="216" y2="715" stroke="#3a3030" stroke-width="0.45"/>
<rect x="214.5" y="688.95" width="3" height="12.1" fill="none" stroke="#222" stroke-width="0.5"/>
<line x1="214.5" y1="695" x2="217.5" y2="695" stroke="#222" stroke-width="0.5"/>
<path d="M227.1,664L226.9,685.5L225.9,689.5L223.5,695L223.2,697L223.5,699L226.4,706L227.1,710.5L227.1,712.5L226.7,713L224.2,715L230.2,715L227.7,713L227.3,712.5L227.3,710.5L228,706L230.9,699L231.2,697L230.9,695L228.5,689.5L227.5,685.5L227.3,664Z" fill="#e8586f" stroke="#3a3030" stroke-width="0.5" stroke-linejoin="round"/>
<line x1="227.2" y1="664" x2="227.2" y2="715" stroke="#3a3030" stroke-width="0.45"/>
<rect x="225.7" y="692.05" width="3" height="9.9" fill="none" stroke="#222" stroke-width="0.5"/>
<line x1="225.7" y1="697" x2="228.7" y2="697" stroke="#222" stroke-width="0.5"/>
<path d="M241.7,658L241.7,703.5L241,704L239,705L236.8,706L240.1,707.5L241,708L241.7,708.5L241.7,713L241.6,713.5L240.8,715L242.8,715L242,713.5L241.9,713L241.9,708.5L242.6,708L243.5,707.5L246.8,706L244.6,705L242.6,704L241.9,703.5L241.9,658Z" fill="#e6a526" stroke="#3a3030" stroke-width="0.5" stroke-linejoin="round"/>
<line x1="241.8" y1="658" x2="241.8" y2="715" stroke="#3a3030" stroke-width="0.45"/>
<rect x="240.3" y="702" width="3" height="7" fill="none" stroke="#222" stroke-width="0.5"/>
<line x1="240.3" y1="706" x2="243.3" y2="706" stroke="#222" stroke-width="0.5"/>
<path d="M252.9,658L252.7,679L251.6,683L248.5,689.5L248,691.5L248.2,693.5L252,702L252.9,707L252.9,712.5L252.5,713L250,715L256,715L253.5,713L253.1,712.5L253.1,707L254,702L257.8,693.5L258,691.5L257.5,689.5L254.4,683L253.3,679L253.1,658Z" fill="#2aaee4" stroke="#3a3030" stroke-width="0.5" stroke-linejoin="round"/>
<line x1="253" y1="658" x2="253" y2="715" stroke="#3a3030" stroke-width="0.45"/>
<rect x="251.5" y="686.5" width="3" height="11" fill="none" stroke="#222" stroke-width="0.5"/>
<line x1="251.5" y1="692" x2="254.5" y2="692" stroke="#222" stroke-width="0.5"/>
<path d="M264.1,648.5L263.9,683.5L263,687.5L259.7,694.5L259.2,696.5L259.4,698.5L263.2,707L264.1,712L264.1,712.5L263.7,713L261.2,715L267.2,715L264.7,713L264.3,712.5L264.3,712L265.2,707L269,698.5L269.2,696.5L268.7,694.5L265.4,687.5L264.5,683.5L264.3,648.5Z" fill="#e8586f" stroke="#3a3030" stroke-width="0.5" stroke-linejoin="round"/>
<line x1="264.2" y1="648.5" x2="264.2" y2="715" stroke="#3a3030" stroke-width="0.45"/>
<rect x="262.7" y="691.5" width="3" height="11" fill="none" stroke="#222" stroke-width="0.5"/>
<line x1="262.7" y1="697" x2="265.7" y2="697" stroke="#222" stroke-width="0.5"/>
<use href="#star" x="70.6" y="667"/><use href="#star" x="75.8" y="667"/>
<use href="#star" x="110.2" y="667"/>
<use href="#star" x="142.2" y="667"/><use href="#star" x="147.4" y="667"/><use href="#star" x="152.6" y="667"/>
<use href="#star" x="179.5" y="667"/><use href="#star" x="184.7" y="667"/><use href="#star" x="189.9" y="667"/>
<use href="#star" x="221.8" y="667"/>
<rect x="45.6" y="514.4" width="230" height="200.6" fill="none" stroke="#555" stroke-width="0.9"/>
<line x1="45.6" y1="581.4" x2="275.6" y2="581.4" stroke="#555" stroke-width="0.9"/>
<line x1="45.6" y1="648.4" x2="275.6" y2="648.4" stroke="#555" stroke-width="0.9"/>
<line x1="43" y1="516" x2="45.6" y2="516" stroke="#555" stroke-width="0.8"/>
<line x1="43" y1="537" x2="45.6" y2="537" stroke="#555" stroke-width="0.8"/>
<text x="41.5" y="540.4" font-size="9.6" text-anchor="end" fill="#231f20">0.4</text>
<line x1="43" y1="559.4" x2="45.6" y2="559.4" stroke="#555" stroke-width="0.8"/>
<line x1="43" y1="583" x2="45.6" y2="583" stroke="#555" stroke-width="0.8"/>
<line x1="43" y1="599" x2="45.6" y2="599" stroke="#555" stroke-width="0.8"/>
<text x="41.5" y="602.4" font-size="9.6" text-anchor="end" fill="#231f20">0.6</text>
<line x1="43" y1="615.4" x2="45.6" y2="615.4" stroke="#555" stroke-width="0.8"/>
<line x1="43" y1="632" x2="45.6" y2="632" stroke="#555" stroke-width="0.8"/>
<line x1="43" y1="656.6" x2="45.6" y2="656.6" stroke="#555" stroke-width="0.8"/>
<text x="41.5" y="660" font-size="9.6" text-anchor="end" fill="#231f20">1.5</text>
<line x1="43" y1="676.6" x2="45.6" y2="676.6" stroke="#555" stroke-width="0.8"/>
<line x1="43" y1="695.6" x2="45.6" y2="695.6" stroke="#555" stroke-width="0.8"/>
<text x="21.5" y="620" font-size="9.6" text-anchor="middle" fill="#231f20" transform="rotate(-90 21.5 620)">Expression Level</text>
<line x1="67.6" y1="715" x2="67.6" y2="718" stroke="#555" stroke-width="0.8"/>
<line x1="104.4" y1="715" x2="104.4" y2="718" stroke="#555" stroke-width="0.8"/>
<line x1="141.6" y1="715" x2="141.6" y2="718" stroke="#555" stroke-width="0.8"/>
<line x1="178.9" y1="715" x2="178.9" y2="718" stroke="#555" stroke-width="0.8"/>
<line x1="216" y1="715" x2="216" y2="718" stroke="#555" stroke-width="0.8"/>
<line x1="253" y1="715" x2="253" y2="718" stroke="#555" stroke-width="0.8"/>
<text x="70.8" y="726.3" font-size="11" text-anchor="end" fill="#231f20" transform="rotate(-45 70.8 726.3)">Suprabasal</text>
<text x="107.6" y="726.3" font-size="11" text-anchor="end" fill="#231f20" transform="rotate(-45 107.6 726.3)">Basal</text>
<text x="144.8" y="726.3" font-size="11" text-anchor="end" fill="#231f20" transform="rotate(-45 144.8 726.3)">HF</text>
<text x="182.1" y="726.3" font-size="11" text-anchor="end" fill="#231f20" transform="rotate(-45 182.1 726.3)">SG</text>
<text x="219.2" y="726.3" font-size="11" text-anchor="end" fill="#231f20" transform="rotate(-45 219.2 726.3)">Dermal</text>
<text x="256.2" y="726.3" font-size="11" text-anchor="end" fill="#231f20" transform="rotate(-45 256.2 726.3)">Immune</text>
<rect x="277.6" y="516.6" width="60.4" height="61" fill="none" stroke="#7fcfd9" stroke-width="0.8" stroke-dasharray="2.5,2"/>
<text x="282.4" y="539.8" font-size="12" text-anchor="start" fill="#4bb8c6">Stretch_</text>
<text x="282.4" y="554.8" font-size="12" text-anchor="start" fill="#4bb8c6">signature</text>
<text x="282.4" y="569.8" font-size="12" text-anchor="start" fill="#4bb8c6">_score</text>
<rect x="277.6" y="583.6" width="61.4" height="64.4" fill="none" stroke="#f4a07c" stroke-width="0.8" stroke-dasharray="2.5,2"/>
<text x="282.4" y="610.8" font-size="12" text-anchor="start" fill="#ef6f3a">Angioge</text>
<text x="282.4" y="625.8" font-size="12" text-anchor="start" fill="#ef6f3a">_nesis</text>
<text x="282.4" y="640.8" font-size="12" text-anchor="start" fill="#ef6f3a">_score</text>
<rect x="277.6" y="653.6" width="61.4" height="57.4" fill="none" stroke="#dccfae" stroke-width="0.8" stroke-dasharray="2.5,2"/>
<text x="282.4" y="675.2" font-size="12" text-anchor="start" fill="#bfae80">Stress_</text>
<text x="282.4" y="690.2" font-size="12" text-anchor="start" fill="#bfae80">granule_</text>
<text x="282.4" y="705.2" font-size="12" text-anchor="start" fill="#bfae80">score</text>
<line x1="338.8" y1="533.5" x2="388.3" y2="473.8" stroke="#7fcfd9" stroke-width="0.8" stroke-dasharray="2.5,2"/>
<line x1="340.5" y1="576" x2="391.7" y2="653" stroke="#7fcfd9" stroke-width="0.8" stroke-dasharray="2.5,2"/>
<line x1="338.8" y1="583" x2="391.7" y2="690.5" stroke="#f4a07c" stroke-width="0.8" stroke-dasharray="2.5,2"/>
<line x1="342" y1="648" x2="395.8" y2="748.5" stroke="#f4a07c" stroke-width="0.8" stroke-dasharray="2.5,2"/>
<line x1="416.4" y1="476.4" x2="416.4" y2="497.3" stroke="#5a5a5a" stroke-width="0.65"/>
<line x1="427.6" y1="476.4" x2="427.6" y2="497.3" stroke="#c4c4c4" stroke-width="1.1"/>
<line x1="439.2" y1="483" x2="439.2" y2="497.3" stroke="#5a5a5a" stroke-width="0.65"/>
<line x1="455" y1="474" x2="455" y2="497.3" stroke="#5a5a5a" stroke-width="0.65"/>
<path d="M466.1,477L466.1,486.1L465.8,486.6L464.2,488.2L463.8,488.7L465.9,490.7L466.1,491.2L466.1,492.7L465.9,493.2L462,497.3L470.4,497.3L466.5,493.2L466.3,492.7L466.3,491.2L466.5,490.7L468.6,488.7L468.2,488.2L466.6,486.6L466.3,486.1L466.3,477Z" fill="#2aaee4" stroke="#3a3030" stroke-width="0.4" stroke-linejoin="round"/>
<line x1="466.2" y1="477" x2="466.2" y2="497.3" stroke="#3a3030" stroke-width="0.45"/>
<path d="M477.7,472L477.7,486.2L477.3,486.7L475.8,488.2L475.4,488.7L477.5,490.7L477.7,491.2L477.7,492.7L477.5,493.3L473.6,497.3L482,497.3L478.1,493.3L477.9,492.7L477.9,491.2L478.1,490.7L480.2,488.7L479.8,488.2L478.3,486.7L477.9,486.2L477.9,472Z" fill="#e8586f" stroke="#3a3030" stroke-width="0.4" stroke-linejoin="round"/>
<line x1="477.8" y1="472" x2="477.8" y2="497.3" stroke="#3a3030" stroke-width="0.45"/>
<line x1="493.2" y1="474" x2="493.2" y2="497.3" stroke="#c4c4c4" stroke-width="1.1"/>
<line x1="504.4" y1="474" x2="504.4" y2="497.3" stroke="#5a5a5a" stroke-width="0.65"/>
<path d="M515.9,480L515.9,484.1L515.6,484.6L511.1,488.6L514.7,491.7L515.7,492.7L515.6,493.2L512.8,495.3L509.7,497.3L522.3,497.3L519.2,495.3L516.4,493.2L516.3,492.7L517.3,491.7L520.9,488.6L516.4,484.6L516.1,484.1L516.1,480Z" fill="#e8586f" stroke="#3a3030" stroke-width="0.4" stroke-linejoin="round"/>
<line x1="516" y1="480" x2="516" y2="497.3" stroke="#3a3030" stroke-width="0.45"/>
<line x1="531.2" y1="470" x2="531.2" y2="497.3" stroke="#c4c4c4" stroke-width="1.1"/>
<line x1="542.4" y1="469" x2="542.4" y2="497.3" stroke="#5a5a5a" stroke-width="0.65"/>
<path d="M553.9,466L553.9,485.2L552.2,487.7L552.2,488.2L553.9,490.7L553.9,492.8L553.6,493.3L549.4,496.8L548.8,497.3L559.2,497.3L558.6,496.8L554.4,493.3L554.1,492.8L554.1,490.7L555.8,488.2L555.8,487.7L554.1,485.2L554.1,466Z" fill="#e8586f" stroke="#3a3030" stroke-width="0.4" stroke-linejoin="round"/>
<line x1="554" y1="466" x2="554" y2="497.3" stroke="#3a3030" stroke-width="0.45"/>
<line x1="569.2" y1="468" x2="569.2" y2="497.3" stroke="#c4c4c4" stroke-width="1.1"/>
<path d="M580.3,466L580.3,481.7L579.5,482.7L579.4,483.2L580.2,484.2L580.3,484.7L580.2,485.2L578.3,486.7L576.8,487.7L576.7,488.2L579.6,490.2L580.2,490.7L580.3,491.2L580.3,492.8L580,493.3L575.8,496.8L575.1,497.3L585.6,497.3L585,496.8L580.8,493.3L580.5,492.8L580.5,491.2L580.6,490.7L581.2,490.2L584.1,488.2L584,487.7L582.5,486.7L580.6,485.2L580.5,484.7L580.6,484.2L581.4,483.2L581.3,482.7L580.5,481.7L580.5,466Z" fill="#2aaee4" stroke="#3a3030" stroke-width="0.4" stroke-linejoin="round"/>
<line x1="580.4" y1="466" x2="580.4" y2="497.3" stroke="#3a3030" stroke-width="0.45"/>
<path d="M591.9,470L591.9,481.6L591.1,482.6L590.9,483.1L591.8,484.2L591.9,484.7L591.9,485.2L589.9,486.7L588.5,487.7L588.3,488.2L591.2,490.2L591.7,490.7L591.9,491.2L591.9,492.8L591.6,493.3L587.4,496.8L586.8,497.3L597.2,497.3L596.6,496.8L592.4,493.3L592.1,492.8L592.1,491.2L592.3,490.7L592.8,490.2L595.7,488.2L595.5,487.7L594.1,486.7L592.1,485.2L592.1,484.7L592.2,484.2L593.1,483.1L592.9,482.6L592.1,481.6L592.1,470Z" fill="#e8586f" stroke="#3a3030" stroke-width="0.4" stroke-linejoin="round"/>
<line x1="592" y1="470" x2="592" y2="497.3" stroke="#3a3030" stroke-width="0.45"/>
<line x1="607.2" y1="469" x2="607.2" y2="497.3" stroke="#5a5a5a" stroke-width="0.65"/>
<path d="M618.3,469L618.3,481.6L617.3,482.6L617.1,483.1L618.1,484.2L618.3,484.7L618.3,485.2L616.3,486.7L614.9,487.7L614.7,488.2L617.6,490.2L618.1,490.7L618.3,491.2L618.3,492.8L618,493.3L613.8,496.8L613.1,497.3L623.6,497.3L623,496.8L618.8,493.3L618.5,492.8L618.5,491.2L618.7,490.7L619.2,490.2L622.1,488.2L621.9,487.7L620.5,486.7L618.5,485.2L618.5,484.7L618.7,484.2L619.7,483.1L619.5,482.6L618.5,481.6L618.5,469Z" fill="#2aaee4" stroke="#3a3030" stroke-width="0.4" stroke-linejoin="round"/>
<line x1="618.4" y1="469" x2="618.4" y2="497.3" stroke="#3a3030" stroke-width="0.45"/>
<path d="M629.9,469L629.9,481.6L628.9,482.6L628.7,483.1L629.7,484.2L629.9,484.7L629.9,485.2L627.3,487.7L627.2,488.2L629.4,490.2L629.8,490.7L629.9,492.8L629.6,493.3L625.4,496.8L624.8,497.3L635.2,497.3L634.6,496.8L630.4,493.3L630.1,492.8L630.2,490.7L630.6,490.2L632.8,488.2L632.7,487.7L630.1,485.2L630.1,484.7L630.3,484.2L631.3,483.1L631.1,482.6L630.1,481.6L630.1,469Z" fill="#e8586f" stroke="#3a3030" stroke-width="0.4" stroke-linejoin="round"/>
<line x1="630" y1="469" x2="630" y2="497.3" stroke="#3a3030" stroke-width="0.45"/>
<use href="#star" x="434.4" y="475"/>
<use href="#star" x="504.8" y="473.4"/><use href="#star" x="510" y="473.4"/><use href="#star" x="515.2" y="473.4"/>
<use href="#star" x="547.4" y="474"/>
<use href="#star" x="575.2" y="473.4"/><use href="#star" x="580.4" y="473.4"/><use href="#star" x="585.6" y="473.4"/>
<line x1="401.4" y1="471.5" x2="405" y2="471.5" stroke="#555" stroke-width="0.8"/>
<line x1="401.4" y1="478.6" x2="405" y2="478.6" stroke="#555" stroke-width="0.8"/>
<line x1="401.4" y1="484.4" x2="405" y2="484.4" stroke="#555" stroke-width="0.8"/>
<line x1="401.4" y1="491.2" x2="405" y2="491.2" stroke="#555" stroke-width="0.8"/>
<text x="398.6" y="474.1" font-size="7.6" text-anchor="end" fill="#231f20">2</text>
<text x="662.4" y="485.8" font-size="10.8" text-anchor="middle" font-weight="bold" fill="#111">Akt1</text>
<line x1="416.4" y1="510" x2="416.4" y2="529.5" stroke="#5a5a5a" stroke-width="0.65"/>
<line x1="427.6" y1="507" x2="427.6" y2="529.5" stroke="#c4c4c4" stroke-width="1.1"/>
<line x1="439.2" y1="514" x2="439.2" y2="529.5" stroke="#5a5a5a" stroke-width="0.65"/>
<path d="M454.9,507L454.9,519.5L454.6,520L452.5,522L454.6,524L454.9,524.5L454.9,525L454.6,525.5L450.4,529L449.8,529.5L460.2,529.5L459.6,529L455.4,525.5L455.1,525L455.1,524.5L455.4,524L457.5,522L455.4,520L455.1,519.5L455.1,507Z" fill="#e6a526" stroke="#3a3030" stroke-width="0.4" stroke-linejoin="round"/>
<line x1="455" y1="507" x2="455" y2="529.5" stroke="#3a3030" stroke-width="0.45"/>
<path d="M466.1,507L466.1,519.5L465.8,520L463.7,522L465.8,524L466.1,524.5L466.1,525L465.8,525.5L461.6,529L460.9,529.5L471.4,529.5L470.8,529L466.6,525.5L466.3,525L466.3,524.5L466.6,524L468.7,522L466.6,520L466.3,519.5L466.3,507Z" fill="#2aaee4" stroke="#3a3030" stroke-width="0.4" stroke-linejoin="round"/>
<line x1="466.2" y1="507" x2="466.2" y2="529.5" stroke="#3a3030" stroke-width="0.45"/>
<path d="M477.7,507L477.7,515.5L477.4,516L476.3,517L477.4,518L477.7,518.5L477.7,519.5L477.3,520L474.8,522L477.3,524L477.7,524.5L477.7,525L477.4,525.5L473.2,529L472.6,529.5L483.1,529.5L482.4,529L478.2,525.5L477.9,525L477.9,524.5L478.3,524L480.8,522L478.3,520L477.9,519.5L477.9,518.5L478.2,518L479.3,517L478.2,516L477.9,515.5L477.9,507Z" fill="#e8586f" stroke="#3a3030" stroke-width="0.4" stroke-linejoin="round"/>
<line x1="477.8" y1="507" x2="477.8" y2="529.5" stroke="#3a3030" stroke-width="0.45"/>
<line x1="493.2" y1="507" x2="493.2" y2="529.5" stroke="#c4c4c4" stroke-width="1.1"/>
<path d="M504.3,504L504.3,519.5L504.1,520L502.4,522L504.1,524L504.3,524.5L504.3,525L504,525.5L499.8,529L499.1,529.5L509.6,529.5L509,529L504.8,525.5L504.5,525L504.5,524.5L504.7,524L506.4,522L504.7,520L504.5,519.5L504.5,504Z" fill="#2aaee4" stroke="#3a3030" stroke-width="0.4" stroke-linejoin="round"/>
<line x1="504.4" y1="504" x2="504.4" y2="529.5" stroke="#3a3030" stroke-width="0.45"/>
<path d="M515.9,506L515.9,517L515.6,517.5L512,521L515.2,524L515.6,524.5L515.9,525L515.6,525.5L511.4,529L510.8,529.5L521.2,529.5L520.6,529L516.4,525.5L516.1,525L516.4,524.5L516.8,524L520,521L516.4,517.5L516.1,517L516.1,506Z" fill="#e8586f" stroke="#3a3030" stroke-width="0.4" stroke-linejoin="round"/>
<line x1="516" y1="506" x2="516" y2="529.5" stroke="#3a3030" stroke-width="0.45"/>
<path d="M531.1,505L531.1,519.5L530.9,520L529.2,522L530.9,524L531.1,524.5L531.1,525L530.8,525.5L526.6,529L525.9,529.5L536.4,529.5L535.8,529L531.6,525.5L531.3,525L531.3,524.5L531.5,524L533.2,522L531.5,520L531.3,519.5L531.3,505Z" fill="#e6a526" stroke="#3a3030" stroke-width="0.4" stroke-linejoin="round"/>
<line x1="531.2" y1="505" x2="531.2" y2="529.5" stroke="#3a3030" stroke-width="0.45"/>
<path d="M542.3,504L542.3,512.5L540.4,518L542.3,523.5L542.3,525L542,525.5L537.8,529L537.1,529.5L547.6,529.5L547,529L542.8,525.5L542.5,525L542.5,523.5L544.4,518L542.5,512.5L542.5,504Z" fill="#2aaee4" stroke="#3a3030" stroke-width="0.4" stroke-linejoin="round"/>
<line x1="542.4" y1="504" x2="542.4" y2="529.5" stroke="#3a3030" stroke-width="0.45"/>
<path d="M553.9,505L553.9,517L553.8,517.5L551.5,521L553.8,524.5L553.9,525L553.6,525.5L549.4,529L548.8,529.5L559.2,529.5L558.6,529L554.4,525.5L554.1,525L554.2,524.5L556.5,521L554.2,517.5L554.1,517L554.1,505Z" fill="#e8586f" stroke="#3a3030" stroke-width="0.4" stroke-linejoin="round"/>
<line x1="554" y1="505" x2="554" y2="529.5" stroke="#3a3030" stroke-width="0.45"/>
<path d="M569.1,505L569.1,519L568.4,519.5L566.5,520.5L563.2,522L566.5,523.5L568.4,524.5L569.1,525L569,526L566.3,528.5L565,529.5L573.4,529.5L572.1,528.5L569.4,526L569.3,525L570,524.5L571.9,523.5L575.2,522L571.9,520.5L570,519.5L569.3,519L569.3,505Z" fill="#e6a526" stroke="#3a3030" stroke-width="0.4" stroke-linejoin="round"/>
<line x1="569.2" y1="505" x2="569.2" y2="529.5" stroke="#3a3030" stroke-width="0.45"/>
<path d="M580.3,502L580.3,514.5L579.8,515L577.3,516.5L576.4,517L579,518.5L579.8,519L579.8,519.5L577.3,521L575.4,522L579,524L579.8,524.5L580.3,525L580.2,526L577.5,528.5L576.2,529.5L584.6,529.5L583.3,528.5L580.6,526L580.5,525L581,524.5L581.8,524L585.4,522L583.5,521L581,519.5L581,519L581.8,518.5L584.4,517L583.5,516.5L581,515L580.5,514.5L580.5,502Z" fill="#2aaee4" stroke="#3a3030" stroke-width="0.4" stroke-linejoin="round"/>
<line x1="580.4" y1="502" x2="580.4" y2="529.5" stroke="#3a3030" stroke-width="0.45"/>
<path d="M591.9,507L591.9,511.5L591.5,512L589,514L591.5,516L591.9,516.5L591.9,518L591.4,518.5L588.9,520L587,521L590.6,523L591.4,523.5L591.9,524L591.9,525L591.6,525.5L587.4,529L586.8,529.5L597.2,529.5L596.6,529L592.4,525.5L592.1,525L592.1,524L592.6,523.5L593.4,523L597,521L595.1,520L592.6,518.5L592.1,518L592.1,516.5L592.5,516L595,514L592.5,512L592.1,511.5L592.1,507Z" fill="#e8586f" stroke="#3a3030" stroke-width="0.4" stroke-linejoin="round"/>
<line x1="592" y1="507" x2="592" y2="529.5" stroke="#3a3030" stroke-width="0.45"/>
<path d="M607.1,505L607.1,519L606.7,519.5L603.2,522L606.1,524L606.7,524.5L607.1,525L606.8,525.5L602.6,529L601.9,529.5L612.4,529.5L611.8,529L607.6,525.5L607.3,525L607.7,524.5L608.3,524L611.2,522L607.7,519.5L607.3,519L607.3,505Z" fill="#e6a526" stroke="#3a3030" stroke-width="0.4" stroke-linejoin="round"/>
<line x1="607.2" y1="505" x2="607.2" y2="529.5" stroke="#3a3030" stroke-width="0.45"/>
<path d="M618.3,502L618.3,514L618,514.5L616.4,516L618,517.5L618.3,518L618.3,518.5L617.9,519L614.9,521L617.2,522.5L617.9,523L618.3,523.5L618.3,525L618,525.5L613.8,529L613.1,529.5L623.6,529.5L623,529L618.8,525.5L618.5,525L618.5,523.5L618.9,523L619.6,522.5L621.9,521L618.9,519L618.5,518.5L618.5,518L618.8,517.5L620.4,516L618.8,514.5L618.5,514L618.5,502Z" fill="#2aaee4" stroke="#3a3030" stroke-width="0.4" stroke-linejoin="round"/>
<line x1="618.4" y1="502" x2="618.4" y2="529.5" stroke="#3a3030" stroke-width="0.45"/>
<path d="M629.9,503L629.9,515L629.6,515.5L628,517L629.6,518.5L629.9,519L629.9,519.5L629.5,520L627,522L629.5,524L629.9,524.5L629.9,525L629.6,525.5L625.4,529L624.8,529.5L635.2,529.5L634.6,529L630.4,525.5L630.1,525L630.1,524.5L630.5,524L633,522L630.5,520L630.1,519.5L630.1,519L630.4,518.5L632,517L630.4,515.5L630.1,515L630.1,503Z" fill="#e8586f" stroke="#3a3030" stroke-width="0.4" stroke-linejoin="round"/>
<line x1="630" y1="503" x2="630" y2="529.5" stroke="#3a3030" stroke-width="0.45"/>
<use href="#star" x="434.4" y="505"/>
<use href="#star" x="465.8" y="505"/><use href="#star" x="471" y="505"/><use href="#star" x="476.2" y="505"/>
<use href="#star" x="504.8" y="505"/><use href="#star" x="510" y="505"/><use href="#star" x="515.2" y="505"/>
<use href="#star" x="547.4" y="504"/><use href="#star" x="552.6" y="504"/>
<use href="#star" x="586" y="504"/>
<line x1="401.4" y1="508" x2="405" y2="508" stroke="#555" stroke-width="0.8"/>
<line x1="401.4" y1="519" x2="405" y2="519" stroke="#555" stroke-width="0.8"/>
<text x="398.6" y="510.6" font-size="7.6" text-anchor="end" fill="#231f20">2</text>
<text x="662.4" y="517.8" font-size="10.8" text-anchor="middle" font-weight="bold" fill="#111">Itgb1</text>
<path d="M416.3,542L416.3,551.5L416,552L412.4,555L415.5,557.5L416,558L416.2,558.5L413.5,561L412.2,562L420.6,562L419.3,561L416.6,558.5L416.8,558L417.3,557.5L420.4,555L416.8,552L416.5,551.5L416.5,542Z" fill="#e6a526" stroke="#3a3030" stroke-width="0.4" stroke-linejoin="round"/>
<line x1="416.4" y1="542" x2="416.4" y2="562" stroke="#3a3030" stroke-width="0.45"/>
<line x1="427.6" y1="541" x2="427.6" y2="562" stroke="#c4c4c4" stroke-width="1.1"/>
<path d="M439.1,544L439.1,553L438.8,553.5L437.2,555L438.8,556.5L439.1,557L439.1,559L438.8,559.5L436.1,562L442.4,562L439.6,559.5L439.3,559L439.3,557L439.6,556.5L441.2,555L439.6,553.5L439.3,553L439.3,544Z" fill="#e8586f" stroke="#3a3030" stroke-width="0.4" stroke-linejoin="round"/>
<line x1="439.2" y1="544" x2="439.2" y2="562" stroke="#3a3030" stroke-width="0.45"/>
<path d="M454.9,540L454.9,551.5L454.4,552L451.8,553.5L449,555L452.7,557L454.4,558L454.8,558.5L452.8,560L449.8,562L460.2,562L457.2,560L455.2,558.5L455.6,558L457.3,557L461,555L458.2,553.5L455.6,552L455.1,551.5L455.1,540Z" fill="#e6a526" stroke="#3a3030" stroke-width="0.4" stroke-linejoin="round"/>
<line x1="455" y1="540" x2="455" y2="562" stroke="#3a3030" stroke-width="0.45"/>
<path d="M466.1,540L466.1,549L465.8,549.5L464.2,551L465.3,552L465.6,552.5L463.1,554L461.2,555L464.8,557L465.6,557.5L466.1,558L466,558.5L464,560L460.9,562L471.4,562L468.4,560L466.4,558.5L466.3,558L466.8,557.5L467.6,557L471.2,555L469.3,554L466.8,552.5L467.1,552L468.2,551L466.6,549.5L466.3,549L466.3,540Z" fill="#2aaee4" stroke="#3a3030" stroke-width="0.4" stroke-linejoin="round"/>
<line x1="466.2" y1="540" x2="466.2" y2="562" stroke="#3a3030" stroke-width="0.45"/>
<path d="M477.7,537L477.7,549L477.4,549.5L475.8,551L476.9,552L477,552.5L475.1,553.5L471.8,555L475.1,556.5L477,557.5L477.7,558L477.6,558.5L475.6,560L472.6,562L483.1,562L480,560L478,558.5L477.9,558L478.6,557.5L480.5,556.5L483.8,555L480.5,553.5L478.6,552.5L478.7,552L479.8,551L478.2,549.5L477.9,549L477.9,537Z" fill="#e8586f" stroke="#3a3030" stroke-width="0.4" stroke-linejoin="round"/>
<line x1="477.8" y1="537" x2="477.8" y2="562" stroke="#3a3030" stroke-width="0.45"/>
<path d="M493.1,538L493.1,546L493,546.5L488.2,553L492.3,558.5L492.4,559L487.9,562L498.4,562L494,559L494.1,558.5L498.2,553L493.4,546.5L493.3,546L493.3,538Z" fill="#e6a526" stroke="#3a3030" stroke-width="0.4" stroke-linejoin="round"/>
<line x1="493.2" y1="538" x2="493.2" y2="562" stroke="#3a3030" stroke-width="0.45"/>
<path d="M504.3,538L504.3,551.5L504,552L500.4,555L503.5,557.5L504,558L504.2,558.5L502.2,560L499.1,562L509.6,562L506.6,560L504.6,558.5L504.8,558L505.3,557.5L508.4,555L504.8,552L504.5,551.5L504.5,538Z" fill="#2aaee4" stroke="#3a3030" stroke-width="0.4" stroke-linejoin="round"/>
<line x1="504.4" y1="538" x2="504.4" y2="562" stroke="#3a3030" stroke-width="0.45"/>
<path d="M515.9,543L515.3,544L514.4,545L511.9,547L510.9,548L510.4,549L510,550.5L510.1,555L510.4,556L510.9,557L511.9,558L513.8,559.5L513.4,560L509.7,562L522.3,562L518.6,560L518.2,559.5L520.1,558L521.1,557L521.6,556L521.9,555L522,550.5L521.6,549L521.1,548L520.1,547L517.6,545L516.7,544L516.1,543Z" fill="#e8586f" stroke="#3a3030" stroke-width="0.4" stroke-linejoin="round"/>
<line x1="516" y1="543" x2="516" y2="562" stroke="#3a3030" stroke-width="0.45"/>
<path d="M531.1,538L531.1,551.5L530.8,552L527.2,555L530.3,557.5L530.8,558L531,558.5L528.3,561L527,562L535.4,562L534.1,561L531.4,558.5L531.6,558L532.1,557.5L535.2,555L531.6,552L531.3,551.5L531.3,538Z" fill="#e6a526" stroke="#3a3030" stroke-width="0.4" stroke-linejoin="round"/>
<line x1="531.2" y1="538" x2="531.2" y2="562" stroke="#3a3030" stroke-width="0.45"/>
<path d="M542.3,535L542.3,548L542,548.5L540.4,550L541.5,551L541,551.5L538.4,553L541,554.5L541.8,555L542.3,555.5L542.2,558.5L539.5,561L538.2,562L546.6,562L545.3,561L542.6,558.5L542.5,555.5L543,555L543.8,554.5L546.4,553L543.8,551.5L543.3,551L544.4,550L542.8,548.5L542.5,548L542.5,535Z" fill="#2aaee4" stroke="#3a3030" stroke-width="0.4" stroke-linejoin="round"/>
<line x1="542.4" y1="535" x2="542.4" y2="562" stroke="#3a3030" stroke-width="0.45"/>
<path d="M553.9,540L553.9,544L553.5,545L552.8,546L550.5,548L549.7,549L549.2,550L549,555L549.2,556L549.7,557L550.5,558L552.2,559.5L551.8,560L548.8,562L559.2,562L556.2,560L555.8,559.5L557.5,558L558.3,557L558.8,556L559,555L558.8,550L558.3,549L557.5,548L555.2,546L554.5,545L554.1,544L554.1,540Z" fill="#e8586f" stroke="#3a3030" stroke-width="0.4" stroke-linejoin="round"/>
<line x1="554" y1="540" x2="554" y2="562" stroke="#3a3030" stroke-width="0.45"/>
<path d="M569.1,531L569.1,554L566.8,554.5L563.2,555L566.8,555.5L569.1,556L569.1,562L569.3,562L569.3,556L571.6,555.5L575.2,555L571.6,554.5L569.3,554L569.3,531Z" fill="#e6a526" stroke="#3a3030" stroke-width="0.4" stroke-linejoin="round"/>
<line x1="569.2" y1="531" x2="569.2" y2="562" stroke="#3a3030" stroke-width="0.45"/>
<path d="M580.3,535L580.3,541.5L580,542L578.9,543L580,544L580.3,544.5L580.3,547L579.9,547.5L577.9,549L579.9,550.5L580.3,551L580.3,552.5L579.6,553L577.6,554L575.4,555L578.7,556.5L579.6,557L580.3,557.5L580.2,558.5L577.5,561L576.2,562L584.6,562L583.3,561L580.6,558.5L580.5,557.5L581.2,557L582.1,556.5L585.4,555L583.2,554L581.2,553L580.5,552.5L580.5,551L580.9,550.5L582.9,549L580.9,547.5L580.5,547L580.5,544.5L580.8,544L581.9,543L580.8,542L580.5,541.5L580.5,535Z" fill="#2aaee4" stroke="#3a3030" stroke-width="0.4" stroke-linejoin="round"/>
<line x1="580.4" y1="535" x2="580.4" y2="562" stroke="#3a3030" stroke-width="0.45"/>
<path d="M591.9,536L591.9,543L591.6,543.5L590,545L591.6,546.5L591.9,547L591.9,548L591.4,548.5L589,550L591.4,551.5L591.9,552L591.9,552.5L591.2,553L589.2,554L587,555L590.3,556.5L591.2,557L591.9,557.5L591.8,558.5L589.1,561L587.8,562L596.2,562L594.9,561L592.2,558.5L592.1,557.5L592.8,557L593.7,556.5L597,555L594.8,554L592.8,553L592.1,552.5L592.1,552L592.6,551.5L595,550L592.6,548.5L592.1,548L592.1,547L592.4,546.5L594,545L592.4,543.5L592.1,543L592.1,536Z" fill="#e8586f" stroke="#3a3030" stroke-width="0.4" stroke-linejoin="round"/>
<line x1="592" y1="536" x2="592" y2="562" stroke="#3a3030" stroke-width="0.45"/>
<path d="M607.1,540L607.1,554L604.8,554.5L601.2,555L604.8,555.5L607.1,556L607.1,562L607.3,562L607.3,556L609.6,555.5L613.2,555L609.6,554.5L607.3,554L607.3,540Z" fill="#e6a526" stroke="#3a3030" stroke-width="0.4" stroke-linejoin="round"/>
<line x1="607.2" y1="540" x2="607.2" y2="562" stroke="#3a3030" stroke-width="0.45"/>
<path d="M618.3,540L618.3,546L618,546.5L616.4,548L617.5,549L617.8,549.5L615.4,551L617.8,552.5L617.6,553L615.6,554L613.4,555L616.7,556.5L617.6,557L618.3,557.5L618.2,558.5L615.5,561L614.2,562L622.6,562L621.3,561L618.6,558.5L618.5,557.5L619.2,557L620.1,556.5L623.4,555L621.2,554L619.2,553L619,552.5L621.4,551L619,549.5L619.3,549L620.4,548L618.8,546.5L618.5,546L618.5,540Z" fill="#2aaee4" stroke="#3a3030" stroke-width="0.4" stroke-linejoin="round"/>
<line x1="618.4" y1="540" x2="618.4" y2="562" stroke="#3a3030" stroke-width="0.45"/>
<path d="M629.9,536L629.9,546L629.6,546.5L628,548L629.6,549.5L629.9,550L629.4,550.5L627,552L629.4,553.5L629.2,554L627.2,555L625,556L628.3,557.5L629.2,558L629.8,558.5L627.1,561L625.8,562L634.2,562L632.9,561L630.2,558.5L630.8,558L631.7,557.5L635,556L632.8,555L630.8,554L630.6,553.5L633,552L630.6,550.5L630.1,550L630.4,549.5L632,548L630.4,546.5L630.1,546L630.1,536Z" fill="#e8586f" stroke="#3a3030" stroke-width="0.4" stroke-linejoin="round"/>
<line x1="630" y1="536" x2="630" y2="562" stroke="#3a3030" stroke-width="0.45"/>
<use href="#star" x="431.8" y="537"/><use href="#star" x="437" y="537"/>
<use href="#star" x="465.8" y="537"/><use href="#star" x="471" y="537"/><use href="#star" x="476.2" y="537"/>
<use href="#star" x="504.8" y="537"/><use href="#star" x="510" y="537"/><use href="#star" x="515.2" y="537"/>
<use href="#star" x="543.8" y="537"/><use href="#star" x="549" y="537"/><use href="#star" x="554.2" y="537"/>
<use href="#star" x="580.8" y="537"/><use href="#star" x="586" y="537"/><use href="#star" x="591.2" y="537"/>
<use href="#star" x="618.8" y="537"/><use href="#star" x="624" y="537"/><use href="#star" x="629.2" y="537"/>
<line x1="401.4" y1="531.7" x2="405" y2="531.7" stroke="#555" stroke-width="0.8"/>
<line x1="401.4" y1="541.6" x2="405" y2="541.6" stroke="#555" stroke-width="0.8"/>
<line x1="401.4" y1="551.8" x2="405" y2="551.8" stroke="#555" stroke-width="0.8"/>
<text x="398.6" y="534.3" font-size="7.6" text-anchor="end" fill="#231f20">2</text>
<text x="662.4" y="550.15" font-size="10.8" text-anchor="middle" font-weight="bold" fill="#111">Myh9</text>
<line x1="416.4" y1="571" x2="416.4" y2="594.3" stroke="#5a5a5a" stroke-width="0.65"/>
<line x1="427.6" y1="575" x2="427.6" y2="594.3" stroke="#c4c4c4" stroke-width="1.1"/>
<line x1="439.2" y1="583" x2="439.2" y2="594.3" stroke="#5a5a5a" stroke-width="0.65"/>
<path d="M454.9,570L454.8,583.7L452.8,585.2L450.5,586.7L450.3,587.2L453.5,589.2L454.8,590.2L454.8,590.8L452.9,592.3L449.8,594.3L460.2,594.3L457.1,592.3L455.2,590.8L455.2,590.2L456.5,589.2L459.7,587.2L459.5,586.7L457.2,585.2L455.2,583.7L455.1,570Z" fill="#e6a526" stroke="#3a3030" stroke-width="0.4" stroke-linejoin="round"/>
<line x1="455" y1="570" x2="455" y2="594.3" stroke="#3a3030" stroke-width="0.45"/>
<path d="M466.1,570L466.1,580.1L464.6,581.6L464.4,582.1L465.9,583.7L466,584.2L464.5,585.2L461.8,586.7L461.6,587.2L464.3,588.7L465.9,589.7L466.1,590.2L466,590.8L464.1,592.3L460.9,594.3L471.4,594.3L468.3,592.3L466.4,590.8L466.3,590.2L466.5,589.7L468.1,588.7L470.8,587.2L470.6,586.7L467.9,585.2L466.4,584.2L466.5,583.7L468,582.1L467.8,581.6L466.3,580.1L466.3,570Z" fill="#2aaee4" stroke="#3a3030" stroke-width="0.4" stroke-linejoin="round"/>
<line x1="466.2" y1="570" x2="466.2" y2="594.3" stroke="#3a3030" stroke-width="0.45"/>
<path d="M477.7,573L477.7,584.7L475.6,586.7L475.5,587.2L477.1,588.7L477.6,589.2L477.7,590.8L474.9,593.3L473.6,594.3L482,594.3L480.7,593.3L477.9,590.8L478,589.2L478.5,588.7L480.1,587.2L480,586.7L477.9,584.7L477.9,573Z" fill="#e8586f" stroke="#3a3030" stroke-width="0.4" stroke-linejoin="round"/>
<line x1="477.8" y1="573" x2="477.8" y2="594.3" stroke="#3a3030" stroke-width="0.45"/>
<path d="M493.1,569L493.1,575.1L492.9,575.6L490.5,579.6L490.3,580.1L493.1,584.7L493,585.2L491.1,586.7L489.6,587.7L489.5,588.2L492.4,590.3L493,590.8L491.8,591.8L487.9,594.3L498.4,594.3L494.6,591.8L493.4,590.8L494,590.3L496.9,588.2L496.8,587.7L495.3,586.7L493.4,585.2L493.3,584.7L496.1,580.1L495.9,579.6L493.5,575.6L493.3,575.1L493.3,569Z" fill="#e6a526" stroke="#3a3030" stroke-width="0.4" stroke-linejoin="round"/>
<line x1="493.2" y1="569" x2="493.2" y2="594.3" stroke="#3a3030" stroke-width="0.45"/>
<path d="M504.3,569L503.8,573L502.8,576.1L499.7,581.6L499.3,583.2L499.3,585.2L500.3,588.2L502.1,591.8L502.2,592.3L499.1,594.3L509.6,594.3L506.6,592.3L506.7,591.8L508.5,588.2L509.5,585.2L509.5,583.2L509.1,581.6L506,576.1L505,573L504.5,569Z" fill="#2aaee4" stroke="#3a3030" stroke-width="0.4" stroke-linejoin="round"/>
<line x1="504.4" y1="569" x2="504.4" y2="594.3" stroke="#3a3030" stroke-width="0.45"/>
<path d="M515.9,570L515.2,573L514.2,575.1L510.8,579.6L510.3,580.6L510,581.6L510.1,583.2L511,585.7L514.3,591.8L513.9,592.3L510.8,594.3L521.2,594.3L518.1,592.3L517.7,591.8L521,585.7L521.9,583.2L522,581.6L521.7,580.6L521.2,579.6L517.8,575.1L516.8,573L516.1,570Z" fill="#e8586f" stroke="#3a3030" stroke-width="0.4" stroke-linejoin="round"/>
<line x1="516" y1="570" x2="516" y2="594.3" stroke="#3a3030" stroke-width="0.45"/>
<path d="M531.1,570L531.1,583.7L528.9,585.7L527.6,586.7L527.5,587.2L530.5,589.7L531,590.2L531.1,590.8L528.3,593.3L527,594.3L535.4,594.3L534.1,593.3L531.3,590.8L531.4,590.2L531.9,589.7L534.9,587.2L534.8,586.7L533.5,585.7L531.3,583.7L531.3,570Z" fill="#e6a526" stroke="#3a3030" stroke-width="0.4" stroke-linejoin="round"/>
<line x1="531.2" y1="570" x2="531.2" y2="594.3" stroke="#3a3030" stroke-width="0.45"/>
<path d="M542.3,568L542.3,584.7L540.7,586.7L540.6,587.2L542.3,589.2L542.2,590.8L539.5,593.3L538.2,594.3L546.6,594.3L545.3,593.3L542.6,590.8L542.5,589.2L544.2,587.2L544.1,586.7L542.5,584.7L542.5,568Z" fill="#2aaee4" stroke="#3a3030" stroke-width="0.4" stroke-linejoin="round"/>
<line x1="542.4" y1="568" x2="542.4" y2="594.3" stroke="#3a3030" stroke-width="0.45"/>
<path d="M553.9,568L553.9,572L553.4,573.6L552.4,575.1L550.3,577.6L549.5,579.1L549.1,581.1L549.1,587.2L549.4,588.7L550.2,590.3L551.8,592.3L548.8,594.3L559.2,594.3L556.2,592.3L557.8,590.3L558.6,588.7L558.9,587.2L558.9,581.1L558.5,579.1L557.7,577.6L555.6,575.1L554.6,573.6L554.1,572L554.1,568Z" fill="#e8586f" stroke="#3a3030" stroke-width="0.4" stroke-linejoin="round"/>
<line x1="554" y1="568" x2="554" y2="594.3" stroke="#3a3030" stroke-width="0.45"/>
<path d="M569.1,565L569.1,583.7L568.9,584.2L567.1,585.2L563.8,586.7L563.7,587.2L567,588.7L568.9,589.8L569.1,590.3L569.1,591.3L568.8,591.8L566,594.3L572.3,594.3L569.6,591.8L569.3,591.3L569.3,590.3L569.5,589.8L571.4,588.7L574.7,587.2L574.6,586.7L571.3,585.2L569.5,584.2L569.3,583.7L569.3,565Z" fill="#e6a526" stroke="#3a3030" stroke-width="0.4" stroke-linejoin="round"/>
<line x1="569.2" y1="565" x2="569.2" y2="594.3" stroke="#3a3030" stroke-width="0.45"/>
<path d="M580.3,567L579.8,570.5L578.8,573.1L575.9,577.6L575.3,579.1L575.3,581.2L576.4,584.7L579.2,591.3L579,591.8L575.1,594.3L585.6,594.3L581.8,591.8L581.6,591.3L584.4,584.7L585.5,581.2L585.5,579.1L584.9,577.6L582,573.1L581,570.5L580.5,567Z" fill="#2aaee4" stroke="#3a3030" stroke-width="0.4" stroke-linejoin="round"/>
<line x1="580.4" y1="567" x2="580.4" y2="594.3" stroke="#3a3030" stroke-width="0.45"/>
<path d="M591.9,570L591.1,572.5L590.2,574L586.7,578.1L586.2,579.1L586,580.1L586.4,582.1L590.7,590.8L590.9,591.3L590.6,591.8L586.8,594.3L597.2,594.3L593.4,591.8L593.1,591.3L593.3,590.8L597.6,582.1L598,580.1L597.8,579.1L597.3,578.1L593.8,574L592.9,572.5L592.1,570Z" fill="#e8586f" stroke="#3a3030" stroke-width="0.4" stroke-linejoin="round"/>
<line x1="592" y1="570" x2="592" y2="594.3" stroke="#3a3030" stroke-width="0.45"/>
<path d="M607.1,570L607.1,583.7L607,584.2L605.1,585.2L601.9,586.7L601.7,587.2L605,588.7L606.8,589.7L607.1,590.2L607.1,591.3L606.8,591.8L604,594.3L610.3,594.3L607.6,591.8L607.3,591.3L607.3,590.2L607.6,589.7L609.4,588.7L612.7,587.2L612.5,586.7L609.3,585.2L607.4,584.2L607.3,583.7L607.3,570Z" fill="#e6a526" stroke="#3a3030" stroke-width="0.4" stroke-linejoin="round"/>
<line x1="607.2" y1="570" x2="607.2" y2="594.3" stroke="#3a3030" stroke-width="0.45"/>
<path d="M618.3,569L618.3,584.7L616.2,586.7L616.1,587.2L617.8,588.7L618.2,589.2L618.3,590.3L618.2,590.8L616.2,592.3L613.1,594.3L623.6,594.3L620.6,592.3L618.6,590.8L618.5,590.3L618.6,589.2L619,588.7L620.7,587.2L620.6,586.7L618.5,584.7L618.5,569Z" fill="#2aaee4" stroke="#3a3030" stroke-width="0.4" stroke-linejoin="round"/>
<line x1="618.4" y1="569" x2="618.4" y2="594.3" stroke="#3a3030" stroke-width="0.45"/>
<path d="M629.9,570L629.9,581.1L627.3,584.2L626.8,584.7L626.7,585.2L629.5,588.2L629.8,588.7L629.8,590.8L627.9,592.3L624.8,594.3L635.2,594.3L632.1,592.3L630.2,590.8L630.2,588.7L630.5,588.2L633.3,585.2L633.2,584.7L632.7,584.2L630.1,581.1L630.1,570Z" fill="#e8586f" stroke="#3a3030" stroke-width="0.4" stroke-linejoin="round"/>
<line x1="630" y1="570" x2="630" y2="594.3" stroke="#3a3030" stroke-width="0.45"/>
<use href="#star" x="429.2" y="569"/><use href="#star" x="434.4" y="569"/><use href="#star" x="439.6" y="569"/>
<use href="#star" x="465.8" y="569"/><use href="#star" x="471" y="569"/><use href="#star" x="476.2" y="569"/>
<use href="#star" x="543.8" y="569"/><use href="#star" x="549" y="569"/><use href="#star" x="554.2" y="569"/>
<use href="#star" x="580.8" y="569"/><use href="#star" x="586" y="569"/><use href="#star" x="591.2" y="569"/>
<use href="#star" x="618.8" y="569"/><use href="#star" x="624" y="569"/><use href="#star" x="629.2" y="569"/>
<line x1="401.4" y1="564.7" x2="405" y2="564.7" stroke="#555" stroke-width="0.8"/>
<line x1="401.4" y1="574.2" x2="405" y2="574.2" stroke="#555" stroke-width="0.8"/>
<line x1="401.4" y1="584.4" x2="405" y2="584.4" stroke="#555" stroke-width="0.8"/>
<text x="398.6" y="567.3" font-size="7.6" text-anchor="end" fill="#231f20">2</text>
<text x="662.4" y="582.55" font-size="10.8" text-anchor="middle" font-weight="bold" fill="#111">Postn</text>
<line x1="416.4" y1="612" x2="416.4" y2="626.4" stroke="#5a5a5a" stroke-width="0.65"/>
<path d="M427.5,601L427.3,603L426.7,604.6L423.7,608.6L423.3,609.6L423.4,611.2L426.8,619.8L427.4,622.8L426.2,623.9L422.4,626.4L432.9,626.4L429,623.9L427.8,622.8L428.4,619.8L431.8,611.2L431.9,609.6L431.5,608.6L428.5,604.6L427.9,603L427.7,601Z" fill="#2aaee4" stroke="#3a3030" stroke-width="0.4" stroke-linejoin="round"/>
<line x1="427.6" y1="601" x2="427.6" y2="626.4" stroke="#3a3030" stroke-width="0.45"/>
<path d="M439.1,601L438.9,602L438.4,603L437.9,603.5L436.6,604.6L435,605.6L434.4,606.1L434,606.6L433.9,607.1L434.1,608.1L435,609.6L437.7,613.2L438.6,615.2L438.7,615.7L437.4,617.8L437.4,618.3L438.8,620.3L439.1,620.8L439.1,623.4L439,623.9L437.1,626.4L441.3,626.4L439.4,623.9L439.3,623.4L439.3,620.8L439.6,620.3L441,618.3L441,617.8L439.7,615.7L439.8,615.2L440.7,613.2L443.4,609.6L444.3,608.1L444.5,607.1L444.4,606.6L444,606.1L443.4,605.6L441.8,604.6L440.5,603.5L440,603L439.5,602L439.3,601Z" fill="#e8586f" stroke="#3a3030" stroke-width="0.4" stroke-linejoin="round"/>
<line x1="439.2" y1="601" x2="439.2" y2="626.4" stroke="#3a3030" stroke-width="0.45"/>
<line x1="455" y1="615" x2="455" y2="626.4" stroke="#5a5a5a" stroke-width="0.65"/>
<path d="M466.1,600L466.1,616.2L464.9,617.8L464.9,618.3L466.1,619.8L466.1,622.8L463.3,625.4L462,626.4L470.4,626.4L469.1,625.4L466.3,622.8L466.3,619.8L467.5,618.3L467.5,617.8L466.3,616.2L466.3,600Z" fill="#2aaee4" stroke="#3a3030" stroke-width="0.4" stroke-linejoin="round"/>
<line x1="466.2" y1="600" x2="466.2" y2="626.4" stroke="#3a3030" stroke-width="0.45"/>
<path d="M477.7,600L477.7,612.2L475,616.8L475,617.3L477.5,621.3L477.7,621.8L477.7,622.8L474.9,625.4L473.6,626.4L482,626.4L480.7,625.4L477.9,622.8L477.9,621.8L478.1,621.3L480.6,617.3L480.6,616.8L477.9,612.2L477.9,600Z" fill="#e8586f" stroke="#3a3030" stroke-width="0.4" stroke-linejoin="round"/>
<line x1="477.8" y1="600" x2="477.8" y2="626.4" stroke="#3a3030" stroke-width="0.45"/>
<line x1="493.2" y1="615" x2="493.2" y2="626.4" stroke="#5a5a5a" stroke-width="0.65"/>
<line x1="504.4" y1="610" x2="504.4" y2="626.4" stroke="#5a5a5a" stroke-width="0.65"/>
<line x1="516" y1="607" x2="516" y2="626.4" stroke="#5a5a5a" stroke-width="0.65"/>
<line x1="531.2" y1="619" x2="531.2" y2="626.4" stroke="#c4c4c4" stroke-width="1.1"/>
<line x1="542.4" y1="608" x2="542.4" y2="626.4" stroke="#5a5a5a" stroke-width="0.65"/>
<line x1="554" y1="610" x2="554" y2="626.4" stroke="#5a5a5a" stroke-width="0.65"/>
<line x1="569.2" y1="606" x2="569.2" y2="626.4" stroke="#c4c4c4" stroke-width="1.1"/>
<line x1="580.4" y1="605" x2="580.4" y2="626.4" stroke="#5a5a5a" stroke-width="0.65"/>
<line x1="592" y1="604" x2="592" y2="626.4" stroke="#c4c4c4" stroke-width="1.1"/>
<line x1="607.2" y1="601" x2="607.2" y2="626.4" stroke="#5a5a5a" stroke-width="0.65"/>
<line x1="618.4" y1="600" x2="618.4" y2="626.4" stroke="#5a5a5a" stroke-width="0.65"/>
<line x1="630" y1="601" x2="630" y2="626.4" stroke="#c4c4c4" stroke-width="1.1"/>
<use href="#star" x="429.2" y="600"/><use href="#star" x="434.4" y="600"/><use href="#star" x="439.6" y="600"/>
<use href="#star" x="465.8" y="600"/><use href="#star" x="471" y="600"/><use href="#star" x="476.2" y="600"/>
<use href="#star" x="510" y="601"/>
<use href="#star" x="618.8" y="601"/><use href="#star" x="624" y="601"/><use href="#star" x="629.2" y="601"/>
<line x1="401.4" y1="606.4" x2="405" y2="606.4" stroke="#555" stroke-width="0.8"/>
<line x1="401.4" y1="616.5" x2="405" y2="616.5" stroke="#555" stroke-width="0.8"/>
<text x="398.6" y="609" font-size="7.6" text-anchor="end" fill="#231f20">2</text>
<text x="662.4" y="614.75" font-size="10.8" text-anchor="middle" font-weight="bold" fill="#111">S100a8</text>
<line x1="416.4" y1="639" x2="416.4" y2="659.2" stroke="#5a5a5a" stroke-width="0.65"/>
<path d="M427.5,632L427.4,634L427,635.5L426.4,636.5L423.6,639.6L423.3,640.1L423.1,640.6L423,641.6L423.4,642.6L425.9,646.6L426.1,647.1L425.3,647.6L424.8,648.1L426.4,649.1L427.2,649.6L427.3,650.1L427.1,650.6L426,651.6L425.8,652.1L427.3,653.7L427.5,654.2L427.4,656.7L426,659.2L429.2,659.2L427.8,656.7L427.7,654.2L427.9,653.7L429.4,652.1L429.2,651.6L428.1,650.6L427.9,650.1L428,649.6L428.8,649.1L430.4,648.1L429.9,647.6L429.1,647.1L429.3,646.6L431.8,642.6L432.2,641.6L432.1,640.6L431.9,640.1L431.6,639.6L428.8,636.5L428.2,635.5L427.8,634L427.7,632Z" fill="#2aaee4" stroke="#3a3030" stroke-width="0.4" stroke-linejoin="round"/>
<line x1="427.6" y1="632" x2="427.6" y2="659.2" stroke="#3a3030" stroke-width="0.45"/>
<line x1="439.2" y1="633" x2="439.2" y2="659.2" stroke="#5a5a5a" stroke-width="0.65"/>
<rect x="433.7" y="637" width="11" height="4.5" fill="#b8707f" stroke="none" stroke-width="1" opacity="0.8"/>
<line x1="434.2" y1="639.5" x2="444.2" y2="639.5" stroke="#b06070" stroke-width="0.6"/>
<path d="M454.9,633L454.9,649.1L453.4,650.6L453.2,651.1L454.7,652.7L454.9,653.2L454.8,655.7L452.1,658.2L450.8,659.2L459.2,659.2L457.9,658.2L455.2,655.7L455.1,653.2L455.3,652.7L456.8,651.1L456.6,650.6L455.1,649.1L455.1,633Z" fill="#e6a526" stroke="#3a3030" stroke-width="0.4" stroke-linejoin="round"/>
<line x1="455" y1="633" x2="455" y2="659.2" stroke="#3a3030" stroke-width="0.45"/>
<path d="M466.1,635L465.7,636L464.9,637L462.7,639L461.9,640L461.4,641L461.3,646.1L461.5,647.1L462,648.1L462.8,649.1L465.1,651.1L465.8,652.1L466.1,653.2L466.1,656.2L465.9,656.7L464.1,659.2L468.3,659.2L466.5,656.7L466.3,656.2L466.3,653.2L466.6,652.1L467.3,651.1L469.6,649.1L470.4,648.1L470.9,647.1L471.1,646.1L471,641L470.5,640L469.7,639L467.5,637L466.7,636L466.3,635Z" fill="#2aaee4" stroke="#3a3030" stroke-width="0.4" stroke-linejoin="round"/>
<line x1="466.2" y1="635" x2="466.2" y2="659.2" stroke="#3a3030" stroke-width="0.45"/>
<path d="M477.7,634L477.6,636L477.3,636.5L476.8,637L474,639L473.5,639.5L473.1,640L472.8,641.1L472.9,644.1L473.2,645.1L473.6,645.6L474.1,646.1L476.4,647.6L477,648.1L477.4,648.6L477.7,649.1L477.4,649.6L475.6,651.6L475.4,652.1L477.6,654.7L477.7,656.2L477.6,656.7L476.2,659.2L479.4,659.2L478,656.7L477.9,656.2L478,654.7L480.2,652.1L480,651.6L478.2,649.6L477.9,649.1L478.2,648.6L478.6,648.1L479.2,647.6L481.5,646.1L482,645.6L482.4,645.1L482.7,644.1L482.8,641.1L482.5,640L482.1,639.5L481.6,639L478.8,637L478.3,636.5L478,636L477.9,634Z" fill="#e8586f" stroke="#3a3030" stroke-width="0.4" stroke-linejoin="round"/>
<line x1="477.8" y1="634" x2="477.8" y2="659.2" stroke="#3a3030" stroke-width="0.45"/>
<line x1="493.2" y1="641" x2="493.2" y2="659.2" stroke="#5a5a5a" stroke-width="0.65"/>
<line x1="504.4" y1="641" x2="504.4" y2="659.2" stroke="#5a5a5a" stroke-width="0.65"/>
<line x1="516" y1="633" x2="516" y2="659.2" stroke="#5a5a5a" stroke-width="0.65"/>
<line x1="531.2" y1="635" x2="531.2" y2="659.2" stroke="#c4c4c4" stroke-width="1.1"/>
<line x1="542.4" y1="637" x2="542.4" y2="659.2" stroke="#5a5a5a" stroke-width="0.65"/>
<line x1="554" y1="633" x2="554" y2="659.2" stroke="#5a5a5a" stroke-width="0.65"/>
<path d="M569.1,629L569.1,648.6L567.4,650.1L566.7,650.6L566.4,651.1L568.3,652.7L568.9,653.2L569.1,653.7L569,655.7L566.3,658.2L565,659.2L573.4,659.2L572.1,658.2L569.4,655.7L569.3,653.7L569.5,653.2L570.1,652.7L572,651.1L571.7,650.6L571,650.1L569.3,648.6L569.3,629Z" fill="#e6a526" stroke="#3a3030" stroke-width="0.4" stroke-linejoin="round"/>
<line x1="569.2" y1="629" x2="569.2" y2="659.2" stroke="#3a3030" stroke-width="0.45"/>
<line x1="580.4" y1="627" x2="580.4" y2="659.2" stroke="#5a5a5a" stroke-width="0.65"/>
<line x1="592" y1="627" x2="592" y2="659.2" stroke="#c4c4c4" stroke-width="1.1"/>
<path d="M607.1,629L607.1,648.6L605.4,650.1L604.7,650.6L604.4,651.1L606.3,652.7L606.9,653.2L607.1,653.7L607,655.7L604.3,658.2L603,659.2L611.4,659.2L610.1,658.2L607.4,655.7L607.3,653.7L607.5,653.2L608.1,652.7L610,651.1L609.7,650.6L609,650.1L607.3,648.6L607.3,629Z" fill="#e6a526" stroke="#3a3030" stroke-width="0.4" stroke-linejoin="round"/>
<line x1="607.2" y1="629" x2="607.2" y2="659.2" stroke="#3a3030" stroke-width="0.45"/>
<line x1="618.4" y1="630" x2="618.4" y2="659.2" stroke="#5a5a5a" stroke-width="0.65"/>
<line x1="630" y1="630" x2="630" y2="659.2" stroke="#5a5a5a" stroke-width="0.65"/>
<use href="#star" x="429.2" y="633"/><use href="#star" x="434.4" y="633"/><use href="#star" x="439.6" y="633"/>
<use href="#star" x="465.8" y="633"/><use href="#star" x="471" y="633"/><use href="#star" x="476.2" y="633"/>
<use href="#star" x="505.8" y="633"/><use href="#star" x="511" y="633"/><use href="#star" x="516.2" y="633"/>
<use href="#star" x="542.8" y="633"/><use href="#star" x="548" y="633"/><use href="#star" x="553.2" y="633"/>
<use href="#star" x="586" y="633"/>
<use href="#star" x="618.8" y="633"/><use href="#star" x="624" y="633"/><use href="#star" x="629.2" y="633"/>
<line x1="401.4" y1="636.5" x2="405" y2="636.5" stroke="#555" stroke-width="0.8"/>
<line x1="401.4" y1="647.6" x2="405" y2="647.6" stroke="#555" stroke-width="0.8"/>
<text x="398.6" y="639.1" font-size="7.6" text-anchor="end" fill="#231f20">2</text>
<text x="662.4" y="647.2" font-size="10.8" text-anchor="middle" font-weight="bold" fill="#111">Stfa1</text>
<line x1="416.4" y1="671" x2="416.4" y2="691.3" stroke="#5a5a5a" stroke-width="0.65"/>
<path d="M427.5,668L427.5,669L427.3,669.5L422,675.6L421.7,676.1L426.3,681.2L426,681.7L425.8,682.2L427.4,683.7L427.5,688.3L427.2,688.8L424.5,691.3L430.8,691.3L428,688.8L427.7,688.3L427.8,683.7L429.4,682.2L429.2,681.7L428.9,681.2L433.5,676.1L433.2,675.6L427.9,669.5L427.7,669L427.7,668Z" fill="#2aaee4" stroke="#3a3030" stroke-width="0.4" stroke-linejoin="round"/>
<line x1="427.6" y1="668" x2="427.6" y2="691.3" stroke="#3a3030" stroke-width="0.45"/>
<path d="M439.1,668L436.8,668.5L435.5,669.5L435,670L434.6,670.5L434.3,671.5L434.2,675.1L434.5,676.1L434.7,676.6L435.1,677.1L436.3,678.1L437.7,679.1L438.3,679.6L438.5,680.2L437.4,681.7L437.3,682.2L439.1,684.7L439.1,689.8L438.9,690.3L438.2,691.3L440.3,691.3L439.5,690.3L439.3,689.8L439.3,684.7L441.1,682.2L441,681.7L439.9,680.2L440.1,679.6L440.7,679.1L442.1,678.1L443.3,677.1L443.7,676.6L443.9,676.1L444.2,675.1L444.1,671.5L443.8,670.5L443.4,670L442.9,669.5L441.6,668.5L439.3,668Z" fill="#e8586f" stroke="#3a3030" stroke-width="0.4" stroke-linejoin="round"/>
<line x1="439.2" y1="668" x2="439.2" y2="691.3" stroke="#3a3030" stroke-width="0.45"/>
<path d="M454.9,668L454.9,681.2L453.8,682.7L453.7,683.2L454.8,684.7L454.9,687.2L454.8,687.8L452.9,689.3L449.8,691.3L460.2,691.3L457.1,689.3L455.2,687.8L455.1,687.2L455.2,684.7L456.3,683.2L456.2,682.7L455.1,681.2L455.1,668Z" fill="#e6a526" stroke="#3a3030" stroke-width="0.4" stroke-linejoin="round"/>
<line x1="455" y1="668" x2="455" y2="691.3" stroke="#3a3030" stroke-width="0.45"/>
<path d="M466.1,670L463.8,670.5L462.5,671.5L462,672L461.6,672.5L461.3,673.5L461.2,677.1L461.5,678.1L461.7,678.6L462.1,679.1L463.3,680.1L464.7,681.2L465.3,681.7L465.7,682.2L465.6,682.7L464.5,683.7L464.4,684.2L466,685.7L466.1,688.3L465.8,688.8L463.1,691.3L469.3,691.3L466.6,688.8L466.3,688.3L466.4,685.7L468,684.2L467.9,683.7L466.8,682.7L466.7,682.2L467.1,681.7L467.7,681.2L469.1,680.1L470.3,679.1L470.7,678.6L470.9,678.1L471.2,677.1L471.1,673.5L470.8,672.5L470.4,672L469.9,671.5L468.6,670.5L466.3,670Z" fill="#2aaee4" stroke="#3a3030" stroke-width="0.4" stroke-linejoin="round"/>
<line x1="466.2" y1="670" x2="466.2" y2="691.3" stroke="#3a3030" stroke-width="0.45"/>
<path d="M477.7,667L476.4,668.5L473.1,671L472,672.1L471.3,673.1L470.9,674.6L470.9,679.7L471.2,680.7L471.8,681.7L472.8,682.7L476.1,685.2L476.7,685.7L476.6,686.2L476.1,686.7L476.1,687.2L477.6,688.8L477.7,689.3L475.7,691.3L479.9,691.3L477.9,689.3L478,688.8L479.5,687.2L479.5,686.7L479,686.2L478.9,685.7L479.5,685.2L482.8,682.7L483.8,681.7L484.4,680.7L484.7,679.7L484.7,674.6L484.3,673.1L483.6,672.1L482.5,671L479.2,668.5L477.9,667Z" fill="#e8586f" stroke="#3a3030" stroke-width="0.4" stroke-linejoin="round"/>
<line x1="477.8" y1="667" x2="477.8" y2="691.3" stroke="#3a3030" stroke-width="0.45"/>
<line x1="493.2" y1="669" x2="493.2" y2="691.3" stroke="#5a5a5a" stroke-width="0.65"/>
<line x1="504.4" y1="669" x2="504.4" y2="691.3" stroke="#5a5a5a" stroke-width="0.65"/>
<line x1="516" y1="666" x2="516" y2="691.3" stroke="#5a5a5a" stroke-width="0.65"/>
<line x1="531.2" y1="666" x2="531.2" y2="691.3" stroke="#c4c4c4" stroke-width="1.1"/>
<line x1="542.4" y1="672" x2="542.4" y2="691.3" stroke="#5a5a5a" stroke-width="0.65"/>
<line x1="554" y1="668" x2="554" y2="691.3" stroke="#5a5a5a" stroke-width="0.65"/>
<path d="M569.1,662L569,681.2L567.1,682.7L565.6,683.7L565.5,684.2L568.4,686.2L569,686.8L569.1,687.3L569,687.8L566.3,690.3L565,691.3L573.4,691.3L572.1,690.3L569.4,687.8L569.3,687.3L569.4,686.8L570,686.2L572.9,684.2L572.8,683.7L571.3,682.7L569.4,681.2L569.3,662Z" fill="#e6a526" stroke="#3a3030" stroke-width="0.4" stroke-linejoin="round"/>
<line x1="569.2" y1="662" x2="569.2" y2="691.3" stroke="#3a3030" stroke-width="0.45"/>
<line x1="580.4" y1="659.5" x2="580.4" y2="691.3" stroke="#5a5a5a" stroke-width="0.65"/>
<line x1="592" y1="662" x2="592" y2="691.3" stroke="#c4c4c4" stroke-width="1.1"/>
<path d="M607.1,667L607.1,681.2L604.5,683.7L604.4,684.2L606.6,686.2L607,686.7L607.1,687.8L604.3,690.3L603,691.3L611.4,691.3L610.1,690.3L607.3,687.8L607.4,686.7L607.8,686.2L610,684.2L609.9,683.7L607.3,681.2L607.3,667Z" fill="#e6a526" stroke="#3a3030" stroke-width="0.4" stroke-linejoin="round"/>
<line x1="607.2" y1="667" x2="607.2" y2="691.3" stroke="#3a3030" stroke-width="0.45"/>
<line x1="618.4" y1="665" x2="618.4" y2="691.3" stroke="#5a5a5a" stroke-width="0.65"/>
<line x1="630" y1="665" x2="630" y2="691.3" stroke="#5a5a5a" stroke-width="0.65"/>
<use href="#star" x="429.2" y="664"/><use href="#star" x="434.4" y="664"/><use href="#star" x="439.6" y="664"/>
<use href="#star" x="465.8" y="664"/><use href="#star" x="471" y="664"/><use href="#star" x="476.2" y="664"/>
<use href="#star" x="505.8" y="665"/><use href="#star" x="511" y="665"/><use href="#star" x="516.2" y="665"/>
<use href="#star" x="542.8" y="665"/><use href="#star" x="548" y="665"/><use href="#star" x="553.2" y="665"/>
<use href="#star" x="618.8" y="666"/><use href="#star" x="624" y="666"/><use href="#star" x="629.2" y="666"/>
<line x1="401.4" y1="670.3" x2="405" y2="670.3" stroke="#555" stroke-width="0.8"/>
<line x1="401.4" y1="680.7" x2="405" y2="680.7" stroke="#555" stroke-width="0.8"/>
<text x="398.6" y="672.9" font-size="7.6" text-anchor="end" fill="#231f20">2</text>
<text x="662.4" y="679.65" font-size="10.8" text-anchor="middle" font-weight="bold" fill="#111">Sprr2a3</text>
<line x1="416.4" y1="701" x2="416.4" y2="723.2" stroke="#5a5a5a" stroke-width="0.65"/>
<line x1="427.6" y1="705" x2="427.6" y2="723.2" stroke="#c4c4c4" stroke-width="1.1"/>
<path d="M439.1,701L439.1,711.6L438.7,712.1L437.1,713.6L436.8,714.1L438.9,716.1L439.1,716.6L439.1,719.2L439,719.7L437,721.2L434,723.2L444.5,723.2L441.4,721.2L439.4,719.7L439.3,719.2L439.3,716.6L439.5,716.1L441.6,714.1L441.3,713.6L439.7,712.1L439.3,711.6L439.3,701Z" fill="#e8586f" stroke="#3a3030" stroke-width="0.4" stroke-linejoin="round"/>
<line x1="439.2" y1="701" x2="439.2" y2="723.2" stroke="#3a3030" stroke-width="0.45"/>
<line x1="455" y1="701" x2="455" y2="723.2" stroke="#5a5a5a" stroke-width="0.65"/>
<path d="M466.1,700L466.1,706.6L465.9,707.1L465.3,708.1L466,709.1L466.1,711.6L465.6,712.1L463.7,713.6L463.4,714.1L465.3,715.6L465.9,716.1L466.1,716.6L466,719.7L463.3,722.2L462,723.2L470.4,723.2L469.1,722.2L466.4,719.7L466.3,716.6L466.5,716.1L467.1,715.6L469,714.1L468.7,713.6L466.8,712.1L466.3,711.6L466.4,709.1L467.1,708.1L466.5,707.1L466.3,706.6L466.3,700Z" fill="#2aaee4" stroke="#3a3030" stroke-width="0.4" stroke-linejoin="round"/>
<line x1="466.2" y1="700" x2="466.2" y2="723.2" stroke="#3a3030" stroke-width="0.45"/>
<path d="M477.7,699L477.7,706.1L477.2,706.6L475.9,707.6L475.4,708.1L477.4,709.6L477.7,710.1L477.7,711.6L477,712.1L474.5,713.6L474,714.1L476.6,715.6L477.4,716.1L477.7,716.6L477.7,719.2L477.6,719.7L475.6,721.2L472.6,723.2L483.1,723.2L480,721.2L478,719.7L477.9,719.2L477.9,716.6L478.2,716.1L479,715.6L481.6,714.1L481.1,713.6L478.6,712.1L477.9,711.6L477.9,710.1L478.2,709.6L480.2,708.1L479.7,707.6L478.4,706.6L477.9,706.1L477.9,699Z" fill="#e8586f" stroke="#3a3030" stroke-width="0.4" stroke-linejoin="round"/>
<line x1="477.8" y1="699" x2="477.8" y2="723.2" stroke="#3a3030" stroke-width="0.45"/>
<line x1="493.2" y1="701" x2="493.2" y2="723.2" stroke="#5a5a5a" stroke-width="0.65"/>
<line x1="504.4" y1="701" x2="504.4" y2="723.2" stroke="#5a5a5a" stroke-width="0.65"/>
<path d="M515.9,700L515.9,709.1L515.7,709.6L513.8,712.6L513.6,713.1L515.8,716.6L515.9,718.7L515.5,719.2L512.1,721.7L509.7,723.2L522.3,723.2L519.9,721.7L516.5,719.2L516.1,718.7L516.2,716.6L518.4,713.1L518.2,712.6L516.3,709.6L516.1,709.1L516.1,700Z" fill="#e8586f" stroke="#3a3030" stroke-width="0.4" stroke-linejoin="round"/>
<line x1="516" y1="700" x2="516" y2="723.2" stroke="#3a3030" stroke-width="0.45"/>
<line x1="531.2" y1="700" x2="531.2" y2="723.2" stroke="#c4c4c4" stroke-width="1.1"/>
<path d="M542.3,702L542.3,712.1L542,712.6L541.2,713.6L541,714.1L542.2,715.6L542.2,719.7L539.5,722.2L538.2,723.2L546.6,723.2L545.3,722.2L542.6,719.7L542.6,715.6L543.8,714.1L543.6,713.6L542.8,712.6L542.5,712.1L542.5,702Z" fill="#2aaee4" stroke="#3a3030" stroke-width="0.4" stroke-linejoin="round"/>
<line x1="542.4" y1="702" x2="542.4" y2="723.2" stroke="#3a3030" stroke-width="0.45"/>
<path d="M553.9,702L553.9,711.6L553.5,712.1L551.9,713.6L551.6,714.1L553.7,716.1L553.9,716.6L553.9,719.2L553.8,719.7L551.8,721.2L548.8,723.2L559.2,723.2L556.2,721.2L554.2,719.7L554.1,719.2L554.1,716.6L554.3,716.1L556.4,714.1L556.1,713.6L554.5,712.1L554.1,711.6L554.1,702Z" fill="#e8586f" stroke="#3a3030" stroke-width="0.4" stroke-linejoin="round"/>
<line x1="554" y1="702" x2="554" y2="723.2" stroke="#3a3030" stroke-width="0.45"/>
<line x1="569.2" y1="695" x2="569.2" y2="723.2" stroke="#c4c4c4" stroke-width="1.1"/>
<path d="M580.3,698L580.3,706.6L579.9,707.1L579.4,707.6L579,708.1L580.1,709.1L580.3,709.6L580.3,712.1L579.1,713.1L578.4,713.6L578.1,714.1L580.1,715.6L580.3,716.1L580.3,719.2L580.2,719.7L578.7,720.7L574.1,723.2L586.7,723.2L582.1,720.7L580.6,719.7L580.5,719.2L580.5,716.1L580.7,715.6L582.7,714.1L582.4,713.6L581.7,713.1L580.5,712.1L580.5,709.6L580.7,709.1L581.8,708.1L581.4,707.6L580.9,707.1L580.5,706.6L580.5,698Z" fill="#2aaee4" stroke="#3a3030" stroke-width="0.4" stroke-linejoin="round"/>
<line x1="580.4" y1="698" x2="580.4" y2="723.2" stroke="#3a3030" stroke-width="0.45"/>
<path d="M591.9,700L591.9,706.6L591.5,707.1L590.6,708.1L591.7,709.1L591.9,709.6L591.9,712.1L591.2,712.6L589.6,713.6L589.2,714.1L590.8,715.1L591.6,715.6L591.9,716.1L591.9,719.2L591.8,719.7L589.8,721.2L586.8,723.2L597.2,723.2L594.2,721.2L592.2,719.7L592.1,719.2L592.1,716.1L592.4,715.6L593.2,715.1L594.8,714.1L594.4,713.6L592.8,712.6L592.1,712.1L592.1,709.6L592.3,709.1L593.4,708.1L592.5,707.1L592.1,706.6L592.1,700Z" fill="#e8586f" stroke="#3a3030" stroke-width="0.4" stroke-linejoin="round"/>
<line x1="592" y1="700" x2="592" y2="723.2" stroke="#3a3030" stroke-width="0.45"/>
<line x1="607.2" y1="700" x2="607.2" y2="723.2" stroke="#5a5a5a" stroke-width="0.65"/>
<path d="M618.3,698L618.3,706.6L617.9,707.1L617.4,707.6L617,708.1L618.1,709.1L618.3,709.6L618.3,712.1L617.1,713.1L616.4,713.6L616.1,714.1L618.1,715.6L618.3,716.1L618.3,719.2L618.2,719.7L616.2,721.2L613.1,723.2L623.6,723.2L620.6,721.2L618.6,719.7L618.5,719.2L618.5,716.1L618.7,715.6L620.7,714.1L620.4,713.6L619.7,713.1L618.5,712.1L618.5,709.6L618.7,709.1L619.8,708.1L619.4,707.6L618.9,707.1L618.5,706.6L618.5,698Z" fill="#2aaee4" stroke="#3a3030" stroke-width="0.4" stroke-linejoin="round"/>
<line x1="618.4" y1="698" x2="618.4" y2="723.2" stroke="#3a3030" stroke-width="0.45"/>
<path d="M629.9,698L629.9,706.6L629.5,707.1L629,707.6L628.6,708.1L629.7,709.1L629.9,709.6L629.9,712.1L628.7,713.1L628,713.6L627.7,714.1L629.7,715.6L629.9,716.1L629.9,719.2L629.8,719.7L627.8,721.2L624.8,723.2L635.2,723.2L632.2,721.2L630.2,719.7L630.1,719.2L630.1,716.1L630.3,715.6L632.3,714.1L632,713.6L631.3,713.1L630.1,712.1L630.1,709.6L630.3,709.1L631.4,708.1L631,707.6L630.5,707.1L630.1,706.6L630.1,698Z" fill="#e8586f" stroke="#3a3030" stroke-width="0.4" stroke-linejoin="round"/>
<line x1="630" y1="698" x2="630" y2="723.2" stroke="#3a3030" stroke-width="0.45"/>
<use href="#star" x="429.2" y="697"/><use href="#star" x="434.4" y="697"/><use href="#star" x="439.6" y="697"/>
<use href="#star" x="465.8" y="697"/><use href="#star" x="471" y="697"/><use href="#star" x="476.2" y="697"/>
<use href="#star" x="504.8" y="697"/><use href="#star" x="510" y="697"/><use href="#star" x="515.2" y="697"/>
<use href="#star" x="580.8" y="697"/><use href="#star" x="586" y="697"/><use href="#star" x="591.2" y="697"/>
<use href="#star" x="618.8" y="697"/><use href="#star" x="624" y="697"/><use href="#star" x="629.2" y="697"/>
<line x1="401.4" y1="696.1" x2="405" y2="696.1" stroke="#555" stroke-width="0.8"/>
<line x1="401.4" y1="702.9" x2="405" y2="702.9" stroke="#555" stroke-width="0.8"/>
<line x1="401.4" y1="710" x2="405" y2="710" stroke="#555" stroke-width="0.8"/>
<line x1="401.4" y1="716.3" x2="405" y2="716.3" stroke="#555" stroke-width="0.8"/>
<text x="398.6" y="698.7" font-size="7.6" text-anchor="end" fill="#231f20">2</text>
<text x="662.4" y="711.65" font-size="10.8" text-anchor="middle" font-weight="bold" fill="#111">Hif1a</text>
<line x1="416.4" y1="731" x2="416.4" y2="755.2" stroke="#5a5a5a" stroke-width="0.65"/>
<line x1="427.6" y1="740" x2="427.6" y2="755.2" stroke="#c4c4c4" stroke-width="1.1"/>
<line x1="439.2" y1="737" x2="439.2" y2="755.2" stroke="#5a5a5a" stroke-width="0.65"/>
<line x1="455" y1="734" x2="455" y2="755.2" stroke="#5a5a5a" stroke-width="0.65"/>
<line x1="466.2" y1="734" x2="466.2" y2="755.2" stroke="#5a5a5a" stroke-width="0.65"/>
<line x1="477.8" y1="731" x2="477.8" y2="755.2" stroke="#5a5a5a" stroke-width="0.65"/>
<line x1="493.2" y1="734" x2="493.2" y2="755.2" stroke="#c4c4c4" stroke-width="1.1"/>
<line x1="504.4" y1="737" x2="504.4" y2="755.2" stroke="#5a5a5a" stroke-width="0.65"/>
<path d="M515.9,737L515.9,743.6L515.4,744.1L513.6,745.6L513.1,746.1L515.1,747.6L515.7,748.1L515.9,748.6L515.8,751.7L513.8,753.2L510.8,755.2L521.2,755.2L518.2,753.2L516.2,751.7L516.1,748.6L516.3,748.1L516.9,747.6L518.9,746.1L518.4,745.6L516.6,744.1L516.1,743.6L516.1,737Z" fill="#e8586f" stroke="#3a3030" stroke-width="0.4" stroke-linejoin="round"/>
<line x1="516" y1="737" x2="516" y2="755.2" stroke="#3a3030" stroke-width="0.45"/>
<line x1="531.2" y1="726" x2="531.2" y2="755.2" stroke="#c4c4c4" stroke-width="1.1"/>
<line x1="542.4" y1="731" x2="542.4" y2="755.2" stroke="#5a5a5a" stroke-width="0.65"/>
<line x1="554" y1="734" x2="554" y2="755.2" stroke="#c4c4c4" stroke-width="1.1"/>
<line x1="569.2" y1="723.5" x2="569.2" y2="755.2" stroke="#c4c4c4" stroke-width="1.1"/>
<path d="M580.3,730L580.3,739.6L580.1,740.1L579.5,741.1L580.2,742.1L580.3,744.1L579.1,745.1L578.4,745.6L578.1,746.1L580.1,747.6L580.3,748.1L580.3,752.2L580,752.7L577.2,755.2L583.5,755.2L580.8,752.7L580.5,752.2L580.5,748.1L580.7,747.6L582.7,746.1L582.4,745.6L581.7,745.1L580.5,744.1L580.6,742.1L581.3,741.1L580.7,740.1L580.5,739.6L580.5,730Z" fill="#2aaee4" stroke="#3a3030" stroke-width="0.4" stroke-linejoin="round"/>
<line x1="580.4" y1="730" x2="580.4" y2="755.2" stroke="#3a3030" stroke-width="0.45"/>
<path d="M591.9,728L591.9,739.6L591.7,740.1L591.3,740.6L591.1,741.1L591.8,742.1L591.9,744.1L590.7,745.1L590,745.6L589.7,746.1L591.7,747.6L591.9,748.1L591.9,752.2L591.5,752.7L588.6,754.7L587.8,755.2L596.2,755.2L595.4,754.7L592.5,752.7L592.1,752.2L592.1,748.1L592.3,747.6L594.3,746.1L594,745.6L593.3,745.1L592.1,744.1L592.2,742.1L592.9,741.1L592.7,740.6L592.3,740.1L592.1,739.6L592.1,728Z" fill="#e8586f" stroke="#3a3030" stroke-width="0.4" stroke-linejoin="round"/>
<line x1="592" y1="728" x2="592" y2="755.2" stroke="#3a3030" stroke-width="0.45"/>
<line x1="607.2" y1="731" x2="607.2" y2="755.2" stroke="#5a5a5a" stroke-width="0.65"/>
<path d="M618.3,730L618.3,739.6L618.1,740.1L617.5,741.1L618.2,742.1L618.3,744.1L617.1,745.1L616.4,745.6L616.1,746.1L618.1,747.6L618.3,748.1L618.3,752.2L618,752.7L615.2,755.2L621.5,755.2L618.8,752.7L618.5,752.2L618.5,748.1L618.7,747.6L620.7,746.1L620.4,745.6L619.7,745.1L618.5,744.1L618.6,742.1L619.3,741.1L618.7,740.1L618.5,739.6L618.5,730Z" fill="#2aaee4" stroke="#3a3030" stroke-width="0.4" stroke-linejoin="round"/>
<line x1="618.4" y1="730" x2="618.4" y2="755.2" stroke="#3a3030" stroke-width="0.45"/>
<path d="M629.9,728L629.9,739.6L629.7,740.1L629.3,740.6L629.1,741.1L629.8,742.1L629.9,744.1L628.7,745.1L628,745.6L627.7,746.1L629.7,747.6L629.9,748.1L629.9,752.2L629.5,752.7L626.6,754.7L625.8,755.2L634.2,755.2L633.4,754.7L630.5,752.7L630.1,752.2L630.1,748.1L630.3,747.6L632.3,746.1L632,745.6L631.3,745.1L630.1,744.1L630.2,742.1L630.9,741.1L630.7,740.6L630.3,740.1L630.1,739.6L630.1,728Z" fill="#e8586f" stroke="#3a3030" stroke-width="0.4" stroke-linejoin="round"/>
<line x1="630" y1="728" x2="630" y2="755.2" stroke="#3a3030" stroke-width="0.45"/>
<use href="#star" x="429.2" y="731"/><use href="#star" x="434.4" y="731"/><use href="#star" x="439.6" y="731"/>
<use href="#star" x="504.8" y="731"/><use href="#star" x="510" y="731"/><use href="#star" x="515.2" y="731"/>
<use href="#star" x="580.8" y="731"/><use href="#star" x="586" y="731"/><use href="#star" x="591.2" y="731"/>
<line x1="401.4" y1="728.6" x2="405" y2="728.6" stroke="#555" stroke-width="0.8"/>
<line x1="401.4" y1="735" x2="405" y2="735" stroke="#555" stroke-width="0.8"/>
<line x1="401.4" y1="742.5" x2="405" y2="742.5" stroke="#555" stroke-width="0.8"/>
<line x1="401.4" y1="748.7" x2="405" y2="748.7" stroke="#555" stroke-width="0.8"/>
<text x="398.6" y="731.2" font-size="7.6" text-anchor="end" fill="#231f20">2</text>
<text x="662.4" y="743.6" font-size="10.8" text-anchor="middle" font-weight="bold" fill="#111">Arnt</text>
<rect x="405" y="465.5" width="236.6" height="289.7" fill="none" stroke="#444" stroke-width="0.9"/>
<line x1="405" y1="497.3" x2="641.6" y2="497.3" stroke="#444" stroke-width="0.9"/>
<line x1="405" y1="529.5" x2="641.6" y2="529.5" stroke="#444" stroke-width="0.9"/>
<line x1="405" y1="562" x2="641.6" y2="562" stroke="#444" stroke-width="0.9"/>
<line x1="405" y1="594.3" x2="641.6" y2="594.3" stroke="#444" stroke-width="0.9"/>
<line x1="405" y1="626.4" x2="641.6" y2="626.4" stroke="#444" stroke-width="0.9"/>
<line x1="405" y1="659.2" x2="641.6" y2="659.2" stroke="#444" stroke-width="0.9"/>
<line x1="405" y1="691.3" x2="641.6" y2="691.3" stroke="#444" stroke-width="0.9"/>
<line x1="405" y1="723.2" x2="641.6" y2="723.2" stroke="#444" stroke-width="0.9"/>
<line x1="427.6" y1="755.2" x2="427.6" y2="758.2" stroke="#555" stroke-width="0.8"/>
<line x1="466.2" y1="755.2" x2="466.2" y2="758.2" stroke="#555" stroke-width="0.8"/>
<line x1="504.4" y1="755.2" x2="504.4" y2="758.2" stroke="#555" stroke-width="0.8"/>
<line x1="542.4" y1="755.2" x2="542.4" y2="758.2" stroke="#555" stroke-width="0.8"/>
<line x1="580.4" y1="755.2" x2="580.4" y2="758.2" stroke="#555" stroke-width="0.8"/>
<line x1="618.4" y1="755.2" x2="618.4" y2="758.2" stroke="#555" stroke-width="0.8"/>
<text x="428.8" y="764.6" font-size="9.8" text-anchor="end" fill="#231f20" transform="rotate(-45 428.8 764.6)">Suprabasal</text>
<text x="467.4" y="764.6" font-size="9.8" text-anchor="end" fill="#231f20" transform="rotate(-45 467.4 764.6)">Basal</text>
<text x="505.6" y="764.6" font-size="9.8" text-anchor="end" fill="#231f20" transform="rotate(-45 505.6 764.6)">HF</text>
<text x="543.6" y="764.6" font-size="9.8" text-anchor="end" fill="#231f20" transform="rotate(-45 543.6 764.6)">SG</text>
<text x="581.6" y="764.6" font-size="9.8" text-anchor="end" fill="#231f20" transform="rotate(-45 581.6 764.6)">Dermal</text>
<text x="619.6" y="764.6" font-size="9.8" text-anchor="end" fill="#231f20" transform="rotate(-45 619.6 764.6)">Immune</text>
<text x="-0.6" y="811.5" font-size="16.4" font-weight="bold" fill="#1a1a1a" transform="translate(-0.6 811.5) scale(1 1.07) translate(0.6 -811.5)">J</text>
<text x="130.3" y="811" font-size="9.85" text-anchor="middle" fill="#f07a3c">Angiogenesis pathway</text>
<text x="88.3" y="823.3" font-size="9.7" text-anchor="middle" fill="#231f20">E-con</text>
<text x="184.8" y="823.3" font-size="9.7" text-anchor="middle" fill="#231f20">E-Yd1</text>
<rect x="7.6" y="827.6" width="11.4" height="112" fill="#fff" stroke="#333" stroke-width="0.8"/>
<line x1="7.6" y1="883.4" x2="19" y2="883.4" stroke="#333" stroke-width="0.8"/>
<text x="16" y="855" font-size="7" text-anchor="middle" fill="#231f20" transform="rotate(-90 16 855)">Heatmap</text>
<text x="16" y="911.5" font-size="6.9" text-anchor="middle" fill="#231f20" transform="rotate(-90 16 911.5)">Molecular feature</text>
<g clip-path="url(#cJ1)">
<rect x="19" y="827.6" width="104" height="54.8" fill="#ede5e7" stroke="none" stroke-width="1"/>
<polygon points="18,843 24,841.5 30,842.5 38,844.5 47.4,843.8 50,839.5 53.6,836.8 58,834.6 64.4,833.7 72,834 80,833 88,831.2 95.4,830.6 103,830.2 111,829 118,828 124,827.6 124,883 18,883" fill="#dc66a2" stroke="none" stroke-width="1"/>
<rect x="19" y="827.6" width="104" height="54.8" fill="url(#p18)" opacity="0.8" clip-path="url(#cJ1t)"/>
<rect x="19" y="827" width="104" height="56" fill="url(#p19)" opacity="0.85" clip-path="url(#cJ1t)"/>
<rect x="19" y="827" width="104" height="56" fill="url(#p20)" opacity="0.9" clip-path="url(#cJ1t)"/>
<rect x="19" y="827" width="104" height="56" fill="url(#p21)" opacity="1.0" clip-path="url(#cJ1t)"/>
<rect x="19" y="827" width="104" height="56" fill="url(#p22)" opacity="1.0" clip-path="url(#cJ1b)"/>
<polyline points="18,843.8 24,842.3 30,843.3 38,845.3 47.4,844.6 50,840.3 53.6,837.6 58,835.4 64.4,834.5 72,834.8 80,833.8 88,832 95.4,831.4 103,831 111,829.8 118,828.8 124,828.4" fill="none" stroke="#f0e030" stroke-width="1.6" opacity="0.8"/>
</g>
<g clip-path="url(#cJ2)">
<rect x="125.6" y="827.6" width="104.4" height="54.8" fill="#ede5e7" stroke="none" stroke-width="1"/>
<polygon points="125,872 140,860 155,845 165,833 172,827 231,827 231,842 200,883 125,883" fill="#dc66a2" stroke="none" stroke-width="1"/>
<rect x="125.6" y="827.6" width="104.4" height="54.8" fill="url(#p23)" opacity="0.8" clip-path="url(#cJ2t)"/>
<rect x="125" y="827" width="106" height="56" fill="url(#p24)" opacity="0.85" clip-path="url(#cJ2t)"/>
<polygon points="125,827 172,827 160,840 150,852 138,864 125,872" fill="#f4e8ee" stroke="none" stroke-width="1"/>
<path d="M127,828 C135,840 142,850 126,858" fill="none" stroke="#e690bc" stroke-width="0.6"/>
<path d="M133,828 C139,841 145,851 128,860" fill="none" stroke="#e690bc" stroke-width="0.6"/>
<path d="M139,828 C143,842 148,852 130,862" fill="none" stroke="#e690bc" stroke-width="0.6"/>
<path d="M145,828 C147,843 151,853 132,864" fill="none" stroke="#e690bc" stroke-width="0.6"/>
<path d="M151,828 C151,844 154,854 134,866" fill="none" stroke="#e690bc" stroke-width="0.6"/>
<path d="M157,828 C155,845 157,855 136,868" fill="none" stroke="#e690bc" stroke-width="0.6"/>
<path d="M163,828 C159,846 160,856 138,870" fill="none" stroke="#e690bc" stroke-width="0.6"/>
<rect x="125" y="827" width="106" height="56" fill="url(#p25)" opacity="1.0" clip-path="url(#cJ2t)"/>
<polyline points="128,869 134,866 140,861 148,851 156,842 162,834 167,829" fill="none" stroke="#f2e224" stroke-width="3.4"/>
<path d="M160,829 C165,828 172,828 178,829 L174,834 C169,834 164,834 160,833 Z" fill="#f2e224" stroke="none" stroke-width="1"/>
<polygon points="231,842 231,883 200,883" fill="#ece4e6" stroke="none" stroke-width="1"/>
<path d="M185,883 L231,846" fill="none" stroke="#f6eef2" stroke-width="1.4"/>
<path d="M178,883 L231,840" fill="none" stroke="#f3e6ee" stroke-width="0.9"/>
</g>
<rect x="211.6" y="862" width="4.6" height="20.4" fill="url(#viri)" stroke="none" stroke-width="1"/>
<text x="217.4" y="866.4" font-size="7.3" text-anchor="start" fill="#222">max</text>
<text x="217.4" y="882" font-size="7.3" text-anchor="start" fill="#222">min</text>
<g clip-path="url(#cJ3)">
<rect x="19" y="884.4" width="104" height="55.2" fill="#ede5e7" stroke="none" stroke-width="1"/>
<polygon points="18,904 24,902 30,900 38,899.5 45,898 52,898.5 60,898 70,897.5 80,897 84,891 88,887.5 92,886 100,885.5 110,885 124,884.4 124,940 18,940" fill="#dc66a2" stroke="none" stroke-width="1"/>
<rect x="19" y="884.4" width="104" height="55.2" fill="url(#p26)" opacity="0.8" clip-path="url(#cJ3t)"/>
<rect x="19" y="884" width="104" height="56" fill="url(#p27)" opacity="0.85" clip-path="url(#cJ3t)"/>
<rect x="19" y="884" width="104" height="56" fill="url(#p28)" opacity="1.0" clip-path="url(#cJ3b)"/>
<rect x="19" y="884" width="104" height="56" fill="url(#p29)" opacity="0.9" clip-path="url(#cJ3t)"/>
<rect x="19" y="884" width="104" height="56" fill="url(#p30)" opacity="1.0" clip-path="url(#cJ3t)"/>
</g>
<g clip-path="url(#cJ4)">
<rect x="125.6" y="884.4" width="104.4" height="55.2" fill="#ede5e7" stroke="none" stroke-width="1"/>
<polygon points="125,915 135,905 150,898 170,893 190,892 210,890 231,889 231,940 125,940" fill="#dc66a2" stroke="none" stroke-width="1"/>
<rect x="125.6" y="884.4" width="104.4" height="55.2" fill="url(#p31)" opacity="0.8" clip-path="url(#cJ4t)"/>
<rect x="125" y="884" width="106" height="56" fill="url(#p32)" opacity="0.85" clip-path="url(#cJ4t)"/>
<polygon points="125,884 231,884 231,889 190,892 150,898 125,915" fill="#f3e6ec" stroke="none" stroke-width="1"/>
<path d="M125,887 C150,884 190,886 231,885" fill="none" stroke="#e08cba" stroke-width="0.6"/>
<path d="M125,891 C150,887 190,888 231,886" fill="none" stroke="#e08cba" stroke-width="0.6"/>
<path d="M125,895 C150,890 190,890 231,887" fill="none" stroke="#e08cba" stroke-width="0.6"/>
<path d="M125,899 C150,893 190,892 231,888" fill="none" stroke="#e08cba" stroke-width="0.6"/>
<path d="M125,903 C150,896 190,894 231,889" fill="none" stroke="#e08cba" stroke-width="0.6"/>
<path d="M125,907 C150,899 190,896 231,890" fill="none" stroke="#e08cba" stroke-width="0.6"/>
<rect x="125" y="884" width="106" height="56" fill="url(#p33)" opacity="1.0" clip-path="url(#cJ4b)"/>
<rect x="125" y="884" width="106" height="56" fill="url(#p34)" opacity="1.0" clip-path="url(#cJ4t)"/>
</g>
<rect x="21" y="864.4" width="20" height="15.2" fill="#050505" stroke="none" stroke-width="1"/>
<path d="M24,874.6 C29,872.76 35,871.24 38,869.4" fill="none" stroke="#5a5050" stroke-width="1" opacity="0.7"/>
<rect x="21" y="921.6" width="20" height="15" fill="#050505" stroke="none" stroke-width="1"/>
<path d="M24,931.6 C29,929.85 35,928.35 38,926.6" fill="none" stroke="#5a5050" stroke-width="1" opacity="0.7"/>
<rect x="128.4" y="869" width="9" height="11" fill="#050505" stroke="none" stroke-width="1"/>
<rect x="128.4" y="926.6" width="9.2" height="10.4" fill="#050505" stroke="none" stroke-width="1"/>
<text x="108.8" y="875.2" font-size="8.1" text-anchor="middle" fill="#222">500µm</text>
<rect x="96" y="876.6" width="26" height="1.5" fill="#111" stroke="none" stroke-width="1"/>
<text x="107.5" y="931.2" font-size="7.9" text-anchor="middle" fill="#222">200µm</text>
<rect x="94" y="933.8" width="27" height="1.5" fill="#111" stroke="none" stroke-width="1"/>
<circle cx="35.6" cy="946.4" r="3.2" fill="#f7a23b" stroke="none" stroke-width="1"/>
<text x="44" y="949.4" font-size="8.5" text-anchor="start" fill="#333">Hif1a</text>
<circle cx="75.6" cy="946.4" r="3.2" fill="#d957b5" stroke="none" stroke-width="1"/>
<text x="84" y="949.4" font-size="8.5" text-anchor="start" fill="#333">Epas1</text>
<circle cx="117.6" cy="946.4" r="3.2" fill="#c9c41c" stroke="none" stroke-width="1"/>
<text x="126" y="949.4" font-size="8.5" text-anchor="start" fill="#333">Hif3a</text>
<circle cx="157" cy="946.4" r="3.2" fill="#4ab8e8" stroke="none" stroke-width="1"/>
<text x="165.4" y="949.4" font-size="8.5" text-anchor="start" fill="#333">Arnt</text>
<circle cx="192.4" cy="946.4" r="3.2" fill="#4a7cf0" stroke="none" stroke-width="1"/>
<text x="200.8" y="949.4" font-size="8.5" text-anchor="start" fill="#333">Pdgfa</text>
<text x="235.9" y="818" font-size="16.4" font-weight="bold" fill="#1a1a1a" transform="translate(235.9 818) scale(1 1.07) translate(-235.9 -818)">K</text>
<text x="302.9" y="823.3" font-size="9.7" text-anchor="middle" fill="#231f20">E-con</text>
<text x="382.6" y="823.3" font-size="9.7" text-anchor="middle" fill="#231f20">E-Yd1</text>
<rect x="244.4" y="825" width="10.6" height="56.6" fill="#fff" stroke="#777" stroke-width="0.8"/>
<rect x="244.4" y="884" width="10.6" height="56.4" fill="#fff" stroke="#777" stroke-width="0.8"/>
<text x="253.4" y="850.2" font-size="10.2" text-anchor="middle" transform="rotate(-90 253.4 850.2)"><tspan fill="#1ed21e">Ki67</tspan><tspan fill="#2b44c8"> DAPI</tspan></text>
<text x="253.4" y="905.3" font-size="9.6" text-anchor="middle" transform="rotate(-90 253.4 905.3)"><tspan fill="#1ed21e">YAP</tspan><tspan fill="#2b44c8"> DAPI</tspan></text>
<g clip-path="url(#cK1)">
<rect x="255" y="825" width="85.6" height="56.6" fill="#000" stroke="none" stroke-width="1"/>
<rect x="255" y="825" width="85.6" height="56.6" fill="url(#p35)" opacity="1.0" clip-path="url(#cK1b)"/>
<rect x="255" y="825" width="85.6" height="56.6" fill="url(#p36)" opacity="1.0" clip-path="url(#cK1b)"/>
<polyline points="255,842.5 262,837.5 268,834.5 274,837.5 280,840.5 286,841.5 294,837.5 302,840.5 309,844.5 316,848.5 324,851.5 332,854.5 336,853.5 341,850.5" fill="none" stroke="#2545e0" stroke-width="1.5" opacity="0.6"/>
<polyline points="255,841 262,836 268,833 274,836 280,839 286,840 294,836 302,839 309,843 316,847 324,850 332,853 336,852 341,849" fill="none" stroke="#e8e8e8" stroke-width="1.1" stroke-dasharray="3,1.6"/>
</g>
<g clip-path="url(#cK2)">
<rect x="344" y="825" width="86" height="56.6" fill="#000" stroke="none" stroke-width="1"/>
<ellipse cx="366" cy="853" rx="8" ry="5" fill="#1a30c0" opacity="0.7"/>
<ellipse cx="420" cy="855" rx="10" ry="4" fill="#1a30b0" opacity="0.4"/>
<rect x="344" y="825" width="86" height="56.6" fill="url(#p37)" opacity="1.0" clip-path="url(#cK2b)"/>
<rect x="344" y="825" width="86" height="56.6" fill="url(#p38)" opacity="1.0" clip-path="url(#cK2b)"/>
<polyline points="344,838 352,838.5 362,837.5 368,841.5 372,845.5 378,847.5 385,846.5 392,844 400,842.5 410,844.5 420,847 430,848.5" fill="none" stroke="#2545e0" stroke-width="1.5" opacity="0.6"/>
<polyline points="344,836.5 352,837 362,836 368,840 372,844 378,846 385,845 392,842.5 400,841 410,843 420,845.5 430,847" fill="none" stroke="#e8e8e8" stroke-width="1.1" stroke-dasharray="3,1.6"/>
</g>
<g clip-path="url(#cK3)">
<rect x="255" y="884" width="85.6" height="56.4" fill="#000" stroke="none" stroke-width="1"/>
<rect x="255" y="884" width="85.6" height="56.4" fill="url(#p39)" opacity="1.0" clip-path="url(#cK3b)"/>
<rect x="255" y="884" width="85.6" height="56.4" fill="url(#p40)" opacity="1.0" clip-path="url(#cK3b)"/>
<polyline points="255,894.5 262,892.5 270,892.5 280,895.5 285,891.5 295,892.5 305,893.5 313,896.5 318,900.5 322,902.5 326,898.5 331,894.5 341,894.5" fill="none" stroke="#2545e0" stroke-width="1.5" opacity="0.6"/>
<circle cx="318" cy="905" r="1.8" fill="#3fd880" stroke="none" stroke-width="1"/>
<circle cx="321" cy="912" r="1.6" fill="#27c060" stroke="none" stroke-width="1"/>
<circle cx="276" cy="940" r="4" fill="#3ef03e" stroke="none" stroke-width="1"/>
<circle cx="262" cy="938" r="2" fill="#2ad02a" stroke="none" stroke-width="1"/>
<polyline points="255,893 262,891 270,891 280,894 285,890 295,891 305,892 313,895 318,899 322,901 326,897 331,893 341,893" fill="none" stroke="#e8e8e8" stroke-width="1.1" stroke-dasharray="3,1.6"/>
</g>
<path d="M314.5,896 C317,902 320,908 324.5,916" fill="none" stroke="#3ee04a" stroke-width="1.4" opacity="0.9"/>
<path d="M317,897 C319,903 322,909 326,914" fill="none" stroke="#1a9ad0" stroke-width="0.8" opacity="0.7"/>
<g clip-path="url(#cK4)">
<rect x="344" y="884" width="86" height="56.4" fill="#000" stroke="none" stroke-width="1"/>
<rect x="344" y="884" width="86" height="56.4" fill="url(#p41)" opacity="1.0" clip-path="url(#cK4b)"/>
<rect x="344" y="884" width="86" height="56.4" fill="url(#p42)" opacity="1.0" clip-path="url(#cK4b)"/>
<polyline points="344,907.2 353.9,910.6 360.8,909.9 369.1,907.9 374.7,904.4 381.6,902.3 389.9,902.3 398.3,900.2 405.2,899.5 409.3,896.8 414.9,894.7 423.2,894 430,894.7" fill="none" stroke="#2545e0" stroke-width="1.5" opacity="0.6"/>
<circle cx="409" cy="925" r="2.2" fill="#2ad83a" stroke="none" stroke-width="1"/>
<circle cx="398" cy="930" r="1.5" fill="#2ad83a" stroke="none" stroke-width="1"/>
<circle cx="390" cy="937" r="1.8" fill="#2ad83a" stroke="none" stroke-width="1"/>
<circle cx="372" cy="929" r="1.2" fill="#2ad83a" stroke="none" stroke-width="1"/>
<circle cx="429" cy="898" r="2" fill="#2ad83a" stroke="none" stroke-width="1"/>
<polyline points="344,905.7 353.9,909.1 360.8,908.4 369.1,906.4 374.7,902.9 381.6,900.8 389.9,900.8 398.3,898.7 405.2,898 409.3,895.3 414.9,893.2 423.2,892.5 430,893.2" fill="none" stroke="#e8e8e8" stroke-width="1.1" stroke-dasharray="3,1.6"/>
</g>
<circle cx="383" cy="907.5" r="3.4" fill="#0a3a10" stroke="#35e040" stroke-width="1.6"/>
<circle cx="393" cy="908" r="3.8" fill="#0a3a10" stroke="#35e040" stroke-width="1.6"/>
<circle cx="419" cy="899.5" r="3.4" fill="#0a3a10" stroke="#35e040" stroke-width="1.6"/>
<rect x="310" y="879.4" width="29.4" height="1.3" fill="#9a9a9a" stroke="none" stroke-width="1"/>
<rect x="398" y="879.4" width="30" height="1.3" fill="#9a9a9a" stroke="none" stroke-width="1"/>
<rect x="310" y="938.6" width="29.4" height="1.3" fill="#9a9a9a" stroke="none" stroke-width="1"/>
<rect x="398" y="938.6" width="30" height="1.3" fill="#9a9a9a" stroke="none" stroke-width="1"/>
<text x="415.4" y="877" font-size="7.2" text-anchor="middle" fill="#fff">200µm</text>
<text x="415.4" y="936" font-size="7.2" text-anchor="middle" fill="#fff">200µm</text>
<text x="435.8" y="817.8" font-size="16.4" font-weight="bold" fill="#1a1a1a" transform="translate(435.8 817.8) scale(1 1.07) translate(-435.8 -817.8)">L</text>
<text x="489.8" y="827.8" font-size="9.7" text-anchor="middle" fill="#231f20">Proliferation</text>
<text x="565.6" y="829" font-size="9.8" text-anchor="middle" fill="#231f20">Hippo-YAP</text>
<rect x="470.6" y="895.38" width="13.8" height="21.22" fill="#fff" stroke="#333" stroke-width="0.9"/>
<rect x="491.4" y="875.96" width="13.6" height="40.64" fill="#fff" stroke="#c1272d" stroke-width="0.9"/>
<line x1="477.5" y1="896.65" x2="477.5" y2="893.97" stroke="#222" stroke-width="0.8"/>
<line x1="474.7" y1="893.97" x2="480.3" y2="893.97" stroke="#222" stroke-width="0.8"/>
<line x1="474.7" y1="896.65" x2="480.3" y2="896.65" stroke="#222" stroke-width="0.8"/>
<line x1="474.7" y1="895.38" x2="480.3" y2="895.38" stroke="#222" stroke-width="0.8"/>
<line x1="498.2" y1="880.1" x2="498.2" y2="871.68" stroke="#c1272d" stroke-width="0.8"/>
<line x1="495.4" y1="871.68" x2="501" y2="871.68" stroke="#c1272d" stroke-width="0.8"/>
<line x1="495.4" y1="880.1" x2="501" y2="880.1" stroke="#c1272d" stroke-width="0.8"/>
<line x1="495.4" y1="875.96" x2="501" y2="875.96" stroke="#c1272d" stroke-width="0.8"/>
<polygon points="475,893.4 473.7,895.74 476.3,895.74" fill="#111" stroke="none" stroke-width="1"/>
<polygon points="480,893.4 478.7,895.74 481.3,895.74" fill="#111" stroke="none" stroke-width="1"/>
<polygon points="477.5,892.67 476.2,895.01 478.8,895.01" fill="#111" stroke="none" stroke-width="1"/>
<polygon points="475.5,894.86 474.2,897.2 476.8,897.2" fill="#111" stroke="none" stroke-width="1"/>
<polygon points="479.5,894.86 478.2,897.2 480.8,897.2" fill="#111" stroke="none" stroke-width="1"/>
<rect x="497" y="859.43" width="2.4" height="2.4" fill="#b3141b" stroke="none" stroke-width="1"/>
<rect x="495.2" y="875.49" width="2.4" height="2.4" fill="#b3141b" stroke="none" stroke-width="1"/>
<rect x="498.8" y="876.46" width="2.4" height="2.4" fill="#b3141b" stroke="none" stroke-width="1"/>
<rect x="497" y="877.92" width="2.4" height="2.4" fill="#b3141b" stroke="none" stroke-width="1"/>
<line x1="463" y1="843" x2="463" y2="916.6" stroke="#6a6a6a" stroke-width="0.9"/>
<line x1="463" y1="916.6" x2="512.4" y2="916.6" stroke="#6a6a6a" stroke-width="0.9"/>
<line x1="460.8" y1="916.6" x2="463" y2="916.6" stroke="#6a6a6a" stroke-width="0.8"/>
<text x="460.7" y="919.9" font-size="8.8" text-anchor="end" fill="#231f20">0</text>
<line x1="460.8" y1="892.26" x2="463" y2="892.26" stroke="#6a6a6a" stroke-width="0.8"/>
<text x="460.7" y="895.56" font-size="8.8" text-anchor="end" fill="#231f20">50</text>
<line x1="460.8" y1="867.93" x2="463" y2="867.93" stroke="#6a6a6a" stroke-width="0.8"/>
<text x="460.7" y="871.23" font-size="8.8" text-anchor="end" fill="#231f20">100</text>
<line x1="460.8" y1="843.6" x2="463" y2="843.6" stroke="#6a6a6a" stroke-width="0.8"/>
<text x="460.7" y="846.89" font-size="8.8" text-anchor="end" fill="#231f20">150</text>
<line x1="477.5" y1="916.6" x2="477.5" y2="919.1" stroke="#6a6a6a" stroke-width="0.8"/>
<line x1="498.2" y1="916.6" x2="498.2" y2="919.1" stroke="#6a6a6a" stroke-width="0.8"/>
<text x="480" y="924.4" font-size="9" text-anchor="end" fill="#231f20" transform="rotate(-45 480 924.4)">E-con</text>
<text x="500.7" y="924.4" font-size="9" text-anchor="end" fill="#231f20" transform="rotate(-45 500.7 924.4)">E-Yd1</text>
<text x="445" y="881.2" font-size="9" text-anchor="middle" fill="#231f20" transform="rotate(-90 445 881.2)">Ki67+ cells per mm</text>
<line x1="477.4" y1="856.4" x2="498.6" y2="856.4" stroke="#333" stroke-width="0.7"/>
<line x1="477.4" y1="856.1" x2="477.4" y2="858.6" stroke="#333" stroke-width="0.7"/>
<line x1="498.6" y1="856.1" x2="498.6" y2="858.6" stroke="#333" stroke-width="0.7"/>
<text x="488" y="854.2" font-size="8.2" text-anchor="middle" fill="#1a1a1a">0.0004</text>
<rect x="552.4" y="883.69" width="13.6" height="34.31" fill="#fff" stroke="#333" stroke-width="0.9"/>
<rect x="573.4" y="861.06" width="13.6" height="56.94" fill="#fff" stroke="#c1272d" stroke-width="0.9"/>
<line x1="559.2" y1="886.25" x2="559.2" y2="880.77" stroke="#222" stroke-width="0.8"/>
<line x1="556.4" y1="880.77" x2="562" y2="880.77" stroke="#222" stroke-width="0.8"/>
<line x1="556.4" y1="886.25" x2="562" y2="886.25" stroke="#222" stroke-width="0.8"/>
<line x1="556.4" y1="883.69" x2="562" y2="883.69" stroke="#222" stroke-width="0.8"/>
<line x1="580.2" y1="865.44" x2="580.2" y2="856.68" stroke="#c1272d" stroke-width="0.8"/>
<line x1="577.4" y1="856.68" x2="583" y2="856.68" stroke="#c1272d" stroke-width="0.8"/>
<line x1="577.4" y1="865.44" x2="583" y2="865.44" stroke="#c1272d" stroke-width="0.8"/>
<line x1="577.4" y1="861.06" x2="583" y2="861.06" stroke="#c1272d" stroke-width="0.8"/>
<circle cx="559.2" cy="875.29" r="1.1" fill="#111" stroke="none" stroke-width="1"/>
<polygon points="557.4,885.31 556.1,887.65 558.7,887.65" fill="#111" stroke="none" stroke-width="1"/>
<polygon points="561,885.31 559.7,887.65 562.3,887.65" fill="#111" stroke="none" stroke-width="1"/>
<polygon points="559.2,883.12 557.9,885.46 560.5,885.46" fill="#111" stroke="none" stroke-width="1"/>
<rect x="579" y="854.02" width="2.4" height="2.4" fill="#b3141b" stroke="none" stroke-width="1"/>
<rect x="579" y="858.76" width="2.4" height="2.4" fill="#b3141b" stroke="none" stroke-width="1"/>
<rect x="579" y="866.79" width="2.4" height="2.4" fill="#b3141b" stroke="none" stroke-width="1"/>
<line x1="545" y1="844" x2="545" y2="918" stroke="#6a6a6a" stroke-width="0.9"/>
<line x1="545" y1="918" x2="594.4" y2="918" stroke="#6a6a6a" stroke-width="0.9"/>
<line x1="542.8" y1="918" x2="545" y2="918" stroke="#6a6a6a" stroke-width="0.8"/>
<text x="542.7" y="921.3" font-size="8.8" text-anchor="end" fill="#231f20">0</text>
<line x1="542.8" y1="903.4" x2="545" y2="903.4" stroke="#6a6a6a" stroke-width="0.8"/>
<text x="542.7" y="906.7" font-size="8.8" text-anchor="end" fill="#231f20">20</text>
<line x1="542.8" y1="888.8" x2="545" y2="888.8" stroke="#6a6a6a" stroke-width="0.8"/>
<text x="542.7" y="892.1" font-size="8.8" text-anchor="end" fill="#231f20">40</text>
<line x1="542.8" y1="874.2" x2="545" y2="874.2" stroke="#6a6a6a" stroke-width="0.8"/>
<text x="542.7" y="877.5" font-size="8.8" text-anchor="end" fill="#231f20">60</text>
<line x1="542.8" y1="859.6" x2="545" y2="859.6" stroke="#6a6a6a" stroke-width="0.8"/>
<text x="542.7" y="862.9" font-size="8.8" text-anchor="end" fill="#231f20">80</text>
<line x1="542.8" y1="845" x2="545" y2="845" stroke="#6a6a6a" stroke-width="0.8"/>
<text x="542.7" y="848.3" font-size="8.8" text-anchor="end" fill="#231f20">100</text>
<line x1="559.2" y1="918" x2="559.2" y2="920.5" stroke="#6a6a6a" stroke-width="0.8"/>
<line x1="580.2" y1="918" x2="580.2" y2="920.5" stroke="#6a6a6a" stroke-width="0.8"/>
<text x="561.7" y="925.8" font-size="9" text-anchor="end" fill="#231f20" transform="rotate(-45 561.7 925.8)">E-con</text>
<text x="582.7" y="925.8" font-size="9" text-anchor="end" fill="#231f20" transform="rotate(-45 582.7 925.8)">E-Yd1</text>
<text x="528.4" y="882.9" font-size="9" text-anchor="middle" fill="#231f20" transform="rotate(-90 528.4 882.9)">YAP nuc+ cells per mm</text>
<line x1="559.6" y1="850.2" x2="580.4" y2="850.2" stroke="#333" stroke-width="0.7"/>
<line x1="559.6" y1="849.9" x2="559.6" y2="852.4" stroke="#333" stroke-width="0.7"/>
<line x1="580.4" y1="849.9" x2="580.4" y2="852.4" stroke="#333" stroke-width="0.7"/>
<text x="570" y="848.2" font-size="8" text-anchor="middle" fill="#1a1a1a">0.0029</text>
<text x="600.9" y="818" font-size="16.4" font-weight="bold" fill="#1a1a1a" transform="translate(600.9 818) scale(1 1.07) translate(-600.9 -818)">M</text>
<text x="644.8" y="831.8" font-size="8.6" text-anchor="middle" fill="#231f20">Piezo1</text>
<path d="M616,846 C622,842 632,841.5 645,842 C658,841.5 670,842 676,845 C679,856 679,880 677,896 C676,905 668,909 646,910 C624,909 616,905 614.5,896 C612.5,880 612.5,856 616,846 Z" fill="#c94c58" stroke="none" stroke-width="1"/>
<ellipse cx="644" cy="877.6" rx="13.8" ry="13.5" fill="#6e0b16"/>
<ellipse cx="630.8" cy="842.5" rx="5.2" ry="2.9" fill="#1f9a43" stroke="#0e6b2a" stroke-width="0.5" transform="rotate(-38 630.8 842.5)"/>
<ellipse cx="639.2" cy="842.5" rx="5.2" ry="2.9" fill="#1f9a43" stroke="#0e6b2a" stroke-width="0.5" transform="rotate(38 639.2 842.5)"/>
<ellipse cx="635" cy="843" rx="2.6" ry="5" fill="#22a548" stroke="#0e6b2a" stroke-width="0.5"/>
<line x1="635" y1="833" x2="635" y2="849" stroke="#3ddc6a" stroke-width="0.9"/>
<ellipse cx="653.4" cy="842.5" rx="5.2" ry="2.9" fill="#1f9a43" stroke="#0e6b2a" stroke-width="0.5" transform="rotate(-38 653.4 842.5)"/>
<ellipse cx="661.8" cy="842.5" rx="5.2" ry="2.9" fill="#1f9a43" stroke="#0e6b2a" stroke-width="0.5" transform="rotate(38 661.8 842.5)"/>
<ellipse cx="657.6" cy="843" rx="2.6" ry="5" fill="#22a548" stroke="#0e6b2a" stroke-width="0.5"/>
<line x1="657.6" y1="833" x2="657.6" y2="849" stroke="#3ddc6a" stroke-width="0.9"/>
<circle cx="636.6" cy="856" r="3.3" fill="#f2f2f2" stroke="#9a9a9a" stroke-width="0.5"/>
<circle cx="646.4" cy="857" r="3.3" fill="#f2f2f2" stroke="#9a9a9a" stroke-width="0.5"/>
<circle cx="643" cy="874.4" r="3.3" fill="#f2f2f2" stroke="#9a9a9a" stroke-width="0.5"/>
<circle cx="652.4" cy="876" r="3.3" fill="#f2f2f2" stroke="#9a9a9a" stroke-width="0.5"/>
<circle cx="643" cy="886.4" r="3.3" fill="#f2f2f2" stroke="#9a9a9a" stroke-width="0.5"/>
<text x="618" y="866.6" font-size="8.6" text-anchor="start" fill="#1a1a1a">YAP</text>
<path d="M632.5,863 C635.5,865.5 638,867 641,869" fill="none" stroke="#1a1a1a" stroke-width="1.4"/>
<path d="M636.3,869.8 L641.3,869.5 L641.2,864.3" fill="none" stroke="#1a1a1a" stroke-width="1.4" stroke-linejoin="round"/>
<path d="M643.8,892 L645.3,900" fill="none" stroke="#1a1a1a" stroke-width="1.4"/>
<path d="M641,896 L645.3,900.3 L650,896.5" fill="none" stroke="#1a1a1a" stroke-width="1.4" stroke-linejoin="round"/>
<text x="643.5" y="906.2" font-size="8.8" text-anchor="middle" fill="#222">Proliferation</text>
<text x="646" y="921.2" font-size="8.6" text-anchor="middle" fill="#222">Epidermal stem cell</text></svg></body></html>
